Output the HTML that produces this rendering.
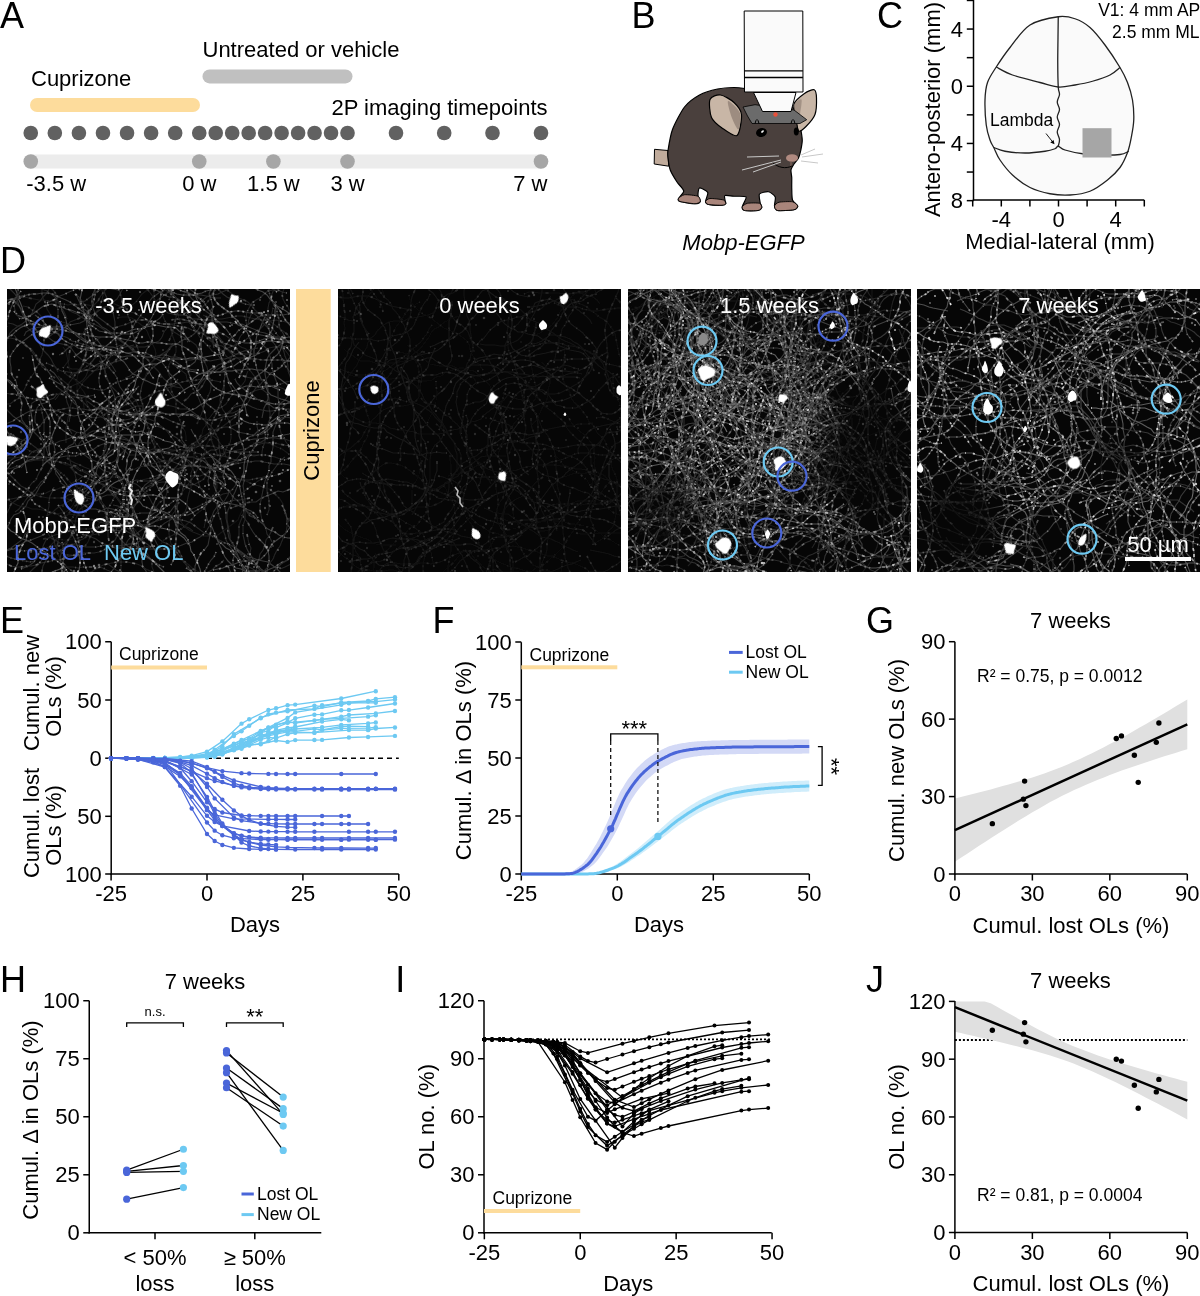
<!DOCTYPE html>
<html><head><meta charset="utf-8"><style>
html,body{margin:0;padding:0;background:#fff;width:1200px;height:1296px;overflow:hidden}
svg{display:block;font-family:"Liberation Sans", sans-serif;will-change:transform}
</style></head><body>
<svg width="1200" height="1296" viewBox="0 0 1200 1296">
<text x="0.00" y="27.90" font-size="36" text-anchor="start" fill="#000" >A</text>
<rect x="202.5" y="69.4" width="150" height="14" rx="7" fill="#c0c0c0"/>
<text x="202.50" y="57.30" font-size="22" text-anchor="start" fill="#000" >Untreated or vehicle</text>
<text x="31.00" y="86.30" font-size="22" text-anchor="start" fill="#000" >Cuprizone</text>
<rect x="30" y="98" width="170" height="14" rx="7" fill="#fddc9c"/>
<text x="547.50" y="115.00" font-size="22" text-anchor="end" fill="#000" >2P imaging timepoints</text>
<circle cx="30.76" cy="133.00" r="7.3" fill="#616161" />
<circle cx="54.83" cy="133.00" r="7.3" fill="#616161" />
<circle cx="78.90" cy="133.00" r="7.3" fill="#616161" />
<circle cx="102.97" cy="133.00" r="7.3" fill="#616161" />
<circle cx="127.04" cy="133.00" r="7.3" fill="#616161" />
<circle cx="151.11" cy="133.00" r="7.3" fill="#616161" />
<circle cx="175.18" cy="133.00" r="7.3" fill="#616161" />
<circle cx="199.25" cy="133.00" r="7.3" fill="#616161" />
<circle cx="215.72" cy="133.00" r="7.3" fill="#616161" />
<circle cx="232.20" cy="133.00" r="7.3" fill="#616161" />
<circle cx="248.67" cy="133.00" r="7.3" fill="#616161" />
<circle cx="265.14" cy="133.00" r="7.3" fill="#616161" />
<circle cx="281.62" cy="133.00" r="7.3" fill="#616161" />
<circle cx="298.09" cy="133.00" r="7.3" fill="#616161" />
<circle cx="314.56" cy="133.00" r="7.3" fill="#616161" />
<circle cx="331.04" cy="133.00" r="7.3" fill="#616161" />
<circle cx="347.51" cy="133.00" r="7.3" fill="#616161" />
<circle cx="396.00" cy="133.00" r="7.3" fill="#616161" />
<circle cx="444.20" cy="133.00" r="7.3" fill="#616161" />
<circle cx="492.50" cy="133.00" r="7.3" fill="#616161" />
<circle cx="541.00" cy="133.00" r="7.3" fill="#616161" />
<rect x="30.76" y="154.5" width="510.24" height="14" fill="#ececec"/>
<circle cx="30.76" cy="161.50" r="7.3" fill="#a6a6a6" />
<circle cx="199.25" cy="161.50" r="7.3" fill="#a6a6a6" />
<circle cx="273.38" cy="161.50" r="7.3" fill="#a6a6a6" />
<circle cx="347.51" cy="161.50" r="7.3" fill="#a6a6a6" />
<circle cx="541.00" cy="161.50" r="7.3" fill="#a6a6a6" />
<text x="26.30" y="191.30" font-size="22" text-anchor="start" fill="#000" >-3.5 w</text>
<text x="199.25" y="191.30" font-size="22" text-anchor="middle" fill="#000" >0 w</text>
<text x="273.38" y="191.30" font-size="22" text-anchor="middle" fill="#000" >1.5 w</text>
<text x="347.51" y="191.30" font-size="22" text-anchor="middle" fill="#000" >3 w</text>
<text x="547.50" y="191.30" font-size="22" text-anchor="end" fill="#000" >7 w</text>
<text x="631.50" y="27.50" font-size="36" text-anchor="start" fill="#000" >B</text>
<text x="743.5" y="249.5" font-size="22" font-style="italic" text-anchor="middle">Mobp-EGFP</text>
<path d="M668.0,150.5 L654.5,149.3 L654.2,164.0 L668.7,166.2Z" fill="#c0ab9b" stroke="#000" stroke-width="1"/>
<path d="M668.00,150.50 C668.54,147.08 670.52,134.72 672.50,129.50 C674.48,124.28 681.26,111.14 684.50,107.00 C687.74,102.86 695.54,97.16 699.50,95.00 C703.46,92.84 713.36,89.90 717.50,89.00 C721.64,88.10 730.40,87.50 734.00,87.50 C737.60,87.50 743.90,88.46 747.50,89.00 C751.09,89.54 759.49,90.74 763.99,92.00 C768.49,93.26 781.03,96.98 784.99,99.50 C788.95,102.02 795.19,109.94 796.99,113.00 C798.79,116.06 799.36,121.76 799.99,125.00 C800.62,128.24 802.15,136.94 802.24,140.00 C802.33,143.06 801.19,148.34 800.74,150.50 C800.29,152.66 799.30,156.38 798.49,158.00 C797.68,159.62 794.89,162.56 793.99,164.00 C793.09,165.44 791.26,168.38 790.99,170.00 C790.72,171.62 791.65,175.34 791.74,177.50 C791.83,179.66 791.65,185.29 791.74,187.99 C791.83,190.69 791.77,197.83 792.49,199.99 C793.21,202.15 797.56,204.82 797.74,205.99 C797.92,207.16 796.42,209.20 793.99,209.74 C791.56,210.28 779.83,210.94 777.49,210.49 C775.15,210.04 774.76,207.61 774.49,205.99 C774.22,204.37 775.96,198.70 775.24,196.99 C774.52,195.28 770.38,192.10 768.49,191.74 C766.60,191.38 760.48,192.64 759.49,193.99 C758.50,195.34 759.97,201.37 760.24,202.99 C760.51,204.61 762.01,206.59 761.74,207.49 C761.47,208.39 760.06,210.13 757.99,210.49 C755.92,210.85 746.39,210.94 744.50,210.49 C742.61,210.04 742.07,208.36 742.25,206.74 C742.43,205.12 746.99,198.25 746.00,196.99 C745.01,195.73 736.52,196.42 734.00,196.24 C731.48,196.06 726.08,195.04 725.00,195.49 C723.92,195.94 724.91,199.00 725.00,199.99 C725.09,200.98 726.11,203.11 725.75,203.74 C725.39,204.37 724.07,205.15 722.00,205.24 C719.93,205.33 710.48,204.94 708.50,204.49 C706.52,204.04 705.59,202.93 705.50,201.49 C705.41,200.05 708.47,194.11 707.75,192.49 C707.03,190.87 700.67,187.63 699.50,187.99 C698.33,188.35 697.91,193.87 698.00,195.49 C698.09,197.11 700.61,200.50 700.25,201.49 C699.89,202.48 697.43,203.74 695.00,203.74 C692.57,203.74 681.98,202.12 680.00,201.49 C678.02,200.86 678.05,199.75 678.50,198.49 C678.95,197.23 683.93,192.97 683.75,190.99 C683.57,189.01 678.62,184.51 677.00,181.99 C675.38,179.48 671.33,172.88 670.25,170.00 C669.17,167.12 668.27,160.34 668.00,158.00 C667.73,155.66 667.46,153.92 668.00,150.50Z" fill="#4a403d" stroke="#000" stroke-width="1.2"/>
<path d="M797.74,205.99 C797.92,206.95 796.42,209.20 793.99,209.74 C791.56,210.28 779.83,210.94 777.49,210.49 C775.15,210.04 774.31,206.98 774.49,205.99 C774.67,205.00 776.83,202.75 778.99,202.24 C781.15,201.74 790.24,201.34 792.49,201.79 C794.74,202.24 797.56,205.04 797.74,205.99Z" fill="#a9857b" stroke="#000" stroke-width="0.9"/>
<path d="M761.74,207.49 C761.56,208.36 760.06,210.13 757.99,210.49 C755.92,210.85 746.39,210.94 744.50,210.49 C742.61,210.04 741.89,207.61 742.25,206.74 C742.61,205.88 745.43,203.71 747.50,203.29 C749.57,202.88 757.78,202.79 759.49,203.29 C761.20,203.80 761.92,206.63 761.74,207.49Z" fill="#a9857b" stroke="#000" stroke-width="0.9"/>
<path d="M725.75,203.74 C725.57,204.37 724.07,205.15 722.00,205.24 C719.93,205.33 710.48,204.94 708.50,204.49 C706.52,204.04 705.32,202.21 705.50,201.49 C705.68,200.77 707.84,198.67 710.00,198.49 C712.16,198.31 721.61,199.36 723.50,199.99 C725.39,200.62 725.93,203.11 725.75,203.74Z" fill="#a9857b" stroke="#000" stroke-width="0.9"/>
<path d="M700.25,201.49 C699.89,202.39 697.43,203.74 695.00,203.74 C692.57,203.74 681.98,202.12 680.00,201.49 C678.02,200.86 677.96,199.30 678.50,198.49 C679.04,197.68 682.16,195.01 684.50,194.74 C686.84,194.47 696.11,195.43 698.00,196.24 C699.89,197.05 700.61,200.59 700.25,201.49Z" fill="#a9857b" stroke="#000" stroke-width="0.9"/>
<path d="M710.00,99.50 C711.26,96.35 717.14,94.58 720.50,95.00 C723.86,95.42 731.06,99.77 734.00,102.50 C736.94,105.23 741.08,109.88 741.50,114.50 C741.92,119.12 739.73,133.61 737.00,135.50 C734.27,137.39 725.57,130.52 722.00,128.00 C718.43,125.48 713.18,121.49 711.50,117.50 C709.82,113.51 708.74,102.65 710.00,99.50Z" fill="#c8b6a6" stroke="#000" stroke-width="1.2"/>
<path d="M728.00,101.00 C729.15,100.37 738.53,109.01 740.00,113.00 C741.47,116.99 739.65,128.87 738.50,129.50 C737.34,130.13 733.22,121.49 731.75,117.50 C730.28,113.51 726.84,101.63 728.00,101.00Z" fill="#8a7a70" opacity="0.7"/>
<path d="M793.99,104.00 C795.15,100.64 801.66,95.49 804.49,93.50 C807.33,91.50 812.56,89.12 814.24,89.75 C815.92,90.38 816.39,94.53 816.49,98.00 C816.60,101.46 816.46,110.51 814.99,114.50 C813.52,118.49 808.30,124.19 805.99,126.50 C803.68,128.81 799.86,132.26 798.49,131.00 C797.13,129.74 796.87,121.28 796.24,117.50 C795.61,113.72 792.84,107.36 793.99,104.00Z" fill="#c8b6a6" stroke="#000" stroke-width="1.2"/>
<path d="M793.99,105.50 C794.52,101.93 800.65,98.24 801.49,99.50 C802.33,100.76 800.52,110.93 799.99,114.50 C799.47,118.07 798.58,126.26 797.74,125.00 C796.90,123.74 793.47,109.07 793.99,105.50Z" fill="#8a7a70" opacity="0.6"/>
<path d="M743.0,107.0 L755.0,104.7 L794.0,110.0 L806.7,119.7 L800.0,123.5 L752.0,123.5 L747.5,116.0Z" fill="#6b6b6b" stroke="#000" stroke-width="0.8"/>
<circle cx="775.50" cy="114.50" r="2.2" fill="#e8503a" />
<path d="M755.0,123.5 q2,-8 4,0 M791.0,123.5 q2,-8 4,0" stroke="#000" stroke-width="1" fill="none"/>
<ellipse cx="761.5" cy="132.5" rx="5.5" ry="4.5" fill="#000" transform="rotate(-15 761.5 132.5)"/>
<ellipse cx="762.5" cy="131.5" rx="1.6" ry="0.9" fill="#fff" transform="rotate(-40 762.5 131.5)"/>
<ellipse cx="796.3" cy="131.5" rx="2.5" ry="4" fill="#000"/>
<ellipse cx="792" cy="158" rx="6" ry="3.8" fill="#b08a80"/>
<line x1="791.00" y1="161.00" x2="791.00" y2="167.00" stroke="#8a6a60" stroke-width="1" />
<path d="M772,162 C778,168 786,169 792,166" stroke="#000" stroke-width="1" fill="none"/>
<line x1="747.00" y1="157.00" x2="779.00" y2="156.00" stroke="#c8c8c8" stroke-width="1" />
<line x1="742.00" y1="170.00" x2="781.00" y2="160.00" stroke="#c8c8c8" stroke-width="1" />
<line x1="753.00" y1="172.00" x2="781.00" y2="162.00" stroke="#c8c8c8" stroke-width="1" />
<line x1="801.00" y1="155.00" x2="815.00" y2="149.00" stroke="#c8c8c8" stroke-width="1" />
<line x1="802.00" y1="157.00" x2="823.00" y2="154.00" stroke="#c8c8c8" stroke-width="1" />
<line x1="801.00" y1="161.00" x2="818.00" y2="163.00" stroke="#c8c8c8" stroke-width="1" />
<path d="M753.5,92.5 L796,92.5 L791,111.5 L762.5,111.5 Z" fill="#fafafa" stroke="#000" stroke-width="1"/>
<path d="M744.2,11 L802.8,11 L803,92 L744.5,92 Z" fill="#fafafa" stroke="#000" stroke-width="1"/>
<line x1="744.30" y1="70.80" x2="802.90" y2="70.80" stroke="#000" stroke-width="1.3" />
<line x1="744.30" y1="77.50" x2="802.90" y2="77.50" stroke="#000" stroke-width="1.3" />
<text x="877.00" y="27.90" font-size="36" text-anchor="start" fill="#000" >C</text>
<path d="M1058.25,16.75 C1050.75,17.79 1038.04,19.88 1030.00,25.00 C1021.96,30.12 1015.62,40.50 1010.00,47.50 C1004.38,54.50 1000.00,61.17 996.25,67.00 C992.50,72.83 989.38,77.00 987.50,82.50 C985.62,88.00 985.21,92.92 985.00,100.00 C984.79,107.08 985.42,118.33 986.25,125.00 C987.08,131.67 988.75,136.25 990.00,140.00 C991.25,143.75 992.08,144.17 993.75,147.50 C995.42,150.83 996.88,155.42 1000.00,160.00 C1003.12,164.58 1007.50,170.42 1012.50,175.00 C1017.50,179.58 1023.75,184.38 1030.00,187.50 C1036.25,190.62 1043.33,192.50 1050.00,193.75 C1056.67,195.00 1063.33,195.42 1070.00,195.00 C1076.67,194.58 1083.75,193.75 1090.00,191.25 C1096.25,188.75 1102.50,183.96 1107.50,180.00 C1112.50,176.04 1116.67,172.08 1120.00,167.50 C1123.33,162.92 1125.62,157.50 1127.50,152.50 C1129.38,147.50 1130.21,142.92 1131.25,137.50 C1132.29,132.08 1133.54,126.25 1133.75,120.00 C1133.96,113.75 1133.54,106.25 1132.50,100.00 C1131.46,93.75 1129.58,87.92 1127.50,82.50 C1125.42,77.08 1123.75,73.75 1120.00,67.50 C1116.25,61.25 1110.00,51.67 1105.00,45.00 C1100.00,38.33 1095.00,31.88 1090.00,27.50 C1085.00,23.12 1080.29,20.54 1075.00,18.75 C1069.71,16.96 1065.75,15.71 1058.25,16.75Z" fill="#fafafa" stroke="#222" stroke-width="1.3"/>
<path d="M996.25,67.00 C998.96,68.33 1005.21,72.42 1012.50,75.00 C1019.79,77.58 1032.38,80.50 1040.00,82.50 C1047.62,84.50 1052.42,86.58 1058.25,87.00 C1064.08,87.42 1069.29,85.96 1075.00,85.00 C1080.71,84.04 1086.67,82.92 1092.50,81.25 C1098.33,79.58 1105.42,77.29 1110.00,75.00 C1114.58,72.71 1118.33,68.75 1120.00,67.50" fill="none" stroke="#222" stroke-width="1.3"/>
<path d="M993.75,147.50 C995.62,148.12 999.79,150.33 1005.00,151.25 C1010.21,152.17 1018.33,153.00 1025.00,153.00 C1031.67,153.00 1040.00,151.96 1045.00,151.25 C1050.00,150.54 1052.79,149.58 1055.00,148.75 C1057.21,147.92 1056.58,146.04 1058.25,146.25 C1059.92,146.46 1060.96,148.75 1065.00,150.00 C1069.04,151.25 1076.67,152.92 1082.50,153.75 C1088.33,154.58 1093.75,154.88 1100.00,155.00 C1106.25,155.12 1115.21,155.12 1120.00,154.50 C1124.79,153.88 1127.29,151.79 1128.75,151.25" fill="none" stroke="#222" stroke-width="1.3"/>
<path d="M1058.25,16.75 C1058.21,20.21 1058.08,29.88 1058.00,37.50 C1057.92,45.12 1057.71,54.25 1057.75,62.50 C1057.79,70.75 1057.96,81.67 1058.25,87.00 C1058.54,92.33 1059.67,92.00 1059.50,94.50 C1059.33,97.00 1057.25,99.50 1057.25,102.00 C1057.25,104.50 1059.50,107.00 1059.50,109.50 C1059.50,112.00 1057.25,114.50 1057.25,117.00 C1057.25,119.50 1059.50,122.00 1059.50,124.50 C1059.50,127.00 1057.25,129.50 1057.25,132.00 C1057.25,134.50 1059.33,137.12 1059.50,139.50 C1059.67,141.88 1058.46,145.12 1058.25,146.25" fill="none" stroke="#222" stroke-width="1.3"/>
<rect x="1082.5" y="128.2" width="29" height="29.3" fill="#a6a6a6"/>
<text x="990.00" y="126.00" font-size="17.5" text-anchor="start" fill="#000" >Lambda</text>
<line x1="1046.00" y1="133.50" x2="1053.50" y2="143.00" stroke="#000" stroke-width="0.9" />
<path d="M1054.5,144.2 L1050.3,142.6 L1053.6,140 Z" fill="#000"/>
<line x1="973.50" y1="0.00" x2="973.50" y2="200.60" stroke="#000" stroke-width="1.5" />
<line x1="972.75" y1="200.00" x2="1144.30" y2="200.00" stroke="#000" stroke-width="1.5" />
<line x1="966.80" y1="0.45" x2="973.50" y2="0.45" stroke="#000" stroke-width="1.5" />
<line x1="966.80" y1="29.05" x2="973.50" y2="29.05" stroke="#000" stroke-width="1.5" />
<line x1="966.80" y1="57.65" x2="973.50" y2="57.65" stroke="#000" stroke-width="1.5" />
<line x1="966.80" y1="86.25" x2="973.50" y2="86.25" stroke="#000" stroke-width="1.5" />
<line x1="966.80" y1="114.85" x2="973.50" y2="114.85" stroke="#000" stroke-width="1.5" />
<line x1="966.80" y1="143.45" x2="973.50" y2="143.45" stroke="#000" stroke-width="1.5" />
<line x1="966.80" y1="172.05" x2="973.50" y2="172.05" stroke="#000" stroke-width="1.5" />
<line x1="966.80" y1="200.65" x2="973.50" y2="200.65" stroke="#000" stroke-width="1.5" />
<line x1="972.70" y1="200.00" x2="972.70" y2="206.50" stroke="#000" stroke-width="1.5" />
<line x1="1001.30" y1="200.00" x2="1001.30" y2="206.50" stroke="#000" stroke-width="1.5" />
<line x1="1029.90" y1="200.00" x2="1029.90" y2="206.50" stroke="#000" stroke-width="1.5" />
<line x1="1058.50" y1="200.00" x2="1058.50" y2="206.50" stroke="#000" stroke-width="1.5" />
<line x1="1087.10" y1="200.00" x2="1087.10" y2="206.50" stroke="#000" stroke-width="1.5" />
<line x1="1115.70" y1="200.00" x2="1115.70" y2="206.50" stroke="#000" stroke-width="1.5" />
<line x1="1144.30" y1="200.00" x2="1144.30" y2="206.50" stroke="#000" stroke-width="1.5" />
<text x="963.00" y="36.85" font-size="22" text-anchor="end" fill="#000" >4</text>
<text x="963.00" y="94.05" font-size="22" text-anchor="end" fill="#000" >0</text>
<text x="963.00" y="151.25" font-size="22" text-anchor="end" fill="#000" >4</text>
<text x="963.00" y="208.45" font-size="22" text-anchor="end" fill="#000" >8</text>
<text x="1001.30" y="226.80" font-size="22" text-anchor="middle" fill="#000" >-4</text>
<text x="1058.50" y="226.80" font-size="22" text-anchor="middle" fill="#000" >0</text>
<text x="1115.70" y="226.80" font-size="22" text-anchor="middle" fill="#000" >4</text>
<text x="1060.00" y="248.50" font-size="22" text-anchor="middle" fill="#000" >Medial-lateral (mm)</text>
<text transform="translate(940.20,109.50) rotate(-90)" x="0" y="0" font-size="22" text-anchor="middle" fill="#000">Antero-posterior (mm)</text>
<text x="1200.30" y="16.30" font-size="17.5" text-anchor="end" fill="#000" >V1: 4 mm AP</text>
<text x="1199.60" y="37.50" font-size="17.5" text-anchor="end" fill="#000" >2.5 mm ML</text>
<text x="0.00" y="273.00" font-size="36" text-anchor="start" fill="#000" >D</text>
<rect x="296" y="289" width="34.7" height="283" fill="#fddc9c"/>
<text transform="translate(318.80,430.50) rotate(-90)" x="0" y="0" font-size="22" text-anchor="middle" fill="#000">Cuprizone</text>
<defs><path id="A0" d="M86 32l-3 -4l-5 -2l-4 -2l-5 -1l-5 -2l-5 -1l-4 -2l-5 -1l-5 -2l-5 1l-5 2l-4 3l-4 3l-4 3l-5 1l-4 2"/><path id="A1" d="M42 167l-2 -5l-1 -4l-3 -5l-3 -4l-3 -3l-4 -4l-4 -3l-4 -3l-4 -3l-4 -3l-4 -3l-3 -3l-4 -4l-3 -3l-4 -3l-4 -4l-3 -4l-3 -4l-3 -4l-4 -3l-3 -4l-4 -3l-5 -2l-3 -4l-4 -2l-4 -3l-3 -4l-3 -4l-2 -5l-4 -3l-4 -3l-3 -4l-5 -2l-4 -3l-4 -2"/><path id="A2" d="M209 263l-2 5l-3 3l-3 5l-2 4l-3 5l-3 3l-2 5l-3 3l-3 5l-3 4l-2 4l-3 4l-3 4l-4 4l-3 4l-2 4l-3 4l-4 3l-3 4l-3 4l-4 3l-4 3l-4 3l-4 4l-4 2l-4 4l-3 3l-4 3l-3 4l-3 4l-3 4l-3 4l-4 3l-3 4l-2 5l-1 4l1 5l1 5l-1 5l-1 5l1 5"/><path id="A3" d="M91 1l4 -2l5 -3l4 -3l3 -3l4 -4l5 -2l3 -4l2 -4l1 -5l0 -5l1 -5l1 -5l3 -4l3 -4l2 -5l3 -4l2 -4l1 -5l0 -5l0 -5l-1 -5"/><path id="A4" d="M250 147l4 -3l4 -3l3 -4l3 -4l4 -3l4 -3l5 -1l5 0l5 -1l4 -1l5 -2l4 -3l4 -3l4 -4l4 -3l3 -3l4 -4l4 -2l4 -4l2 -4l-1 -5l0 -5l3 -5l2 -4l2 -5l3 -4l2 -4l4 -4l3 -4l4 -2l5 -2l4 -2l4 -3l4 -4"/><path id="A5" d="M232 89l2 -5l2 -4l2 -5l3 -4l2 -5l1 -4l0 -5l0 -5l-2 -5l-2 -4l-4 -4l-3 -4l-3 -4l-4 -3l-3 -4l-4 -3l-4 -3l-4 -3l-3 -4l-2 -5l1 -4l1 -5l2 -5l3 -4l3 -4l2 -4l1 -5l0 -5l2 -5l1 -5l1 -5l1 -5l-1 -4l-3 -5l-3 -3l-5 -2l-5 -1"/><path id="A6" d="M228 32l3 4l5 2l4 3l4 2l5 2l5 1l5 1l5 1l4 2l5 0l5 1l5 1l5 -2l4 -3l5 -2l3 -4l4 -3l3 -4l2 -4"/><path id="A7" d="M115 108l-2 4l-2 5l-3 4l-2 5l-1 5l0 5l1 4l1 5l1 5l2 5l2 4l0 5l-1 5l-1 5l-3 4l-2 5l-4 3l-5 2l-4 3l-4 3l-4 3l-5 2l-4 2l-5 2l-4 2l-5 1l-4 3"/><path id="A8" d="M-3 229l1 5l2 4l4 4l4 2l4 4l4 2l5 2l4 2l4 3l4 3l5 3l4 3l4 2l4 4l4 3l3 3l3 4l3 5l1 4l2 5"/><path id="A9" d="M288 67l3 4l3 4l4 3l2 5l3 4l3 4l2 4l5 2l4 3l5 2l5 0l5 0l5 -1l4 -1l5 -3l4 -1l5 -3l3 -4l2 -4l1 -5l2 -5l2 -4l2 -5l3 -4l3 -4l5 -2l4 -2l4 -3l5 0l5 -1l5 0"/><path id="A10" d="M120 2l-2 -5l-2 -4l-3 -4l-2 -5l-3 -4l-1 -5l-1 -5l0 -5l0 -5l2 -4l4 -4l3 -4l3 -4l4 -2l5 -2l5 -1l5 -1l5 0l5 -1l4 -2l5 -1l5 0l5 1l5 1l5 2l4 2l5 2l4 2l5 2l4 3l5 2l4 1l5 1l5 0l5 -1l4 -3"/><path id="A11" d="M243 209l-5 1l-5 1l-5 0l-4 1l-5 2l-5 1l-4 3l-3 4l-2 5l-2 4l1 5l0 5l-1 5l-1 5l-1 5l-3 4l-4 4l-2 4l-2 4l-2 5l0 5l0 5l0 5l0 5l1 5l2 4l2 5l3 4l3 4l2 5l4 3l3 4l2 4l3 5l3 3l4 4l5 1l5 1l5 0"/><path id="A12" d="M89 189l-2 -5l-2 -4l0 -5l-1 -5l-2 -5l-2 -4l-2 -5l-2 -4l-2 -5l0 -5l0 -5l2 -5l4 -3l4 -3l4 -3l3 -4l3 -4l4 -3l4 -3l4 -3"/><path id="A13" d="M174 183l-1 5l0 5l-1 5l-1 5l0 5l-1 5l0 5l1 5l0 5l0 5l0 5l-1 5l-1 5l0 5l-1 4l1 5l-1 5l-2 5l-2 4"/><path id="A14" d="M73 1l-3 -4l-2 -5l-3 -4l-3 -4l-5 -2l-3 -4l-2 -4l-4 -3l-5 -2l-5 -1l-4 -1l-5 -1l-5 0l-5 0l-5 0l-5 2l-5 1l-4 4l-3 3l-4 3l-4 3"/><path id="A15" d="M194 22l-3 -4l0 -5l-2 -5l-1 -5l1 -5l-1 -5l-1 -4l-1 -5l0 -5l-1 -5l-1 -5l0 -5l0 -5l0 -5l-1 -5l-3 -4"/><path id="A16" d="M141 165l-3 4l-3 4l-2 5l-3 4l-2 4l-2 5l-1 5l0 5l-1 5l-1 4l-2 5l0 5l0 5l-1 5l1 5l2 4l3 5l0 5l1 5l3 4l3 4l4 3l4 3l4 3l3 3l4 4l3 3l4 4l4 3l4 3l4 2l4 3l4 4l3 4l3 4l4 3l3 3l5 3l5 0l5 -1l4 -1l4 -4l4 -3l4 -2"/><path id="A17" d="M72 84l2 -5l2 -4l3 -4l4 -3l4 -3l3 -4l5 -2l4 -2l4 -3l4 -4l4 -3l4 -2l5 -2l5 -2l4 -1l5 0l5 -2l5 -1l5 -1l5 1l5 1l5 0l5 1l3 3l5 3l3 4l3 4"/><path id="A18" d="M270 3l-4 -3l-4 -3l-4 -3l-5 -2l-4 -2l-5 -1l-5 0l-5 0l-5 -1l-5 -1l-5 -1l-5 -2l-4 -2l-3 -4l-5 -3l-4 -2l-5 -2l-3 -4l-3 -4l-4 -3l-4 -2l-4 -3l-4 -3l-4 -3l-5 -2l-4 -2l-5 -2l-5 0l-5 0l-5 -1l-5 0l-5 -2l-4 -3l-3 -3l-3 -4l-2 -5l-2 -4"/><path id="A19" d="M130 236l5 2l5 0l5 -1l5 0l4 2l5 1l5 1l4 2l5 3l4 3l3 4l3 4l1 5l3 4l2 5l2 4l2 5l1 5l-2 4l-1 5l0 5l-1 5l0 5l0 5"/><path id="A20" d="M255 129l1 -5l1 -5l2 -4l2 -5l0 -5l0 -5l-1 -5l-1 -5l-1 -5l0 -5l1 -5l1 -5l2 -4l4 -4l3 -3l4 -3l4 -3"/><path id="A21" d="M59 154l0 -5l0 -5l0 -5l1 -5l1 -5l1 -5l1 -5l1 -4l2 -5l3 -4l2 -5l3 -4l2 -4l4 -4l3 -3l4 -4l4 -3l3 -4l3 -4"/><path id="A22" d="M57 125l-4 3l-2 5l-2 4l-2 5l-2 5l-1 4l-2 5l0 5l1 5l1 5l1 5l3 4l3 4l3 4l3 4l3 4l3 4l3 4l2 4l3 5l5 2l4 3l4 2l5 0l5 2l5 1l5 0l5 2l4 2l5 1"/><path id="A23" d="M294 194l-4 3l-5 2l-4 2l-5 2l-5 -1l-4 2l-5 2l-5 2l-4 2l-4 3l-5 0l-5 1l-5 2l-5 1l-4 2"/><path id="A24" d="M275 216l2 4l2 5l1 5l0 5l3 4l2 5l2 5l2 4l-1 5l-1 5l-3 4l-3 4l-5 2l-4 2l-4 3l-5 2l-4 2l-4 4l-4 3l-5 1l-4 2l-5 0l-5 -1l-5 0l-5 0l-5 -1l-5 0l-5 0l-5 -1l-5 -1l-5 -1l-4 -2l-4 -3l-5 -3"/><path id="A25" d="M251 229l-3 -4l-4 -3l-5 -2l-4 -2l-5 -2l-5 -1l-5 -1l-5 0l-4 -2l-5 -2l-5 -1l-5 -1l-4 -3l-4 -2l-5 -3l-4 -2l-4 -3l-5 -1l-5 -1l-4 -3l-4 -3l-3 -4l-3 -5l-2 -4l-3 -4l-3 -4l-2 -4l-4 -4l-2 -4l-2 -5l0 -5"/><path id="A26" d="M232 276l5 1l5 1l4 2l4 3l5 2l5 2l3 4l4 3l3 3l5 3l4 2l5 2l5 2l4 1l5 1l5 2l4 2l5 1l5 2l5 2l3 3l3 5l2 4l0 5l2 5l2 4l3 4l2 5l3 4l4 3l5 2l4 2l5 2l5 0"/><path id="A27" d="M242 64l-3 -4l-5 -2l-4 -3l-3 -3l-5 -3l-4 -3l-4 -2l-5 -2l-5 -2l-4 -1l-5 -2l-5 -2l-5 -1l-5 -1l-5 1l-5 0l-4 1l-5 0l-5 0l-5 -1l-5 -1l-5 -1l-4 -3l-5 -2l-4 -3l-5 -1l-4 -3l-4 -2l-5 -2l-5 -2l-4 -2l-5 -1"/><path id="A28" d="M215 63l4 -3l4 -2l5 -2l5 -2l4 -2l4 -3l4 -3l4 -4l4 -2l4 -4l3 -3l3 -4l2 -5l1 -5"/><path id="A29" d="M218 131l1 -5l4 -3l3 -4l5 -2l5 -1l5 0l4 2l5 2l5 1l5 1l5 0l5 -1l4 -1l4 -4l4 -3l4 -3l4 -2l5 -2l4 -2l5 -1l5 0l5 2l5 2l4 1l5 3l3 3l3 4l2 5l3 4l4 3l2 5l4 3l3 4l3 4l3 4l4 3l4 3l4 3l3 4l2 5"/><path id="A30" d="M232 108l-4 -3l-3 -4l-2 -4l-2 -5l-1 -5l-2 -5l-1 -5l-1 -4l-3 -4l-3 -4l-5 -3l-3 -4l-3 -3l-4 -4l-3 -4l-2 -4l-3 -4l-3 -4l-1 -5l1 -5l-1 -5l0 -5"/><path id="A31" d="M16 222l2 5l1 5l2 4l1 5l-2 5l-1 5l-3 4l-2 4l-2 5l-1 5l0 5l-2 4l-2 5l-2 5l-2 4l-1 5l-1 5l-2 5l0 5l1 5l0 5l1 5l1 4l1 5l1 5l1 5l1 5l1 5l2 5l1 4l1 5l4 4"/><path id="A32" d="M279 57l3 4l3 4l3 4l4 3l4 3l2 4l4 4l4 3l4 3l5 1l5 1l5 0l5 0l5 0l5 -1l5 1l5 0"/><path id="A33" d="M148 257l-5 1l-5 0l-5 1l-5 1l-5 0l-5 -1l-5 0l-5 0l-4 -2l-5 -1l-5 1l-5 1l-5 0l-5 0l-5 -1l-5 -1l-5 0l-5 -1l-5 0l-4 -3l-5 -2l-3 -4l-2 -4l-1 -5l-1 -5l2 -5l1 -5l1 -5l0 -5l1 -5l2 -4l2 -5"/><path id="A34" d="M-8 66l0 -5l-3 -4l-3 -4l-3 -4l-3 -4l-4 -3l-3 -4l-3 -5l0 -4l-3 -5l-2 -4l-4 -3"/><path id="A35" d="M208 182l0 5l-1 5l0 5l2 5l3 4l2 4l3 4l1 5l1 5l0 5l1 5l1 5l0 5l1 5l3 4l2 4l2 5l2 5l2 4l2 5l1 5l-1 5l-1 5l0 5l-1 4l-1 5l0 5l0 5l0 5l1 5l3 4l2 5l3 3l4 4l4 3l5 2l4 3l3 4l2 5"/><path id="A36" d="M289 296l5 -1l5 0l4 -2l5 -3l3 -3l3 -4l3 -4l4 -4l4 -3l2 -4l2 -5l1 -5l1 -5l1 -5l1 -5l3 -4l4 -3l3 -4l4 -3l4 -3l4 -2l5 -2l5 -1l5 -1l5 -1l4 -2l5 -2l5 -1l5 -1l4 -3l5 -1l4 -3l3 -4l3 -4l3 -4l4 -3l4 -3l4 -3l3 -4l3 -4l3 -4"/><path id="A37" d="M175 166l2 -4l4 -4l4 -3l5 -2l4 -2l4 -2l5 -3l4 -2l4 -3l4 -3l4 -3l4 -3l4 -3l4 -3l2 -5l3 -4l1 -5l3 -4l1 -5l2 -5l2 -4l3 -4l4 -4"/><path id="A38" d="M255 -13l2 -5l1 -5l2 -4l-1 -5l0 -5l0 -5l-1 -5l-1 -4l0 -5l-1 -5l0 -5l0 -5l-4 -4l-4 -3l-4 -3l-5 -2l-4 -1l-5 -2l-4 -3l-5 -2l-4 -2l-4 -3l-3 -4l-4 -3l-3 -4l-5 -3l-4 -1l-5 -2l-4 -2l-5 -3l-4 -2l-4 -3l-4 -3l-5 -2l-4 -2l-3 -4l-4 -4l-3 -3l-4 -4l-3 -4l-4 -3"/><path id="A39" d="M156 1l-2 4l-1 5l-1 5l-2 5l-3 4l-2 4l-3 5l-3 4l-4 3l-3 3l-2 5l-3 4"/><path id="A40" d="M258 28l-2 4l-2 5l-2 5l-2 4l-1 5l0 5l-2 5l0 5l1 5l1 5l1 5l2 4l2 5l4 3l1 5l2 5l3 3l5 2l5 2l4 1l5 2l5 0l5 1l5 2l4 3l4 2l5 2l5 2"/><path id="A41" d="M254 53l3 4l4 4l1 4l2 5l1 5l0 5l2 4l1 5l2 5l1 5l0 5l0 5l1 5l0 5l0 5l-1 5l-1 4l-2 5l-2 5l0 5l0 5l0 5l-1 5l-1 5l0 5l-2 4l0 5l-2 5l-2 5l-1 4l-1 5l-1 5l-1 5l-1 5l0 5l1 5l1 5l2 4l2 5l1 5l3 4l2 4"/><path id="A42" d="M173 82l-4 3l-4 3l-4 3l-2 5l-2 4l-1 5l-2 5l-2 4l-1 5l-1 5l-2 5l0 5l-2 4l-2 5l-2 4l-1 5l0 5l1 5l-1 5l2 5l2 5l4 3l4 3l3 3l5 2l5 0l5 2"/><path id="A43" d="M233 129l4 3l5 2l5 1l5 0l4 1l5 0l5 -1l5 -1l5 0l5 0l5 2l4 2l5 2l4 4l4 2l4 3l4 3l3 4l3 4l3 4l1 5l0 5l0 5l1 5l1 5l2 5l1 5l2 4l-2 5l-2 4l-4 4l-2 5l-2 4l-2 5"/><path id="A44" d="M48 42l4 3l4 2l5 2l4 3l5 1l5 2l5 1l4 3l4 2l4 3l4 3l4 3l3 4l3 4l3 5"/><path id="A45" d="M280 4l-5 -1l-4 -2l-5 0l-5 1l-4 3l-4 4l-4 2l-4 3l-3 5l-2 4l-1 5l0 5l1 5"/><path id="A46" d="M60 30l-2 -5l-2 -4l-3 -4l-2 -5l-3 -4l-4 -3l-4 -3l-5 -2l-5 -1l-4 -2l-5 -2l-4 -1"/><path id="A47" d="M86 58l3 4l3 4l2 4l1 5l2 5l2 5l1 4l2 5l2 5l2 4l2 5l0 5l1 5l0 5l1 5l1 5l0 4l1 5l1 5l0 5l-1 5l0 5l0 5l-1 5l-1 5l-2 5l-2 4l-3 4l-5 2l-5 1l-5 1l-4 1l-5 2l-5 -1l-5 -2"/><path id="A48" d="M-10 238l-1 5l-2 4l-3 5l-2 4l-2 5l-3 4l-2 4l-2 5l-3 4l-5 2l-4 3l-4 4l-4 2l-5 2l-5 0l-4 2l-5 2l-3 4l-4 3l-4 3"/><path id="A49" d="M248 272l-5 -2l-4 -3l-4 -2l-4 -3l-3 -4l-5 -2l-5 -2l-4 -2l-4 -2l-5 -3l-4 -2l-5 -2l-4 -3l-4 -3l-4 -3l-5 -2l-4 -1l-5 -1l-5 -1l-5 0l-5 1l-5 2l-4 1l-5 3l-4 3l-4 3l-4 3l-4 2l-4 4l-2 4l-3 4l-1 5l-1 5l-3 4"/><path id="A50" d="M216 67l1 -5l1 -5l3 -4l3 -4l4 -3l3 -4l4 -3l4 -2l4 -3l4 -3l5 -3l4 -2l5 0l5 0l5 0l5 0l5 -1l5 -2l5 -1l5 1l4 1l5 2l5 -1l5 1l5 -1l5 0l5 1l5 0l5 1l5 0l5 1l5 1l4 3l4 3l3 3l4 4l4 3l3 3l5 1l5 1l5 2"/><path id="A51" d="M143 -8l3 4l4 2l5 2l5 -1l5 2l5 -1l5 2l5 1l4 2l5 2l4 3l4 3l2 4l3 4l4 4l2 5l4 3l3 3l4 4l3 4l3 4l3 4l5 1l5 1l5 0l5 -1l4 -1l5 -2l5 -1l5 -1l5 0l5 1l5 -1l5 0l5 1l5 0l5 -1"/><path id="A52" d="M177 132l-2 5l-1 4l0 5l1 5l3 4l2 5l1 5l-2 5l-1 4l-1 5l-2 5l-3 4l-3 4l-3 3l-4 3l-5 3l-3 3l-4 4l-2 4l-2 5l-2 4l-2 5l-1 5l-1 5l-1 5l-2 4l-2 5"/><path id="A53" d="M231 207l4 -3l4 -3l4 -3l4 -3l4 -3l4 -2l5 -1l5 -2l5 -1l5 -2l4 -2l4 -2l5 -2l4 -3l4 -3l5 -2l4 -3l4 -2l4 -3l3 -4"/><path id="A54" d="M236 121l-4 2l-4 3l-5 2l-5 -1l-5 2l-5 2l-5 0l-5 -1l-5 0l-4 -1l-5 -3l-5 0l-5 0l-5 -1l-5 1l-5 -1l-5 -2l-5 1l-5 0l-5 0l-5 0l-5 1l-4 1l-5 -1l-5 0l-5 -1"/><path id="A55" d="M123 181l5 -1l4 -2l5 -1l5 -1l5 -2l5 -1l5 -1l5 0l5 -1l4 -2l4 -3l5 -1l4 -4l3 -3l3 -4l2 -5l3 -4l1 -5l3 -4l2 -5l3 -4l3 -4l4 -3l4 -2l4 -3l3 -5l3 -4l3 -4l4 -3l3 -3l3 -4l1 -5l2 -5"/><path id="A56" d="M297 165l-5 2l-4 1l-5 1l-5 2l-5 -1l-5 -2l-5 -1l-4 -1l-5 0l-5 0l-5 0l-5 2l-5 2l-4 3l-4 2l-5 2l-5 0l-5 0l-5 -2"/><path id="A57" d="M123 179l-1 5l-1 5l-1 5l-2 4l-1 5l-1 5l0 5l-1 5l-2 5l0 5l-1 4l-2 5l-1 5l0 5"/><path id="A58" d="M104 -13l4 -4l2 -4l3 -4l2 -4l2 -5l4 -3l4 -3l4 -3l4 -3l5 -2l5 -2l4 -2l5 -1l5 -2l4 -3l4 -2l5 -1l5 0l5 0l5 1l5 0l5 -2l5 -1l5 -1l4 -2l5 -2l4 -2l4 -3l5 -1l5 -1l5 1l5 1l5 0l5 0l5 0l5 0l5 -1"/><path id="A59" d="M258 23l-5 1l-5 0l-5 0l-5 -1l-5 -1l-5 0l-5 1l-4 1l-5 2l-5 1l-5 -1l-4 -3l-4 -3l-3 -4l-4 -3l-4 -3l-3 -4l-2 -5l-2 -4l-1 -5l-3 -5l-3 -3l-2 -5l-4 -4l-3 -4l-4 -3l-4 -1l-5 -3l-4 -2"/><path id="A60" d="M269 16l-1 5l0 5l-1 5l-1 5l-1 5l-2 4l-3 4l-2 5l-3 4l-3 4l-3 4l-5 2l-4 1l-5 3l-4 2l-4 3l-5 1l-5 2l-4 3l-5 0l-5 1l-5 0l-5 1l-5 -2l-5 -1l-4 -2l-5 -2l-5 -2l-4 -2"/><path id="A61" d="M73 13l5 -1l4 -3l4 -3l4 -3l4 -3l2 -4l3 -5l2 -4l4 -4l4 -2l3 -4l3 -4l2 -5l4 -3l4 -3l3 -5l2 -4l4 -3l4 -3l4 -3l5 -2l5 -1l4 -2l5 -2l4 -2l5 -2l4 -3l4 -3l3 -4l2 -4l2 -5l3 -4l3 -4l4 -3l4 -3l4 -2l4 -4l4 -3l2 -5"/><path id="A62" d="M245 21l-1 5l-2 4l-1 5l-2 5l-3 4l-3 4l-2 5l-2 4l-2 5l-2 5l-2 4l-4 3l-4 4l-4 2l-4 3l-5 2l-3 3l-4 4l-3 4l-2 4l0 5l2 5l2 5l2 4l2 5l1 5l0 5l2 4l2 5l3 4l4 3l3 4l3 4l1 5l2 5"/><path id="A63" d="M178 104l-2 -4l-3 -4l-4 -4l-3 -4l-3 -3l-3 -5l-3 -4l-3 -4l-4 -2l-5 -2l-5 0l-5 -1l-5 0l-5 0l-5 0l-5 1l-5 -1l-4 -2l-5 -2l-4 -3l-3 -4l-3 -4l-4 -4l-2 -4l-2 -5l-2 -4l0 -5l1 -5l2 -5l2 -4l1 -5l1 -5l0 -5l1 -5"/><path id="A64" d="M124 161l-2 5l-2 4l0 5l-1 5l1 5l1 5l1 5l0 5l1 5l0 5l1 5l2 4l2 5l2 5l2 4l3 4l4 3l3 4l2 5l0 5l2 4l3 5l2 4l2 5"/><path id="A65" d="M151 162l-5 1l-5 0l-5 -2l-4 -2l-4 -3l-4 -3l-4 -3l-4 -2l-5 -1l-5 -1l-5 -2l-5 -1l-5 -1l-5 0l-4 2l-4 3l-3 4l-3 4l-1 5"/><path id="A66" d="M108 39l5 -2l4 -1l5 -2l5 -2l4 -1l5 0l5 1l5 0l5 2l5 1l5 0l5 1l5 1l5 1l5 1l4 2l5 1l5 2l4 3l4 2l3 4l4 3l5 1l5 3l4 2l4 3l5 0l5 0l5 0l5 0l5 -1l5 -2l4 -3l5 -1l5 0l5 0l5 -1l5 0l4 1l5 1l5 0l5 1"/><path id="A67" d="M154 201l3 -4l2 -4l4 -4l3 -3l5 -2l4 -3l4 -3l5 -3l4 -1l4 -3l4 -4l3 -3l5 -3l5 0l4 -3l5 -1l5 -1l5 -1l4 -2l5 -2l5 0l5 -1l5 0l5 -1l5 0l5 -1l5 -1l5 -1l5 -1l4 -2l5 -2l4 -2l5 -2l5 -1l5 -1l5 -1l5 0l5 1l4 1l5 2"/><path id="A68" d="M268 15l3 4l3 4l2 4l3 5l3 3l3 4l4 4l4 3l2 4l3 4l4 4l4 2l5 2l4 1l5 1l5 1l5 2l5 0l4 3l5 2l5 2l4 1l5 3l4 1l5 3l3 4l3 3l4 3l4 3l5 3l4 2l5 2l4 2l5 2l4 3l4 2l5 2l5 2l5 1"/><path id="A69" d="M289 201l-2 -5l0 -5l1 -5l0 -5l-1 -4l-1 -5l-1 -5l-2 -5l-1 -5l-3 -4l-2 -4l-3 -5l-1 -4l-1 -5l0 -5l0 -5"/><path id="A70" d="M153 259l-3 -4l-2 -4l-3 -5l-3 -4l-4 -2l-4 -4l-4 -3l-3 -3l-4 -4l-4 -3l-4 -3l-4 -3l-5 -1"/><path id="A71" d="M207 246l3 4l2 5l2 4l2 5l2 4l3 4l4 4l4 3l5 1l4 2l5 0l5 0l5 0"/><path id="A72" d="M72 149l5 -2l5 -1l5 1l4 2l5 2l4 2l5 1l5 0l5 3l4 2l5 2l4 1l5 1l5 1l5 0l5 0l5 -2l4 -2l5 -1l5 -3"/><path id="A73" d="M184 93l3 -4l4 -3l4 -2l5 -1l5 -1l5 1l5 0l5 -1l5 0l5 -1l5 0l5 -1l5 0l5 1l5 0l5 2l4 2l5 2l4 3l4 3l4 3l4 3l2 5l4 2l4 3l5 3l4 2l4 3l4 3l4 3l4 3l4 3l4 3l2 5l1 5l2 4l1 5l3 4l4 3l4 4l3 3"/><path id="A74" d="M215 -1l3 -4l3 -4l3 -4l4 -3l4 -3l4 -4l3 -3l5 -2l4 -3l4 -3l4 -3l4 -2l5 -1l5 0l5 0l5 2l5 1l4 3l5 1l4 2l5 2l4 3l5 2l4 2l4 3l4 3l3 4l3 4l3 4l2 5l2 4l2 5l1 5l3 4l2 5l3 4l2 4l2 5l3 4l3 4"/><path id="A75" d="M205 -10l-1 5l0 5l-2 5l2 5l1 4l1 5l-1 5l0 5l0 5l-1 5l1 5l1 5l0 5l1 5"/><path id="A76" d="M-13 175l4 -4l4 -2l5 -2l4 -2l4 -3l4 -3l4 -3l4 -3l3 -4l2 -5l1 -5l-1 -5l0 -5l-1 -5l-1 -5l-2 -4l-2 -5l-3 -4l-3 -4l-3 -3l-4 -4l-3 -3l-5 -3l-4 -3l-4 -2l-3 -5l-2 -4l-2 -5"/><path id="A77" d="M94 170l-4 -4l-3 -4l-3 -3l-2 -5l-3 -4l-1 -5l-1 -5l-2 -4l-2 -5l-2 -5l0 -5l-1 -4l-2 -5l-4 -4l-3 -3l-3 -4l-2 -5l-3 -4l-3 -4l-3 -4l-4 -3"/><path id="A78" d="M20 184l-1 -5l-1 -5l-1 -5l-2 -4l-3 -4l-2 -5l-4 -3l-2 -5l-3 -4l-2 -4l-2 -5l-1 -5l0 -5l0 -5l0 -5l-1 -5l-1 -5l0 -5l-1 -5l0 -5l-1 -4l-3 -4l-3 -5"/><path id="A79" d="M208 77l-4 3l-4 3l-3 3l-3 5l-3 4l-5 1l-4 2l-5 3l-4 3l-3 3l-5 2l-5 2l-4 2l-5 1l-4 3l-4 3l-4 3l-4 3l-3 4l-3 4l-2 5l-2 4l-1 5l-2 5l-2 4l-2 5l-1 4l-2 5"/><path id="A80" d="M88 106l-5 1l-5 1l-5 1l-5 -1l-5 -1l-5 -1l-4 -1l-5 0l-5 1l-5 2l-5 1l-4 2l-5 3l-1 5l-1 5l-1 5l1 5"/><path id="A81" d="M12 105l-3 -4l-3 -4l-4 -4l-3 -3l-3 -4l-2 -5l-3 -3l-4 -4l-3 -4l-3 -4l-2 -4l-2 -5l-3 -4l-3 -4l-4 -3l-4 -3l-3 -4l-3 -4l-2 -4l-1 -5l-2 -5l-2 -4l-2 -5l-2 -4l-2 -5l-2 -4l-2 -5l-2 -5l-2 -4l-3 -4l-4 -3"/><path id="A82" d="M254 24l4 3l3 4l2 4l3 5l3 4l3 4l1 5l2 4l3 4l3 4l3 4l3 4l5 2l4 2l5 2l5 2"/><path id="A83" d="M27 35l-5 0l-5 2l-4 2l-4 3l-4 4l-4 2l-4 4l-3 3l-5 2l-4 3l-4 2l-5 0l-5 0l-5 0l-5 -1l-5 -1l-5 -2l-5 -1l-5 -1l-4 -2l-5 -1l-5 -3l-3 -3l-4 -3l-4 -3l-5 -2"/><path id="A84" d="M137 255l-3 -4l-4 -4l-4 -2l-3 -4l-4 -3l-5 -2l-3 -4l-4 -3l-3 -4l-3 -4l-3 -4l-3 -4l-2 -5l-3 -4l-2 -4l-2 -5l-2 -5"/><path id="A85" d="M232 171l-5 1l-5 2l-4 1l-5 2l-5 2l-5 0l-4 -1l-5 -1l-5 0l-5 0l-5 0l-5 -1l-5 -2l-5 -2"/><path id="A86" d="M86 62l-5 -1l-5 -1l-5 -1l-4 -3l-5 -2l-4 -2l-4 -3l-3 -4l-4 -2l-5 -3l-3 -4l-3 -4l-4 -3l-4 -3"/><path id="A87" d="M180 19l-4 -3l-4 -3l-3 -4l-3 -4l-4 -3l-3 -4l-3 -4l-4 -3l-5 -1l-4 -2l-4 -3l-5 -2l-5 -1l-5 0l-4 -1l-5 0l-5 0l-5 -2l-4 -3"/><path id="A88" d="M235 226l3 4l3 4l2 4l3 5l3 4l3 3l4 4l3 4l2 4l1 5l0 5l-1 5l-1 5l0 5l0 5l-2 5l-1 4l-2 5l-1 5l-1 5l1 5l1 5l-1 5l-1 5l-1 5l1 5"/><path id="A89" d="M288 231l0 5l-2 5l1 5l1 5l3 4l3 3l4 4l3 3l4 3l5 3l4 1l5 0l5 0l5 0l5 2l5 1l5 0l5 -2l4 -2l4 -4l2 -4l4 -4l2 -4l4 -3l5 -2l4 -2"/><path id="A90" d="M108 131l5 1l5 2l5 0l5 -1l4 -2l5 -1l5 0l5 2l4 3l4 3l4 3l3 4l3 4l3 4l0 5l3 5l3 3l4 3l3 4l3 4l3 5l2 4l2 5l1 4l2 5l3 5l2 4l1 5l-2 5l1 5l0 5l-1 5l-1 5"/><path id="A91" d="M115 146l-2 4l-2 5l-1 5l1 5l-1 5l0 5l2 5l3 4l2 4l3 5l2 4l1 5l3 4l3 4l4 3l3 4l5 2l4 2l5 0l5 1l5 2l4 3l3 4l2 5l2 4l3 4l4 3l3 4l2 5"/><path id="A92" d="M291 188l2 -5l0 -5l1 -5l0 -5l2 -4l1 -5l1 -5l-1 -5l-2 -4l-2 -5l0 -5l0 -5l1 -5l-2 -5l-2 -5l0 -5l-2 -4l-1 -5l-1 -5l-2 -5l-1 -4l-2 -5l0 -5l-1 -5l-2 -5l-1 -4l-2 -5l-2 -5l-3 -4l-4 -3l-3 -4l-3 -4l-3 -3l-3 -4l-4 -4l-4 -3"/><path id="A93" d="M-1 72l-5 -1l-5 0l-5 1l-5 -1l-5 0l-5 1l-5 1l-4 1l-5 2l-5 1l-5 1l-4 3l-4 3l-5 2l-4 2l-5 1l-5 0l-5 -1l-5 0l-5 1l-4 2l-5 2l-5 1l-5 0l-5 2l-3 4l-3 4l-1 5l-2 4l-1 5l-2 5l-2 4l-1 5l-2 5l-2 4l-2 5l-2 4l-4 4"/><path id="A94" d="M6 -14l-5 -2l-5 -1l-5 0l-4 -2l-5 0l-5 0l-5 1l-5 1l-4 3l-3 4l-3 4l-3 4l-3 4l-3 4l-2 5l-2 4l-2 5l-1 5l0 5l1 5l1 4l1 5l0 5l-1 5l1 5l0 5l0 5"/><path id="A95" d="M23 284l1 5l2 5l1 4l2 5l2 4l2 5l3 5l2 4l2 4l2 5l1 5l2 5l1 5l1 4l2 5l1 5l3 4l1 5l3 4l3 4l3 4l3 4l3 4l4 3l4 3l4 4l2 4l3 4l4 3l5 2l4 3l4 2l5 2l3 3l5 2l5 2l5 0l4 -1l5 1l5 2l4 3"/><path id="A96" d="M20 37l-1 -5l-1 -5l-2 -5l-1 -4l-2 -5l-2 -4l-1 -5l-2 -5l-4 -3l-4 -3l-5 -1l-4 -2l-5 -2l-5 -2l-5 -1l-5 -1"/><path id="A97" d="M183 295l-2 5l0 5l0 5l0 5l1 5l1 4l3 4l2 5l2 5l1 4l2 5l1 5l2 5l1 4"/><path id="A98" d="M251 150l-1 5l-3 4l-3 4l-2 4l-1 5l-1 5l-1 5l-2 5l0 5l-1 5l1 5l0 5l1 5l0 5l-1 4l-1 5l-2 5l-2 5l0 5l0 5l-1 5l-1 4l-1 5l-1 5l-2 5l0 5l1 5l2 4l3 5l2 4l1 5l1 5l1 5l0 5l-1 5l-1 5"/><path id="A99" d="M38 189l3 -4l2 -4l3 -4l3 -5l3 -4l3 -3l3 -4l4 -4l4 -2l3 -5l4 -3l3 -3l4 -3l4 -4l3 -4l2 -4l2 -5l4 -3l4 -3l4 -3l4 -3l3 -4l5 -1l5 -3l4 -2l5 -2l3 -3"/><path id="A100" d="M36 145l4 3l4 3l3 4l5 2l3 4l5 2l5 1l5 0l5 1l5 0l5 1l4 1l5 1l5 2l4 4l3 3l2 5l2 4l2 5l3 4l1 5l1 5l0 5l0 5l-2 4l-4 4l-3 4l-3 4l-4 3l-4 3l-5 1l-4 3l-4 2l-5 2l-4 3l-5 1"/><path id="A101" d="M199 225l1 5l2 4l3 4l2 5l2 4l2 5l4 3l4 4l4 2l3 4l4 4l2 4l4 4l3 3l4 4l3 4l3 4l4 3l4 3l4 3l4 3l4 3l4 3l4 1l5 2l5 0l5 -2l5 -1l3 -4l5 -1l4 -3l5 -2l5 -2l4 -2l5 -1l5 -2"/><path id="A102" d="M-4 251l-4 3l-5 2l-5 1l-5 1l-4 2l-4 2l-4 4l-2 4l-2 5l-2 5l-2 4l0 5l0 5l-1 5l-1 5l-3 4l-3 4l-4 3l-3 4l-1 5l-2 4l-3 5l-2 4l-1 5l-1 5l0 5l0 5l-1 5l-3 4l-3 4l-3 4l-4 3l-4 2"/><path id="A103" d="M-10 98l3 4l5 2l5 1l5 0l4 2l5 1l5 1l5 1l5 0l5 1l4 2l3 4l2 4l3 4l4 4l3 3l4 4l2 4l3 5"/><path id="A104" d="M230 192l-2 5l-3 4l-4 3l-5 1l-4 2l-5 2l-4 2l-5 3l-4 2l-4 2l-5 2l-4 3l-5 2l-5 2l-4 2l-4 2l-5 3l-4 3l-3 4l-4 3l-4 2l-5 3l-4 2l-4 3l-3 3l-4 3l-5 3l-4 3"/><path id="A105" d="M103 101l-1 5l0 5l0 5l0 5l0 5l0 5l0 5l0 5l-1 5l-2 5l-1 4l-1 5l-1 5l-3 4l-2 5l-3 4l-2 4l-3 4l-2 5l-3 4l-1 5l-2 5l-1 5l-2 4l-2 5l-2 4l-2 5l-3 4l-2 4l-3 5l-3 3l-4 4l-3 4l-3 3l-3 4l-3 5l-2 4l-3 4l-3 4l-4 3l-4 4l-4 2"/><path id="A106" d="M188 227l-3 -4l-3 -4l-3 -4l-4 -3l-4 -3l-5 0l-5 0l-5 0l-5 -2l-4 -1l-5 0l-5 1l-5 0l-5 1l-5 -1l-5 -1l-5 -1l-5 -2l-4 -2l-5 -1"/><path id="A107" d="M102 252l-1 -5l0 -5l-1 -5l0 -5l0 -5l0 -5l2 -4l3 -5l2 -4l3 -4l3 -4l4 -3l3 -3l5 -3l5 -1l5 1l5 0l5 0l5 2l5 -1l4 0l5 -1l5 0l5 2l4 3"/><path id="A108" d="M37 168l-5 0l-5 0l-5 0l-5 -1l-4 3l-5 2l-4 3l-3 4l-4 3l-5 2l-4 2l-5 0l-5 0l-5 0l-5 -1l-5 -2l-4 -2l-5 -2l-4 -2l-4 -3l-5 -1l-5 -1l-5 -1l-5 1l-5 1l-5 2l-4 1l-5 2l-5 2l-4 3l-4 3l-2 5l-4 3l-5 2l-4 2l-3 4l-4 4l-4 3"/><path id="A109" d="M91 223l5 -2l4 -2l5 1l5 1l4 3l3 4l3 4l4 4l2 4l2 5l2 4l1 5l1 5l1 5l2 4l0 5l1 5l3 4l1 5l1 5l-1 5l0 5l0 5"/><path id="A110" d="M202 197l-1 -5l1 -5l1 -5l-1 -5l-2 -4l-3 -4l-3 -4l-5 -1l-4 -2l-4 -3l-4 -3l-4 -4l-3 -3l-5 -3l-3 -4l-5 -2l-4 -2l-5 -1l-5 -2l-4 -2l-4 -3l-5 -1l-5 -1l-5 -2l-5 -2l-4 -3l-3 -3l-4 -4l-3 -3l-3 -4l-3 -4l-2 -5l-1 -5l0 -5l1 -4l1 -5l0 -5"/><path id="A111" d="M68 5l4 3l3 4l3 4l3 4l1 5l1 5l-2 5l-1 4l-2 5l0 5l1 5l1 5l-1 5l-1 5l-1 5l-3 4l-3 4l-3 4l-3 4l-3 4l-1 5l-1 4l-1 5l1 5l2 5l1 5l0 5l-1 5"/><path id="A112" d="M212 -5l-1 -5l-1 -5l-2 -4l-2 -5l-2 -4l1 -5l2 -5l1 -5l1 -5l2 -4l3 -5l2 -4l2 -5l2 -4l1 -5l1 -5l0 -5l-1 -5l-1 -5l-1 -5l-2 -4l-2 -5l-2 -5l-1 -4l-1 -5l-1 -5"/><path id="A113" d="M18 7l-5 2l-4 1l-5 2l-4 3l-5 1l-4 3l-3 4l-4 3l-2 5l-2 5l-2 4l0 5l-3 5l-2 4l-4 3l-5 2l-5 0l-5 0l-5 -2l-4 -1l-5 -3l-4 -3l-3 -4l-2 -4l-2 -5l-4 -4l-3 -3l-3 -4l-2 -5l-1 -4l-2 -5l-3 -4l0 -5l-1 -5l-1 -5l-3 -5l-2 -4l-3 -4l-3 -4l-4 -3l-4 -3l-4 -3"/><path id="A114" d="M14 280l5 -2l4 -2l4 -3l3 -4l2 -5l3 -4l2 -5l2 -4l4 -3l5 -2l5 -1l5 -1l4 -2l5 -1l5 -1l5 0l5 0l5 -1l5 -1l5 0l5 0l5 0l5 1l5 -2l5 0l5 0l4 -2l5 1l5 0l5 -2l4 -3l4 -3l4 -3l5 -2l3 -4l3 -4"/><path id="A115" d="M226 162l5 -1l5 -1l5 -1l4 -3l4 -2l5 -1l5 -3l5 -1l5 0l4 1l5 0l5 2l5 1l5 2l3 3"/><path id="A116" d="M218 197l-3 -4l-4 -3l-2 -5l-3 -4l-3 -3l-4 -4l-4 -3l-5 -1l-4 -2l-5 0l-5 0l-5 -1l-5 -2l-5 0l-5 -1"/><path id="A117" d="M82 183l4 -3l4 -3l5 -2l3 -3l3 -4l5 -3l2 -4l0 -5l0 -5l1 -5l0 -5l0 -5l1 -5l1 -5l1 -5l2 -4l3 -4l3 -4l3 -4l3 -4l2 -5l1 -5l2 -4l1 -5l3 -4l5 -2l5 -1l5 0l4 -2l5 -2l5 -1l5 0l5 0l5 0l4 -1l5 0l5 0l5 -1l5 -1l5 -1l5 -1l5 -2"/><path id="A118" d="M284 298l-3 -4l-5 -2l-4 -2l-5 -3l-4 -2l-5 -2l-4 -3l-3 -3l-4 -4l-2 -5l-3 -4l-2 -4l-2 -5l-1 -5l-1 -4l0 -5l0 -5l2 -5l0 -5l0 -5l-1 -5l-1 -5"/><path id="A119" d="M65 147l2 5l2 4l3 4l3 4l4 3l4 3l5 2l4 2l4 2l5 2l4 3l3 4l4 3l3 4l2 5l1 5l1 4l1 5l3 4l2 5l2 5l1 5l1 4"/><path id="A120" d="M53 12l1 5l1 5l2 4l2 5l1 5l3 4l4 4l3 3l4 3l4 3l5 1l5 2l5 1l4 2l5 2l4 2l4 3l3 4l4 3l3 4l3 5l3 3l5 2l4 3l5 2l4 2l5 2l5 1l5 -1l4 0l5 -2l3 -4"/><path id="A121" d="M252 233l-3 -4l-4 -3l-4 -3l-4 -4l-3 -3l-3 -4l-4 -3l-3 -4l-3 -4l-4 -3l-4 -4l-4 -1l-4 -3l-5 -3l-4 -3l-3 -4l-3 -3l-5 -3l-4 -3l-4 -1l-5 -3l-4 -2l-5 -1l-5 -1l-5 -2l-5 0"/><path id="A122" d="M51 216l3 4l3 4l2 5l1 4l1 5l3 4l2 5l2 4l2 5l2 5l0 5l1 5l0 5l-1 5l-3 4l-1 5l-3 4l-5 2l-4 3l-3 4l-4 3l-4 3l-4 3l-4 2l-5 1l-5 1l-5 0l-5 1l-5 1l-5 -1l-5 1"/><path id="A123" d="M58 290l5 1l4 2l4 3l5 1l5 1l5 0l5 -2l4 -3l4 -3l3 -4l3 -4l3 -4l2 -5l3 -4l1 -5l1 -5l0 -5l0 -5l1 -4l2 -5l0 -5l1 -5l0 -5"/><path id="A124" d="M104 192l-4 3l-4 3l-3 4l-3 4l-2 5l-2 4l-4 4l-3 4l-3 4l-1 4l-3 5l-3 4l-2 4l-3 4l-4 4l-4 3l-4 2l-5 0l-5 1l-5 2l-5 0l-5 2l-5 -1l-5 1l-5 -1l-4 -1l-5 0l-5 1l-5 2l-4 3l-4 2l-5 3l-4 2l-4 3l-4 3l-4 3l-5 2l-4 3l-4 2l-4 4l-3 4l-2 4"/><path id="A125" d="M273 280l5 -2l4 -2l5 -2l4 -3l3 -4l3 -3l2 -5l2 -5l3 -4l3 -4l1 -5l1 -5l3 -4l3 -4l3 -4l3 -4l3 -4l3 -3l3 -5l2 -4l4 -4l3 -4l3 -3l5 -3l4 -1l5 -2l5 -1l4 -3l3 -4l4 -4l4 -3l4 -2l4 -3l4 -3l5 -2l4 -3l3 -3l4 -4l4 -3"/><path id="A126" d="M55 253l1 5l0 5l1 5l-1 5l-1 5l0 5l1 5l0 5l0 4l-1 5l-2 5l-2 4l-2 5l-1 5l-1 5l1 4l0 5l-2 5l-1 5l-2 4l-4 4l-2 4l-3 5l-2 4l-3 4l-2 5l-3 4l-2 5"/><path id="A127" d="M292 29l-5 -2l-4 -2l-4 -3l-5 -3l-4 -2l-3 -4l-4 -3l-3 -4l-4 -3l-5 -2l-4 -2l-5 -1l-5 -2l-4 -2l-5 0l-5 0l-5 1l-5 1l-5 2l-4 3l-5 1l-4 2l-5 1l-5 1l-5 0l-5 0l-5 -1l-5 -2l-4 -3l-2 -4l-4 -4l-4 -3l-2 -4"/><path id="A128" d="M202 146l-3 4l-4 3l-3 4l-5 2l-5 0l-5 -1l-5 -1l-4 -2l-5 -2l-5 -1l-4 -2l-5 -2l-5 -2l-5 -1l-4 -3l-5 1l-5 -1l-4 -2l-5 -2l-5 -2l-5 -1l-4 -2l-3 -4"/><path id="A129" d="M273 101l-5 -2l-4 -2l-5 0l-5 1l-5 0l-5 -1l-5 0l-5 2l-5 2l-4 1l-5 2l-5 1l-4 2l-5 2l-5 2l-4 3l-4 2l-4 3l-5 2l-4 2l-5 3l-4 2"/><path id="A130" d="M275 47l1 5l-1 5l-2 5l-3 4l-4 3l-2 4l-3 5l-3 3l-4 3l-4 3l-4 3l-3 4l-2 5l-1 5l-1 5l-2 4l-2 5l-2 4l-1 5l0 5l0 5l0 5l0 5l2 5l2 5l1 4l0 5l1 5l-1 5l0 5l-1 5l-2 5l-2 4"/><path id="A131" d="M90 68l-2 -5l-2 -4l-2 -5l-2 -4l-1 -5l-1 -5l0 -5l-1 -5l-2 -5l-1 -5l-2 -4l-1 -5l1 -5l1 -5l-1 -5l2 -5l1 -5l2 -4l2 -5l3 -4l4 -3l3 -4l3 -4l4 -3l5 0l5 -1"/><path id="A132" d="M38 245l-4 2l-5 2l-5 2l-5 1l-4 3l-4 2l-4 3l-5 1l-5 2l-4 2l-5 1l-5 0l-5 0l-5 -1l-5 -2l-4 -2l-4 -4l-3 -3l-5 -3l-5 -1l-5 0l-5 0l-5 0l-5 0l-4 -1l-5 0l-5 -1l-5 0l-5 0"/><path id="A133" d="M142 143l-5 2l-5 1l-5 0l-4 0l-5 0l-5 0l-5 1l-5 1l-5 0l-5 1l-5 1l-5 2l-4 2l-5 2l-5 1l-5 1l-4 2l-4 2l-5 2l-4 3l-4 3l-4 3l-4 4"/><path id="A134" d="M120 215l0 5l1 5l-1 5l0 5l-4 4l-3 3l-3 5l-2 4l-4 3l-4 4l-3 3l-5 2l-5 1l-5 0l-5 0l-5 1l-4 1l-5 1l-5 2l-5 2l-5 0l-4 1l-5 1l-5 1l-5 2l-5 1l-5 0l-5 1l-5 0l-5 -1l-4 -2l-5 -2l-5 -1l-4 -2l-4 -3"/><path id="A135" d="M297 294l5 -1l5 -1l5 0l5 1l5 0l5 -1l5 -1l4 -3l4 -2l5 -3l3 -3l4 -4l2 -4l4 -4l4 -2l3 -4l3 -4l4 -3l3 -4l3 -4l4 -4l4 -3l3 -4l2 -4l1 -5l2 -5l1 -5l2 -4l2 -5l2 -5l2 -4l2 -5l2 -4l3 -5l2 -4l3 -4l1 -5"/><path id="A136" d="M193 130l-4 -3l-5 -2l-5 0l-5 0l-5 0l-5 0l-5 0l-4 -1l-5 2l-5 0l-5 0l-5 -1l-5 0l-5 -1l-5 -1l-5 -1l-5 -1l-4 -1l-5 -1l-5 0l-5 0l-5 2l-5 0"/><path id="A137" d="M173 160l0 5l2 5l1 5l2 4l0 5l0 5l0 5l-2 5l-1 5l-3 4l-4 3l-4 3l-4 3l-4 3l-5 2l-4 2l-4 3"/><path id="A138" d="M263 85l-3 4l-4 3l-3 4l-4 3l-3 4l-2 5l-2 4l-3 4l-4 3l-5 3l-4 2l-5 0l-5 2l-5 0"/><path id="A139" d="M290 231l4 -3l4 -4l4 -3l4 -2l4 -3l3 -4l3 -4l4 -3l5 -1l5 -1l5 0l5 -1l4 -2l5 -3l4 -2l4 -3l4 -3l5 -1l4 -3l5 -1l5 -2l5 -1l4 -1l5 0l5 -2l5 -1"/><path id="A140" d="M180 23l3 4l3 4l4 3l4 4l3 3l1 5l3 4l4 3l4 4l4 3l3 3l3 4l4 3l2 5l2 5l3 3l4 3l5 2l5 1l5 1l5 1l4 2l4 3l5 1l5 1l5 2l4 3l4 3l3 3l4 4"/><path id="A141" d="M-7 221l0 -5l-2 -5l-2 -4l-1 -5l-2 -5l-2 -4l-3 -4l-2 -5l1 -5l1 -5l3 -4l3 -4l2 -4l0 -5l-1 -5l-1 -5l0 -5l1 -5l1 -5l0 -5l-2 -5l-2 -4l-1 -5l-1 -5l0 -5l-1 -5l-2 -5l-2 -4l-3 -4l-2 -5l-3 -4l-2 -5l-1 -5l1 -4"/><path id="A142" d="M144 32l1 5l1 5l0 5l-1 5l-2 4l-3 4l-2 5l-2 5l0 5l-1 5l-2 4l-3 4l-3 4l-4 3l-3 4l-3 4l-2 4l-3 5l-2 4l-2 5l-2 5l-1 4l-1 5l1 5l1 5l0 5l-2 5l-2 5l-2 4l-2 5l0 5l0 5l-1 5l-3 4l-3 4l-3 4l-3 4l-3 3l-4 4"/><path id="A143" d="M221 255l4 2l5 3l3 3l4 4l4 3l3 4l4 2l4 4l4 3l4 3l4 2l5 3l4 3l4 2l5 1l5 0l5 -1l5 -2"/><path id="A144" d="M283 267l5 0l5 -2l5 0l5 -1l5 0l5 -1l4 -2l5 -1l4 -2l5 -2l5 -1l5 -1l4 -3l4 -3l5 -1l5 -2l4 -2l5 -2l4 -2l5 -3l4 -1l5 -1l5 -1l5 -2l5 -2l4 -1l5 -3l3 -4l3 -4l3 -3l5 -2l5 -1l5 1l4 2l5 3l4 2l4 2l5 2l5 2l4 2l5 3l4 1l5 2l5 2"/><path id="A145" d="M72 19l5 1l4 3l3 4l3 4l4 3l4 4l4 2l4 3l4 2l4 4l4 3l4 3l3 3l4 4l4 2l5 2l5 2l5 0l5 -1l4 -1l5 0l5 2l5 0l5 1l5 2l5 0l5 -1l5 1l5 0l4 1l5 -1l5 -1l5 0l5 -2l5 -2l4 -2l5 -2l5 -1l4 -1l5 -1"/><path id="A146" d="M161 291l-5 -2l-4 -2l-4 -3l-5 -2l-4 -2l-4 -3l-5 -2l-5 -1l-5 -1l-5 0l-5 0l-5 1l-5 1l-4 1l-5 3l-4 2l-4 3l-4 3l-3 4l-3 4l-4 3l-4 3l-3 4l-3 4l-4 4l-4 2l-4 3l-3 4l-3 5l-2 4l-4 4l-1 4l-2 5l-3 4l-1 5l-2 4l-3 4l-4 3"/><path id="A147" d="M39 189l-2 4l-4 4l-2 4l-3 5l-4 3l-3 3l-2 5l-4 4l-3 3l-5 2l-3 4l-2 5l-2 4l-3 4l-3 4l-3 4l-3 4l-4 4"/><path id="A148" d="M160 39l-3 4l-2 5l-3 4l-5 2l-4 2l-5 2l-5 0l-5 0l-5 0l-5 -1l-4 -1l-5 2l-5 1l-5 1l-5 2l-3 3l-3 4l-4 4l-1 5l-2 4l-2 5l-3 4l-4 3l-5 2l-4 2l-4 3l-5 2l-3 4l-3 4"/><path id="A149" d="M111 60l-5 -2l-5 0l-5 -1l-5 0l-4 -3l-5 -1l-4 -2l-4 -3l-4 -3l-5 -2l-4 -3l-5 -2l-5 0l-5 0l-4 1l-5 1l-5 2l-4 2l-5 3l-4 3l-4 3l-4 3l-3 4l-3 4l-2 4l0 5l1 5l0 5l2 5l3 4l1 5l1 4l1 5l2 5l1 5l-1 5l0 5l1 5l3 4l2 4l4 3"/><path id="A150" d="M218 197l0 -5l-2 -5l1 -5l1 -4l2 -5l2 -5l1 -5l2 -4l4 -3l5 -3l4 -2l4 -3l5 -2l3 -3l4 -3l5 -2l4 -3l5 -1l5 -2l4 -3l3 -4l4 -3l4 -3l4 -3l4 -3"/><path id="A151" d="M14 2l-3 4l-3 4l-2 4l-2 5l-2 5l-1 5l-2 4l-1 5l-1 5l0 5l0 5l1 5l2 5l0 5l-1 4l-1 5l0 5l0 5l-2 5l-3 4l-1 5l-1 5l-1 5l-2 4l0 5l-1 5l-2 5l-3 4l-1 5l-1 4l-3 5l-1 5l-3 4l-2 5l-1 4l0 5l-1 5l-2 5l-2 5l-2 4l-2 4l-2 5l-2 5"/><path id="A152" d="M206 281l5 -1l5 -1l4 -2l5 -1l5 -2l5 -2l5 0l5 0l4 -1l5 -1l4 -4l3 -4l2 -4l3 -4l4 -3l4 -3l4 -3l3 -4l3 -4l3 -4l4 -3l1 -5l2 -5l3 -4l3 -4l2 -5l2 -4l3 -4l3 -4l3 -4l4 -3l5 -1"/><path id="A153" d="M204 167l4 3l4 3l3 4l5 2l4 3l3 4l2 4l3 4l1 5l1 5l1 5l1 5l1 5l3 4l3 4l5 2l4 3l4 3l3 4l4 2l5 2l4 3l4 2l5 1l5 0l5 -1l5 0l5 1l5 2l4 3l3 4l4 3l4 3l4 2l4 3l4 4l3 4l4 3l3 4l3 4l3 4"/><path id="A154" d="M277 -13l4 -2l5 -2l4 -3l3 -4l2 -5l2 -5l3 -4l3 -4l3 -4l4 -3l3 -3l3 -4l1 -5l0 -5l1 -5l2 -5l1 -4l2 -5l2 -5l1 -5l1 -5l1 -4l2 -5l1 -5l0 -5l0 -5l2 -4l0 -5l0 -5l-1 -5l0 -5l0 -5l-1 -5l0 -5l-3 -5l-2 -4l-2 -5"/><path id="A155" d="M192 81l-5 0l-5 -1l-5 -1l-4 -3l-4 -3l-4 -2l-5 -2l-5 0l-5 -1l-5 -1l-4 -2l-5 -1l-5 -1l-5 0l-5 1l-5 -1l-5 1l-5 2l-5 0l-5 1l-4 -2l-4 -3l-5 -3l-4 -1l-5 -1l-5 -1l-5 1l-4 3l-4 4l-4 2"/><path id="A156" d="M56 82l5 1l5 1l5 -1l5 -1l4 -1l5 -2l4 -3l4 -2l5 -3l2 -4l5 -2l4 -3l4 -3l4 -3l3 -4l3 -4l1 -5l2 -5l2 -4l3 -4l3 -4l3 -4l2 -5l3 -4l3 -4l4 -3l4 -3l4 -2l5 -2l5 -2l5 -1l4 -2l4 -3l4 -3l4 -3l4 -3l5 -2l4 -2l5 -2l4 -2"/><path id="A157" d="M240 127l-1 -5l-1 -5l-2 -5l-3 -4l-2 -4l-3 -4l-3 -4l-3 -4l-2 -5l-1 -5l-1 -5l-1 -4l-3 -5l-1 -4l-2 -5l-1 -5l-1 -5l-2 -4l-3 -5l-3 -4l-4 -3l-3 -3l-4 -4l-3 -4l-3 -3l-4 -3l-5 -3l-4 -3l-4 -2l-5 0l-5 -2l-4 -3l-4 -2l-5 -1"/><path id="A158" d="M222 138l4 2l5 3l5 1l5 1l4 1l5 0l5 -1l5 -3l3 -3l3 -4l4 -3l4 -3l5 -1l5 1l5 0l5 1l5 1l5 1l5 1l4 1l5 3l5 2l4 2l5 1l5 -1"/><path id="A159" d="M282 284l5 2l4 2l5 2l5 1l4 2l5 2l5 1l5 -2l4 -1l5 -1l5 0l5 -1l5 -1l4 -3l5 -2l5 -1l5 1l5 0l5 0l4 -2l5 -2l5 -2l5 -1l4 -1l5 -2l5 -1l5 -1l5 1l5 0l5 -1l5 2l4 1l5 2"/><path id="A160" d="M193 45l-4 -3l-3 -4l-3 -4l-2 -5l-2 -4l-3 -4l-3 -4l-2 -5l-3 -4l-4 -3l-4 -3l-4 -3l-4 -3l-4 -3l-3 -4l-3 -3l-4 -4l-4 -3l-4 -2l-5 -3l-3 -4l-2 -4l-2 -5l-3 -4l-3 -4l-4 -2l-5 -2l-5 -1l-5 -1l-5 -1l-4 0l-5 -1l-5 1l-5 0l-5 -1l-5 2l-5 1l-5 2l-4 2"/><path id="A161" d="M240 245l1 5l1 5l2 4l-1 5l0 5l-1 5l-1 5l-1 5l1 5l1 5l1 5l-1 5l0 5l1 5l2 4l2 5l2 5l1 5l1 5l0 5l0 5l-2 4l-2 5"/><path id="A162" d="M281 -14l-4 3l-3 4l-3 4l-4 3l-2 5l-1 5l-2 4l-1 5l0 5l0 5l1 5l0 5l1 5l2 5l1 5"/><path id="A163" d="M42 147l3 4l2 5l1 5l-1 5l-1 4l1 5l1 5l1 5l3 4l2 5l4 3l3 4l4 3l5 2l5 1l4 2l5 1"/><path id="A164" d="M212 218l-3 -4l-4 -4l-3 -3l-4 -3l-3 -4l-5 -3l-4 -2l-4 -3l-4 -3l-4 -3l-4 -3l-5 -2l-3 -4l-4 -3l-4 -3l-4 -3l-3 -3l-5 -3l-4 -3l-5 -2l-4 -2l-5 -2l-4 -2l-5 -1l-5 -2l-4 -2l-5 -1l-4 -3l-5 -3l-3 -3l-4 -3l-3 -4l-4 -3l-3 -4l-3 -4l-4 -3l-4 -4l-2 -4l-4 -3l-4 -3l-4 -3l-3 -4l-2 -5l-2 -4l-3 -4"/><path id="A165" d="M212 124l-4 -3l-4 -3l-4 -3l-3 -4l-3 -4l-3 -4l-2 -4l-3 -4l-2 -5l-2 -5l-1 -4l-1 -5l-1 -5l-2 -5l-2 -5l0 -5l0 -4l-1 -5l0 -5l1 -5"/><path id="A166" d="M39 81l-4 -3l-2 -5l-2 -4l-3 -4l-3 -4l-4 -3l-4 -4l-4 -2l-5 -2l-5 -1l-5 0l-5 0l-5 0l-5 1l-5 0l-5 1l-4 -1l-5 1l-5 1l-5 0l-5 -2l-4 -3l-5 -2l-4 -2l-5 -2l-4 -3l-4 -2l-2 -5l-2 -5l-2 -4l1 -5l0 -5l0 -5l-2 -5l-1 -5l-2 -5l-3 -3l-5 -2l-4 -3l-5 -1l-5 -1l-5 1l-5 -1l-4 -2"/><path id="A167" d="M231 197l-3 -4l-4 -3l-4 -3l-3 -4l-4 -3l-4 -4l-2 -4l-2 -4l-4 -4l-4 -4l-3 -3l-3 -4l-2 -5l-3 -4l-2 -4"/><path id="A168" d="M17 47l2 -4l5 -3l4 -1l5 -1l5 1l5 0l5 0l5 -2l5 -1l5 0l5 -1l5 -1l4 -2l4 -3l4 -3l5 -3l4 -3l4 -2l5 -2l3 -3l4 -3l3 -5l2 -4l3 -4l3 -4l4 -4l4 -3l4 -2l5 -2l5 -1l5 0l5 0"/><path id="A169" d="M201 19l-3 -4l-3 -4l-4 -3l-3 -4l-4 -3l-4 -3l-3 -4l-3 -4l-3 -4l-2 -5l-2 -4l-1 -5l-1 -5l-2 -5l-3 -4l-3 -3l-4 -4l-4 -3l-4 -3l-4 -2l-5 -1l-5 1l-5 2l-4 2l-4 2l-5 2l-5 1l-5 2l-5 1l-5 1l-5 0l-4 0l-5 0l-5 0l-5 -1l-5 -2l-4 -2l-5 -2"/><path id="A170" d="M207 17l-3 4l-1 5l-3 4l-2 5l-1 4l-1 5l-1 5l-2 5l-1 5l-1 5l-1 4l-2 5l-4 3l-4 2l-5 2"/><path id="A171" d="M17 28l-2 -4l-2 -5l-2 -5l-1 -5l-2 -4l-4 -4l-4 -3l-3 -4l-2 -5l-1 -4l-2 -5l-2 -4"/><path id="A172" d="M230 198l-2 5l-2 4l-1 5l-2 5l-2 4l-1 5l0 5l1 5l1 5l1 5l0 5l3 4l3 4l4 3l4 3l4 3l5 1l5 2l5 1l5 1l4 3l4 3l3 3l4 4l3 4l3 4l2 4l1 5l2 5l2 4l4 4l4 3l3 3l4 4l4 3l4 2l5 1l5 1l5 2l4 1l5 1l5 2l5 0"/><path id="A173" d="M194 50l0 5l0 5l1 5l-1 5l1 5l1 5l1 5l3 4l3 4l3 4l4 3l4 2l5 2l5 1l5 1l5 0l5 1l4 2l5 1l5 1l5 2l5 1l4 1l5 0l5 0l5 -1l5 0"/><path id="A174" d="M88 210l3 -4l5 -2l4 -3l3 -4l4 -3l4 -2l5 -2l2 -5l3 -4l3 -4l1 -5l3 -3l1 -5l1 -5l1 -5l2 -5l2 -4l2 -5l1 -5l1 -5l-1 -5"/><path id="A175" d="M65 242l5 1l5 2l4 1l5 2l5 2l4 3l4 2l5 1l5 1l5 0l5 -1l5 -1l5 0l4 3l5 2l5 0l5 0l5 0l5 0l5 0l5 0l4 -2l5 -2l5 -2l5 -1l4 -3l4 -2l4 -3l3 -4l3 -5l2 -4l2 -5l3 -4l3 -4l2 -4l3 -4l3 -5l1 -4"/><path id="A176" d="M156 25l-3 4l-4 3l-5 2l-4 3l-4 2l-5 3l-4 2l-5 1l-5 0l-5 -1l-5 0l-5 0l-5 -1l-5 -1l-4 -3l-4 -3l-3 -3l-2 -5l-2 -5l-1 -5l-3 -4l-2 -4l-2 -5"/><path id="A177" d="M219 195l-4 3l-2 4l-4 4l-3 4l-4 3l-4 3l-4 3l-4 2l-5 3l-4 2l-5 0l-5 1l-5 0l-5 1l-5 0l-5 0l-5 0l-5 2l-5 2l-5 0"/><path id="A178" d="M7 22l3 4l5 2l5 2l4 2l5 2l4 2l5 2l4 2l5 0l5 0l5 1l5 2l5 0l5 2l5 0l4 2l5 0l5 1l5 0l5 0l5 0l5 1l5 1l5 1l5 1l5 2l5 0l4 -1l5 0l5 1l5 0l5 1l5 0l5 0l5 2l4 2l4 3l4 3l5 2l5 2l4 3"/><path id="A179" d="M264 -9l2 -5l1 -4l2 -5l3 -4l3 -4l4 -3l4 -2l4 -4l3 -4l4 -4l3 -3l4 -4l4 -2l3 -4l3 -4l3 -4"/><path id="A180" d="M37 151l-3 -4l-2 -5l-1 -5l-3 -4l0 -5l1 -5l1 -4l3 -4l5 -1l4 -3l5 -2l3 -4"/><path id="A181" d="M57 277l-4 3l-5 2l-4 2l-5 2l-4 3l-4 3l-3 4l-2 4l-3 5l0 5l-1 5l1 5l1 4l2 5l2 5l1 5l0 5"/><path id="A182" d="M56 79l3 -4l3 -4l0 -5l1 -5l2 -4l4 -3l4 -4l2 -4l3 -5l2 -4l2 -5l4 -3l2 -5l3 -3l2 -5l2 -5l1 -5l-1 -5l-1 -5l0 -5l0 -5l0 -5l-1 -5l-2 -4l-2 -5l-3 -4l-3 -3l-4 -4l-4 -2l-5 -2l-4 -3l-5 -2l-4 -3l-3 -4l-4 -2"/><path id="A183" d="M7 -10l4 -3l4 -3l5 -2l5 -1l5 -1l4 2l5 2l5 1l5 -1l5 0l5 1l4 2l5 2l5 1l5 1l4 1l5 2l5 1l5 1l4 3l5 1l5 1l5 -2l5 -1l4 -2l5 -2l4 -2l5 -3l4 -2l5 -2l4 -1"/><path id="A184" d="M196 165l5 0l5 0l5 1l5 1l4 1l5 2l5 1l5 0l4 -2l4 -4l3 -4l2 -4l2 -5l1 -5l0 -5l-1 -5l0 -5"/><path id="A185" d="M231 114l-4 3l-3 4l-4 3l-4 4l-2 4l-2 4l-3 4l-3 5l-2 4l-3 4l-2 5l-1 5l-2 4l-2 5l-2 5l-2 4l-2 5l-3 4l-3 4l-3 4l-3 4l-2 4l-3 5l-2 4l-1 5l1 5l0 5l0 5l0 5l-1 5l1 4"/><path id="A186" d="M287 122l-5 -2l-5 0l-5 -1l-5 0l-4 -3l-4 -3l-5 -1l-4 -2l-4 -3l-4 -3l-4 -3l-4 -3l-4 -4l-2 -4"/><path id="A187" d="M292 21l1 5l2 5l2 4l0 5l-1 5l-1 5l-2 4l-3 5l-3 4l-3 4l-3 4l-4 3l-3 4l-4 3l-4 2l-5 2"/><path id="A188" d="M211 212l-1 5l1 5l1 5l2 4l1 5l1 5l2 5l1 5l2 4l3 4l3 4l4 4l2 4l2 5l2 4l2 5l2 4l3 4l1 5l3 4l1 5l2 5l2 4l2 5l2 5l3 3l4 4l2 4l1 5l1 5"/><path id="A189" d="M284 111l2 -5l0 -5l1 -5l1 -4l3 -4l4 -4l4 -3l4 -3l4 -3l3 -4l4 -2l4 -4l4 -2l5 -1l5 -1l5 -1l5 -1l5 -1l4 -3l4 -2l5 -1l5 -2l5 -1l5 -1l4 -1l5 -1l5 1l4 3l4 3l4 3l4 3l4 3l4 2l5 -1l5 0l5 0l5 -1l5 0l5 0l5 -1l5 -1l5 -2"/><path id="A190" d="M67 68l4 -3l4 -3l4 -3l5 0l5 1l5 0l5 0l5 1l5 1l5 0l5 2l5 1l4 3l3 3l4 4l3 4l4 3l2 4l3 4"/><path id="A191" d="M294 185l2 4l3 5l1 5l-1 5l0 5l-2 5l1 4l0 5l0 5l0 5l0 5l0 5l-3 5l-3 4l-1 5l-3 4l-2 4l-4 4l-3 3l-5 3l-3 3l-4 4l-3 4l-3 3l-4 4l-4 3l-4 3l-4 3l-3 4l-3 4l-2 5l-4 3"/><path id="A192" d="M80 187l-5 1l-4 3l-4 2l-5 3l-4 2l-5 1l-5 2l-5 1l-4 2l-5 1l-5 0l-5 1l-5 1l-5 1l-5 1l-5 1l-4 1l-5 2l-4 3l-4 3l-2 5l-3 3l-4 4l-3 4l-3 4l-3 4l-2 4l-4 4l-3 4l-3 4l-4 3l-5 1l-4 3l-3 3l-3 5l-2 4l-4 4l-3 4l-2 4l-3 4l-5 3l-4 3l-4 3"/><path id="A193" d="M42 89l4 2l5 3l4 2l4 3l5 3l4 3l4 1l5 1l5 2l4 3l5 2l3 3l4 3l4 3l5 2l4 3l4 4l3 3l3 4l3 4l2 4l1 5l2 5l2 4l3 5l3 4l1 5l3 4l3 4l2 5l2 4l2 5l2 4l3 5l2 4l0 5l-3 4l-1 5l-4 3l-4 3l-4 2"/><path id="A194" d="M252 163l-5 0l-5 0l-5 0l-5 0l-5 0l-5 -1l-4 -2l-5 -1l-5 -1l-5 -1l-5 0l-5 -1l-5 0l-4 2l-5 3l-3 4l-5 1l-4 3l-4 4l-3 3l-4 4l-2 4l-3 4l-4 3l-5 2l-4 3l-3 4l-2 4l-1 5l-2 5l-3 4l-1 5l-1 5l1 5l0 5l0 5l-1 5l1 5l-2 4l-3 4l-2 5"/><path id="A195" d="M285 224l-2 5l-2 4l-1 5l-1 5l-2 4l-2 5l-2 5l-3 4l-2 4l-2 5l-3 4l-2 4l-4 4l-3 3l-5 2l-4 4l-3 3l-3 4l-3 4l-3 4l-4 3l-2 5l-1 5l-3 4l-3 4l-4 3l-4 3l-3 4l-3 4"/><path id="A196" d="M101 275l4 3l4 3l4 2l5 1l5 0l5 1l5 1l5 0l5 2l4 2l5 1l5 2l5 2l4 2l4 2l3 4l2 5l2 4l2 5l1 5l2 5l3 4l3 3l5 2l5 2l4 3l4 3l4 2l5 3l3 3l4 4l3 4l3 3l2 5"/><path id="A197" d="M-1 188l3 4l4 3l4 3l4 3l4 3l4 3l3 4l3 4l4 2l5 3l4 3l5 1l4 1l5 3l5 1l4 3l3 4l2 4l1 5l1 5l1 5l2 5l0 5l2 5l1 4l2 5l2 4l1 5"/><path id="A198" d="M94 177l5 -2l5 -1l4 -2l3 -4l4 -4l3 -3l2 -5l3 -4l2 -4l1 -5l1 -5l1 -5l0 -5l0 -5l-3 -5l-3 -3l-4 -3l-4 -4l-3 -4l-3 -3l-4 -4l-2 -4l-3 -4l-1 -5l0 -5l2 -5l1 -4l4 -4l4 -3l4 -3l5 -2l5 -1l4 -1"/><path id="A199" d="M83 28l-4 -3l-4 -3l-4 -3l-4 -3l-4 -3l-4 -2l-5 -2l-4 -2l-5 -2l-5 -1l-5 0l-5 1l-5 0l-5 1l-5 1l-5 1l-4 2l-5 1l-5 0l-5 0l-5 1l-5 1l-5 2l-5 -1l-5 0l-5 -1l-5 0l-4 2l-5 1l-5 3l-4 2l-4 2l-5 2l-5 1l-5 -1l-5 1l-5 1l-5 1l-5 0l-5 -1l-5 0l-4 0l-5 0"/><path id="A200" d="M246 55l5 -1l5 -1l5 -1l5 0l5 1l5 0l5 0l5 2l5 0l5 0l4 2l4 3l4 3l3 4l2 5l1 4l0 5l1 5l1 5"/><path id="A201" d="M60 139l5 2l4 2l5 1l4 2l5 1l5 0l5 1l5 0l5 0l5 -3l4 -2l4 -3l5 -2l4 -3l4 -3l5 -2l4 -2l4 -2l5 -3"/><path id="A202" d="M144 154l-5 0l-5 -1l-5 1l-5 0l-5 1l-4 2l-5 2l-5 2l-3 3l-4 3l-3 4l-3 5l-2 4l-1 5l-2 5l-2 4l-3 4l-3 4l-4 3l-5 2l-4 2l-4 3l-5 3l-4 2l-4 3l-3 3l-5 3l-3 4l-4 3l-4 2l-4 3l-4 4l-4 3l-2 5l-4 3l-4 3l-4 3l-4 2"/><path id="A203" d="M13 30l-3 -4l-2 -5l-1 -4l3 -5l1 -5l0 -5l1 -5l2 -4l3 -4l4 -4l3 -3l3 -4l1 -5l0 -5l1 -5l2 -5l1 -5l2 -4l2 -5l3 -4l4 -3l4 -3l5 0l5 1l5 1l5 -1l5 0l5 -1l5 -1l5 -1l5 0l5 -2l5 0l5 1l5 1l4 2l5 2l4 2l5 2l5 0l5 -1l4 -3l3 -4l2 -4"/><path id="A204" d="M24 97l4 3l3 4l1 5l2 5l2 4l3 5l2 4l2 5l0 5l0 5l0 5l-2 4l-3 5l-3 4l-3 4l-3 3l-4 3l-5 2l-4 3l-4 3l-5 2l-3 4l-5 1l-5 0l-5 0l-4 3l-4 3l-3 4l-4 2l-5 3l-3 3l-5 3l-5 1l-4 1l-5 1l-5 -1l-5 -1l-5 1l-5 2l-5 0l-5 1l-5 -1"/><path id="A205" d="M158 -12l4 -3l2 -4l1 -5l1 -5l0 -5l-1 -5l-1 -5l-1 -5l-2 -4l-2 -5l-1 -5l-2 -5l-1 -4l-2 -5l-2 -5l-2 -4l-1 -5l-1 -5l0 -5"/><path id="A206" d="M286 86l3 4l3 4l4 3l5 2l3 3l4 4l2 5l4 3l4 3l4 2l5 1l5 1l5 0l5 1l5 -1l5 -1l5 0l5 1l4 2l5 2l4 2l5 2l4 3l5 1l5 2l4 1l5 3l5 1l5 0l5 1l4 -1l5 -1l5 -1l5 -1l5 -1l5 0l5 0l5 0l5 1l5 1l5 2l4 2l4 3l4 3l2 5"/><path id="A207" d="M40 14l4 -2l5 -2l4 -3l5 -2l4 -2l5 -2l5 -2l3 -3l4 -4l4 -3l5 -1l4 -2l4 -3l5 -2l5 -1l5 1l5 0"/><path id="A208" d="M172 231l2 -4l4 -4l2 -5l0 -5l1 -5l1 -4l2 -5l0 -5l0 -5l0 -5l2 -5l0 -5l1 -5l0 -5l1 -5l2 -4"/><path id="A209" d="M153 85l-2 5l-1 5l-1 4l-2 5l-3 4l-2 5l-2 4l-3 5l-3 3l-3 4l-4 3l-5 2l-5 1l-5 1l-5 0l-5 0l-4 2l-5 2l-4 3l-4 3l-5 2l-5 1l-5 0l-4 -1l-5 -3l-4 -3l-4 -3l-3 -3l-3 -4l-2 -5l-1 -5l-1 -5l-1 -5l-2 -4l-2 -5l-1 -5l-2 -4l-2 -5l-4 -3l-1 -5l-1 -5l-1 -5l-1 -5"/><path id="B0" d="M128 108l-2 -5l-2 -4l-3 -4l-4 -3l-4 -4l-4 -3l-5 -1l-5 1l-4 1l-5 1l-5 1l-5 1l-5 1l-5 1l-5 0l-5 1l-4 -2l-5 -2l-5 -1l-5 -1l-4 1"/><path id="B1" d="M237 115l-2 5l-1 4l-2 5l-1 5l-2 4l-2 5l-3 4l-2 5l-3 3l-3 4l-3 5l-2 4l0 5l-1 5l-1 5l-3 4l-2 5l-3 4l-2 5l-2 4l0 5l-1 5l0 5l0 5l-1 5l0 5l-1 5l0 5l-1 5l-2 5l-1 5l0 5l1 5l1 4l3 4l3 5l1 4l0 5l1 5l1 5l0 5"/><path id="B2" d="M35 29l-4 2l-4 4l-3 4l-3 4l-3 4l-4 2l-5 2l-4 3l-4 3l-4 3l-5 2l-5 1l-5 -1l-5 -1l-5 0l-5 0l-5 0l-5 0l-5 0l-5 0l-5 1l-4 2l-5 2l-5 0l-5 0l-5 0l-5 0l-5 -2l-5 1l-5 1l-5 0"/><path id="B3" d="M188 146l1 -5l-1 -5l0 -5l0 -5l0 -5l1 -5l0 -5l0 -5l2 -5l2 -4l3 -4l3 -4l4 -3l5 -2l5 0l4 -3l5 -2l4 -2l4 -3l5 -1l5 -1l5 0l5 1l5 1l5 0l5 1l4 2l5 2l5 0l5 1l5 0l5 0l5 0l5 0l5 0l5 1l5 -1l4 -3l3 -4l4 -3l4 -3l3 -4l3 -4"/><path id="B4" d="M194 256l5 1l5 0l5 -2l4 -3l4 -3l3 -3l4 -4l3 -3l3 -4l2 -5l3 -4l4 -3l4 -3l3 -4l3 -4l2 -4l3 -5l3 -3l5 -3l4 -1l5 1l5 1l5 0l5 -1l5 1l5 1l5 1l4 3l5 2l4 2l5 0l5 0l5 -1l5 0l5 0l5 0l5 0l5 -1l5 -1l4 -3l4 -3l3 -4l4 -3l2 -5"/><path id="B5" d="M241 165l-1 5l0 5l0 5l1 5l1 5l1 5l1 5l0 5l1 4l0 5l-2 5l-3 4l-4 3l-4 2l-5 1l-5 0l-5 0l-5 2l-4 3l-4 2l-5 1l-5 1l-5 2l-4 2l-4 3l-5 2l-3 4l-4 3l-3 4l-4 4l0 4l0 5l0 5l-2 5l-3 4l-2 4l-2 5"/><path id="B6" d="M161 266l4 -3l4 -3l4 -3l4 -3l5 -2l4 -3l4 -2l4 -3l5 -2l4 -3l4 -2l4 -3l4 -4l4 -3l4 -2l5 -1l4 -2l5 -1l5 0l5 -1l5 -1l5 -2l4 -2l5 -1l5 -2l5 0l5 0l5 -1l5 2l5 0l5 0l4 -2l5 -2l4 -2l5 -1l5 0l5 0l5 0l5 2l5 0"/><path id="B7" d="M90 296l-1 5l0 5l-1 5l0 5l0 5l-1 5l0 5l0 5l1 5l-2 4l-1 5l-1 5l-1 5l-2 4l-4 4l-3 4l-2 4l-3 4l-3 4l-4 4l-4 3l-4 3l-5 2"/><path id="B8" d="M250 17l-3 -4l-3 -4l-3 -4l-2 -4l-2 -5l-3 -4l-3 -4l-3 -4l-2 -5l-1 -5l1 -5l1 -5l-1 -5l2 -4l2 -5l2 -5l2 -4l3 -4l4 -3l3 -4l2 -4l3 -5l2 -4l1 -5l2 -5l3 -4l2 -4"/><path id="B9" d="M166 171l5 0l5 -1l5 0l5 0l5 0l5 -1l4 -2l5 -2l5 -2l4 -2l5 -1l5 -3l4 -2l4 -3l4 -3l4 -2l5 -2l5 -2l5 -1l4 -2l4 -4l3 -3l3 -4l3 -5l2 -4l2 -5l2 -4l1 -5l1 -5l2 -5l1 -5l1 -4l2 -5"/><path id="B10" d="M291 189l-3 -4l-2 -5l-1 -4l-2 -5l-3 -4l-4 -3l-4 -3l-3 -4l-3 -4l-3 -4l-2 -5l-3 -4l-3 -4l-3 -4l-3 -4l-1 -5l0 -5l-1 -5l0 -5l-2 -4l-2 -5"/><path id="B11" d="M85 273l2 -5l1 -5l0 -5l1 -5l0 -5l1 -4l0 -5l0 -5l0 -5l-1 -5l0 -5l1 -5l1 -5l1 -5l0 -5l0 -5l-1 -5l-3 -4l-1 -5l-3 -4l-2 -5l-2 -5l-1 -4l0 -5l2 -5l1 -5l3 -4l4 -3l3 -4l3 -4l4 -2l5 -3l4 -1l5 -3l3 -4l3 -4l3 -3"/><path id="B12" d="M86 85l3 4l4 3l5 2l4 3l5 0l5 -1l5 0l5 1l4 2l4 4l3 3l5 3l4 3l4 2l5 2l4 3l4 3l3 4l4 3l4 3l3 4l2 4l2 5l3 4l3 4l0 5l2 5l1 5l1 5"/><path id="B13" d="M82 27l-5 2l-4 2l-4 3l-4 3l-2 4l-1 5l-1 5l-2 5l-2 5l-2 4l-2 5l-2 4l-1 5l-3 4l-1 5l-1 5l-2 5l0 5l-3 4l-2 5l-3 4l-3 3l-5 3l-3 3l-5 2l-4 3l-5 0l-5 2l-5 1l-5 1l-5 -1l-5 1l-5 1l-4 1l-5 2"/><path id="B14" d="M151 106l5 2l4 2l5 2l5 1l5 1l5 1l4 -1l5 1l5 0l5 0l5 2l5 1l4 3l4 2l5 1l5 1l5 2l5 1l4 3l5 1l5 0l4 -2l5 -1l5 -2l5 1l5 0l5 0l5 -1l4 -2l5 -1l5 1l5 2l5 1l5 -1l4 -2l5 -2l5 0l5 0l5 0l5 0l5 1l5 0l5 1l5 -1l5 0"/><path id="B15" d="M232 237l-3 4l-4 3l-3 4l-3 4l-2 5l-1 5l0 5l0 5l2 5l1 4l3 4l3 5l3 3l5 2l5 -2l5 -1l5 -2l4 -1l5 -1l4 -3l3 -4l4 -4l2 -4l4 -4l3 -3l3 -5l1 -4l0 -5l1 -5l0 -5l0 -5l-1 -5l0 -5l2 -5l3 -4l3 -4l2 -4l1 -5l0 -5l0 -5l-1 -5l-3 -4l-2 -5"/><path id="B16" d="M165 43l-5 0l-4 -2l-5 -2l-4 -3l-4 -3l-3 -4l-2 -5l-1 -4l-1 -5l-1 -5l-1 -5l-2 -5l-2 -4l-3 -4l-3 -4l-4 -3l-4 -3l-4 -3l-4 -3l-3 -4l-1 -5l0 -5l3 -4l4 -4l1 -5l1 -5l1 -5l1 -5l2 -4l1 -5l1 -5l1 -5"/><path id="B17" d="M76 118l-5 0l-5 -1l-5 -1l-5 0l-4 -2l-5 -2l-5 -2l-4 -3l-3 -4l-4 -3l-4 -3l-2 -4l-2 -5l-2 -5l-2 -4l-4 -4l-4 -2l-4 -3"/><path id="B18" d="M93 121l-5 2l-4 2l-4 2l-5 3l-4 2l-4 3l-5 3l-3 3l-3 4l-4 4l-4 2l-5 2l-4 3l-3 4l-2 4l-4 3l-4 3l-4 3l-4 3l-5 1l-5 2l-5 1l-4 3l-3 4l-3 4"/><path id="B19" d="M184 110l5 -1l5 -2l5 0l4 2l4 3l5 2l4 2l5 1l5 1l5 0l5 -1l5 0l5 0l5 -1l5 -1l5 -1l4 -3l5 0l5 0l5 -1l5 0l5 -1l5 -2l5 0l4 -2l5 -2l4 -3l4 -3l3 -4l4 -3l3 -4l4 -3l3 -5l3 -3l5 -2l4 -3l3 -4l3 -4l3 -4l2 -4l2 -5l2 -5l3 -4"/><path id="B20" d="M130 -11l-5 -2l-3 -4l-4 -3l0 -5l-2 -5l-1 -5l-3 -4l-4 -2l-5 -2l-5 -1l-4 2l-5 1l-5 1l-5 1l-5 2l-5 -1l-5 1l-4 1l-5 2l-5 2l-5 1l-4 1l-5 1l-5 2l-4 3l-5 1l-5 2l-4 2"/><path id="B21" d="M218 74l-2 -5l-1 -5l0 -5l0 -5l0 -5l0 -5l1 -4l-1 -5l-1 -5l1 -5l-1 -5l0 -5l-2 -5l-3 -4l-2 -4l-2 -5l-3 -4l-3 -4l-4 -3l-4 -3l-4 -3"/><path id="B22" d="M297 215l-5 0l-5 2l-4 3l-4 3l-4 3l-3 4l-4 3l-4 3l-4 2l-5 2l-5 2l-4 2l-5 1l-5 2l-4 3l-3 4l-4 3l-3 4l-2 4l-3 5l-3 3l-3 5l-1 4"/><path id="B23" d="M255 274l5 2l4 3l4 3l4 3l3 4l4 2l4 3l5 2l5 -1l5 -2l5 0l5 -1l4 2l5 2l4 2l4 3l5 3l4 2l4 2l5 1l5 2l3 4l3 4l2 5l0 5l1 5l2 4l2 5l0 5l1 5l0 5l0 5l0 5l0 5l0 5l-1 4l-2 5l-2 4l-4 4"/><path id="B24" d="M19 183l-3 -4l-4 -3l-4 -3l-4 -3l-4 -2l-5 -3l-4 -3l-4 -2l-4 -3l-5 -2l-4 -2l-5 -2l-5 0l-5 0l-4 -2l-5 -2l-5 0l-5 0l-5 1l-5 1l-4 2l-5 2l-5 2l-4 1"/><path id="B25" d="M46 86l-2 -5l-3 -4l-2 -4l-3 -4l-4 -3l-4 -3l-5 -2l-4 -3l-4 -3l-4 -3l-4 -3l-3 -4l-3 -4l-3 -4"/><path id="B26" d="M234 65l4 3l3 4l1 5l0 5l-3 5l-2 4l-1 5l-2 5l-1 5l0 5l-2 4l-1 5l-1 5"/><path id="B27" d="M289 262l1 -5l2 -5l1 -4l3 -4l4 -4l4 -3l2 -4l3 -4l4 -4l3 -3l5 -3l4 -2l5 -1l4 -3l4 -3l2 -5l2 -4l0 -5l-2 -5l-2 -4l-2 -5l-3 -4l-3 -4l-3 -4l-3 -4l-2 -4l-4 -4l-4 -3l-3 -4l-2 -4l-2 -5l-2 -4l-2 -5l-3 -4l-2 -5"/><path id="B28" d="M196 178l4 -3l5 -2l4 -3l4 -2l5 -1l5 -1l5 -1l5 2l5 0l5 0l5 1l4 1l5 1l5 0l5 1l5 1l5 1l5 0l5 0l5 1l5 -1l5 0l5 -1l5 0l5 -1l5 -2l4 -2l4 -3l4 -3l4 -3l3 -4l4 -3l4 -3l4 -3l4 -4l3 -4l3 -3l5 -2l4 -1l5 0"/><path id="B29" d="M84 8l5 0l5 0l5 -1l5 -1l4 -2l5 -2l5 -1l5 0l5 -1l5 -1l4 -1l5 -2l4 -3l4 -3l4 -4l4 -3l4 -3l4 -3l2 -4l4 -4l3 -4l4 -3l4 -2l4 -3l5 -1l5 -2l4 -2l5 -2l5 -1l4 -2l5 -2l4 -2l5 -2l2 -5"/><path id="B30" d="M263 147l-1 -5l-1 -5l0 -5l-2 -5l0 -5l-1 -4l0 -5l-1 -5l1 -5l1 -5l2 -5l1 -5l1 -5l2 -4l2 -5l0 -5l2 -5l2 -4l2 -5l1 -5l1 -5l2 -4l2 -5l3 -4l3 -4l1 -5l2 -5l3 -3l4 -3l5 -2"/><path id="B31" d="M107 93l5 -1l4 -3l5 -1l4 -3l5 -1l5 -1l5 0l5 0l5 2l5 0l4 2l5 1l5 1l5 -1l4 -2l4 -3l3 -4l2 -5l1 -5l2 -4l4 -4l2 -4l2 -5l1 -5l2 -4l2 -5l1 -5l3 -4l3 -4l2 -5l0 -4l0 -5l-1 -5l1 -5l1 -5l-1 -5l-1 -5l-2 -5l-1 -5l0 -5"/><path id="B32" d="M178 78l-3 -4l-2 -4l-1 -5l-1 -5l-2 -5l-2 -4l-2 -5l-1 -5l0 -5l0 -5l1 -5l1 -5l0 -5l0 -5l0 -5l1 -5l0 -4l-3 -5l-2 -4l-2 -5l-2 -4l-1 -5l-1 -5l-1 -5l-1 -5l-2 -5l-1 -4l-4 -4l-3 -4l-4 -3l-5 -2l-5 -1l-5 1l-4 1l-4 3l-5 2l-4 3"/><path id="B33" d="M114 130l2 -5l1 -4l1 -5l1 -5l1 -5l0 -5l0 -5l-2 -5l-1 -5l-2 -4l-1 -5l-1 -5l0 -5l-1 -5l-1 -5l-2 -5l-2 -4l-3 -4l-5 -1l-4 -3l-5 -2l-4 -3l-5 -2l-4 -2l-5 -2l-4 -2l-5 -2l-4 -2l-5 -3l-3 -3l-4 -4l-3 -4l-2 -4l-1 -5l-1 -5l-3 -4l-2 -5l-2 -4l-3 -5l-2 -4l-3 -4"/><path id="B34" d="M205 193l-3 -4l-2 -4l-3 -5l-2 -4l-2 -5l-4 -2l-5 -3l-4 -2l-5 0l-5 0l-5 0l-5 2l-5 0l-4 3l-4 3l-5 2l-4 2l-5 3l-3 3l-4 3l-4 4l-4 2l-4 3l-4 3l-5 2l-4 3l-4 3l-3 4l-3 4l-3 4l-4 4l-2 4l-3 4l-3 4l-2 4l-2 5l-2 4l-2 5l-2 5l-4 3l-3 4l-3 4l-5 1l-4 3"/><path id="B35" d="M294 174l0 5l3 4l1 5l2 5l1 5l0 5l-1 5l2 5l1 4l3 5l1 5l2 4l2 5l3 4l3 3l5 3l4 2l5 2l4 2l5 1l5 3"/><path id="B36" d="M162 152l-1 -5l0 -5l-2 -5l-2 -4l-2 -5l-2 -4l-3 -4l-3 -4l-5 -1l-5 0l-5 1l-5 1l-4 3l-4 4l-3 4l-4 2l-4 3l-3 4l-2 5l-3 4l-3 4l-3 3l-3 4l-3 4l-3 5l-1 4l-1 5l1 5l2 5l0 5l0 5l2 5l1 4l3 5l1 5l1 4l3 5l2 4l2 5l2 4"/><path id="B37" d="M188 59l-1 -5l-2 -5l-1 -5l1 -5l-1 -4l-1 -5l0 -5l2 -5l2 -4l4 -3l3 -5l2 -4l2 -5l0 -5l0 -5l0 -5l0 -5l1 -5l1 -5l0 -5"/><path id="B38" d="M113 207l0 5l-1 5l-2 5l-1 4l1 5l2 5l1 5l2 4l1 5l1 5l2 5l2 4l2 5l1 5l1 5l1 5l0 5l1 5l1 4l2 5l1 5l3 4l2 4l2 5l1 5l0 5l0 5l-2 5l-2 4l-3 5l-2 4l-2 5l-1 5l0 5l-1 4l-3 5l-3 4l-2 4l-3 4l-2 5l-2 5l-3 3"/><path id="B39" d="M117 122l4 2l5 2l5 2l4 3l5 1l5 0l5 1l5 0l5 1l5 0l4 -2l5 -1l5 -2l5 -2l4 -3l4 -2l4 -3l5 -2l4 -3l4 -2l5 -3l3 -3l4 -4l2 -4l4 -4l4 -3l3 -3l4 -4"/><path id="B40" d="M81 174l-5 -1l-4 -3l-5 -1l-5 1l-5 1l-5 1l-5 0l-5 0l-5 0l-5 0l-5 -2l-5 0l-5 -1l-5 0"/><path id="B41" d="M-9 118l-5 0l-5 -1l-5 1l-5 2l-5 1l-5 0l-4 1l-5 -1l-5 -2l-4 -3l-5 -1l-4 -3l-5 -2l-3 -4l-3 -4l-3 -3l-3 -5l-4 -3l-4 -2l-4 -4l-4 -3l-4 -2l-4 -3l-4 -3l-5 -2l-5 -1"/><path id="B42" d="M139 132l5 -1l5 0l5 -1l5 -1l4 -2l4 -3l4 -4l4 -3l3 -4l4 -2l3 -4l4 -4l3 -3l3 -5l3 -4l2 -4l4 -4l4 -1l5 -1l5 1l5 1l4 3l5 2l4 3l4 3l3 4l4 3l3 4l3 4l2 5l2 4l3 4l3 4l4 3l4 2l5 1l5 2l5 1l4 3l4 3"/><path id="B43" d="M244 285l4 -3l4 -3l2 -5l2 -5l1 -4l3 -4l2 -5l4 -3l3 -4l4 -3l3 -4l1 -5l-1 -5l0 -5l2 -5l1 -5l-1 -5l-2 -4l-3 -4l-4 -3l-3 -4l-3 -4l-3 -4l-2 -4l-2 -5l-1 -5l-2 -5l-2 -4l-2 -5"/><path id="B44" d="M126 155l5 -2l5 1l5 1l5 0l5 0l4 -1l5 0l5 0l5 -2l5 -1l5 0l5 2l5 0l4 1l5 1l5 2l5 1l5 2l4 2l4 3l5 3l4 2l4 4l3 3l4 3l4 3l3 5l2 4l2 5l3 4l2 4l2 5l0 5"/><path id="B45" d="M74 -2l-4 2l-5 2l-5 1l-5 1l-5 1l-5 1l-4 2l-4 3l-4 3l-3 4l-2 4l-4 4l-2 4l-4 4l-2 4l-2 5l-3 4l-1 5l-2 5"/><path id="B46" d="M-13 69l-3 -4l-3 -4l-2 -4l-3 -5l-3 -3l-3 -4l-3 -5l-2 -4l-3 -4l-3 -4l-4 -3l-4 -3l-4 -3l-4 -3l-4 -2l-5 -3l-4 -3l-5 -1l-5 0l-5 0l-5 0l-5 1"/><path id="B47" d="M298 81l-5 1l-5 0l-5 -1l-5 0l-5 0l-5 0l-5 -1l-5 0l-5 -1l-5 1l-4 2l-5 2l-5 1l-5 0l-5 0l-5 1l-5 1l-4 3l-4 3l-4 3l-3 3l-3 5l-2 4l-1 5l-1 5l0 5"/><path id="B48" d="M110 263l-4 2l-5 2l-4 3l-5 3l-3 3l-4 3l-4 3l-4 2l-5 3l-5 2l-4 2l-5 2l-4 1"/><path id="B49" d="M167 115l0 5l0 5l0 5l0 5l1 5l3 4l3 4l3 4l2 4l4 4l4 3l2 4l3 5l2 4l4 3l3 4"/><path id="B50" d="M145 160l-5 0l-5 -1l-5 -1l-5 0l-5 -1l-4 -2l-5 -1l-5 0l-5 -2l-4 -3l-3 -4l-1 -5l-1 -5l-2 -4l-3 -5l-3 -4l-3 -3l-4 -4l-3 -3l-4 -3l-3 -5l-4 -3l-2 -4l-3 -5l-1 -4l-1 -5l-2 -5l0 -5l0 -5l0 -5l1 -5l2 -4l0 -5l1 -5l2 -5l2 -5l2 -4l2 -5l3 -3l3 -4l3 -5l1 -5l1 -4l1 -5"/><path id="B51" d="M280 127l2 -4l1 -5l0 -5l0 -5l0 -5l1 -5l1 -5l-1 -5l-1 -5l0 -5l0 -5l-1 -5l-2 -5l-2 -4l-2 -5l-1 -5l-2 -4l-2 -5"/><path id="B52" d="M255 28l-2 -4l-3 -5l-3 -3l-5 -3l-3 -4l-4 -2l-5 -1l-5 -1l-5 0l-5 0l-5 -1l-5 0l-5 0l-5 0l-5 0l-5 2l-4 2l-5 2l-5 0l-5 1l-5 1l-4 2l-5 2l-4 3l-3 4l-4 2l-5 3l-3 4l-5 2l-4 3l-4 3l-3 3l-4 4l-4 3l-5 1l-4 2l-5 3l-4 2l-5 0l-5 1l-5 -2l-5 0l-5 -1l-5 1l-5 -1"/><path id="B53" d="M294 106l-3 4l-3 4l-4 4l-3 3l-4 3l-5 2l-3 4l-4 3l-3 4l-3 4l-2 4l-2 5l0 5l1 5l0 5l0 5l-1 5l1 5l1 5l1 5l-2 4l-3 5l-2 4l-1 5l0 5l0 5l0 5l-1 5l1 5l2 5l1 4l1 5l0 5l0 5l-1 5l1 5l1 5l3 4l2 5"/><path id="B54" d="M154 98l-5 -1l-5 -1l-5 -1l-5 1l-5 1l-5 -1l-4 -1l-5 1l-5 2l-5 1l-5 1l-4 2l-5 1l-5 0l-5 2l-5 1l-4 2l-5 2l-4 2l-5 1l-5 0l-5 0l-5 1l-5 -1l-5 0l-5 -1l-5 -3"/><path id="B55" d="M80 77l-4 -3l-4 -3l-1 -5l0 -5l0 -5l-1 -5l0 -5l0 -5l0 -5l-1 -5l1 -5l-2 -4l-3 -5l-2 -4"/><path id="B56" d="M193 295l-5 2l-4 1l-5 2l-4 2l-5 3l-4 2l-5 1l-5 2l-4 3l-5 1l-5 1l-5 1l-4 3l-4 2l-5 2l-4 2l-4 3l-5 3l-4 2l-5 2l-4 2l-5 3l-4 2l-4 3l-5 2l-5 1l-4 3l-3 4l-3 4l-4 3l-3 4l-4 3l-4 2l-5 2l-5 0l-5 0l-5 -1l-5 -1l-5 -2"/><path id="B57" d="M145 262l-4 3l-3 4l-5 2l-4 2l-5 2l-5 2l-4 1l-5 2l-5 2l-3 4l-4 3l-4 2l-5 1l-5 3l-5 1"/><path id="B58" d="M267 292l-2 4l-3 4l-3 4l-3 4l-4 3l-5 2l-5 1l-5 0l-5 1l-5 1l-5 0l-5 0l-5 1l-5 1l-3 4l-4 3l-5 2l-4 2l-4 3l-4 3"/><path id="B59" d="M210 132l1 5l-1 5l1 5l0 5l-1 5l-1 4l-1 5l-1 5l-2 5l-2 5l-1 4l-1 5l0 5l-1 5l-2 4l-3 5l-2 5l0 4l-1 5l-1 5l-1 5l1 5l1 5l1 5l1 5l3 4l3 4l3 4"/><path id="B60" d="M100 266l-1 -5l-2 -5l-1 -4l-3 -4l-1 -5l-1 -5l-3 -5l-4 -3l-4 -2l-3 -4l-2 -5l-2 -4l-2 -5l-3 -4l-3 -4l-3 -4"/><path id="B61" d="M59 186l5 2l4 2l5 2l5 1l4 3l3 4l3 4l3 4l4 3l4 3l5 0l5 -1l4 -2l4 -3l5 -2l3 -4l4 -3l4 -3l4 -3l3 -3l4 -4l3 -4l5 -2l4 -3l4 -3l4 -3l4 -3l4 -3l4 -3l4 -3l4 -3l3 -4l3 -4l4 -3l5 -2l4 -2l5 -2l4 -2"/><path id="B62" d="M18 94l0 -5l-1 -5l-1 -5l-1 -5l-2 -4l-2 -5l-2 -4l-3 -5l-1 -4l-1 -5l-1 -5l0 -5l-2 -5l-2 -4l-4 -3l-5 -2l-4 -3"/><path id="B63" d="M151 154l-5 0l-4 2l-5 2l-5 1l-4 2l-5 2l-5 1l-5 1l-5 -1l-5 0l-4 -2l-5 -2l-3 -4l-3 -4l-1 -5l-1 -5l-1 -5l-1 -5l0 -5l0 -5l-1 -5l0 -5l0 -4l2 -5l0 -5l1 -5l1 -5l1 -5l-1 -5l1 -5l0 -5l0 -5l-1 -5l-2 -5l-1 -5l0 -5l1 -4"/><path id="B64" d="M-11 261l-4 -3l-5 -2l-4 -2l-5 -2l-5 0l-5 -2l-4 -2l-5 -1l-4 -3l-5 -1l-5 -2l-5 -1l-5 0l-4 1l-5 1l-5 1l-5 1l-5 2l-4 3l-4 3l-2 5l-1 5l-2 4l-1 5l-1 5"/><path id="B65" d="M167 71l0 -5l3 -4l4 -3l4 -3l2 -5l2 -4l2 -5l4 -4l3 -4l4 -2l4 -3l3 -4l3 -4l2 -5l5 -2l4 -2"/><path id="B66" d="M27 160l1 5l1 5l3 4l2 4l4 4l2 5l4 3l4 2l4 3l4 3l4 3l3 4l3 4l4 4l2 4l1 5l1 5l0 5l2 5l-1 5l-1 4l-2 5l0 5l0 5l-3 4l-3 4l-3 5l-3 3"/><path id="B67" d="M172 184l5 0l5 0l5 2l5 1l4 2l4 4l4 2l5 2l3 3l2 5l3 4l3 4l2 5l2 4l1 5l0 5l-3 4l-2 5l-3 4l-3 4l-4 3l-4 2l-5 3l-4 3l-4 1"/><path id="B68" d="M-13 95l-4 -3l-5 -1l-5 -1l-5 -1l-4 -2l-5 -3l-5 0l-5 0l-5 1l-5 1l-5 0l-5 1l-4 0l-5 2l-5 0l-5 1l-5 2l-4 3l-4 3l-4 3l-3 3l-3 5l-1 4l-1 5l-1 5l-2 5l-1 5l-2 4"/><path id="B69" d="M240 189l-5 1l-5 2l-5 1l-5 0l-4 1l-5 1l-5 0l-5 1l-5 1l-5 1l-5 0l-5 1l-4 2l-5 2l-5 1l-4 2l-5 2l-4 3l-4 3l-5 2l-4 2l-4 4l-4 2l-5 2l-5 1l-5 0l-5 1l-4 2l-5 1l-5 -1l-4 3l-4 3l-5 1l-4 4"/><path id="B70" d="M279 210l-3 -4l-3 -4l-5 -2l-3 -4l-4 -3l-2 -5l-3 -4l-2 -4l-2 -5l-4 -3l-3 -4l-3 -4l-4 -3l-3 -4l-4 -3l-3 -4l-4 -3l-4 -3l-4 -3l-3 -4l-3 -4l-3 -4l-2 -5l-2 -4l-1 -5l-3 -4l-4 -4l-4 -3l-4 -3l-3 -4l-2 -4l-3 -4l-4 -3l-5 -2l-4 -3l-4 -3l-4 -2"/><path id="B71" d="M179 112l3 4l4 3l4 4l3 3l4 4l3 3l4 3l4 3l4 3l4 4l4 2l4 3"/><path id="B72" d="M261 156l4 -3l4 -3l3 -4l3 -4l5 -2l4 -3l3 -3l4 -4l4 -3l5 -2l4 -2l5 -2l4 -2"/><path id="B73" d="M14 262l5 -1l5 0l5 -1l5 -1l4 -2l5 -2l5 -2l4 -2l5 -2l4 -2l5 -2l5 -1l4 -2l4 -3l5 0l5 0l5 0l5 1l5 -1l5 0l5 0l5 1l5 1l5 0l5 0l5 1l5 0l5 1l5 1l4 0l5 0l5 -1l5 -1l5 1l5 0l5 -2l3 -4l3 -4l3 -4"/><path id="B74" d="M36 189l4 3l5 2l3 3l5 3l3 4l3 3l3 4l4 4l3 4l3 4l3 4l3 4l3 4l2 5l1 4l1 5l1 5l0 5l0 5l-2 5l-1 5l-2 4l-1 5l-3 4l-4 3l-4 4l-3 3l-4 3l-5 2l-5 1l-5 1l-5 0l-5 0l-5 -1l-4 -1l-5 -1l-5 1l-5 1l-5 0l-5 -1l-5 -1l-5 -2l-4 -3l-4 -2"/><path id="B75" d="M-13 196l5 2l3 4l4 3l4 2l5 2l5 1l5 0l5 0l5 1l4 2l5 1l5 2l4 2l4 3l4 4l3 4l3 4l4 3l4 2l4 3l5 2l4 3l3 4l3 4l3 4l3 4l3 4l2 4l2 5l0 5l0 5l-1 5l-1 5l-2 4l-2 5l-2 5l-3 4l0 5l-1 5l-1 5l0 5l0 5"/><path id="B76" d="M261 285l0 5l0 5l-3 4l-3 4l-3 4l-2 4l-2 5l-2 4l-1 5l0 5l-1 5l2 5l2 5l3 3l4 3l4 3l3 4l2 5l3 4l2 5l4 3l5 2l4 3l4 2l5 2l5 -1l5 0l5 1l5 0l4 -2l5 0l5 -3l4 -2l4 -3l5 -2l5 -1l5 0"/><path id="B77" d="M103 111l4 3l4 3l2 4l4 4l3 4l3 4l3 4l4 3l2 5l1 5l3 4l2 4l2 5l1 5l1 5l2 4l1 5l0 5l0 5l0 5l0 5l-2 5l-1 5l-1 4l0 5l-1 5l-1 5l-3 5l-1 4l-1 5l0 5l0 5l-2 5l-2 4l-3 5l-4 3l-3 3l-4 4l-4 3l-4 3"/><path id="B78" d="M109 200l4 -3l2 -5l1 -5l3 -4l3 -4l4 -3l2 -5l4 -3l3 -4l4 -3l5 0l5 -2l4 -2l5 -3l4 -2l4 -3l4 -3l4 -3l4 -3l4 -3l5 -2l4 -3l4 -2"/><path id="B79" d="M46 282l1 5l2 4l2 5l1 5l0 5l1 5l1 5l0 5l1 5l-2 5l-2 4l-3 4l-2 5l-1 5l1 5l0 5l2 5l1 4l1 5l1 5l0 5l0 5l0 5l-1 5l-1 5"/><path id="B80" d="M216 15l-2 -4l-4 -4l-3 -4l-3 -4l-4 -3l-3 -4l-5 -1l-5 -1l-5 -2l-4 -2l-5 -2l-4 -3l-5 -1l-5 1"/><path id="B81" d="M261 31l1 -5l1 -5l1 -5l1 -4l2 -5l1 -5l1 -5l1 -5l3 -4l3 -4l2 -4l1 -5l3 -5l2 -4l3 -4l3 -4l3 -4l4 -3l2 -5"/><path id="B82" d="M197 104l1 5l3 4l2 5l1 4l2 5l3 4l2 5l3 4l2 5l2 4l2 4l4 4l3 4l2 4l3 5l4 3l3 4l4 3l3 4l4 3l3 4l2 4l2 5l1 5l0 5l1 5l0 5l2 5l2 4l1 5l1 5l1 5l2 4l2 5l0 5l1 5l1 5l1 5"/><path id="B83" d="M-4 284l3 4l3 4l3 4l3 4l4 3l2 5l2 4l0 5l0 5l2 5l0 5l2 5l3 4l3 3l4 4l4 3l4 3l4 2l4 4l4 3l4 2l5 2l5 1l4 2l5 1l5 1l5 2l5 1l5 0l5 0l5 -1l4 -1l5 -3l3 -4l4 -3l1 -5l0 -5l-1 -5l0 -5"/><path id="B84" d="M256 225l0 5l0 5l0 5l-1 5l-2 4l-3 5l-1 4l-2 5l-2 5l-2 4l-3 5l-3 3l-3 4l-3 4l-4 4l-3 3l-4 4l-4 3l-4 2l-4 3l-4 4l-4 2l-5 2l-4 2l-5 -1l-5 -1l-5 -1l-5 -1l-5 -1l-5 -2l-4 -2l-5 0l-5 -1l-5 1l-5 -1l-5 1l-5 -1l-5 -1"/><path id="B85" d="M234 113l-1 -5l-1 -5l-1 -5l0 -5l-1 -5l0 -5l-1 -5l-2 -4l-2 -5l-2 -5l0 -5l0 -5l0 -5l0 -5l-1 -4l-1 -5l0 -5l-1 -5l0 -5l-1 -5l-1 -5l-1 -5l0 -5l3 -4l1 -5l1 -5l1 -5l1 -4l4 -4l4 -3"/><path id="B86" d="M57 93l-2 -5l-1 -4l-2 -5l-3 -4l-3 -4l0 -5l1 -5l1 -5l2 -5l3 -4l2 -4l4 -4l4 -3l4 -3l3 -4l3 -3l4 -4l3 -4l2 -5l3 -4l3 -3l5 -3l3 -3l5 -2l4 -3l5 -2l5 -1l4 -2l5 -2l5 -2l4 -2l4 -2l5 -2l5 -1l5 -1l4 -2l5 -2"/><path id="B87" d="M214 296l-3 4l-4 3l-3 4l-4 3l-4 3l-4 3l-3 4l-2 5l-1 4l-3 5l-1 5l-1 4l-2 5l-2 5l-1 4l-2 5l-3 4l-2 5l-2 4l-4 4l-3 3l-4 4l-3 4l-3 4l-3 4l-4 2"/><path id="B88" d="M141 73l2 5l1 4l1 5l1 5l-1 5l-1 5l-1 5l1 5l1 5l1 5l2 4l-1 5l-3 4l-3 4l-3 4l-3 4"/><path id="B89" d="M232 87l1 -5l-1 -5l-1 -5l-1 -5l0 -5l-2 -4l-4 -4l-5 -1l-5 0l-5 -1l-4 -1l-5 0"/><path id="B90" d="M14 2l-2 -5l-1 -5l1 -5l-1 -4l0 -5l1 -5l1 -5l0 -5l1 -5l0 -5l1 -5l2 -4l0 -5l-1 -5l-2 -5l-3 -4"/><path id="B91" d="M162 286l-5 1l-5 1l-5 1l-5 0l-5 0l-5 0l-5 2l-5 0l-5 -1l-4 -1l-5 -2l-4 -3l-3 -4l-4 -2l-5 -3l-4 -2l-4 -3l-4 -3l-4 -3l-5 -2l-4 -3l-4 -2l-5 -3l-5 -1l-4 -3l-3 -4l-4 -2l-4 -4l-3 -4l-2 -4l-1 -5l0 -5l0 -5l-3 -5l0 -4l-1 -5l-1 -5l-1 -5l-2 -5l-3 -3"/><path id="B92" d="M53 262l4 3l4 3l5 2l4 2l4 3l5 1l5 0l5 2l5 1l5 1l5 -1l5 0l5 -1l5 0l5 -2l4 -2l4 -3l2 -4l1 -5l2 -5l1 -5l1 -5l0 -5l0 -5l4 -3l2 -4l3 -5l2 -4l2 -5l3 -4l2 -4l4 -4l3 -3l4 -4l3 -4"/><path id="B93" d="M15 257l-5 -2l-4 -3l-4 -3l-4 -3l-2 -4l-3 -4l0 -5l-2 -5l0 -5l0 -5l-3 -4l-4 -4l-4 -3l-4 -3l-3 -3l-3 -4l-3 -4l-4 -4l-2 -5l-1 -5l-1 -4l-2 -5l-2 -5l-2 -4l-3 -4l-3 -4l-3 -4l-3 -4l-4 -3"/><path id="B94" d="M108 221l4 3l4 3l4 2l4 4l4 3l5 2l4 2l5 0l5 1l5 1l5 0l5 2l5 0l5 1l4 2l5 1l5 2"/><path id="B95" d="M128 1l5 -1l5 1l5 -1l5 -2l5 -1l4 -2l4 -3l5 -1l5 -1l5 0l5 0l5 1l5 1l5 0l5 -1l4 2l5 0l5 1l5 -1l5 -2l5 -2"/><path id="B96" d="M55 141l1 -5l0 -5l0 -5l1 -5l0 -5l-2 -4l-2 -5l-2 -4l-4 -4l-4 -2l-5 -3l-4 -2l-4 -2l-5 -3l-4 -2l-5 -2l-4 -2l-5 -1l-5 -1l-5 0l-5 2l-5 0l-5 -2l-4 -2l-5 -2l-5 -1l-5 -1l-5 0l-5 -1l-4 0l-5 -3l-3 -4l-5 -2l-4 -1l-5 -1l-5 -2"/><path id="B97" d="M5 191l5 2l3 3l5 3l4 2l5 2l4 2l5 2l4 3l3 4l2 5l1 5l1 4l3 5l1 5l1 5l-1 5l-1 4l0 5l0 5l0 5l-1 5l0 5l0 5l-1 5l0 5l0 5l1 5l2 5l-1 5l1 5l-1 5l-2 5l-1 4l-1 5l0 5l0 5l-1 5l-2 5l0 5l1 4l1 5l2 5l1 5l1 5"/><path id="B98" d="M-11 140l-3 4l-3 4l-4 3l-4 3l-5 2l-4 3l-2 4l-3 5l-3 4l-2 4l-3 4l-3 5l-3 3l-3 4l-3 4l-3 4l-4 3l-4 3l-4 3l-4 3l-4 4l-3 3l-3 4l-2 5l-2 4l-3 4"/><path id="B99" d="M84 157l-5 -2l-4 -1l-5 -3l-5 -1l-4 -2l-5 0l-5 2l-5 0l-5 1l-5 0l-5 1l-4 2l-5 1l-5 1l-5 0l-5 1l-5 0l-5 -1l-5 1l-5 0l-5 0"/><path id="B100" d="M222 77l-1 -5l-1 -5l-1 -5l-1 -5l-1 -4l-3 -5l-2 -4l0 -5l0 -5l0 -5l3 -5l0 -5l4 -4l2 -4l3 -4l2 -5l0 -5l0 -5l3 -4l2 -5l2 -4l1 -5l1 -5l1 -5l1 -5l0 -5l-1 -5l0 -4l-2 -5l-1 -5l-3 -4l-3 -4l-4 -4l-4 -3l-3 -3l-1 -5l-1 -5"/><path id="B101" d="M29 189l-5 -2l-4 -2l-5 -1l-4 -3l-3 -4l-3 -4l-1 -5l-3 -4l-2 -5l-2 -4l-3 -4l-2 -5l-3 -4l-4 -3l-3 -4l-3 -4l-2 -5l-3 -4l-3 -4l-2 -4l1 -5l2 -5l2 -5l1 -4l1 -5l0 -5l1 -5l0 -5l0 -5l1 -5l2 -5l0 -5l-1 -5l-1 -5l-1 -5l1 -5l0 -5l0 -5l0 -5"/><path id="B102" d="M85 3l2 4l3 5l4 3l3 3l4 4l4 3l4 3l3 4l2 4l3 5l2 4l0 5l0 5l-2 5l-1 5l-4 3l-4 3l-4 3l-3 4l-1 5l0 5l0 5l1 5l2 4l4 4l4 3l4 3l4 2l5 3l4 2l5 2l4 2l5 2l5 1l4 2l5 1l5 0l5 1l5 2l4 3l4 2l5 1l5 2l5 1l4 2"/><path id="B103" d="M156 155l5 -1l5 -1l4 -2l5 -1l5 -2l4 -3l2 -5l2 -4l3 -5l0 -5l2 -4l1 -5l2 -5l3 -4l3 -4l3 -4l2 -4l3 -5l3 -4l1 -4l3 -5l3 -4l3 -3l5 -3l5 -1l4 -2l5 -1"/><path id="B104" d="M205 258l-5 -1l-5 -1l-4 -2l-4 -3l-4 -4l-3 -3l-3 -4l-3 -5l0 -5l1 -5l1 -4l2 -5l3 -4l3 -4l3 -4l3 -4l4 -3l3 -4l2 -4l2 -5l3 -4l2 -5l2 -4l3 -4l3 -4l3 -4l4 -4l4 -3l4 -2l4 -4l3 -4l2 -4l3 -4l3 -5l0 -4l2 -5l1 -5l1 -5l-1 -5l-2 -4l-3 -4l-3 -4l-3 -4l-3 -4"/><path id="B105" d="M256 25l-4 3l-4 3l-4 3l-3 4l-1 5l0 5l-1 5l-2 5l0 5l1 5l0 5l1 5l0 5l1 5"/><path id="B106" d="M293 146l-4 2l-5 3l-4 2l-5 2l-4 2l-5 2l-4 3l-4 3l-4 2l-2 5l-2 5l-2 4l0 5l1 5l2 5l2 5l3 4l2 4l3 4l5 2l5 2l4 0l5 1l5 1l5 -1l5 -2l4 -2"/><path id="B107" d="M247 288l5 1l5 1l5 -1l5 1l5 0l5 0l5 0l5 1l5 -1l4 1l5 2l5 2l4 3l4 3l4 2l5 3l4 3l4 2l5 2l5 1l5 1l5 1l4 -1l5 -1l5 -1l5 0l5 1l5 3l4 1l5 1l5 2l5 1l5 0l5 0l5 -1"/><path id="B108" d="M273 230l1 -5l1 -5l0 -5l0 -5l0 -5l-1 -5l0 -5l1 -5l-1 -4l-1 -5l-2 -5l-3 -4l-2 -5l-2 -5l-2 -4l0 -5l0 -5l0 -5l0 -5l-1 -5l-1 -5l-1 -5l-1 -4l-3 -5l-4 -3l-3 -4l-3 -3l-3 -5l-3 -4l-1 -5l-3 -4l-2 -5l-2 -4l-2 -4l-3 -5l-3 -4l-3 -4l-3 -4l-1 -5"/><path id="B109" d="M262 152l4 -3l4 -3l3 -4l4 -3l3 -4l3 -4l3 -4l4 -3l4 -3l3 -4l2 -5l0 -5l-3 -4l-3 -3l-4 -4l-3 -3l-4 -4l-3 -4l-2 -4l-2 -5l-4 -4l-3 -3l-3 -4l-4 -4l-3 -3l-5 -3l-4 -2l-4 -3l-4 -3l-5 -2l-4 -3l-4 -3l-3 -4l-4 -2l-4 -4l-4 -2l-4 -3l-4 -3l-4 -3l-4 -3l-4 -4"/><path id="B110" d="M251 -10l1 -5l2 -4l2 -5l2 -5l2 -4l3 -4l2 -5l2 -5l3 -4l3 -3l3 -4l3 -4l4 -4l4 -3l3 -3l5 -3l4 -2l4 -2l5 -2l5 0l5 -1l5 -2l5 0l5 -2l4 -1l5 -1l5 -2l5 -1l4 -2l5 -1l5 0l5 0l5 2l5 2l4 2"/><path id="B111" d="M116 156l-1 -5l-2 -5l0 -5l-2 -4l-4 -4l-3 -4l-3 -4l-2 -4l-3 -4l-1 -5l-1 -5l1 -5l1 -5l1 -5l1 -5l-2 -4l-3 -5l-3 -3l-3 -4l-3 -4l-3 -4l-4 -4l-4 -3l-4 -1"/><path id="B112" d="M261 -9l-5 1l-5 1l-5 1l-5 0l-5 1l-5 0l-5 0l-5 1l-5 -1l-5 0l-4 2l-5 1l-5 2l-5 -1l-5 -1l-5 0l-5 0l-5 -1l-4 -2l-5 -2l-4 -3l-4 -3l-4 -3l-4 -3l-4 -3l-4 -3l-2 -5l-2 -4l-1 -5l-2 -5l-1 -5l-1 -4"/><path id="B113" d="M97 254l-4 -3l-4 -3l-4 -3l-4 -3l-4 -3l-3 -4l-3 -4l-1 -5l-1 -5l0 -5l0 -5l-1 -5l-2 -4l-1 -5l-1 -5l-1 -5l-2 -4l-3 -4l-4 -4l-4 -3l-4 -3l-4 -2l-5 -2l-5 -1l-4 -2l-5 -2l-3 -4l-4 -3l-3 -4l-3 -4l-4 -3l-4 -3l-2 -5l-3 -4l0 -5l0 -5l2 -5l1 -4l3 -4l3 -5l1 -5l1 -4"/><path id="B114" d="M124 122l4 -3l4 -3l5 -1l5 -2l4 -2l5 -1l5 -2l4 -2l4 -3l5 -2l5 0l5 -2l4 -3l3 -4"/><path id="B115" d="M106 259l4 -2l5 -1l5 -1l5 -1l5 -2l5 -1l5 0l4 2l5 1l4 3l5 2l4 2l4 3l4 4l4 3l4 3l3 3l3 4l4 3l4 4l4 3l4 2l5 2l5 2l4 3l3 3l5 3l4 1l5 1l5 0l5 3"/><path id="B116" d="M61 -4l-4 -3l-4 -3l-5 -2l-5 -1l-5 1l-4 1l-5 1l-5 2l-4 3l-4 3l-3 3l-4 4"/><path id="B117" d="M189 -9l5 0l5 -1l4 -2l5 -2l4 -2l5 -3l4 -3l3 -4l3 -4l4 -3l3 -4l3 -4l4 -3l4 -3l5 -2l4 -1l5 -2l5 -1l4 -3l5 -2l4 -2l5 -1l5 -1l5 0l5 0l5 0l5 2l4 2l5 2l5 1"/><path id="B118" d="M199 29l-5 0l-5 -2l-5 -1l-5 0l-5 1l-5 -1l-5 1l-5 0l-4 2l-4 3l-4 3l-3 4l-3 4l-4 4l-4 3l-4 2l-4 3"/><path id="B119" d="M6 25l-5 1l-5 1l-5 0l-5 2l-5 -1l-4 3l-4 2l-5 1l-5 0l-5 0l-5 1l-5 0l-5 1l-4 3l-4 3l-3 3l-2 5l-3 4l-3 4l-4 3l-5 1l-4 3l-5 2l-5 0l-5 3l-4 1l-5 2l-4 2l-5 2l-4 3l-5 2l-3 4l-4 2l-5 3l-3 4"/><path id="B120" d="M185 281l-5 -1l-4 -2l-5 -1l-5 -1l-5 -1l-5 -1l-5 -2l-5 -1l-5 0l-4 -2l-5 -1l-5 -1l-5 -1l-5 0l-5 0"/><path id="B121" d="M67 210l3 -4l4 -4l4 -2l5 -1l5 0l5 1l5 1l5 0l5 1l4 3l3 4l1 4l1 5l0 5l0 5l2 5l2 5l3 4l4 3l3 4l4 2l4 3l5 3l4 2l4 3l3 4l4 4l2 4l3 4l3 4l1 5l1 5l1 5l0 5l2 5"/><path id="B122" d="M292 131l2 -4l2 -5l2 -5l3 -4l4 -3l4 -2l5 -2l4 -3l5 0l5 -1l5 -2l5 0l4 -2l4 -3l5 -2l5 -1"/><path id="B123" d="M273 59l5 0l5 1l5 0l4 3l5 1l5 0l5 -1l5 1l5 1l5 1l4 2l5 1l5 2l4 2l5 1l5 2l4 2l4 3l4 3l3 5l1 4l2 5l0 5l1 5l-2 5l-2 4l-3 5l-2 4l-4 3l-3 5l-3 3l-4 3l-4 3l-4 4l-3 3"/><path id="B124" d="M241 114l-1 -5l-1 -5l-2 -4l-2 -5l-1 -5l-2 -5l1 -4l-1 -5l-1 -5l1 -5l0 -5l1 -5l2 -5l0 -5l1 -5l1 -5l1 -5l2 -4l3 -4l3 -4l3 -4l2 -5l3 -4l2 -4l1 -5l2 -5l2 -5l0 -5l1 -4l0 -5l1 -5l-1 -5l-1 -5l-2 -5l-2 -4l-2 -5l0 -5"/><path id="B125" d="M263 43l-2 5l-2 4l-2 5l-3 4l-2 5l-2 4l-1 5l-1 5l-3 4l-3 4l-2 4l-3 4l-3 5l-3 4l-3 4l-3 4l0 5l-1 5l-1 5l-2 4l-2 5"/><path id="B126" d="M273 106l-2 -4l-3 -5l-1 -4l-4 -4l-3 -4l-3 -4l-4 -3l-4 -4l-3 -3l-4 -3l-4 -3l-4 -3l-4 -3l-4 -3l-3 -4l-3 -4l-3 -4l-3 -4l-3 -4l-3 -4l-4 -3l-4 -2l-5 -2l-4 -2l-5 -2l-5 -2l-4 -1l-5 -2l-5 -2l-4 -2l-5 -3l-3 -3l-2 -5l-4 -3"/><path id="B127" d="M185 296l1 5l1 5l2 5l2 4l2 5l2 4l2 5l1 5l1 4l1 5l0 5l1 5l2 5l0 5l1 5l2 5l0 5l2 4l2 5l2 5"/><path id="B128" d="M80 42l-1 5l-2 5l-1 5l2 4l1 5l2 5l1 4l2 5l2 5l1 5l1 5l1 4l-1 5l0 5l1 5l2 5l3 4l3 4l4 3l4 2l5 1l5 2l3 4l3 4l4 3l4 3l5 2l4 3"/><path id="B129" d="M56 214l3 -4l3 -4l3 -4l3 -4l4 -3l3 -4l1 -5l1 -5l0 -5l-1 -5l2 -5l3 -4l2 -4l0 -5l4 -4l4 -3l5 -2"/><path id="B130" d="M129 131l2 -4l2 -5l1 -5l2 -5l3 -3l4 -3l4 -3l4 -4l3 -3l4 -4l3 -3l4 -3l3 -4l4 -4l4 -2l5 -2l5 -1l5 -1l4 -3l5 -2l4 -2l5 -2l4 -2l5 -1l5 -2l5 -1l5 0"/><path id="B131" d="M213 82l-4 -3l-4 -3l-4 -3l-4 -3l-3 -4l-4 -3l-2 -5l-4 -3l-3 -4l-3 -4l-3 -4l-3 -4l-4 -3l-3 -4l-5 -2l-3 -4l-3 -4l-4 -3l-4 -3l-5 -2l-4 -3l-3 -4l-3 -4l-3 -4l-2 -4l-1 -5l-1 -5l2 -5l1 -5l0 -5l0 -5l2 -4l2 -5l3 -4l4 -3l4 -3l5 -2l4 -2l4 -3l4 -3l3 -4l2 -5l3 -4"/><path id="B132" d="M258 138l-2 4l-3 4l-4 4l-1 5l-1 5l-2 4l-1 5l-1 5l-2 5l-2 5l-2 4l-3 4l-3 4l-3 4l-2 4l-3 4l-3 5l-3 4l-4 2l-5 3l-3 3l-4 3l-4 4l-2 4l-1 5l-2 5l-3 4l-2 4l-3 5"/><path id="B133" d="M264 245l5 1l5 1l5 0l5 1l4 2l5 2l5 -1l4 -3l3 -3l5 -3l4 -3l3 -4l2 -4l2 -5l2 -4l0 -5l-1 -5l-2 -5l-2 -4l-3 -4l-3 -4"/><path id="B134" d="M113 -13l0 5l-1 5l-2 4l-3 5l-3 3l-4 3l-5 1l-5 1l-5 2l-5 -1l-5 0l-5 -1l-5 -1l-5 1l-5 0l-5 1l-5 1l-5 0l-5 -1l-5 -1l-4 -1l-5 -2l-5 -2l-4 -2l-5 -2l-4 -2l-5 -1"/><path id="B135" d="M270 260l-3 4l-1 5l-3 4l-2 5l-1 5l-3 4l-3 4l-3 4l-3 4l-3 4l-1 5l-3 4l-1 5l-2 4l-3 4l-3 5l-2 4l-1 5l0 5l-2 4l-3 5l-1 5l-2 4l-3 4l-3 4l-2 5l-1 5l-2 4l-3 5l-2 4l-3 4l-4 3l-5 2l-4 2l-5 2"/><path id="B136" d="M105 297l-4 3l-5 2l-5 1l-5 0l-4 -2l-4 -3l-4 -3l-4 -3l-4 -4l-4 -2l-4 -3l-4 -3l-5 -2l-5 -1l-5 -1l-5 1l-5 -1l-5 0l-4 1l-5 0l-5 1l-5 0l-5 1l-5 1l-5 1l-4 2l-5 1l-5 2l-4 3l-3 4l-2 4l-1 5l-2 5l-2 4l-3 5l-2 4l-3 4"/><path id="B137" d="M256 28l-5 0l-5 -1l-5 -1l-5 2l-4 2l-5 1l-5 -1l-5 -2l-4 -2l-5 -1l-5 0l-5 0l-5 1l-4 3l-4 2l-5 3l-4 3l-3 3l-3 4l-2 5l-2 5l-2 4l-2 4l-2 5l0 5l0 5l1 5l-1 5l1 5l1 5l-1 5l0 5"/><path id="B138" d="M172 221l-5 -1l-5 1l-5 -1l-5 -2l-4 -2l-5 -2l-4 -3l-4 -3l-4 -3l-4 -2l-4 -3l-4 -4l-3 -4l-4 -3l-4 -3l-3 -3l-3 -4l-4 -4l-4 -3l-4 -3l-3 -4l-3 -3l-3 -5l-3 -4l-3 -4l-2 -4l-2 -5l-1 -5l0 -5l-1 -5l0 -5l2 -4l1 -5l2 -5l3 -3l4 -4l4 -3"/><path id="B139" d="M21 210l-1 5l-1 5l-1 5l-1 5l-2 4l-2 5l-2 4l-2 5l-2 4l0 5l0 5l1 5l1 5l0 5l-1 5l-1 5l-1 5"/><path id="B140" d="M15 106l-1 5l1 5l0 5l1 5l2 4l1 5l3 4l2 5l4 3l3 4l5 2l4 3l3 3l3 5l3 4l2 4l1 5l2 5l2 4l2 5"/><path id="B141" d="M91 96l4 -2l5 -3l4 -3l3 -3l4 -4l4 -3l3 -3l3 -4l3 -4l4 -4l3 -4l3 -3l5 -2l4 -3l4 -4l3 -3l3 -4l3 -4l4 -3l5 -2l5 -1l5 0l5 -2l4 -1l5 -1l5 -2l5 -1l5 0l5 -1"/><path id="B142" d="M278 187l-5 1l-5 1l-5 1l-4 3l-4 2l-5 1l-5 2l-3 4l-3 4l-3 4l-2 5l-3 4l-2 4l-2 5l-3 4l-2 4l-2 5l-1 5l-1 5l-1 5l0 5l0 5l1 5l0 5l1 5l1 4l1 5l0 5l0 5l-1 5l-2 5l0 5l-1 5"/><path id="B143" d="M185 126l5 0l5 -1l5 0l5 -1l5 -1l5 0l5 1l5 1l4 -1l5 -1l5 -3l4 -3l3 -3l3 -4l3 -4l4 -3l4 -3l5 -3l4 -2l3 -4l4 -3l2 -5l3 -4l0 -5l2 -5l1 -5"/><path id="B144" d="M74 289l0 5l-1 5l1 5l0 5l-1 5l-2 5l0 5l-1 4l-2 5l-2 5l-2 4l-1 5l-3 4l-3 4"/><path id="B145" d="M12 182l-4 3l-4 3l-3 4l-4 3l-3 4l-3 4l-3 4l-2 4l-3 5l-2 4l0 5l-2 5l0 5l-2 5l-2 4l-3 4l-3 4l-3 4l-4 3l-3 4l-3 4l-4 3l-4 3l-4 3"/><path id="B146" d="M231 42l-3 -4l-4 -3l-4 -2l-5 -2l-4 -3l-5 -1l-5 -2l-4 -2l-5 -1l-5 -1l-5 -2l-4 -3l-4 -3l-3 -3l-2 -5l0 -5l-1 -5l-1 -5l1 -5l-1 -5l0 -5l1 -5l-1 -5l-1 -5l-1 -4l-1 -5l-1 -5l-2 -5l-1 -5l-1 -5l1 -5l2 -4l3 -4l3 -4l4 -3l4 -4l4 -2l4 -4l3 -3l3 -4"/><path id="B147" d="M164 174l0 5l-1 5l1 5l0 5l2 5l0 5l-1 5l0 4l-1 5l0 5l0 5l-2 5l-2 5l-1 5l-2 4l-3 4"/><path id="B148" d="M56 144l-4 -3l-3 -4l-4 -3l-4 -3l-3 -4l-4 -4l-2 -4l-1 -5l-1 -5l-2 -5l0 -4l-3 -5l-2 -4l-1 -5"/><path id="B149" d="M5 97l-2 -5l0 -5l1 -5l0 -5l0 -5l0 -5l0 -5l1 -5l0 -5l-1 -5l0 -5l1 -4l2 -5l1 -5l3 -4l4 -3"/><path id="B150" d="M61 27l5 0l5 1l5 1l5 1l4 3l3 3l4 4l3 4l2 4l3 4l2 5l2 4l1 5l0 5l0 5l-3 4l-1 5l-2 5l-3 4l-4 3l-4 3l-1 5l-2 5l-2 4l-1 5l-3 4l-2 5l-1 5l0 5l0 5l0 5l1 5"/><path id="B151" d="M14 67l2 -5l2 -4l0 -5l0 -5l0 -5l2 -5l1 -5l1 -4l0 -5l-1 -5l-1 -5l0 -5l-1 -5l0 -5l-2 -5l-1 -5l-2 -5l0 -5l0 -5l-1 -5l-1 -4l0 -5l0 -5l0 -5l-2 -5l-2 -5l-1 -5l-3 -4l-2 -4l-3 -4l-3 -4l-2 -4l-3 -5l-3 -3l-5 -3l-4 -1l-5 -3l-5 -1"/><path id="B152" d="M209 174l-5 -1l-5 -1l-5 0l-4 -2l-5 -2l-3 -4l-4 -2l-4 -4l-2 -4l-3 -4l-2 -5l-3 -4l-4 -3l-3 -4l0 -5l-1 -5l0 -5l-2 -5l-1 -5l0 -5l-2 -5l-1 -4l-2 -5l-1 -5l-3 -4l-3 -4l-1 -5l-1 -5l-1 -5l-1 -5l0 -4l0 -5l-2 -5l0 -5l0 -5l-1 -5"/><path id="B153" d="M32 263l0 5l-1 5l-2 4l-2 5l-2 5l-1 4l-1 5l-1 5l0 5l-1 5l0 5l-2 5l0 5l0 5l0 5l1 5l1 5l3 4l3 3l4 3l5 2l4 2l4 4l4 2l5 3l3 4l3 4l3 3l3 4l3 4l3 4l3 4l5 2"/><path id="B154" d="M81 109l-1 -5l-2 -5l-1 -5l-1 -4l1 -5l2 -5l0 -5l1 -5l1 -5l1 -5l0 -5l1 -5l0 -5l-2 -4l-2 -5l-3 -4l-3 -4l-4 -3l-5 -1l-5 1l-4 3l-4 3l-3 4l-4 3l-3 4l-3 4l-3 4l-4 3l-4 2l-5 2l-5 1l-3 4l-2 5l-2 4l1 5l1 5l2 5l5 2l3 4l5 2l5 0l5 0l5 1"/><path id="B155" d="M8 237l-5 1l-5 1l-4 2l-5 2l-4 3l-3 4l-3 4l-3 4l-1 5l-4 4l-4 2l-4 3l-5 1l-5 2l-5 1l-5 0l-4 2l-5 3l-4 2l-5 2l-3 4l-5 1l-4 3l-5 2l-4 2l-5 1l-5 2l-4 2l-5 1l-5 3l-4 2l-5 1l-5 0l-5 -1"/><path id="B156" d="M141 182l-4 -2l-5 -1l-5 -1l-5 -2l-5 -1l-4 -2l-5 -3l-4 -2l-5 -1l-5 -2l-3 -3l-3 -4l-4 -3l-5 -2l-4 -4l-4 -3l-2 -4l-1 -5l-1 -5l-2 -5l1 -5l0 -5l-1 -5l-2 -4l-2 -5l-2 -4l-3 -5l-3 -4l-4 -2l-5 -1l-5 -2l-5 0"/><path id="B157" d="M201 24l3 -4l3 -4l2 -4l4 -4l3 -4l4 -2l4 -4l2 -5l1 -5l3 -4l2 -4l2 -5l1 -5"/><path id="B158" d="M108 8l-5 -1l-5 2l-5 1l-4 2l-5 2l-4 2l-5 2l-4 3l-3 4l-3 4l-3 4l-2 5l-1 5l-3 4l-2 4l-2 5l-2 4l-3 4l-3 4l-3 5l-3 4l-3 3l-2 5l-2 5l-3 4l-4 3l-3 3l-3 5l-2 4l-2 4l-4 4l-3 4"/><path id="B159" d="M110 252l4 3l3 4l2 4l1 5l2 5l2 4l2 5l4 3l4 3l4 3l4 4l1 4"/><path id="B160" d="M67 93l-3 -4l-3 -4l-2 -4l-4 -4l-5 -2l-4 -3l-4 -2l-4 -3l-4 -3l-4 -3l-5 -2l-4 -3l-4 -3l-3 -4l-1 -5l-1 -5l-3 -4l-2 -4l-2 -5l-3 -4l-2 -4l-1 -5l0 -5l0 -5l1 -5l1 -5l0 -5l0 -5l1 -5l0 -5l2 -5l1 -4"/><path id="B161" d="M190 189l5 1l5 1l5 0l5 0l5 1l4 2l5 1l4 3l4 3l4 3l2 5l3 4l4 3l3 4l3 4l4 4l3 3l4 3l3 5l2 4l3 4l4 3l4 4l3 4l3 3l3 4l4 4l3 3l3 5l1 4l1 5l1 5l2 5l3 4l2 4l4 4l3 4l3 3l3 5"/><path id="B162" d="M157 22l-4 -2l-5 -3l-4 -3l-1 -5l0 -5l-2 -4l0 -5l1 -5l2 -5l2 -4l2 -5l2 -5l2 -4l2 -5l2 -4l4 -3l3 -4l3 -5l2 -4l3 -4l1 -5l1 -5l3 -4l2 -5l2 -4l2 -5"/><path id="B163" d="M104 118l2 -5l2 -4l2 -5l1 -5l4 -3l3 -4l3 -4l4 -3l5 -2l4 -2l5 -2l4 -3l4 -3l4 -2l5 -2l4 -2l5 -1l5 -1l5 0l5 0l5 -1l5 -1l5 1l5 -1l5 -2l5 1l5 0l5 -1l5 -1l5 -1l5 0l5 -1l4 0l5 -1l5 0l5 0l5 -1l5 0l5 -2l5 -1l4 -2l5 -2"/><path id="B164" d="M148 -7l-5 -2l-4 -1l-5 -3l-4 -3l-3 -3l-4 -4l-4 -3l-4 -3l-4 -2l-5 -2l-4 -3l-4 -2l-5 -1l-5 -1l-5 -1l-5 -1l-5 -1l-4 -2l-5 -2l-5 -2l-4 -2l-5 -1l-5 -1l-5 0l-5 0l-5 1l-5 -1"/><path id="B165" d="M129 25l-1 -5l1 -5l2 -4l2 -5l2 -5l2 -4l2 -5l1 -5l0 -5l0 -5l-1 -5l0 -5l-1 -5l0 -4l3 -5l2 -4l2 -5l2 -4l2 -5l-1 -5l1 -5l1 -5"/><path id="B166" d="M5 268l-4 2l-5 3l-4 2l-5 2l-5 1l-5 0l-4 2l-5 0l-5 1l-5 2l-5 2l-3 3l-3 5l-1 4l0 5l-1 5l-1 5l-1 5l1 5l0 5l0 5l0 5l0 5l1 5l0 5l2 4l-1 5l-1 5l-1 5l0 5l0 5l-2 5l-1 5l-1 5l-1 4l-1 5l0 5l1 5l0 5l-2 5l-3 4l-3 3l-3 5"/><path id="B167" d="M230 276l4 -3l4 -3l5 -1l5 -1l5 -1l5 0l5 -2l4 -3l5 -1l4 -1l5 -3l5 -1l4 -1l5 0l5 0l5 -1l5 0l5 -2l5 -2l4 -1l5 -2l5 1"/><path id="B168" d="M211 287l-5 2l-4 1l-5 2l-5 0l-5 0l-5 -1l-5 0l-5 1l-5 1l-4 2l-5 2l-5 1l-4 2l-5 2l-4 3l-3 3l-5 3l-2 4l-3 5l-2 4l-4 4l-4 3l-3 3"/><path id="B169" d="M285 284l3 4l4 3l5 2l5 1l4 1l5 1l5 0l5 1l5 0l5 0l5 0l5 -1l5 -1l5 -2l4 -3l4 -3l2 -4l3 -4l3 -5l3 -4l3 -3l4 -3l4 -3l4 -3l5 -2l4 -2l5 -3l4 -1l5 -3l4 -3l4 -2"/><path id="B170" d="M69 114l3 4l3 4l3 4l4 3l3 4l1 5l1 5l-1 5l-1 5l-1 5l-2 4l-2 5l-2 5l-1 4l-3 5l-2 4l-3 4l0 5l2 5l1 5"/><path id="B171" d="M105 246l-2 -5l-2 -4l-3 -4l-4 -4l-3 -3l-4 -3l-4 -3l-5 -2l-4 -2l-5 -3l-4 -1l-5 -1l-5 0l-5 0l-5 2l-4 2l-5 2l-4 3l-5 2l-4 3l-3 3l-5 2l-4 3l-3 4l-4 3l-4 3l-4 3l-4 3l-3 5l-2 4l-3 4l-3 4l-3 4l-3 4l-2 5l-3 4l-3 4l-3 4l-2 4"/><path id="B172" d="M151 114l1 -5l0 -5l2 -5l0 -5l0 -5l1 -4l0 -5l1 -5l2 -5l1 -5l0 -5l-1 -5l-1 -5l-1 -5l0 -5l0 -5l0 -5l0 -5l1 -5l2 -4l3 -4l3 -4l4 -3l3 -4l5 -3l4 -2l5 -1l5 0l5 -2l4 -2l5 -1"/><path id="B173" d="M23 238l-5 1l-4 2l-5 3l-4 3l-4 3l-4 3l-4 2l-5 3l-2 4l-3 4l-4 3l-4 3l-4 3l-4 3l-4 3l-4 3l-4 3l-3 4l-3 4l-1 5l0 5l1 5l1 5l1 5l0 5l0 5l1 5l-1 5l1 4l1 5l0 5l0 5l1 5l1 5l2 5l1 5l2 4l0 5l2 5l3 3l5 2l4 3l5 2"/><path id="B174" d="M-8 289l-4 -3l-3 -4l-3 -4l-4 -3l-4 -3l-4 -4l-3 -3l-3 -4l-3 -4l-3 -4l-2 -5l-1 -5l0 -5l-1 -5l1 -5l0 -5l2 -4l1 -5l0 -5l-1 -5l-1 -5l1 -5l0 -5l1 -5l1 -5l2 -4l2 -5l3 -4l3 -4l3 -4l3 -4l3 -4l4 -3l4 -3l4 -2l4 -3l4 -3l4 -3l3 -4l3 -4l2 -5l2 -4"/><path id="B175" d="M183 145l4 3l5 2l3 4l3 4l5 2l4 2l5 2l4 3l4 2l4 3l4 3l5 2l2 4l3 5l3 4l2 4l1 5l3 4l2 5l2 4l3 4l3 4l3 4l3 4l4 3l3 4l2 5l1 5l1 5l3 4l2 5l3 3l4 4l2 4l3 4l4 4l3 4l3 3l3 4l2 5l2 4l3 4l2 5"/><path id="B176" d="M190 239l5 2l5 0l5 1l4 2l5 2l5 1l4 3l5 2l3 3l4 4l3 3l5 3l4 1l5 2l5 0l5 0l5 0l5 1l5 0l5 1l5 -1l5 -1l5 -1l5 0l5 -1l5 -1l4 2l5 2l4 2l5 1l5 1l5 1l5 0l5 2l5 1l5 0l5 1"/><path id="B177" d="M187 183l1 -5l2 -5l1 -4l3 -5l3 -3l5 -2l4 -2l5 1l5 0l5 0l5 2l4 2l4 3l4 3l4 3l4 4l3 3l4 4l3 4l3 4l2 4l3 4l4 4l4 2l5 3l3 4l4 2"/><path id="B178" d="M140 11l4 -2l5 -2l5 -1l5 0l5 2l4 2l5 2l5 0l5 0l5 0l5 -2l5 -1l4 -2l5 -2l5 -1l4 -2l5 -1l5 -1l5 -1"/><path id="B179" d="M92 185l5 0l5 -1l5 0l5 1l5 1l4 2l5 2l4 2l5 2l3 4l5 2l5 0l5 0l5 0l5 0l5 1l5 -1l5 0l5 1l5 2l4 2l4 3l5 1l5 0l5 0l5 0"/><path id="B180" d="M78 221l5 -1l5 -1l5 -2l4 -1l5 -2l5 -1l4 -3l3 -4l2 -5l2 -4l3 -4l3 -4l4 -3l4 -4l3 -3l4 -2l5 0l5 2l4 3l3 4l5 3l4 1l5 1l5 0l5 0l5 0l5 0l5 1l5 2l4 2l4 3l5 2l4 3l4 2l5 3"/><path id="B181" d="M74 67l-5 -1l-5 -1l-5 -2l-4 -1l-5 0l-5 -2l-5 -1l-4 -3l-4 -2l-5 -2l-4 -3l-5 -2l-4 -3l-4 -3l-3 -3l-4 -4l-4 -3l-3 -4l-4 -3l-4 -3l-3 -4l-2 -4l-4 -3l-5 -3l-4 -3l-4 -2l-5 -2l-3 -4l-3 -4l-3 -4l-4 -3l-3 -4l-4 -2"/><path id="B182" d="M251 -11l-5 0l-5 -1l-5 0l-5 -1l-5 -2l-4 -1l-5 0l-5 0l-5 -1l-5 -2l-5 -1l-5 -2l-4 -3l-4 -2l-4 -3l-4 -3l-4 -3l-4 -3l-4 -3l-3 -4l-4 -3l-4 -2l-5 -3l-3 -3l-4 -3l-5 -2l-5 -2l-5 -1l-4 -2l-5 1l-5 -1l-5 1l-5 -2l-4 -2l-5 -1l-5 -2l-5 -2l-4 -1l-4 -4l-3 -4"/><path id="B183" d="M250 127l5 2l4 3l4 1l5 -1l5 -1l5 0l5 1l5 1l5 2l5 1l5 -1l5 -1l4 -1l5 -1l5 -2l4 -3l4 -3l3 -4l5 -2l4 -2l5 -1l4 -3l4 -3l4 -3l4 -4l2 -4l4 -3l4 -3l2 -5l2 -4l4 -4l4 -3l3 -4l2 -5l3 -3l4 -3l4 -3l4 -3l4 -3l3 -4l3 -4l3 -4l3 -4"/><path id="B184" d="M94 115l5 0l5 2l5 1l4 1l5 1l5 1l5 -2l5 0l5 0l5 -1l5 -1l4 1l5 1l5 3l5 1l5 -1l4 -1l5 -2l5 -1l5 -1l5 -1l5 0l5 -1l4 -2l5 -2l4 -3l5 0l5 -1l4 -3l5 -2l4 -2l5 -1"/><path id="B185" d="M140 4l2 -5l2 -4l4 -4l4 -3l4 -2l3 -4l4 -3l4 -4l2 -4l2 -5l-1 -5l0 -5l-2 -4l-2 -5l-2 -5l-2 -4l-1 -5l-2 -5l-2 -4l-2 -5l-3 -4l-2 -5l-1 -4l-1 -5l-1 -5l-1 -5l-2 -5l-1 -5l0 -5l-2 -5l-2 -4l-3 -4l-5 -2l-4 -3l-4 -2l-5 0l-5 2l-4 2l-5 2l-5 2l-4 2l-4 3l-3 4l-4 3"/><path id="B186" d="M244 45l1 -5l0 -5l-1 -5l1 -5l-1 -5l0 -5l0 -5l0 -5l0 -5l0 -5l0 -5l-1 -5l-3 -4l-2 -5l-2 -4l-3 -4"/><path id="B187" d="M283 33l0 -5l0 -5l0 -5l-2 -5l-3 -4l-2 -4l-3 -4l-3 -4l-2 -5l-3 -4l1 -5l1 -5l4 -3l2 -5l2 -4l4 -3l5 -2l5 -2l4 -3l5 -1l5 1l4 2l4 3l5 3l4 3l3 3l4 4l3 3l3 4l2 5l2 4l3 5l3 3l2 5l3 4l1 5l1 5"/><path id="B188" d="M167 201l-5 1l-5 2l-4 1l-5 1l-5 0l-5 1l-5 1l-5 -1l-5 0l-5 1l-5 1l-5 2l-4 1l-5 2l-4 3l-5 1l-5 2l-4 3l-5 1l-5 1l-5 1l-4 2l-5 2l-4 1l-5 0l-5 0l-5 0l-5 1"/><path id="B189" d="M61 237l0 -5l1 -5l1 -5l1 -5l3 -4l2 -4l4 -4l4 -2l5 -1l5 1l5 -1l5 1l5 -1l5 0"/><path id="B190" d="M81 138l-4 3l-4 3l-4 3l-4 2l-5 2l-5 1l-4 3l-3 4l-3 4l-2 5l-2 4l-2 5l-3 4l-3 4l-3 4l-3 4l-2 5l-3 4l-3 3l-4 4l-4 2l-5 1"/><path id="B191" d="M129 90l5 0l5 -1l5 -2l4 -2l5 -1l5 -2l5 1l5 1l5 -1l5 1l5 0l5 -1l5 0l4 -1l5 0l5 1l5 -1"/><path id="B192" d="M156 157l3 -4l4 -3l5 -2l4 -3l2 -4l4 -4l2 -4l2 -5l1 -4l1 -5l-1 -5l-1 -5l-1 -5l-2 -5l-1 -5l-1 -5l-1 -4l0 -5l0 -5l0 -5l0 -5l1 -5l0 -5l2 -5l1 -5l0 -5l1 -5l3 -4l2 -5l2 -4l2 -5l1 -5l2 -5l2 -4l2 -4l3 -4l3 -5l4 -2"/><path id="B193" d="M190 273l-2 4l-4 4l-3 4l-2 4l-2 5l0 5l0 5l1 5l1 5l1 4l2 5l3 4l2 5l3 3l4 4l4 3l4 3l3 4l2 5l1 5l0 5l0 5l2 4l1 5l2 5l2 5l1 4l2 5l0 5l0 5l0 5l-2 5l0 5l1 5l2 4l2 5l3 4l3 4l3 3l5 2l4 3l4 3"/><path id="B194" d="M261 157l4 3l4 4l4 3l3 3l3 4l4 4l4 1l5 2l5 2l4 2l5 2l4 3l4 3l3 4l4 3l5 2l4 1l4 3l5 2l4 3l4 4l2 4l2 4l4 4l4 3"/><path id="B195" d="M207 85l3 -4l4 -3l1 -5l2 -5l2 -4l3 -4l2 -5l2 -4l1 -5l1 -5l0 -5l0 -5l2 -5l0 -5l1 -5l2 -4l2 -5l3 -4l2 -5l2 -4l3 -4l3 -4l2 -5l2 -4l1 -5l-1 -5"/><path id="B196" d="M59 51l1 5l2 5l0 5l1 5l1 4l1 5l1 5l2 5l-1 5l-1 5l-3 4l-3 4l-4 2l-5 1l-5 0l-5 -1l-5 -1l-5 0l-5 1l-4 3l-4 2l-4 3l-5 2l-5 1l-4 3l-4 2"/><path id="B197" d="M78 220l4 -3l4 -3l5 -2l5 0l5 0l5 -1l4 -1l5 -2l5 -1l5 -2l4 -3l5 -1l5 -1l5 0l5 -1l4 -3l5 -1l5 -1l5 1l5 1l5 0l5 1l4 -1l5 -2l5 1l5 1l4 2l4 3l4 4l3 4l4 3l1 5l2 4l1 5l1 5l2 5l1 5l1 4l1 5l3 5l0 5"/><path id="B198" d="M45 252l-4 3l-4 3l-5 2l-5 1l-4 1l-5 3l-4 2l-5 2l-4 2l-5 2l-5 0l-5 -1l-5 0l-5 0l-5 1l-4 2l-5 0l-5 2l-4 3l-5 2l-4 2l-5 2l-4 3l-4 2l-5 3l-5 1l-4 2l-5 2l-4 3l-5 2l-3 3l-5 3l-4 1l-5 2l-5 0l-5 0l-5 -2l-5 -1l-5 0l-5 -1"/><path id="B199" d="M150 297l-5 -1l-5 0l-5 -1l-5 -1l-5 -1l-5 1l-5 1l-4 1l-5 0l-5 -2l-4 -2l-5 -1l-5 -2l-5 -2l-3 -3l-4 -4l-4 -3l-4 -3l-5 -1l-4 -3l-5 -1l-5 0l-5 -2l-5 0l-5 0l-5 1l-5 -2l-4 -1l-4 -3l-5 -3l-4 -1"/><path id="B200" d="M201 279l4 -3l3 -4l3 -4l3 -4l2 -5l2 -4l3 -4l2 -5l1 -5l1 -5l1 -4l1 -5l0 -5l-2 -5l-3 -4l-2 -4l-2 -5l0 -5l0 -5l-1 -5l-2 -5l-2 -4l-3 -4l-4 -3l-3 -4l-3 -4l-5 -2l-4 -3l-5 -1l-5 1l-5 0l-5 0l-5 0l-5 2l-4 3l-4 2l-4 3l-4 3l-3 4l-4 4l-3 4"/><path id="B201" d="M81 298l2 5l1 4l1 5l-1 5l-2 5l-3 4l-2 5l0 5l-1 5l-1 4l-1 5l1 5l-1 5l2 5l1 5l0 5l0 5l-2 5l-2 4l-2 5l-2 4l-1 5l-2 5l-2 5"/><path id="B202" d="M13 201l2 4l3 4l3 4l4 3l5 3l4 3l4 3l4 2l5 2l4 3l5 1l5 1l5 0l5 0l4 1l5 3l4 2l5 2l5 0l5 1l5 -1l5 1l5 -1l5 0l5 -1l5 -1l5 1l5 0l5 1"/><path id="B203" d="M267 34l4 -2l5 -3l4 -2l4 -3l3 -4l3 -4l3 -4l3 -4l3 -4l3 -4l3 -4l4 -4l4 -3l3 -3l4 -4l3 -3"/><path id="B204" d="M273 230l2 5l3 4l4 3l3 3l3 4l2 5l4 3l2 5l3 4l3 4l2 5l3 4l3 4l3 4l3 4l3 4l3 3l3 4l4 4"/><path id="B205" d="M78 237l-5 -1l-5 -1l-5 -1l-5 0l-5 -1l-5 0l-4 2l-5 1l-4 3l-5 2l-3 4l-3 4l-3 4l-4 3l-4 2l-5 1l-5 -1l-5 0l-5 -1l-5 -1l-5 0l-5 1l-5 0l-5 -1l-5 -1l-5 -1l-5 0l-5 -1l-4 -2l-5 -2"/><path id="B206" d="M188 78l3 4l3 4l4 3l4 3l3 4l3 4l2 5l3 4l3 4l4 3l4 2l5 2l5 0l5 -1l4 -2l5 -2l5 0l5 -1l4 -2l5 -2l5 -2l5 0l5 0l5 0l4 1l5 1"/><path id="B207" d="M136 89l-4 -4l-4 -2l-4 -2l-5 -2l-4 -3l-5 -2l-5 -1l-5 0l-5 -2l-5 0l-4 2l-5 2l-5 1l-3 4"/><path id="B208" d="M74 121l-1 -5l0 -5l-1 -5l-1 -5l0 -5l1 -5l1 -4l3 -4l2 -5l4 -3l3 -4l3 -4l3 -4l3 -4l3 -4l2 -5l3 -4l2 -4l4 -4l3 -4l3 -4l4 -3l3 -4l3 -4l1 -5l0 -5l-2 -4l-3 -4l-4 -3l-3 -4l-4 -3l-4 -3l-4 -3"/><path id="B209" d="M225 84l-4 3l-4 3l-4 3l-4 2l-4 4l-4 3l-4 3l-4 2l-5 2l-5 1l-5 1l-5 1l-5 1l-5 1l-5 0l-4 -1l-5 -2l-5 -1l-4 -3l-4 -3l-4 -3l-4 -3l-5 -1l-5 -1l-5 -2l-4 -1l-4 -3l-3 -4l-3 -4l-4 -3l-3 -4l-3 -4l-1 -5l0 -5l0 -5l0 -5l0 -5l1 -5"/><path id="C0" d="M206 160l0 5l1 5l2 5l3 3l1 5l0 5l0 5l-1 5l-2 5l-2 4l-1 5l-2 5l-2 4l-3 5l-3 3l-4 3l-4 3"/><path id="C1" d="M31 117l5 -1l5 1l5 0l5 2l4 2l5 -1l5 -1l5 -1l5 -2l4 -1l5 -1l5 -1l5 -1"/><path id="C2" d="M106 171l-4 3l-3 4l-5 2l-4 3l-3 4l-2 4l-3 4l-3 4l-3 4l-4 4l-5 2l-4 0l-5 3l-4 2l-5 0l-5 0l-5 1"/><path id="C3" d="M-13 201l3 4l3 4l5 2l5 0l5 1l5 0l5 0l5 0l5 0l5 1l5 0l5 1l4 3l4 3l3 4l4 2l5 2l5 1l3 4l4 3l3 4l3 4l4 3l5 1l5 1l5 2l5 1l4 1l5 0l5 -1"/><path id="C4" d="M153 90l-5 2l-4 1l-5 1l-5 2l-5 2l-5 0l-4 -1l-5 2l-4 4l-4 2l-5 2l-5 0l-4 3"/><path id="C5" d="M188 73l5 0l5 2l4 1l4 3l4 4l4 3l4 2l4 4l3 4l4 3l3 3l4 3l4 3l3 4l4 4l3 4l5 0l5 1l5 3l3 3l3 4l4 3l4 3l5 2l5 1l5 1l5 1l5 1l4 2l5 2l3 3l3 4l3 5l1 4"/><path id="C6" d="M176 243l4 3l4 3l4 3l4 3l3 4l2 5l1 4l0 5l-1 5l-2 5l-2 5l-2 4l-3 4l-3 4l-4 3l-3 4l-4 3l-4 4l-3 3l-4 3l-5 2l-5 -1l-5 -1l-5 0l-5 0l-5 -1l-4 -1l-5 -1l-5 -2"/><path id="C7" d="M247 33l-5 1l-5 0l-5 0l-5 -2l-5 0l-5 1l-5 1l-4 1l-4 3l-5 3l-4 2l-3 4l-3 4l-4 4l-4 2l-4 3l-4 3l-4 3l-5 2l-4 3l-4 3l-3 4l-4 3l-4 3l-4 3l-4 3l-4 3l-4 3l-4 3l-3 4"/><path id="C8" d="M180 -14l-5 1l-5 1l-5 1l-5 1l-5 0l-5 0l-5 1l-5 0l-5 0l-5 0l-5 0l-5 0l-5 -1l-4 2l-5 0l-5 1l-5 2l-5 1l-4 2l-5 2l-4 2l-4 4l-4 2l-4 4"/><path id="C9" d="M271 276l-5 -1l-5 -1l-5 -1l-5 -1l-5 0l-4 -1l-5 0l-5 -2l-5 -1l-5 -1l-5 1l-5 -1l-5 1l-5 -1l-5 -1l-5 -1l-5 0l-5 0l-4 -2l-5 0l-5 2l-5 1l-5 1l-4 3l-3 4l-3 4l-4 3l-4 3l-4 2"/><path id="C10" d="M17 45l2 -5l2 -4l3 -4l1 -5l2 -5l3 -4l1 -5l2 -4l0 -5l2 -5l3 -4l2 -4l2 -5l1 -5l-1 -5l2 -5l3 -4"/><path id="C11" d="M238 107l4 3l3 4l3 4l3 4l4 3l4 3l4 3l5 1l5 2l4 3l4 2l5 2l5 1l5 0l5 1l4 2l5 2l4 2l5 1l5 2l5 1"/><path id="C12" d="M291 12l0 5l0 5l2 5l0 5l0 5l0 5l-2 5l-2 4l-3 4l-3 4l-2 4l-2 5l-4 3l-4 3l-4 3l-4 4l-2 4l-3 4l-4 3l-2 5l-2 4l-3 5l0 5l-1 5l0 5l0 5l-1 5l0 4l1 5l0 5l0 5l1 5l1 5l1 5"/><path id="C13" d="M286 110l2 -5l1 -4l1 -5l3 -5l0 -5l0 -5l-2 -5l0 -5l2 -4l1 -5l2 -5l1 -5"/><path id="C14" d="M205 26l-3 4l-2 5l-3 4l-4 3l-3 4l-4 2l-4 3l-5 2l-4 3l-4 2l-5 3l-4 3l-4 3l-4 3l-3 4l-3 4l-3 3l-4 4l-4 3l-2 5l-4 3l-3 4l-3 4l-1 5l-2 4l-3 4"/><path id="C15" d="M95 296l5 0l5 1l5 -1l5 -1l4 -3l5 -1l5 -1l5 -1l5 1l4 -1l5 -1l5 0l5 1l5 2l4 2l4 3l2 5l4 3l4 3l2 5l2 5l3 3l5 3l4 3l4 2l4 3l5 2l4 2l5 2l4 2l4 3l2 5l1 5l1 5"/><path id="C16" d="M139 136l-3 -4l-3 -4l-3 -4l-1 -5l-2 -4l-3 -5l-1 -4l-1 -5l0 -5l-1 -5l2 -5l0 -5l1 -5l3 -4l4 -3l3 -4l4 -4l1 -4l2 -5l1 -5"/><path id="C17" d="M139 25l4 3l4 3l4 3l4 2l5 3l4 2l5 0l5 1l5 0l5 0l4 -3l5 -1l5 -1l5 -1l4 -3l5 -2l4 -3l5 -1l4 -2l4 -3l5 -2l4 -3l4 -2l3 -5l2 -4l1 -5l2 -5l0 -5l0 -5l-2 -4l-2 -5l-2 -4l-2 -5l-2 -5"/><path id="C18" d="M165 194l-5 2l-4 3l-4 3l-4 3l-4 2l-5 2l-3 3l-5 3l-3 3l-5 3l-3 4l-3 4"/><path id="C19" d="M57 296l5 0l5 0l5 0l5 0l5 -1l5 -1l5 0l5 -1l4 -1l5 -3l4 -3l4 -2l5 -2l4 -3l4 -3l4 -3l4 -3l3 -4l2 -4"/><path id="C20" d="M104 131l0 5l1 5l3 4l1 4l2 5l3 4l0 5l0 5l0 5l3 5l2 4l0 5l0 5l2 5l1 5l-1 5l-2 4l-3 4l-2 5l0 5l1 5l2 5l1 4l1 5l2 5"/><path id="C21" d="M176 76l3 4l3 4l2 5l0 5l1 5l0 5l1 5l0 5l0 5l-2 4l0 5l0 5l1 5l0 5l-2 5l-3 4l-3 4l-2 4l-4 4l-3 4l-4 3l-4 3l-2 4l-4 4"/><path id="C22" d="M142 107l-1 5l2 5l2 4l3 4l5 2l5 1l5 0l4 2l5 0l5 0l5 -1l5 -1l5 -2l4 -3l4 -2l5 -2l5 -1l4 -2l5 0l5 0l5 -1l5 -1l5 0l5 1l5 -1l5 -1l5 -1"/><path id="C23" d="M219 247l5 2l4 1l5 2l5 2l2 4l3 5l1 5l2 4l2 5l0 5l0 5l0 5l-1 5l0 5l0 5l0 5l-2 4"/><path id="C24" d="M223 205l-5 -2l-5 0l-5 -1l-5 0l-5 -1l-5 1l-4 1l-5 1l-4 3l-4 3l-4 4l-1 4l-2 5"/><path id="C25" d="M100 96l-5 0l-5 0l-5 2l-4 3l-5 1l-4 1l-5 1l-5 2l-4 3l-4 3l-3 4l-3 4l-4 3l-4 3l-5 0l-5 2l-5 1l-5 0l-5 0l-4 -1l-5 -1l-5 -1l-5 -1l-5 0l-5 0l-4 3l-4 3l-4 3l-4 3l-3 4"/><path id="C26" d="M260 149l0 -5l0 -5l2 -5l2 -4l3 -4l3 -4l3 -4l3 -4l4 -3l3 -4l4 -3l4 -4l4 -2l4 -3l4 -3l4 -3l5 -2l4 -2l5 -2l4 -3"/><path id="C27" d="M86 -9l-1 -5l-3 -4l-2 -5l-3 -3l-3 -4l-3 -5l-4 -3l-4 -2l-5 -2l-4 -3l-4 -2l-4 -3l-5 -3l-4 -1l-5 -1l-5 -1l-5 0l-5 2l-5 1l-4 3l-4 3l-4 4"/><path id="C28" d="M66 191l0 -5l2 -5l1 -4l1 -5l-1 -5l-2 -5l-3 -4l-2 -5l-2 -4l-1 -5l0 -5l0 -5l1 -5l3 -4l2 -5l3 -4l3 -4l3 -3l3 -4l4 -4l3 -4l2 -4l5 -3l4 -2l5 -1l5 0l5 0"/><path id="C29" d="M95 246l-2 5l-2 4l-1 5l-2 5l-4 3l-3 4l-2 5l-3 4l-4 3l-4 3l-4 1l-5 1l-5 0l-5 -1l-5 -1l-5 0l-5 1l-5 1l-4 2l-4 3l-4 4l-3 4l-3 4l-1 5l-1 4l0 5l-2 5l-3 4l-4 4"/><path id="C30" d="M245 234l-5 2l-4 3l-2 4l-1 5l-1 5l0 5l0 5l2 5l0 5l0 5l3 4l4 3l2 5l2 4l2 5l2 4l3 4l2 5l3 4l4 4l3 3l4 3l4 3l3 4l4 3l2 5l3 4l3 4l2 5l3 4l3 3l4 3l5 3l4 1"/><path id="C31" d="M-14 86l1 5l0 5l2 5l3 4l2 4l3 4l3 4l4 3l4 3l5 2l4 2l5 2l5 1l5 -1l5 0"/><path id="C32" d="M206 89l3 -4l2 -5l2 -4l2 -5l2 -4l3 -4l4 -3l5 -1l5 -1l5 2l5 1l4 1l5 1l5 0l5 2l5 0l5 2l4 2l5 3l4 1"/><path id="C33" d="M102 230l2 4l2 5l1 5l2 5l2 4l1 5l3 4l1 5l1 5l0 5l0 5l0 5l0 5l-1 5l0 5l0 5l1 5l0 5l0 5l-1 5l0 5l2 4l2 5l0 5l0 5l-3 4l-2 4"/><path id="C34" d="M90 246l2 -4l4 -4l4 -3l5 -2l4 -2l4 -3l5 -2l3 -4l3 -4l3 -4l3 -4l4 -3l4 -3l3 -4l3 -4l2 -4l2 -5l1 -5l1 -5l-1 -5l-2 -5l0 -5l-1 -5l-1 -4l-2 -5l-2 -5l0 -5l-2 -4l-2 -5l-2 -4"/><path id="C35" d="M151 82l5 -1l5 -1l5 1l4 1l5 2l5 2l5 1l4 1l5 2l5 2l4 2l5 2l4 2l4 3l4 4"/><path id="C36" d="M-10 223l3 4l4 3l3 4l3 4l4 3l4 3l4 3l4 3l4 3l4 3l4 2l4 4l3 4l4 4l4 2l5 2l4 2l4 3l4 3l5 2l4 3l4 3l2 4l3 4l3 4l3 4l3 4l3 4l4 3"/><path id="C37" d="M106 258l-4 3l-4 3l-4 3l-4 3l-4 3l-4 3l-5 1l-5 1l-4 2l-5 2l-4 3l-5 1l-5 0l-5 -1l-5 -1l-5 0"/><path id="C38" d="M126 262l-4 -3l-5 -1l-5 -1l-5 0l-5 -1l-4 -3l-5 0l-5 -1l-5 0l-5 0l-5 -2l-5 0l-5 0l-5 -1l-5 -1l-5 0l-4 -2l-5 -2l-5 -2l-4 -2l-5 -1l-5 -2l-4 -3l-5 -1l-4 -2"/><path id="C39" d="M237 106l2 -5l3 -4l3 -4l4 -3l3 -4l3 -4l3 -3l4 -4l3 -4l3 -4l3 -4l4 -3"/><path id="C40" d="M173 254l-5 1l-5 0l-5 -1l-4 -3l-4 -3l-4 -3l-3 -4l-2 -5l-2 -4l-2 -5l-2 -4l-1 -5l2 -5l3 -4l2 -5l2 -4l2 -5l-1 -5"/><path id="C41" d="M286 225l-2 4l-2 5l-2 5l-3 3l-4 3l-5 3l-4 3l-3 4l-3 4l-2 4l-2 5l-4 3l-3 4l-4 4l-2 4l-3 4l-2 5l-3 4l-3 4l-4 2l-4 3l-3 4l-3 4l-4 3l-4 4l-4 2l-5 1l-4 3l-3 4l-3 4l-2 5l-3 4"/><path id="C42" d="M62 6l-2 -5l-2 -4l-2 -5l-1 -5l-3 -4l-3 -4l-3 -4l-3 -4l-3 -3l-3 -5l-3 -4l-3 -3l-5 -3l-4 -3l-4 -3l-3 -3l-4 -3l-4 -3l-4 -3"/><path id="C43" d="M201 158l5 0l5 -1l5 -1l5 1l5 2l4 1l5 2l5 0l5 1l5 -1l5 0l5 -1l4 -2l5 -3l4 -2l4 -3l5 -2l5 -1l5 0l5 0l5 0l5 0l5 0l5 -1l4 -2l5 -2l4 -3l4 -2l5 -3l4 -3"/><path id="C44" d="M21 286l0 -5l-1 -5l-2 -5l-2 -4l-3 -4l0 -5l-2 -5l0 -5l-1 -5l-3 -4l-2 -5l-3 -4l-4 -3l-3 -4l-4 -3"/><path id="C45" d="M85 169l3 4l3 4l4 3l3 5l2 4l3 4l1 5l4 3l4 3l4 3l4 4l3 3l2 5"/><path id="C46" d="M114 14l-5 -2l-4 -2l-4 -3l-4 -4l-4 -2l-5 -2l-4 -1l-5 0l-5 -3l-4 -2l-5 -3l-3 -3l-4 -3l-4 -4"/><path id="C47" d="M202 260l0 -5l-1 -5l-2 -4l0 -5l-1 -5l-1 -5l-1 -5l-1 -5l0 -5l2 -5l3 -3l4 -3l4 -3l5 -3l4 -1l5 -2"/><path id="C48" d="M169 81l5 -1l4 -3l5 0l5 -2l4 -3l5 -2l4 -2l5 -2l4 -3l2 -5l2 -4l1 -5l0 -5l3 -4l2 -5l2 -4l3 -5l3 -4l1 -4l1 -5l-1 -5l-3 -5l-1 -4l-3 -5l1 -5l1 -5l2 -4"/><path id="C49" d="M35 267l5 0l5 1l5 2l5 1l4 2l4 2l4 3l4 4l3 4l4 3l3 4l2 4l2 5l-1 5l0 5l0 5l0 5l-1 5l0 5l0 5l0 5"/><path id="C50" d="M282 249l-5 -1l-4 -2l-5 0l-5 -1l-4 -4l-4 -3l-1 -5l-3 -4l-2 -4l-3 -4l-4 -4l-3 -4l-2 -4l-3 -5l-2 -4"/><path id="C51" d="M184 165l-1 -5l-1 -5l-1 -5l0 -5l-1 -4l-2 -5l-3 -4l-3 -4l-4 -4l-3 -3l-4 -4l-5 0l-5 0l-4 3l-5 1l-5 2l-5 0l-5 0l-5 0l-5 -1l-5 0"/><path id="C52" d="M269 104l-3 4l-3 4l-2 5l-3 3l-5 2l-5 2l-4 1l-5 3l-5 1l-4 2l-5 1l-5 2l-4 2l-3 4"/><path id="C53" d="M162 159l-5 -2l-5 0l-5 0l-5 0l-5 0l-5 -1l-5 -1l-4 -2l-4 -2l-5 -2l-5 -2l-5 -1"/><path id="C54" d="M204 18l5 -1l5 -1l5 1l5 0l4 2l4 3l3 5l1 5l2 4l1 5l0 5l-1 5"/><path id="C55" d="M-3 256l3 4l2 5l3 4l2 4l1 5l-2 5l-2 5l-2 4l0 5l-3 4l-3 5l-4 3l-4 2l-5 2"/><path id="C56" d="M93 148l-2 5l-2 4l-2 5l-1 5l-2 4l-2 5l-2 4l-1 5l0 5l2 5l1 5l1 5l2 4l2 5l2 4l3 5l2 4l4 3l4 3l5 2l4 2l5 3l3 3l3 4l3 4l2 5l2 4l2 5l2 4l3 5l3 4l3 4l4 3l4 3"/><path id="C57" d="M169 68l3 4l3 4l4 3l3 4l4 3l4 3l4 3l4 3l4 3l4 2l5 2l4 3l5 2l4 2l5 1l5 1l5 1l5 0l5 0l5 0l5 -1l5 -1l4 -3l5 -1l5 -2l4 -1l5 -1"/><path id="C58" d="M270 120l3 4l4 4l3 3l4 3l3 4l3 4l3 4l2 5l3 4l3 3l4 3l5 2l3 4l4 4l3 3l4 4l4 2l5 2l4 2l4 3l3 4l3 4l3 4l2 5l3 4l4 3l4 3"/><path id="C59" d="M3 160l-4 2l-5 2l-5 0l-5 0l-5 -1l-5 1l-5 0l-5 0l-5 1l-5 2l-4 2l-4 3l-4 3l-5 2"/><path id="C60" d="M207 59l1 5l1 5l1 5l1 5l2 4l0 5l1 5l1 5l2 5l2 4l1 5l2 5l0 5"/><path id="C61" d="M74 81l0 5l1 5l1 5l-1 5l-2 4l-2 5l-1 4l0 5l1 5l0 5l1 5l3 5l2 4l3 4l4 3l4 4l4 2l4 3l4 3l4 3l4 3l4 3l4 3l3 4l3 4l3 4"/><path id="C62" d="M97 41l4 3l5 2l4 2l4 3l4 3l5 2l4 3l4 3l4 3l3 4l2 4l3 5l4 3l3 4l4 3l5 1l4 3l5 2l4 2l5 2l4 2l5 1l4 3l3 4"/><path id="C63" d="M52 176l-5 0l-5 1l-4 3l-5 2l-5 1l-4 2l-5 1l-5 1l-5 1l-5 2l-5 1l-5 0l-4 -1l-4 -3l-5 -3l-4 -2l-5 0l-5 0l-5 1l-5 0l-5 0l-5 -1l-5 -1l-5 2l-4 2l-5 2l-4 2l-5 1l-5 0l-5 -2l-5 0l-5 -2"/><path id="C64" d="M127 261l4 3l4 4l1 4l0 5l0 5l0 5l1 5l1 5l1 5l0 5l0 5l2 5l0 4l2 5l-1 5l-1 5l1 5l0 5l1 5l2 5l2 4l3 4l4 3l4 3l5 3"/><path id="C65" d="M162 93l5 0l5 2l5 0l5 0l5 0l5 0l4 1l5 3l4 2l5 2l4 3l5 1l5 0l4 2l5 2l5 1l5 0l5 0"/><path id="C66" d="M169 211l1 5l2 4l1 5l1 5l1 5l1 5l-1 5l0 5l1 5l1 5l2 4l2 5l2 5l2 4l1 5l0 5l-2 5l-1 5l-1 4l-2 5l-3 4l-3 4l-4 3l-4 3l-4 3l-5 2"/><path id="C67" d="M162 214l5 -2l5 -1l4 -1l5 -2l5 -1l5 -1l5 0l5 2l4 2l4 3l4 3l3 4l3 4l4 3l5 1l5 1l4 2l4 3l4 3l5 2l4 3l3 4l4 4l2 4l3 4l2 4l3 4l4 4l3 4"/><path id="C68" d="M235 194l4 3l3 4l3 4l4 4l3 3l3 4l3 4l3 4l4 3l4 3l4 3l3 4"/><path id="C69" d="M68 -5l5 0l5 0l5 -1l5 -1l5 0l5 0l4 -2l5 -1l5 -1l5 -1l5 0l5 2l4 2l5 1l5 1l5 1l5 0l5 0l5 1"/><path id="C70" d="M122 79l1 5l0 5l2 5l1 5l3 4l1 5l2 4l3 4l1 5l-1 5l1 5l1 5l3 4l2 4l2 5l2 4l2 5l2 5l2 4l2 5l4 3l2 5"/><path id="C71" d="M178 0l5 2l4 2l5 1l5 0l5 0l5 0l5 -1l5 1l5 0l5 -1l5 -2l4 -1l5 -2l5 -1l5 -2l5 0l4 1l5 0l5 0l5 -1l5 -1l5 -2l4 -3l4 -2l4 -3l3 -4l3 -4l2 -5l2 -4l0 -5"/><path id="C72" d="M200 155l-5 -1l-5 1l-4 2l-4 3l-5 1l-5 3l-4 1l-5 3l-5 1l-4 3l-5 0l-4 2l-5 3l-4 2l-5 2l-5 1l-4 2l-5 2l-4 2l-5 2l-5 1l-5 0l-5 1l-5 1l-5 0l-4 -1l-5 -1l-5 -1"/><path id="C73" d="M23 57l-2 5l0 5l0 5l1 5l1 4l0 5l0 5l-3 5l-2 4l-3 4l-3 4l-3 4l-4 3"/><path id="C74" d="M260 115l5 1l5 -1l5 -1l5 0l5 0l5 0l5 -1l5 0l5 0l5 0l4 -1l5 -3l4 -2l4 -3l5 -1l4 -4l4 -3l4 -3l4 -2"/><path id="C75" d="M241 47l-4 3l-5 1l-5 1l-5 0l-5 -1l-5 0l-4 1l-5 1l-5 -1l-5 0l-5 0l-5 1l-5 1l-5 1l-5 0l-5 0l-5 1l-4 2l-5 1l-5 0l-5 0"/><path id="C76" d="M244 209l-5 -2l-4 -2l-4 -3l-5 -2l-3 -3l-5 -3l-4 -2l-4 -3l-4 -3l-5 -2l-5 -1l-5 -1l-5 0l-4 2l-4 3l-4 3l-5 1l-5 2l-5 1l-4 2"/><path id="C77" d="M121 231l-2 5l-2 4l-1 5l-1 5l-1 5l-2 4l-2 5l0 5l-2 5l-2 4l-1 5l-1 5l-2 5l-2 4l-2 5"/><path id="C78" d="M145 148l4 3l2 5l2 5l2 4l3 4l3 4l3 4l3 4l3 4l2 5l1 4l3 5l3 3l3 4l5 3l4 2"/><path id="C79" d="M269 130l-4 3l-4 4l-3 3l-4 3l-4 3l-3 4l-3 4l-4 4l-4 2l-4 2l-5 1l-5 1l-5 0l-5 -1l-5 0l-5 -1l-5 0l-5 1l-5 0l-5 -1l-5 -1l-5 0l-5 0l-5 1l-4 2l-5 2l-5 0"/><path id="C80" d="M147 108l-5 -1l-5 -2l-5 1l-5 0l-5 -1l-4 -2l-5 0l-5 2l-5 1l-5 0l-5 0l-5 -1l-5 -1l-5 -1l-4 -1l-5 -2l-5 -2l-4 -1l-5 -3l-4 -1l-5 -1l-5 0l-5 1l-5 1l-5 1l-5 1"/><path id="C81" d="M151 218l1 5l2 5l1 4l2 5l1 5l0 5l2 5l2 4l1 5l2 5l3 4l1 5l1 5l2 4l2 5l2 4l2 5l0 5"/><path id="C82" d="M70 106l-5 1l-5 0l-5 1l-5 1l-5 1l-5 0l-5 1l-5 0l-4 -1l-5 -1l-5 -1l-5 0l-5 0l-5 -1l-5 -2l-4 -3l-4 -3l-5 1l-5 0"/><path id="C83" d="M229 54l-4 2l-5 2l-5 -1l-5 0l-5 -2l-4 -2l-5 -1l-5 -2l-5 -1l-5 -1l-5 -1l-5 1l-5 -1l-5 0l-5 -1l-5 0l-4 -1l-5 -2l-3 -4l-5 -2l-3 -4l-4 -3l-5 -2l-4 -3l-3 -3l-3 -4l-3 -4l-3 -4l-3 -4l-4 -4l-2 -4l-2 -5l0 -5l0 -5l1 -5"/><path id="C84" d="M223 114l-4 -3l-4 -2l-5 -2l-4 -2l-5 -2l-5 -2l-3 -4l-4 -3l-4 -3l-4 -3l-3 -4l-2 -5l-3 -4l-3 -4l-3 -3l-3 -5l-2 -4l-2 -5l-1 -5l-2 -4l-3 -4l-3 -4l-3 -4l-2 -5l-1 -5l-2 -4l-3 -5l-2 -4l0 -5l-2 -5l-2 -5l-2 -4l-2 -4"/><path id="C85" d="M222 263l-4 -3l-5 -2l-4 -3l-4 -2l-4 -3l-5 -2l-4 -2l-5 -3l-4 -3l-4 -2l-4 -3l-4 -3l-4 -3l-4 -2l-5 -3l-3 -3l-5 -3l-4 -3l-4 -3l-3 -4l-3 -3l-4 -4l-3 -4l-3 -4l-4 -3l-3 -4l-5 -1l-5 -1"/><path id="C86" d="M283 246l4 -4l2 -4l4 -4l3 -3l2 -5l2 -4l2 -5l2 -4l2 -5l1 -5l2 -5l0 -5l1 -5l0 -5l1 -4l-1 -5l1 -5l1 -5l1 -5l-1 -5l1 -5l-1 -5l1 -5l2 -5l1 -4l2 -5l3 -4"/><path id="C87" d="M202 166l2 5l0 5l2 4l3 4l3 4l3 4l3 5l2 4l1 5l1 5l1 5l1 5l3 4"/><path id="C88" d="M96 119l-3 -4l-4 -3l-5 -2l-4 -3l-3 -4l-2 -4l-1 -5l-1 -5l0 -5l2 -5l3 -4l3 -4l3 -4l3 -4l4 -3l4 -3l3 -4l3 -3l4 -4l4 -3l4 -3l4 -3l5 -2l4 -3l3 -4"/><path id="C89" d="M211 -9l-3 -4l-1 -5l-1 -5l-2 -4l-3 -4l-3 -4l-2 -5l-2 -5l-1 -5l-1 -4l-1 -5l0 -5l0 -5l-1 -5l-1 -5"/><path id="C90" d="M-8 27l2 4l0 5l1 5l2 5l2 4l4 4l2 4l1 5l1 5l3 5l3 3l4 4l4 3l4 1l5 2l5 1l5 2l4 2l5 1l5 2l4 1l5 0l5 0l5 0l5 -1"/><path id="C91" d="M169 17l0 -5l0 -5l0 -5l-1 -5l0 -5l1 -5l2 -5l1 -4l3 -4l3 -4l4 -4l4 -3l4 -3l3 -3l4 -3l3 -4l4 -3l4 -3l4 -3l5 -3l4 -2l5 0l5 -1l5 0"/><path id="C92" d="M218 71l4 2l5 1l5 0l5 0l5 0l5 1l5 1l5 2l4 3l4 3l4 2l4 4l3 3l4 4l3 3l4 3l4 3l4 3l5 2"/><path id="C93" d="M53 22l-3 -4l-3 -4l-3 -4l-2 -5l-1 -5l-1 -4l-2 -5l0 -5l0 -5l1 -5l2 -5l3 -4l3 -3l4 -3l5 -3l4 -2"/><path id="C94" d="M202 72l4 -2l5 -1l4 -3l3 -4l4 -4l3 -4l2 -4l2 -5l1 -5l1 -5l1 -5l1 -5l0 -5l-2 -4l-2 -5l-4 -4l-3 -3l-4 -3l-4 -3l-5 -2l-4 -2l-4 -3"/><path id="C95" d="M151 80l-5 2l-3 3l-5 2l-4 3l-5 2l-4 3l-4 3l-3 4l-4 3l-3 4l-3 4l-3 4l-3 4l-3 4l-3 4l-4 3l-4 3l-4 2l-4 3l-5 2l-5 2l-5 1l-5 0l-4 2l-5 1"/><path id="C96" d="M76 258l1 -5l0 -5l0 -5l-2 -4l-4 -4l-3 -4l-2 -4l-3 -4l-4 -4l-3 -3l-5 -3l-3 -3l-4 -4l-3 -3l-3 -4l-3 -4l-3 -5l-2 -4l-3 -4l-4 -3l-2 -5l0 -5l0 -5l-1 -5l0 -5l1 -5l1 -4l2 -5l1 -5l0 -5l2 -5l1 -5l0 -5"/><path id="C97" d="M121 272l-2 5l-1 5l0 5l0 5l1 4l2 5l1 5l2 4l1 5l1 5l0 5l2 5l3 4l3 4l3 3l4 3l5 2l5 1"/><path id="C98" d="M255 11l5 -1l5 1l5 1l5 1l4 1l5 2l5 1l5 2l4 1l5 1l5 0l5 0l5 -1l5 0l5 0l5 -1l5 0l5 -1l5 1l5 0l5 0l5 -1l5 -1l5 1l5 1l4 3l4 3l3 3l4 3l4 4l2 4l2 5"/><path id="C99" d="M290 168l-5 0l-5 0l-4 3l-5 3l-2 4l-3 4l-2 4l-2 5l-3 4l-3 4l-2 5l-3 4l-1 5l-2 4l-1 5l-1 5l0 5l0 5l-1 5l1 5l1 5l2 4l4 4l5 2l4 3l5 1"/><path id="C100" d="M111 70l2 -5l2 -4l3 -4l2 -4l1 -5l0 -5l0 -5l-1 -5l-1 -5l-4 -3l-4 -4l-2 -4l-2 -5l-3 -4l-2 -4l-3 -4l-4 -4l-3 -4l-3 -4l-3 -4l-3 -4l-3 -4l-4 -3l-3 -4l-4 -3l-5 -2l-5 -1l-4 2"/><path id="C101" d="M100 163l5 0l5 0l5 2l4 1l5 1l5 1l5 -1l5 -1l5 -2l4 -2l5 -2l3 -4l4 -3l5 -1l5 0l5 -1l5 0l4 2l5 2l4 3l5 2l3 4l3 3l4 4l4 3l3 4l3 4l3 4l3 3l4 3l4 4"/><path id="C102" d="M114 57l-3 -4l-3 -4l-3 -4l-4 -3l-4 -2l-5 -2l-5 -2l-5 0l-5 0l-5 1l-4 3l-4 3l-4 3l-4 3l-4 3l-2 5l-2 4l-3 4"/><path id="C103" d="M251 236l-5 1l-5 1l-5 1l-4 2l-5 2l-4 3l-3 4l-5 2l-5 2l-4 3l-3 3l-4 3l-3 4l-4 4l-2 4l-3 4l-3 4l-3 4l-1 5l-2 5l-1 5l-4 3l-2 4l-4 4l-3 4l-3 3l-4 4l-1 5l-2 5l-3 4"/><path id="C104" d="M69 274l5 0l5 1l5 1l5 1l5 0l5 0l4 2l5 2l4 2l5 3l4 2l4 3l4 3l5 2l4 3l3 3l5 2l5 2l5 1l5 0l5 0l4 2l5 1l5 1l4 3l5 2l4 1l5 1l5 2"/><path id="C105" d="M23 133l-1 5l1 5l-1 5l-2 5l-2 4l-3 4l-3 4l-3 4l-4 3l-3 4l-2 5l-1 5l-1 5l0 5l2 4l3 4l3 4l2 5l2 4l2 5l2 4l3 4l3 5l0 5l2 5l2 4"/><path id="C106" d="M191 80l0 -5l-1 -5l-3 -4l-2 -5l-1 -5l-2 -4l-2 -5l-3 -4l-2 -4l-4 -4l-3 -4l-3 -3l-4 -3l-4 -3l-5 -2l-4 -2l-4 -3l-5 -3l-4 -2l-4 -3l-5 -2"/><path id="C107" d="M-1 249l5 1l5 1l5 1l5 -1l5 1l5 0l5 1l5 1l4 1l5 1l5 0l5 -1l5 -1l5 -1l5 0l5 1l5 1l4 2"/><path id="C108" d="M72 116l2 5l2 4l2 5l1 5l1 4l-1 5l-1 5l-2 5l-2 4l-2 5l-2 5l-2 4l-2 5l0 5l0 5l0 4l-1 5l1 5l1 5l1 5l1 5l2 4l0 5l2 5l3 5l2 4l2 4l4 4l1 4"/><path id="C109" d="M102 121l5 1l5 0l5 -1l5 0l5 -1l5 0l5 -1l5 1l5 1l5 1l4 1l5 0l5 3l4 3l3 4l2 4l3 5l3 4l2 4l3 4l2 5l3 4l4 2l4 3l4 3"/><filter id="blurc" x="-50%" y="-50%" width="200%" height="200%"><feGaussianBlur stdDeviation="0.6"/></filter><filter id="blurf" x="0" y="0" width="100%" height="100%"><feGaussianBlur stdDeviation="0.6"/></filter><clipPath id="clip0"><rect x="7" y="289" width="283" height="283"/></clipPath><clipPath id="clip1"><rect x="338" y="289" width="283" height="283"/></clipPath><clipPath id="clip2"><rect x="628" y="289" width="283" height="283"/></clipPath><clipPath id="clip3"><rect x="917" y="289" width="283" height="283"/></clipPath><g id="A" fill="none" stroke-width="1.15"><use href="#A0" stroke="#4e4e4e"/><use href="#A0" stroke="#aaaaaa" stroke-width="1.7" stroke-dasharray="3,3,3,7,3,16"/><use href="#A1" stroke="#3a3a3a"/><use href="#A1" stroke="#737373" stroke-width="1.7" stroke-dasharray="2,16,3,16,2,7"/><use href="#A2" stroke="#434343"/><use href="#A2" stroke="#9d9d9d" stroke-width="1.7" stroke-dasharray="1,3,1,9,1,3"/><use href="#A3" stroke="#6a6a6a"/><use href="#A3" stroke="#e1e1e1" stroke-width="1.7" stroke-dasharray="1,12,2,16,1,16"/><use href="#A4" stroke="#5f5f5f"/><use href="#A4" stroke="#d4d4d4" stroke-width="1.7" stroke-dasharray="2,16,1,9,1,9"/><use href="#A5" stroke="#656565"/><use href="#A5" stroke="#a6a6a6" stroke-width="1.7" stroke-dasharray="3,3,2,5,3,3"/><use href="#A6" stroke="#4d4d4d"/><use href="#A6" stroke="#dddddd" stroke-width="1.7" stroke-dasharray="3,7,3,5,2,5"/><use href="#A7" stroke="#4c4c4c"/><use href="#A7" stroke="#dedede" stroke-width="1.7" stroke-dasharray="1,5,1,3,2,7"/><use href="#A8" stroke="#6d6d6d"/><use href="#A8" stroke="#fbfbfb" stroke-width="1.7" stroke-dasharray="3,5,1,12,1,3"/><use href="#A9" stroke="#535353"/><use href="#A10" stroke="#434343"/><use href="#A10" stroke="#d7d7d7" stroke-width="1.7" stroke-dasharray="1,7,3,16,1,3"/><use href="#A11" stroke="#494949"/><use href="#A11" stroke="#c8c8c8" stroke-width="1.7" stroke-dasharray="3,16,1,3,3,5"/><use href="#A12" stroke="#6a6a6a"/><use href="#A12" stroke="#d6d6d6" stroke-width="1.7" stroke-dasharray="1,16,3,7,2,5"/><use href="#A13" stroke="#3c3c3c"/><use href="#A13" stroke="#959595" stroke-width="1.7" stroke-dasharray="3,3,2,9,2,3"/><use href="#A14" stroke="#494949"/><use href="#A14" stroke="#989898" stroke-width="1.7" stroke-dasharray="2,9,1,7,2,12"/><use href="#A15" stroke="#5c5c5c"/><use href="#A15" stroke="#b7b7b7" stroke-width="1.7" stroke-dasharray="3,5,2,7,2,3"/><use href="#A16" stroke="#6a6a6a"/><use href="#A16" stroke="#b6b6b6" stroke-width="1.7" stroke-dasharray="3,3,1,12,2,9"/><use href="#A17" stroke="#5d5d5d"/><use href="#A17" stroke="#eeeeee" stroke-width="1.7" stroke-dasharray="2,12,1,5,2,9"/><use href="#A18" stroke="#5b5b5b"/><use href="#A18" stroke="#cccccc" stroke-width="1.7" stroke-dasharray="1,16,2,3,2,3"/><use href="#A19" stroke="#686868"/><use href="#A19" stroke="#ebebeb" stroke-width="1.7" stroke-dasharray="2,16,1,12,1,7"/><use href="#A20" stroke="#484848"/><use href="#A21" stroke="#282828"/><use href="#A22" stroke="#5f5f5f"/><use href="#A22" stroke="#a1a1a1" stroke-width="1.7" stroke-dasharray="3,3,1,9,2,9"/><use href="#A23" stroke="#484848"/><use href="#A23" stroke="#7b7b7b" stroke-width="1.7" stroke-dasharray="3,5,2,3,3,12"/><use href="#A24" stroke="#4f4f4f"/><use href="#A24" stroke="#858585" stroke-width="1.7" stroke-dasharray="2,3,2,12,2,12"/><use href="#A25" stroke="#6d6d6d"/><use href="#A25" stroke="#f1f1f1" stroke-width="1.7" stroke-dasharray="1,5,2,7,1,16"/><use href="#A26" stroke="#323232"/><use href="#A26" stroke="#6c6c6c" stroke-width="1.7" stroke-dasharray="1,5,3,16,1,7"/><use href="#A27" stroke="#2b2b2b"/><use href="#A27" stroke="#b7b7b7" stroke-width="1.7" stroke-dasharray="3,16,3,9,3,12"/><use href="#A28" stroke="#2c2c2c"/><use href="#A28" stroke="#c1c1c1" stroke-width="1.7" stroke-dasharray="2,16,3,3,2,9"/><use href="#A29" stroke="#383838"/><use href="#A30" stroke="#2f2f2f"/><use href="#A30" stroke="#b6b6b6" stroke-width="1.7" stroke-dasharray="1,16,2,9,1,5"/><use href="#A31" stroke="#6b6b6b"/><use href="#A31" stroke="#fdfdfd" stroke-width="1.7" stroke-dasharray="3,7,3,5,2,5"/><use href="#A32" stroke="#6a6a6a"/><use href="#A32" stroke="#d7d7d7" stroke-width="1.7" stroke-dasharray="3,16,1,7,3,7"/><use href="#A33" stroke="#434343"/><use href="#A33" stroke="#9d9d9d" stroke-width="1.7" stroke-dasharray="2,16,1,12,2,9"/><use href="#A34" stroke="#575757"/><use href="#A34" stroke="#b6b6b6" stroke-width="1.7" stroke-dasharray="2,7,1,9,1,9"/><use href="#A35" stroke="#535353"/><use href="#A35" stroke="#c0c0c0" stroke-width="1.7" stroke-dasharray="1,5,2,16,2,12"/><use href="#A36" stroke="#626262"/><use href="#A36" stroke="#959595" stroke-width="1.7" stroke-dasharray="1,5,1,16,2,7"/><use href="#A37" stroke="#2c2c2c"/><use href="#A37" stroke="#6c6c6c" stroke-width="1.7" stroke-dasharray="2,5,2,5,3,12"/><use href="#A38" stroke="#353535"/><use href="#A38" stroke="#747474" stroke-width="1.7" stroke-dasharray="1,3,2,16,3,9"/><use href="#A39" stroke="#545454"/><use href="#A39" stroke="#979797" stroke-width="1.7" stroke-dasharray="1,3,2,3,1,7"/><use href="#A40" stroke="#565656"/><use href="#A41" stroke="#3c3c3c"/><use href="#A41" stroke="#cfcfcf" stroke-width="1.7" stroke-dasharray="3,7,3,16,1,5"/><use href="#A42" stroke="#696969"/><use href="#A42" stroke="#d7d7d7" stroke-width="1.7" stroke-dasharray="2,9,1,7,3,3"/><use href="#A43" stroke="#5e5e5e"/><use href="#A43" stroke="#efefef" stroke-width="1.7" stroke-dasharray="3,12,1,7,1,7"/><use href="#A44" stroke="#343434"/><use href="#A44" stroke="#8b8b8b" stroke-width="1.7" stroke-dasharray="1,16,1,5,1,7"/><use href="#A45" stroke="#2f2f2f"/><use href="#A45" stroke="#7b7b7b" stroke-width="1.7" stroke-dasharray="1,7,2,9,1,9"/><use href="#A46" stroke="#2d2d2d"/><use href="#A47" stroke="#3c3c3c"/><use href="#A48" stroke="#565656"/><use href="#A48" stroke="#9c9c9c" stroke-width="1.7" stroke-dasharray="2,5,1,3,3,9"/><use href="#A49" stroke="#373737"/><use href="#A49" stroke="#737373" stroke-width="1.7" stroke-dasharray="2,12,1,3,1,16"/><use href="#A50" stroke="#454545"/><use href="#A50" stroke="#9b9b9b" stroke-width="1.7" stroke-dasharray="3,5,1,7,2,5"/><use href="#A51" stroke="#525252"/><use href="#A51" stroke="#c5c5c5" stroke-width="1.7" stroke-dasharray="1,12,2,9,3,7"/><use href="#A52" stroke="#565656"/><use href="#A52" stroke="#9d9d9d" stroke-width="1.7" stroke-dasharray="3,7,3,3,2,7"/><use href="#A53" stroke="#282828"/><use href="#A53" stroke="#bdbdbd" stroke-width="1.7" stroke-dasharray="2,9,2,5,3,7"/><use href="#A54" stroke="#424242"/><use href="#A54" stroke="#acacac" stroke-width="1.7" stroke-dasharray="3,5,1,9,2,9"/><use href="#A55" stroke="#292929"/><use href="#A55" stroke="#6c6c6c" stroke-width="1.7" stroke-dasharray="3,12,2,16,3,12"/><use href="#A56" stroke="#2c2c2c"/><use href="#A56" stroke="#9c9c9c" stroke-width="1.7" stroke-dasharray="1,3,1,9,3,3"/><use href="#A57" stroke="#444444"/><use href="#A57" stroke="#bebebe" stroke-width="1.7" stroke-dasharray="1,5,1,5,1,7"/><use href="#A58" stroke="#666666"/><use href="#A58" stroke="#bdbdbd" stroke-width="1.7" stroke-dasharray="1,9,3,12,1,5"/><use href="#A59" stroke="#414141"/><use href="#A59" stroke="#b8b8b8" stroke-width="1.7" stroke-dasharray="2,3,2,5,2,7"/><use href="#A60" stroke="#5f5f5f"/><use href="#A60" stroke="#ececec" stroke-width="1.7" stroke-dasharray="1,9,2,16,3,5"/><use href="#A61" stroke="#383838"/><use href="#A61" stroke="#767676" stroke-width="1.7" stroke-dasharray="2,5,1,12,2,9"/><use href="#A62" stroke="#323232"/><use href="#A62" stroke="#c4c4c4" stroke-width="1.7" stroke-dasharray="3,16,1,3,2,16"/><use href="#A63" stroke="#454545"/><use href="#A63" stroke="#a3a3a3" stroke-width="1.7" stroke-dasharray="1,16,1,9,2,3"/><use href="#A64" stroke="#5b5b5b"/><use href="#A64" stroke="#9c9c9c" stroke-width="1.7" stroke-dasharray="3,7,3,12,2,7"/><use href="#A65" stroke="#313131"/><use href="#A65" stroke="#969696" stroke-width="1.7" stroke-dasharray="1,16,3,3,2,16"/><use href="#A66" stroke="#2f2f2f"/><use href="#A66" stroke="#747474" stroke-width="1.7" stroke-dasharray="3,7,2,5,3,7"/><use href="#A67" stroke="#4b4b4b"/><use href="#A67" stroke="#b5b5b5" stroke-width="1.7" stroke-dasharray="3,12,1,16,1,12"/><use href="#A68" stroke="#686868"/><use href="#A68" stroke="#a2a2a2" stroke-width="1.7" stroke-dasharray="1,7,3,7,2,7"/><use href="#A69" stroke="#2b2b2b"/><use href="#A69" stroke="#afafaf" stroke-width="1.7" stroke-dasharray="3,7,1,3,1,7"/><use href="#A70" stroke="#393939"/><use href="#A70" stroke="#6d6d6d" stroke-width="1.7" stroke-dasharray="2,12,2,3,2,12"/><use href="#A71" stroke="#595959"/><use href="#A71" stroke="#d9d9d9" stroke-width="1.7" stroke-dasharray="2,16,3,16,2,12"/><use href="#A72" stroke="#636363"/><use href="#A72" stroke="#cacaca" stroke-width="1.7" stroke-dasharray="2,16,1,9,2,5"/><use href="#A73" stroke="#5e5e5e"/><use href="#A74" stroke="#2f2f2f"/><use href="#A74" stroke="#939393" stroke-width="1.7" stroke-dasharray="1,7,1,5,1,7"/><use href="#A75" stroke="#454545"/><use href="#A75" stroke="#9d9d9d" stroke-width="1.7" stroke-dasharray="1,9,2,9,1,16"/><use href="#A76" stroke="#616161"/><use href="#A76" stroke="#e3e3e3" stroke-width="1.7" stroke-dasharray="1,12,2,7,2,16"/><use href="#A77" stroke="#565656"/><use href="#A77" stroke="#a6a6a6" stroke-width="1.7" stroke-dasharray="1,7,2,7,2,16"/><use href="#A78" stroke="#5f5f5f"/><use href="#A78" stroke="#b6b6b6" stroke-width="1.7" stroke-dasharray="1,16,2,9,2,3"/><use href="#A79" stroke="#616161"/><use href="#A79" stroke="#dddddd" stroke-width="1.7" stroke-dasharray="2,12,1,16,2,12"/><use href="#A80" stroke="#323232"/><use href="#A80" stroke="#989898" stroke-width="1.7" stroke-dasharray="1,5,3,7,3,7"/><use href="#A81" stroke="#515151"/><use href="#A81" stroke="#e0e0e0" stroke-width="1.7" stroke-dasharray="2,5,1,3,1,9"/><use href="#A82" stroke="#2b2b2b"/><use href="#A82" stroke="#b0b0b0" stroke-width="1.7" stroke-dasharray="2,16,2,5,1,16"/><use href="#A83" stroke="#555555"/><use href="#A83" stroke="#8f8f8f" stroke-width="1.7" stroke-dasharray="2,7,1,9,1,5"/><use href="#A84" stroke="#2f2f2f"/><use href="#A84" stroke="#b2b2b2" stroke-width="1.7" stroke-dasharray="3,9,1,16,3,3"/><use href="#A85" stroke="#3a3a3a"/><use href="#A85" stroke="#848484" stroke-width="1.7" stroke-dasharray="1,9,2,12,3,3"/><use href="#A86" stroke="#4f4f4f"/><use href="#A86" stroke="#989898" stroke-width="1.7" stroke-dasharray="1,5,2,3,2,9"/><use href="#A87" stroke="#444444"/><use href="#A87" stroke="#7f7f7f" stroke-width="1.7" stroke-dasharray="1,5,3,16,1,5"/><use href="#A88" stroke="#575757"/><use href="#A88" stroke="#b0b0b0" stroke-width="1.7" stroke-dasharray="3,7,3,12,1,3"/><use href="#A89" stroke="#494949"/><use href="#A89" stroke="#999999" stroke-width="1.7" stroke-dasharray="1,7,3,5,1,7"/><use href="#A90" stroke="#2f2f2f"/><use href="#A90" stroke="#b7b7b7" stroke-width="1.7" stroke-dasharray="3,16,2,5,2,16"/><use href="#A91" stroke="#5c5c5c"/><use href="#A91" stroke="#aaaaaa" stroke-width="1.7" stroke-dasharray="1,7,3,3,2,12"/><use href="#A92" stroke="#333333"/><use href="#A93" stroke="#4d4d4d"/><use href="#A93" stroke="#c2c2c2" stroke-width="1.7" stroke-dasharray="2,5,1,7,1,9"/><use href="#A94" stroke="#2e2e2e"/><use href="#A94" stroke="#c2c2c2" stroke-width="1.7" stroke-dasharray="1,7,1,16,3,3"/><use href="#A95" stroke="#313131"/><use href="#A95" stroke="#a7a7a7" stroke-width="1.7" stroke-dasharray="3,9,1,7,3,5"/><use href="#A96" stroke="#646464"/><use href="#A96" stroke="#d5d5d5" stroke-width="1.7" stroke-dasharray="2,12,2,16,1,12"/><use href="#A97" stroke="#666666"/><use href="#A98" stroke="#474747"/><use href="#A98" stroke="#b9b9b9" stroke-width="1.7" stroke-dasharray="2,3,3,16,1,9"/><use href="#A99" stroke="#444444"/><use href="#A99" stroke="#a5a5a5" stroke-width="1.7" stroke-dasharray="2,3,1,5,1,12"/><use href="#A100" stroke="#323232"/><use href="#A100" stroke="#c6c6c6" stroke-width="1.7" stroke-dasharray="1,3,1,3,1,3"/><use href="#A101" stroke="#686868"/><use href="#A101" stroke="#e7e7e7" stroke-width="1.7" stroke-dasharray="1,7,1,12,1,3"/><use href="#A102" stroke="#515151"/><use href="#A102" stroke="#bfbfbf" stroke-width="1.7" stroke-dasharray="2,7,1,3,1,12"/><use href="#A103" stroke="#363636"/><use href="#A103" stroke="#8a8a8a" stroke-width="1.7" stroke-dasharray="3,3,1,3,1,5"/><use href="#A104" stroke="#373737"/><use href="#A104" stroke="#8d8d8d" stroke-width="1.7" stroke-dasharray="2,7,1,3,1,16"/><use href="#A105" stroke="#343434"/><use href="#A105" stroke="#a7a7a7" stroke-width="1.7" stroke-dasharray="3,3,2,16,1,12"/><use href="#A106" stroke="#696969"/><use href="#A106" stroke="#dfdfdf" stroke-width="1.7" stroke-dasharray="1,7,2,5,1,9"/><use href="#A107" stroke="#323232"/><use href="#A107" stroke="#989898" stroke-width="1.7" stroke-dasharray="3,7,1,5,1,9"/><use href="#A108" stroke="#595959"/><use href="#A108" stroke="#cfcfcf" stroke-width="1.7" stroke-dasharray="1,16,2,3,2,9"/><use href="#A109" stroke="#474747"/><use href="#A109" stroke="#b0b0b0" stroke-width="1.7" stroke-dasharray="2,16,2,7,1,9"/><use href="#A110" stroke="#3e3e3e"/><use href="#A110" stroke="#a0a0a0" stroke-width="1.7" stroke-dasharray="2,7,1,3,2,5"/><use href="#A111" stroke="#373737"/><use href="#A111" stroke="#969696" stroke-width="1.7" stroke-dasharray="2,12,2,12,3,7"/><use href="#A112" stroke="#2a2a2a"/><use href="#A112" stroke="#aaaaaa" stroke-width="1.7" stroke-dasharray="3,7,2,12,2,3"/><use href="#A113" stroke="#434343"/><use href="#A113" stroke="#bbbbbb" stroke-width="1.7" stroke-dasharray="2,3,1,9,3,3"/><use href="#A114" stroke="#424242"/><use href="#A114" stroke="#9a9a9a" stroke-width="1.7" stroke-dasharray="1,5,1,16,2,16"/><use href="#A115" stroke="#313131"/><use href="#A116" stroke="#535353"/><use href="#A116" stroke="#8a8a8a" stroke-width="1.7" stroke-dasharray="2,16,2,7,2,9"/><use href="#A117" stroke="#6d6d6d"/><use href="#A117" stroke="#ffffff" stroke-width="1.7" stroke-dasharray="2,12,3,3,1,12"/><use href="#A118" stroke="#4b4b4b"/><use href="#A118" stroke="#878787" stroke-width="1.7" stroke-dasharray="1,7,1,16,1,12"/><use href="#A119" stroke="#353535"/><use href="#A119" stroke="#909090" stroke-width="1.7" stroke-dasharray="3,9,2,7,1,16"/><use href="#A120" stroke="#535353"/><use href="#A120" stroke="#c6c6c6" stroke-width="1.7" stroke-dasharray="1,16,1,16,2,16"/><use href="#A121" stroke="#4d4d4d"/><use href="#A121" stroke="#a0a0a0" stroke-width="1.7" stroke-dasharray="2,5,2,3,1,5"/><use href="#A122" stroke="#6b6b6b"/><use href="#A122" stroke="#ffffff" stroke-width="1.7" stroke-dasharray="2,7,2,9,2,9"/><use href="#A123" stroke="#555555"/><use href="#A123" stroke="#e3e3e3" stroke-width="1.7" stroke-dasharray="3,3,2,9,1,12"/><use href="#A124" stroke="#2e2e2e"/><use href="#A124" stroke="#a9a9a9" stroke-width="1.7" stroke-dasharray="1,3,2,7,2,5"/><use href="#A125" stroke="#333333"/><use href="#A126" stroke="#4e4e4e"/><use href="#A126" stroke="#bbbbbb" stroke-width="1.7" stroke-dasharray="1,7,1,7,2,3"/><use href="#A127" stroke="#575757"/><use href="#A127" stroke="#898989" stroke-width="1.7" stroke-dasharray="1,9,1,7,2,12"/><use href="#A128" stroke="#6d6d6d"/><use href="#A128" stroke="#e0e0e0" stroke-width="1.7" stroke-dasharray="1,7,2,12,1,7"/><use href="#A129" stroke="#5d5d5d"/><use href="#A129" stroke="#d2d2d2" stroke-width="1.7" stroke-dasharray="1,9,3,5,1,12"/><use href="#A130" stroke="#595959"/><use href="#A130" stroke="#959595" stroke-width="1.7" stroke-dasharray="2,3,3,16,2,7"/><use href="#A131" stroke="#5f5f5f"/><use href="#A131" stroke="#e1e1e1" stroke-width="1.7" stroke-dasharray="1,3,1,12,2,7"/><use href="#A132" stroke="#5a5a5a"/><use href="#A132" stroke="#b0b0b0" stroke-width="1.7" stroke-dasharray="3,12,1,12,2,16"/><use href="#A133" stroke="#616161"/><use href="#A134" stroke="#353535"/><use href="#A134" stroke="#8c8c8c" stroke-width="1.7" stroke-dasharray="1,3,2,9,3,9"/><use href="#A135" stroke="#2a2a2a"/><use href="#A135" stroke="#adadad" stroke-width="1.7" stroke-dasharray="2,9,2,9,1,3"/><use href="#A136" stroke="#4b4b4b"/><use href="#A136" stroke="#a2a2a2" stroke-width="1.7" stroke-dasharray="3,5,1,9,2,7"/><use href="#A137" stroke="#3a3a3a"/><use href="#A137" stroke="#b2b2b2" stroke-width="1.7" stroke-dasharray="1,7,1,3,2,5"/><use href="#A138" stroke="#313131"/><use href="#A138" stroke="#a1a1a1" stroke-width="1.7" stroke-dasharray="1,7,2,7,1,12"/><use href="#A139" stroke="#3d3d3d"/><use href="#A139" stroke="#acacac" stroke-width="1.7" stroke-dasharray="1,7,2,3,1,3"/><use href="#A140" stroke="#2b2b2b"/><use href="#A140" stroke="#898989" stroke-width="1.7" stroke-dasharray="2,9,3,7,3,9"/><use href="#A141" stroke="#464646"/><use href="#A141" stroke="#cbcbcb" stroke-width="1.7" stroke-dasharray="2,5,1,5,2,5"/><use href="#A142" stroke="#4a4a4a"/><use href="#A142" stroke="#9a9a9a" stroke-width="1.7" stroke-dasharray="2,5,2,5,2,3"/><use href="#A143" stroke="#3b3b3b"/><use href="#A143" stroke="#c7c7c7" stroke-width="1.7" stroke-dasharray="2,5,1,12,1,9"/><use href="#A144" stroke="#464646"/><use href="#A144" stroke="#d9d9d9" stroke-width="1.7" stroke-dasharray="2,9,2,9,3,12"/><use href="#A145" stroke="#3d3d3d"/><use href="#A146" stroke="#292929"/><use href="#A146" stroke="#a1a1a1" stroke-width="1.7" stroke-dasharray="2,7,3,5,2,9"/><use href="#A147" stroke="#4b4b4b"/><use href="#A147" stroke="#b5b5b5" stroke-width="1.7" stroke-dasharray="1,3,1,16,1,16"/><use href="#A148" stroke="#2e2e2e"/><use href="#A149" stroke="#484848"/><use href="#A149" stroke="#9a9a9a" stroke-width="1.7" stroke-dasharray="1,16,3,5,1,5"/><use href="#A150" stroke="#4b4b4b"/><use href="#A150" stroke="#bababa" stroke-width="1.7" stroke-dasharray="2,5,1,7,1,3"/><use href="#A151" stroke="#484848"/><use href="#A151" stroke="#c2c2c2" stroke-width="1.7" stroke-dasharray="1,12,2,7,3,3"/><use href="#A152" stroke="#575757"/><use href="#A152" stroke="#aaaaaa" stroke-width="1.7" stroke-dasharray="1,5,2,5,2,12"/><use href="#A153" stroke="#616161"/><use href="#A153" stroke="#9d9d9d" stroke-width="1.7" stroke-dasharray="2,9,1,5,1,3"/><use href="#A154" stroke="#6d6d6d"/><use href="#A154" stroke="#c5c5c5" stroke-width="1.7" stroke-dasharray="2,9,1,12,1,9"/><use href="#A155" stroke="#424242"/><use href="#A155" stroke="#b8b8b8" stroke-width="1.7" stroke-dasharray="2,16,2,7,2,3"/><use href="#A156" stroke="#444444"/><use href="#A156" stroke="#9b9b9b" stroke-width="1.7" stroke-dasharray="1,7,1,9,1,5"/><use href="#A157" stroke="#515151"/><use href="#A157" stroke="#c2c2c2" stroke-width="1.7" stroke-dasharray="2,9,1,9,3,12"/><use href="#A158" stroke="#3d3d3d"/><use href="#A158" stroke="#989898" stroke-width="1.7" stroke-dasharray="2,7,3,7,2,16"/><use href="#A159" stroke="#393939"/><use href="#A159" stroke="#9f9f9f" stroke-width="1.7" stroke-dasharray="1,12,2,7,2,7"/><use href="#A160" stroke="#2f2f2f"/><use href="#A160" stroke="#7f7f7f" stroke-width="1.7" stroke-dasharray="2,9,2,7,2,7"/><use href="#A161" stroke="#363636"/><use href="#A161" stroke="#c2c2c2" stroke-width="1.7" stroke-dasharray="3,7,1,9,2,7"/><use href="#A162" stroke="#2d2d2d"/><use href="#A162" stroke="#bcbcbc" stroke-width="1.7" stroke-dasharray="2,12,1,12,3,12"/><use href="#A163" stroke="#404040"/><use href="#A163" stroke="#c2c2c2" stroke-width="1.7" stroke-dasharray="1,16,1,9,1,3"/><use href="#A164" stroke="#404040"/><use href="#A164" stroke="#b8b8b8" stroke-width="1.7" stroke-dasharray="2,5,1,9,1,3"/><use href="#A165" stroke="#535353"/><use href="#A165" stroke="#a7a7a7" stroke-width="1.7" stroke-dasharray="1,9,1,7,3,5"/><use href="#A166" stroke="#2e2e2e"/><use href="#A166" stroke="#7e7e7e" stroke-width="1.7" stroke-dasharray="2,7,3,5,2,7"/><use href="#A167" stroke="#6c6c6c"/><use href="#A167" stroke="#f3f3f3" stroke-width="1.7" stroke-dasharray="1,9,2,12,2,16"/><use href="#A168" stroke="#3c3c3c"/><use href="#A169" stroke="#404040"/><use href="#A169" stroke="#cecece" stroke-width="1.7" stroke-dasharray="2,9,1,7,2,7"/><use href="#A170" stroke="#4d4d4d"/><use href="#A170" stroke="#b4b4b4" stroke-width="1.7" stroke-dasharray="2,12,3,3,1,5"/><use href="#A171" stroke="#3b3b3b"/><use href="#A172" stroke="#4d4d4d"/><use href="#A173" stroke="#6c6c6c"/><use href="#A173" stroke="#9f9f9f" stroke-width="1.7" stroke-dasharray="2,7,2,12,1,7"/><use href="#A174" stroke="#6a6a6a"/><use href="#A175" stroke="#404040"/><use href="#A175" stroke="#c6c6c6" stroke-width="1.7" stroke-dasharray="2,9,1,3,1,16"/><use href="#A176" stroke="#474747"/><use href="#A176" stroke="#bdbdbd" stroke-width="1.7" stroke-dasharray="1,9,3,9,1,3"/><use href="#A177" stroke="#4a4a4a"/><use href="#A177" stroke="#cbcbcb" stroke-width="1.7" stroke-dasharray="1,5,1,7,2,3"/><use href="#A178" stroke="#575757"/><use href="#A178" stroke="#a8a8a8" stroke-width="1.7" stroke-dasharray="2,12,2,3,2,7"/><use href="#A179" stroke="#636363"/><use href="#A179" stroke="#b6b6b6" stroke-width="1.7" stroke-dasharray="1,16,3,9,3,12"/><use href="#A180" stroke="#3f3f3f"/><use href="#A180" stroke="#bcbcbc" stroke-width="1.7" stroke-dasharray="1,7,1,7,2,12"/><use href="#A181" stroke="#696969"/><use href="#A181" stroke="#b5b5b5" stroke-width="1.7" stroke-dasharray="3,9,1,7,1,12"/><use href="#A182" stroke="#282828"/><use href="#A182" stroke="#909090" stroke-width="1.7" stroke-dasharray="1,16,3,12,2,12"/><use href="#A183" stroke="#666666"/><use href="#A183" stroke="#a0a0a0" stroke-width="1.7" stroke-dasharray="1,3,3,12,1,3"/><use href="#A184" stroke="#363636"/><use href="#A184" stroke="#909090" stroke-width="1.7" stroke-dasharray="1,9,2,5,1,9"/><use href="#A185" stroke="#282828"/><use href="#A185" stroke="#6e6e6e" stroke-width="1.7" stroke-dasharray="2,5,2,7,2,5"/><use href="#A186" stroke="#414141"/><use href="#A186" stroke="#cdcdcd" stroke-width="1.7" stroke-dasharray="1,9,2,5,2,16"/><use href="#A187" stroke="#4a4a4a"/><use href="#A187" stroke="#939393" stroke-width="1.7" stroke-dasharray="2,9,1,3,2,7"/><use href="#A188" stroke="#474747"/><use href="#A188" stroke="#a7a7a7" stroke-width="1.7" stroke-dasharray="3,9,1,5,1,7"/><use href="#A189" stroke="#282828"/><use href="#A190" stroke="#676767"/><use href="#A190" stroke="#c6c6c6" stroke-width="1.7" stroke-dasharray="1,7,2,9,3,9"/><use href="#A191" stroke="#383838"/><use href="#A191" stroke="#989898" stroke-width="1.7" stroke-dasharray="1,3,1,12,2,3"/><use href="#A192" stroke="#2c2c2c"/><use href="#A192" stroke="#bdbdbd" stroke-width="1.7" stroke-dasharray="3,9,1,12,3,7"/><use href="#A193" stroke="#606060"/><use href="#A193" stroke="#cccccc" stroke-width="1.7" stroke-dasharray="1,16,2,5,2,7"/><use href="#A194" stroke="#3b3b3b"/><use href="#A194" stroke="#777777" stroke-width="1.7" stroke-dasharray="2,7,1,12,3,3"/><use href="#A195" stroke="#313131"/><use href="#A196" stroke="#313131"/><use href="#A197" stroke="#404040"/><use href="#A197" stroke="#d4d4d4" stroke-width="1.7" stroke-dasharray="2,3,2,3,2,5"/><use href="#A198" stroke="#333333"/><use href="#A198" stroke="#bbbbbb" stroke-width="1.7" stroke-dasharray="1,7,2,12,2,12"/><use href="#A199" stroke="#4e4e4e"/><use href="#A199" stroke="#838383" stroke-width="1.7" stroke-dasharray="1,12,3,3,2,3"/><use href="#A200" stroke="#6a6a6a"/><use href="#A200" stroke="#e0e0e0" stroke-width="1.7" stroke-dasharray="2,7,3,12,3,12"/><use href="#A201" stroke="#313131"/><use href="#A201" stroke="#a7a7a7" stroke-width="1.7" stroke-dasharray="2,12,1,12,2,16"/><use href="#A202" stroke="#404040"/><use href="#A203" stroke="#313131"/><use href="#A203" stroke="#a8a8a8" stroke-width="1.7" stroke-dasharray="1,5,1,7,1,16"/><use href="#A204" stroke="#4a4a4a"/><use href="#A204" stroke="#aaaaaa" stroke-width="1.7" stroke-dasharray="3,7,1,16,2,7"/><use href="#A205" stroke="#6a6a6a"/><use href="#A206" stroke="#5f5f5f"/><use href="#A206" stroke="#d6d6d6" stroke-width="1.7" stroke-dasharray="2,5,1,7,2,12"/><use href="#A207" stroke="#3e3e3e"/><use href="#A207" stroke="#c8c8c8" stroke-width="1.7" stroke-dasharray="1,5,3,12,1,7"/><use href="#A208" stroke="#292929"/><use href="#A209" stroke="#515151"/><use href="#A209" stroke="#cecece" stroke-width="1.7" stroke-dasharray="3,7,2,5,3,5"/></g><g id="B" fill="none" stroke-width="1.15"><use href="#B0" stroke="#333333"/><use href="#B0" stroke="#c5c5c5" stroke-width="1.7" stroke-dasharray="2,12,1,7,1,9"/><use href="#B1" stroke="#636363"/><use href="#B1" stroke="#aaaaaa" stroke-width="1.7" stroke-dasharray="1,3,1,7,1,3"/><use href="#B2" stroke="#555555"/><use href="#B3" stroke="#3c3c3c"/><use href="#B3" stroke="#cecece" stroke-width="1.7" stroke-dasharray="2,12,1,7,2,16"/><use href="#B4" stroke="#3c3c3c"/><use href="#B4" stroke="#747474" stroke-width="1.7" stroke-dasharray="2,3,2,5,1,9"/><use href="#B5" stroke="#484848"/><use href="#B5" stroke="#828282" stroke-width="1.7" stroke-dasharray="2,5,2,7,3,9"/><use href="#B6" stroke="#606060"/><use href="#B6" stroke="#dddddd" stroke-width="1.7" stroke-dasharray="2,3,2,9,3,9"/><use href="#B7" stroke="#3a3a3a"/><use href="#B7" stroke="#8e8e8e" stroke-width="1.7" stroke-dasharray="2,3,1,3,2,16"/><use href="#B8" stroke="#4a4a4a"/><use href="#B8" stroke="#c6c6c6" stroke-width="1.7" stroke-dasharray="2,3,1,16,2,5"/><use href="#B9" stroke="#323232"/><use href="#B9" stroke="#6b6b6b" stroke-width="1.7" stroke-dasharray="2,16,1,9,1,9"/><use href="#B10" stroke="#4d4d4d"/><use href="#B10" stroke="#bfbfbf" stroke-width="1.7" stroke-dasharray="1,16,2,3,1,3"/><use href="#B11" stroke="#313131"/><use href="#B12" stroke="#333333"/><use href="#B12" stroke="#828282" stroke-width="1.7" stroke-dasharray="3,3,1,3,1,9"/><use href="#B13" stroke="#626262"/><use href="#B13" stroke="#9e9e9e" stroke-width="1.7" stroke-dasharray="2,9,2,7,1,16"/><use href="#B14" stroke="#353535"/><use href="#B14" stroke="#777777" stroke-width="1.7" stroke-dasharray="1,12,2,9,3,7"/><use href="#B15" stroke="#373737"/><use href="#B15" stroke="#bebebe" stroke-width="1.7" stroke-dasharray="3,9,1,3,2,16"/><use href="#B16" stroke="#585858"/><use href="#B16" stroke="#909090" stroke-width="1.7" stroke-dasharray="1,16,2,7,3,5"/><use href="#B17" stroke="#4a4a4a"/><use href="#B17" stroke="#d0d0d0" stroke-width="1.7" stroke-dasharray="2,9,3,16,3,7"/><use href="#B18" stroke="#4c4c4c"/><use href="#B18" stroke="#c4c4c4" stroke-width="1.7" stroke-dasharray="3,9,3,3,1,16"/><use href="#B19" stroke="#545454"/><use href="#B19" stroke="#898989" stroke-width="1.7" stroke-dasharray="1,5,3,7,2,7"/><use href="#B20" stroke="#696969"/><use href="#B20" stroke="#b0b0b0" stroke-width="1.7" stroke-dasharray="1,16,1,9,3,3"/><use href="#B21" stroke="#353535"/><use href="#B21" stroke="#6e6e6e" stroke-width="1.7" stroke-dasharray="3,3,2,9,2,5"/><use href="#B22" stroke="#474747"/><use href="#B22" stroke="#c9c9c9" stroke-width="1.7" stroke-dasharray="2,12,2,5,3,12"/><use href="#B23" stroke="#363636"/><use href="#B24" stroke="#3e3e3e"/><use href="#B24" stroke="#7e7e7e" stroke-width="1.7" stroke-dasharray="2,7,2,12,3,12"/><use href="#B25" stroke="#2e2e2e"/><use href="#B26" stroke="#333333"/><use href="#B26" stroke="#6a6a6a" stroke-width="1.7" stroke-dasharray="1,7,2,16,3,3"/><use href="#B27" stroke="#4d4d4d"/><use href="#B27" stroke="#989898" stroke-width="1.7" stroke-dasharray="3,16,1,12,1,9"/><use href="#B28" stroke="#2e2e2e"/><use href="#B28" stroke="#979797" stroke-width="1.7" stroke-dasharray="2,16,1,16,2,3"/><use href="#B29" stroke="#282828"/><use href="#B29" stroke="#8f8f8f" stroke-width="1.7" stroke-dasharray="1,3,1,5,1,12"/><use href="#B30" stroke="#363636"/><use href="#B30" stroke="#898989" stroke-width="1.7" stroke-dasharray="1,12,2,7,3,9"/><use href="#B31" stroke="#515151"/><use href="#B31" stroke="#d3d3d3" stroke-width="1.7" stroke-dasharray="1,9,2,7,2,12"/><use href="#B32" stroke="#4a4a4a"/><use href="#B32" stroke="#8f8f8f" stroke-width="1.7" stroke-dasharray="1,9,1,3,1,9"/><use href="#B33" stroke="#696969"/><use href="#B33" stroke="#dcdcdc" stroke-width="1.7" stroke-dasharray="3,5,2,12,1,9"/><use href="#B34" stroke="#484848"/><use href="#B35" stroke="#292929"/><use href="#B35" stroke="#8f8f8f" stroke-width="1.7" stroke-dasharray="2,5,1,3,3,5"/><use href="#B36" stroke="#5d5d5d"/><use href="#B36" stroke="#b4b4b4" stroke-width="1.7" stroke-dasharray="3,5,1,9,3,5"/><use href="#B37" stroke="#343434"/><use href="#B37" stroke="#838383" stroke-width="1.7" stroke-dasharray="1,16,1,9,3,5"/><use href="#B38" stroke="#404040"/><use href="#B38" stroke="#c6c6c6" stroke-width="1.7" stroke-dasharray="2,5,1,5,3,9"/><use href="#B39" stroke="#555555"/><use href="#B39" stroke="#8f8f8f" stroke-width="1.7" stroke-dasharray="3,12,1,9,3,3"/><use href="#B40" stroke="#5e5e5e"/><use href="#B40" stroke="#9b9b9b" stroke-width="1.7" stroke-dasharray="2,12,3,7,2,16"/><use href="#B41" stroke="#414141"/><use href="#B42" stroke="#666666"/><use href="#B42" stroke="#d1d1d1" stroke-width="1.7" stroke-dasharray="2,7,1,12,1,12"/><use href="#B43" stroke="#6d6d6d"/><use href="#B43" stroke="#a7a7a7" stroke-width="1.7" stroke-dasharray="1,9,1,5,1,7"/><use href="#B44" stroke="#565656"/><use href="#B44" stroke="#c4c4c4" stroke-width="1.7" stroke-dasharray="1,5,1,5,1,3"/><use href="#B45" stroke="#3e3e3e"/><use href="#B45" stroke="#898989" stroke-width="1.7" stroke-dasharray="2,7,1,5,1,7"/><use href="#B46" stroke="#696969"/><use href="#B46" stroke="#d5d5d5" stroke-width="1.7" stroke-dasharray="2,9,2,16,3,5"/><use href="#B47" stroke="#555555"/><use href="#B47" stroke="#aeaeae" stroke-width="1.7" stroke-dasharray="1,7,2,5,2,3"/><use href="#B48" stroke="#636363"/><use href="#B48" stroke="#cacaca" stroke-width="1.7" stroke-dasharray="3,16,1,5,2,5"/><use href="#B49" stroke="#464646"/><use href="#B50" stroke="#5b5b5b"/><use href="#B50" stroke="#b9b9b9" stroke-width="1.7" stroke-dasharray="1,9,2,5,1,5"/><use href="#B51" stroke="#464646"/><use href="#B52" stroke="#363636"/><use href="#B52" stroke="#878787" stroke-width="1.7" stroke-dasharray="1,12,2,16,2,7"/><use href="#B53" stroke="#565656"/><use href="#B53" stroke="#ebebeb" stroke-width="1.7" stroke-dasharray="1,5,1,16,3,16"/><use href="#B54" stroke="#424242"/><use href="#B54" stroke="#949494" stroke-width="1.7" stroke-dasharray="1,7,2,7,2,5"/><use href="#B55" stroke="#6c6c6c"/><use href="#B55" stroke="#f9f9f9" stroke-width="1.7" stroke-dasharray="1,5,1,3,2,9"/><use href="#B56" stroke="#3a3a3a"/><use href="#B56" stroke="#bababa" stroke-width="1.7" stroke-dasharray="3,3,2,12,2,7"/><use href="#B57" stroke="#5a5a5a"/><use href="#B57" stroke="#dddddd" stroke-width="1.7" stroke-dasharray="3,12,2,12,1,3"/><use href="#B58" stroke="#545454"/><use href="#B58" stroke="#969696" stroke-width="1.7" stroke-dasharray="3,16,2,7,1,16"/><use href="#B59" stroke="#545454"/><use href="#B59" stroke="#9b9b9b" stroke-width="1.7" stroke-dasharray="1,12,2,12,1,3"/><use href="#B60" stroke="#484848"/><use href="#B60" stroke="#868686" stroke-width="1.7" stroke-dasharray="2,9,2,7,3,16"/><use href="#B61" stroke="#6a6a6a"/><use href="#B61" stroke="#b2b2b2" stroke-width="1.7" stroke-dasharray="1,9,1,12,1,7"/><use href="#B62" stroke="#606060"/><use href="#B62" stroke="#acacac" stroke-width="1.7" stroke-dasharray="3,12,2,5,1,16"/><use href="#B63" stroke="#5b5b5b"/><use href="#B63" stroke="#8e8e8e" stroke-width="1.7" stroke-dasharray="1,12,1,12,3,16"/><use href="#B64" stroke="#626262"/><use href="#B64" stroke="#e1e1e1" stroke-width="1.7" stroke-dasharray="1,16,2,7,1,16"/><use href="#B65" stroke="#282828"/><use href="#B65" stroke="#b3b3b3" stroke-width="1.7" stroke-dasharray="2,3,1,7,1,5"/><use href="#B66" stroke="#343434"/><use href="#B67" stroke="#676767"/><use href="#B67" stroke="#d5d5d5" stroke-width="1.7" stroke-dasharray="3,16,1,5,2,16"/><use href="#B68" stroke="#545454"/><use href="#B68" stroke="#e0e0e0" stroke-width="1.7" stroke-dasharray="1,5,2,3,2,5"/><use href="#B69" stroke="#535353"/><use href="#B69" stroke="#b8b8b8" stroke-width="1.7" stroke-dasharray="3,7,2,5,2,5"/><use href="#B70" stroke="#393939"/><use href="#B70" stroke="#b1b1b1" stroke-width="1.7" stroke-dasharray="2,5,1,7,2,5"/><use href="#B71" stroke="#505050"/><use href="#B71" stroke="#989898" stroke-width="1.7" stroke-dasharray="1,5,3,9,2,7"/><use href="#B72" stroke="#515151"/><use href="#B72" stroke="#9b9b9b" stroke-width="1.7" stroke-dasharray="2,3,2,16,2,9"/><use href="#B73" stroke="#5f5f5f"/><use href="#B73" stroke="#bebebe" stroke-width="1.7" stroke-dasharray="3,7,2,5,3,12"/><use href="#B74" stroke="#383838"/><use href="#B74" stroke="#949494" stroke-width="1.7" stroke-dasharray="1,7,1,7,1,9"/><use href="#B75" stroke="#555555"/><use href="#B75" stroke="#cccccc" stroke-width="1.7" stroke-dasharray="2,3,1,12,3,12"/><use href="#B76" stroke="#595959"/><use href="#B76" stroke="#969696" stroke-width="1.7" stroke-dasharray="1,12,2,7,1,3"/><use href="#B77" stroke="#454545"/><use href="#B77" stroke="#bbbbbb" stroke-width="1.7" stroke-dasharray="2,16,2,16,2,16"/><use href="#B78" stroke="#424242"/><use href="#B78" stroke="#787878" stroke-width="1.7" stroke-dasharray="2,3,3,12,1,9"/><use href="#B79" stroke="#575757"/><use href="#B79" stroke="#e7e7e7" stroke-width="1.7" stroke-dasharray="3,12,1,16,2,3"/><use href="#B80" stroke="#484848"/><use href="#B80" stroke="#c0c0c0" stroke-width="1.7" stroke-dasharray="2,5,1,12,3,16"/><use href="#B81" stroke="#4e4e4e"/><use href="#B82" stroke="#676767"/><use href="#B82" stroke="#cfcfcf" stroke-width="1.7" stroke-dasharray="3,5,2,3,1,16"/><use href="#B83" stroke="#5a5a5a"/><use href="#B83" stroke="#b0b0b0" stroke-width="1.7" stroke-dasharray="1,3,2,16,1,12"/><use href="#B84" stroke="#343434"/><use href="#B85" stroke="#515151"/><use href="#B85" stroke="#c4c4c4" stroke-width="1.7" stroke-dasharray="3,9,3,7,3,9"/><use href="#B86" stroke="#555555"/><use href="#B87" stroke="#525252"/><use href="#B87" stroke="#afafaf" stroke-width="1.7" stroke-dasharray="2,16,3,12,2,7"/><use href="#B88" stroke="#676767"/><use href="#B88" stroke="#9c9c9c" stroke-width="1.7" stroke-dasharray="1,5,2,3,2,9"/><use href="#B89" stroke="#5f5f5f"/><use href="#B89" stroke="#dcdcdc" stroke-width="1.7" stroke-dasharray="1,16,1,7,1,12"/><use href="#B90" stroke="#515151"/><use href="#B91" stroke="#3b3b3b"/><use href="#B92" stroke="#6c6c6c"/><use href="#B93" stroke="#2e2e2e"/><use href="#B93" stroke="#757575" stroke-width="1.7" stroke-dasharray="1,16,2,12,2,16"/><use href="#B94" stroke="#6c6c6c"/><use href="#B94" stroke="#fcfcfc" stroke-width="1.7" stroke-dasharray="1,5,2,5,1,3"/><use href="#B95" stroke="#484848"/><use href="#B95" stroke="#a4a4a4" stroke-width="1.7" stroke-dasharray="2,7,2,9,1,7"/><use href="#B96" stroke="#505050"/><use href="#B97" stroke="#585858"/><use href="#B97" stroke="#8f8f8f" stroke-width="1.7" stroke-dasharray="1,5,1,9,2,5"/><use href="#B98" stroke="#343434"/><use href="#B98" stroke="#a3a3a3" stroke-width="1.7" stroke-dasharray="1,12,3,7,3,7"/><use href="#B99" stroke="#4d4d4d"/><use href="#B99" stroke="#8b8b8b" stroke-width="1.7" stroke-dasharray="1,12,2,12,1,9"/><use href="#B100" stroke="#2b2b2b"/><use href="#B100" stroke="#858585" stroke-width="1.7" stroke-dasharray="2,12,2,12,2,16"/><use href="#B101" stroke="#4c4c4c"/><use href="#B101" stroke="#c5c5c5" stroke-width="1.7" stroke-dasharray="3,7,2,12,2,12"/><use href="#B102" stroke="#575757"/><use href="#B102" stroke="#d4d4d4" stroke-width="1.7" stroke-dasharray="2,12,2,9,1,7"/><use href="#B103" stroke="#454545"/><use href="#B103" stroke="#a0a0a0" stroke-width="1.7" stroke-dasharray="2,12,1,5,1,12"/><use href="#B104" stroke="#373737"/><use href="#B104" stroke="#878787" stroke-width="1.7" stroke-dasharray="2,7,3,9,2,7"/><use href="#B105" stroke="#696969"/><use href="#B105" stroke="#cacaca" stroke-width="1.7" stroke-dasharray="2,16,3,5,3,5"/><use href="#B106" stroke="#4b4b4b"/><use href="#B106" stroke="#929292" stroke-width="1.7" stroke-dasharray="2,3,2,9,3,12"/><use href="#B107" stroke="#2b2b2b"/><use href="#B107" stroke="#bbbbbb" stroke-width="1.7" stroke-dasharray="1,7,1,7,1,3"/><use href="#B108" stroke="#424242"/><use href="#B108" stroke="#b7b7b7" stroke-width="1.7" stroke-dasharray="2,16,2,16,2,7"/><use href="#B109" stroke="#313131"/><use href="#B109" stroke="#686868" stroke-width="1.7" stroke-dasharray="2,9,1,16,3,3"/><use href="#B110" stroke="#3f3f3f"/><use href="#B110" stroke="#bababa" stroke-width="1.7" stroke-dasharray="2,16,1,3,1,3"/><use href="#B111" stroke="#545454"/><use href="#B111" stroke="#bbbbbb" stroke-width="1.7" stroke-dasharray="3,5,1,16,2,3"/><use href="#B112" stroke="#585858"/><use href="#B112" stroke="#b0b0b0" stroke-width="1.7" stroke-dasharray="1,16,1,9,2,5"/><use href="#B113" stroke="#5f5f5f"/><use href="#B113" stroke="#e3e3e3" stroke-width="1.7" stroke-dasharray="2,12,2,12,2,16"/><use href="#B114" stroke="#646464"/><use href="#B114" stroke="#a5a5a5" stroke-width="1.7" stroke-dasharray="2,7,1,12,2,7"/><use href="#B115" stroke="#373737"/><use href="#B115" stroke="#6c6c6c" stroke-width="1.7" stroke-dasharray="1,5,2,7,3,3"/><use href="#B116" stroke="#5e5e5e"/><use href="#B116" stroke="#969696" stroke-width="1.7" stroke-dasharray="1,9,2,3,2,5"/><use href="#B117" stroke="#5f5f5f"/><use href="#B117" stroke="#959595" stroke-width="1.7" stroke-dasharray="1,9,3,5,2,7"/><use href="#B118" stroke="#323232"/><use href="#B118" stroke="#c1c1c1" stroke-width="1.7" stroke-dasharray="1,7,2,7,2,16"/><use href="#B119" stroke="#383838"/><use href="#B119" stroke="#bbbbbb" stroke-width="1.7" stroke-dasharray="2,16,2,5,1,7"/><use href="#B120" stroke="#4f4f4f"/><use href="#B120" stroke="#a3a3a3" stroke-width="1.7" stroke-dasharray="2,7,2,3,2,16"/><use href="#B121" stroke="#3a3a3a"/><use href="#B121" stroke="#6f6f6f" stroke-width="1.7" stroke-dasharray="2,9,2,16,2,7"/><use href="#B122" stroke="#282828"/><use href="#B122" stroke="#a2a2a2" stroke-width="1.7" stroke-dasharray="1,7,1,9,2,16"/><use href="#B123" stroke="#323232"/><use href="#B123" stroke="#9e9e9e" stroke-width="1.7" stroke-dasharray="1,3,1,7,3,9"/><use href="#B124" stroke="#2a2a2a"/><use href="#B124" stroke="#6f6f6f" stroke-width="1.7" stroke-dasharray="3,16,3,9,1,12"/><use href="#B125" stroke="#3d3d3d"/><use href="#B126" stroke="#515151"/><use href="#B126" stroke="#aaaaaa" stroke-width="1.7" stroke-dasharray="2,9,3,9,1,9"/><use href="#B127" stroke="#434343"/><use href="#B128" stroke="#5a5a5a"/><use href="#B128" stroke="#a4a4a4" stroke-width="1.7" stroke-dasharray="1,3,2,16,1,7"/><use href="#B129" stroke="#353535"/><use href="#B130" stroke="#4d4d4d"/><use href="#B130" stroke="#dadada" stroke-width="1.7" stroke-dasharray="2,3,1,7,1,16"/><use href="#B131" stroke="#525252"/><use href="#B132" stroke="#4d4d4d"/><use href="#B132" stroke="#dddddd" stroke-width="1.7" stroke-dasharray="2,5,2,5,1,16"/><use href="#B133" stroke="#2c2c2c"/><use href="#B134" stroke="#575757"/><use href="#B134" stroke="#b8b8b8" stroke-width="1.7" stroke-dasharray="2,5,3,7,1,9"/><use href="#B135" stroke="#393939"/><use href="#B135" stroke="#a7a7a7" stroke-width="1.7" stroke-dasharray="3,9,1,16,2,12"/><use href="#B136" stroke="#3a3a3a"/><use href="#B136" stroke="#c5c5c5" stroke-width="1.7" stroke-dasharray="2,5,3,3,3,12"/><use href="#B137" stroke="#404040"/><use href="#B137" stroke="#a3a3a3" stroke-width="1.7" stroke-dasharray="1,7,3,3,1,5"/><use href="#B138" stroke="#5e5e5e"/><use href="#B138" stroke="#b3b3b3" stroke-width="1.7" stroke-dasharray="3,9,1,12,2,16"/><use href="#B139" stroke="#585858"/><use href="#B139" stroke="#b2b2b2" stroke-width="1.7" stroke-dasharray="1,9,2,12,2,5"/><use href="#B140" stroke="#676767"/><use href="#B140" stroke="#d0d0d0" stroke-width="1.7" stroke-dasharray="2,3,2,12,3,5"/><use href="#B141" stroke="#3d3d3d"/><use href="#B141" stroke="#9b9b9b" stroke-width="1.7" stroke-dasharray="3,12,2,7,2,3"/><use href="#B142" stroke="#393939"/><use href="#B142" stroke="#cecece" stroke-width="1.7" stroke-dasharray="2,7,1,7,1,5"/><use href="#B143" stroke="#373737"/><use href="#B143" stroke="#7f7f7f" stroke-width="1.7" stroke-dasharray="1,9,3,12,2,3"/><use href="#B144" stroke="#686868"/><use href="#B144" stroke="#a6a6a6" stroke-width="1.7" stroke-dasharray="2,16,1,7,2,12"/><use href="#B145" stroke="#646464"/><use href="#B145" stroke="#9a9a9a" stroke-width="1.7" stroke-dasharray="2,12,1,5,3,3"/><use href="#B146" stroke="#444444"/><use href="#B146" stroke="#bababa" stroke-width="1.7" stroke-dasharray="1,9,1,3,2,16"/><use href="#B147" stroke="#6c6c6c"/><use href="#B147" stroke="#e1e1e1" stroke-width="1.7" stroke-dasharray="1,9,1,5,1,16"/><use href="#B148" stroke="#5d5d5d"/><use href="#B148" stroke="#e7e7e7" stroke-width="1.7" stroke-dasharray="2,5,1,12,1,9"/><use href="#B149" stroke="#434343"/><use href="#B149" stroke="#b2b2b2" stroke-width="1.7" stroke-dasharray="1,7,2,12,3,16"/><use href="#B150" stroke="#505050"/><use href="#B150" stroke="#898989" stroke-width="1.7" stroke-dasharray="2,12,2,7,2,12"/><use href="#B151" stroke="#4c4c4c"/><use href="#B151" stroke="#a4a4a4" stroke-width="1.7" stroke-dasharray="1,3,1,16,3,5"/><use href="#B152" stroke="#494949"/><use href="#B152" stroke="#9e9e9e" stroke-width="1.7" stroke-dasharray="1,16,3,16,1,7"/><use href="#B153" stroke="#494949"/><use href="#B153" stroke="#dedede" stroke-width="1.7" stroke-dasharray="2,16,1,5,2,7"/><use href="#B154" stroke="#606060"/><use href="#B154" stroke="#f3f3f3" stroke-width="1.7" stroke-dasharray="1,9,2,5,3,12"/><use href="#B155" stroke="#323232"/><use href="#B155" stroke="#a4a4a4" stroke-width="1.7" stroke-dasharray="2,7,2,7,2,12"/><use href="#B156" stroke="#686868"/><use href="#B156" stroke="#cbcbcb" stroke-width="1.7" stroke-dasharray="1,16,2,12,1,7"/><use href="#B157" stroke="#454545"/><use href="#B157" stroke="#bdbdbd" stroke-width="1.7" stroke-dasharray="1,9,1,12,2,9"/><use href="#B158" stroke="#4b4b4b"/><use href="#B159" stroke="#515151"/><use href="#B159" stroke="#cacaca" stroke-width="1.7" stroke-dasharray="3,12,1,12,2,3"/><use href="#B160" stroke="#606060"/><use href="#B160" stroke="#a0a0a0" stroke-width="1.7" stroke-dasharray="3,9,3,7,1,7"/><use href="#B161" stroke="#303030"/><use href="#B161" stroke="#818181" stroke-width="1.7" stroke-dasharray="2,5,2,5,2,3"/><use href="#B162" stroke="#565656"/><use href="#B162" stroke="#a9a9a9" stroke-width="1.7" stroke-dasharray="1,16,2,5,2,9"/><use href="#B163" stroke="#414141"/><use href="#B163" stroke="#b2b2b2" stroke-width="1.7" stroke-dasharray="3,5,3,12,2,9"/><use href="#B164" stroke="#3b3b3b"/><use href="#B165" stroke="#434343"/><use href="#B165" stroke="#a7a7a7" stroke-width="1.7" stroke-dasharray="1,5,3,3,1,9"/><use href="#B166" stroke="#525252"/><use href="#B166" stroke="#cecece" stroke-width="1.7" stroke-dasharray="1,12,1,5,1,12"/><use href="#B167" stroke="#414141"/><use href="#B167" stroke="#7c7c7c" stroke-width="1.7" stroke-dasharray="2,3,1,3,1,12"/><use href="#B168" stroke="#626262"/><use href="#B168" stroke="#a6a6a6" stroke-width="1.7" stroke-dasharray="1,5,2,9,2,5"/><use href="#B169" stroke="#3f3f3f"/><use href="#B169" stroke="#c6c6c6" stroke-width="1.7" stroke-dasharray="2,12,1,3,3,9"/><use href="#B170" stroke="#5d5d5d"/><use href="#B170" stroke="#e1e1e1" stroke-width="1.7" stroke-dasharray="2,9,1,16,3,16"/><use href="#B171" stroke="#4b4b4b"/><use href="#B171" stroke="#b0b0b0" stroke-width="1.7" stroke-dasharray="2,16,1,7,2,3"/><use href="#B172" stroke="#575757"/><use href="#B172" stroke="#e0e0e0" stroke-width="1.7" stroke-dasharray="1,9,1,9,1,5"/><use href="#B173" stroke="#353535"/><use href="#B173" stroke="#c7c7c7" stroke-width="1.7" stroke-dasharray="2,5,2,16,2,16"/><use href="#B174" stroke="#6c6c6c"/><use href="#B174" stroke="#a9a9a9" stroke-width="1.7" stroke-dasharray="1,9,2,9,1,5"/><use href="#B175" stroke="#474747"/><use href="#B175" stroke="#c6c6c6" stroke-width="1.7" stroke-dasharray="3,3,2,7,1,9"/><use href="#B176" stroke="#595959"/><use href="#B176" stroke="#a8a8a8" stroke-width="1.7" stroke-dasharray="1,16,2,5,3,9"/><use href="#B177" stroke="#4e4e4e"/><use href="#B177" stroke="#d6d6d6" stroke-width="1.7" stroke-dasharray="2,9,2,12,1,16"/><use href="#B178" stroke="#666666"/><use href="#B178" stroke="#d3d3d3" stroke-width="1.7" stroke-dasharray="1,5,1,16,1,7"/><use href="#B179" stroke="#282828"/><use href="#B179" stroke="#bababa" stroke-width="1.7" stroke-dasharray="1,5,2,16,3,16"/><use href="#B180" stroke="#484848"/><use href="#B181" stroke="#494949"/><use href="#B181" stroke="#dadada" stroke-width="1.7" stroke-dasharray="2,9,1,3,1,12"/><use href="#B182" stroke="#666666"/><use href="#B182" stroke="#c6c6c6" stroke-width="1.7" stroke-dasharray="3,12,3,16,3,3"/><use href="#B183" stroke="#313131"/><use href="#B183" stroke="#a3a3a3" stroke-width="1.7" stroke-dasharray="1,12,2,5,1,7"/><use href="#B184" stroke="#313131"/><use href="#B184" stroke="#bababa" stroke-width="1.7" stroke-dasharray="2,3,3,7,1,9"/><use href="#B185" stroke="#626262"/><use href="#B185" stroke="#c9c9c9" stroke-width="1.7" stroke-dasharray="1,12,2,7,3,5"/><use href="#B186" stroke="#333333"/><use href="#B186" stroke="#adadad" stroke-width="1.7" stroke-dasharray="2,12,2,16,2,16"/><use href="#B187" stroke="#515151"/><use href="#B187" stroke="#c4c4c4" stroke-width="1.7" stroke-dasharray="1,7,1,16,2,3"/><use href="#B188" stroke="#6a6a6a"/><use href="#B189" stroke="#303030"/><use href="#B189" stroke="#6a6a6a" stroke-width="1.7" stroke-dasharray="1,3,3,7,2,9"/><use href="#B190" stroke="#333333"/><use href="#B190" stroke="#989898" stroke-width="1.7" stroke-dasharray="1,12,2,7,1,9"/><use href="#B191" stroke="#474747"/><use href="#B191" stroke="#7e7e7e" stroke-width="1.7" stroke-dasharray="3,9,2,5,3,3"/><use href="#B192" stroke="#424242"/><use href="#B192" stroke="#878787" stroke-width="1.7" stroke-dasharray="2,9,1,16,2,16"/><use href="#B193" stroke="#292929"/><use href="#B193" stroke="#919191" stroke-width="1.7" stroke-dasharray="2,7,1,3,1,5"/><use href="#B194" stroke="#2e2e2e"/><use href="#B194" stroke="#696969" stroke-width="1.7" stroke-dasharray="1,16,3,12,2,12"/><use href="#B195" stroke="#6d6d6d"/><use href="#B195" stroke="#c2c2c2" stroke-width="1.7" stroke-dasharray="2,3,1,3,2,12"/><use href="#B196" stroke="#6b6b6b"/><use href="#B196" stroke="#afafaf" stroke-width="1.7" stroke-dasharray="2,7,1,7,3,16"/><use href="#B197" stroke="#6b6b6b"/><use href="#B197" stroke="#d0d0d0" stroke-width="1.7" stroke-dasharray="1,3,2,16,3,16"/><use href="#B198" stroke="#505050"/><use href="#B198" stroke="#d6d6d6" stroke-width="1.7" stroke-dasharray="1,16,1,5,2,9"/><use href="#B199" stroke="#525252"/><use href="#B199" stroke="#858585" stroke-width="1.7" stroke-dasharray="1,3,3,9,2,9"/><use href="#B200" stroke="#484848"/><use href="#B200" stroke="#8a8a8a" stroke-width="1.7" stroke-dasharray="3,5,1,16,2,7"/><use href="#B201" stroke="#414141"/><use href="#B201" stroke="#8c8c8c" stroke-width="1.7" stroke-dasharray="1,12,1,12,1,3"/><use href="#B202" stroke="#2b2b2b"/><use href="#B202" stroke="#7f7f7f" stroke-width="1.7" stroke-dasharray="1,12,3,3,1,5"/><use href="#B203" stroke="#535353"/><use href="#B203" stroke="#e6e6e6" stroke-width="1.7" stroke-dasharray="2,5,2,7,2,9"/><use href="#B204" stroke="#505050"/><use href="#B204" stroke="#e3e3e3" stroke-width="1.7" stroke-dasharray="1,7,1,9,2,7"/><use href="#B205" stroke="#6b6b6b"/><use href="#B205" stroke="#c0c0c0" stroke-width="1.7" stroke-dasharray="2,7,1,7,2,9"/><use href="#B206" stroke="#393939"/><use href="#B206" stroke="#959595" stroke-width="1.7" stroke-dasharray="3,16,2,3,1,16"/><use href="#B207" stroke="#353535"/><use href="#B208" stroke="#6c6c6c"/><use href="#B208" stroke="#c3c3c3" stroke-width="1.7" stroke-dasharray="1,7,2,3,3,9"/><use href="#B209" stroke="#6d6d6d"/><use href="#B209" stroke="#f3f3f3" stroke-width="1.7" stroke-dasharray="2,16,2,12,1,9"/></g><g id="C" fill="none" stroke-width="1.15"><use href="#C0" stroke="#3f3f3f"/><use href="#C0" stroke="#9a9a9a" stroke-width="1.7" stroke-dasharray="1,12,2,7,2,16"/><use href="#C1" stroke="#5b5b5b"/><use href="#C2" stroke="#6d6d6d"/><use href="#C2" stroke="#acacac" stroke-width="1.7" stroke-dasharray="3,9,2,3,2,3"/><use href="#C3" stroke="#7c7c7c"/><use href="#C3" stroke="#dddddd" stroke-width="1.7" stroke-dasharray="3,3,3,3,2,3"/><use href="#C4" stroke="#4c4c4c"/><use href="#C4" stroke="#d8d8d8" stroke-width="1.7" stroke-dasharray="1,12,2,16,1,3"/><use href="#C5" stroke="#3e3e3e"/><use href="#C5" stroke="#acacac" stroke-width="1.7" stroke-dasharray="3,3,1,3,1,9"/><use href="#C6" stroke="#7d7d7d"/><use href="#C6" stroke="#cbcbcb" stroke-width="1.7" stroke-dasharray="2,5,2,12,3,12"/><use href="#C7" stroke="#3f3f3f"/><use href="#C7" stroke="#a8a8a8" stroke-width="1.7" stroke-dasharray="3,16,1,16,1,9"/><use href="#C8" stroke="#6c6c6c"/><use href="#C8" stroke="#e3e3e3" stroke-width="1.7" stroke-dasharray="2,16,2,12,2,5"/><use href="#C9" stroke="#414141"/><use href="#C9" stroke="#a8a8a8" stroke-width="1.7" stroke-dasharray="1,9,3,16,1,16"/><use href="#C10" stroke="#6f6f6f"/><use href="#C10" stroke="#e9e9e9" stroke-width="1.7" stroke-dasharray="3,16,3,16,3,16"/><use href="#C11" stroke="#606060"/><use href="#C11" stroke="#bbbbbb" stroke-width="1.7" stroke-dasharray="1,12,3,3,2,9"/><use href="#C12" stroke="#626262"/><use href="#C12" stroke="#c8c8c8" stroke-width="1.7" stroke-dasharray="1,9,3,7,1,3"/><use href="#C13" stroke="#444444"/><use href="#C13" stroke="#b4b4b4" stroke-width="1.7" stroke-dasharray="1,7,3,12,2,7"/><use href="#C14" stroke="#555555"/><use href="#C14" stroke="#a5a5a5" stroke-width="1.7" stroke-dasharray="2,7,3,3,1,7"/><use href="#C15" stroke="#656565"/><use href="#C15" stroke="#cecece" stroke-width="1.7" stroke-dasharray="2,12,3,5,1,9"/><use href="#C16" stroke="#474747"/><use href="#C16" stroke="#aeaeae" stroke-width="1.7" stroke-dasharray="2,7,2,7,1,5"/><use href="#C17" stroke="#6b6b6b"/><use href="#C17" stroke="#aeaeae" stroke-width="1.7" stroke-dasharray="1,12,2,5,2,7"/><use href="#C18" stroke="#5b5b5b"/><use href="#C19" stroke="#5a5a5a"/><use href="#C20" stroke="#484848"/><use href="#C20" stroke="#9a9a9a" stroke-width="1.7" stroke-dasharray="1,12,2,7,1,16"/><use href="#C21" stroke="#7f7f7f"/><use href="#C21" stroke="#d6d6d6" stroke-width="1.7" stroke-dasharray="2,7,1,3,2,12"/><use href="#C22" stroke="#818181"/><use href="#C22" stroke="#c2c2c2" stroke-width="1.7" stroke-dasharray="2,16,1,7,1,5"/><use href="#C23" stroke="#4a4a4a"/><use href="#C23" stroke="#dadada" stroke-width="1.7" stroke-dasharray="1,9,1,3,2,7"/><use href="#C24" stroke="#585858"/><use href="#C24" stroke="#d4d4d4" stroke-width="1.7" stroke-dasharray="2,16,2,5,2,7"/><use href="#C25" stroke="#535353"/><use href="#C25" stroke="#e6e6e6" stroke-width="1.7" stroke-dasharray="1,5,3,16,2,5"/><use href="#C26" stroke="#808080"/><use href="#C26" stroke="#fdfdfd" stroke-width="1.7" stroke-dasharray="2,9,1,7,3,5"/><use href="#C27" stroke="#818181"/><use href="#C28" stroke="#5a5a5a"/><use href="#C28" stroke="#a1a1a1" stroke-width="1.7" stroke-dasharray="1,3,1,7,1,9"/><use href="#C29" stroke="#4e4e4e"/><use href="#C29" stroke="#949494" stroke-width="1.7" stroke-dasharray="2,12,1,9,1,3"/><use href="#C30" stroke="#686868"/><use href="#C30" stroke="#aeaeae" stroke-width="1.7" stroke-dasharray="1,16,2,7,3,5"/><use href="#C31" stroke="#3e3e3e"/><use href="#C31" stroke="#949494" stroke-width="1.7" stroke-dasharray="1,9,1,7,2,16"/><use href="#C32" stroke="#505050"/><use href="#C33" stroke="#414141"/><use href="#C33" stroke="#9a9a9a" stroke-width="1.7" stroke-dasharray="1,7,1,3,3,9"/><use href="#C34" stroke="#787878"/><use href="#C34" stroke="#b7b7b7" stroke-width="1.7" stroke-dasharray="1,12,1,5,2,5"/><use href="#C35" stroke="#6c6c6c"/><use href="#C35" stroke="#bbbbbb" stroke-width="1.7" stroke-dasharray="3,16,2,16,1,9"/><use href="#C36" stroke="#505050"/><use href="#C36" stroke="#adadad" stroke-width="1.7" stroke-dasharray="2,9,3,5,3,9"/><use href="#C37" stroke="#707070"/><use href="#C38" stroke="#818181"/><use href="#C38" stroke="#c2c2c2" stroke-width="1.7" stroke-dasharray="2,9,3,12,1,16"/><use href="#C39" stroke="#6f6f6f"/><use href="#C39" stroke="#c8c8c8" stroke-width="1.7" stroke-dasharray="1,12,2,12,1,7"/><use href="#C40" stroke="#3d3d3d"/><use href="#C40" stroke="#848484" stroke-width="1.7" stroke-dasharray="2,16,2,9,1,16"/><use href="#C41" stroke="#686868"/><use href="#C42" stroke="#7f7f7f"/><use href="#C42" stroke="#ffffff" stroke-width="1.7" stroke-dasharray="2,16,1,9,3,3"/><use href="#C43" stroke="#7f7f7f"/><use href="#C43" stroke="#ffffff" stroke-width="1.7" stroke-dasharray="2,16,2,9,1,9"/><use href="#C44" stroke="#767676"/><use href="#C44" stroke="#cccccc" stroke-width="1.7" stroke-dasharray="2,5,1,5,2,5"/><use href="#C45" stroke="#4b4b4b"/><use href="#C45" stroke="#d5d5d5" stroke-width="1.7" stroke-dasharray="2,16,1,9,1,16"/><use href="#C46" stroke="#424242"/><use href="#C46" stroke="#cccccc" stroke-width="1.7" stroke-dasharray="3,5,3,9,2,7"/><use href="#C47" stroke="#525252"/><use href="#C47" stroke="#cfcfcf" stroke-width="1.7" stroke-dasharray="2,7,2,3,1,7"/><use href="#C48" stroke="#7a7a7a"/><use href="#C49" stroke="#787878"/><use href="#C49" stroke="#f1f1f1" stroke-width="1.7" stroke-dasharray="2,7,1,12,2,16"/><use href="#C50" stroke="#676767"/><use href="#C51" stroke="#565656"/><use href="#C52" stroke="#6a6a6a"/><use href="#C53" stroke="#7c7c7c"/><use href="#C53" stroke="#f3f3f3" stroke-width="1.7" stroke-dasharray="1,12,2,3,3,12"/><use href="#C54" stroke="#777777"/><use href="#C54" stroke="#c0c0c0" stroke-width="1.7" stroke-dasharray="1,7,1,9,1,5"/><use href="#C55" stroke="#4f4f4f"/><use href="#C55" stroke="#e1e1e1" stroke-width="1.7" stroke-dasharray="2,9,2,9,2,9"/><use href="#C56" stroke="#565656"/><use href="#C56" stroke="#939393" stroke-width="1.7" stroke-dasharray="2,16,3,9,1,16"/><use href="#C57" stroke="#595959"/><use href="#C57" stroke="#d0d0d0" stroke-width="1.7" stroke-dasharray="1,12,1,16,1,9"/><use href="#C58" stroke="#656565"/><use href="#C58" stroke="#a7a7a7" stroke-width="1.7" stroke-dasharray="1,3,3,16,2,9"/><use href="#C59" stroke="#7b7b7b"/><use href="#C59" stroke="#fcfcfc" stroke-width="1.7" stroke-dasharray="1,7,3,9,1,3"/><use href="#C60" stroke="#505050"/><use href="#C60" stroke="#cacaca" stroke-width="1.7" stroke-dasharray="1,16,1,16,1,12"/><use href="#C61" stroke="#7b7b7b"/><use href="#C61" stroke="#bdbdbd" stroke-width="1.7" stroke-dasharray="1,5,2,12,1,5"/><use href="#C62" stroke="#606060"/><use href="#C63" stroke="#5c5c5c"/><use href="#C63" stroke="#ebebeb" stroke-width="1.7" stroke-dasharray="1,12,1,12,2,16"/><use href="#C64" stroke="#494949"/><use href="#C64" stroke="#acacac" stroke-width="1.7" stroke-dasharray="1,12,1,9,1,7"/><use href="#C65" stroke="#414141"/><use href="#C65" stroke="#c4c4c4" stroke-width="1.7" stroke-dasharray="3,9,1,7,3,12"/><use href="#C66" stroke="#7f7f7f"/><use href="#C66" stroke="#e8e8e8" stroke-width="1.7" stroke-dasharray="1,16,1,3,2,9"/><use href="#C67" stroke="#717171"/><use href="#C67" stroke="#d6d6d6" stroke-width="1.7" stroke-dasharray="3,9,1,9,1,12"/><use href="#C68" stroke="#5f5f5f"/><use href="#C68" stroke="#acacac" stroke-width="1.7" stroke-dasharray="2,9,1,5,3,5"/><use href="#C69" stroke="#575757"/><use href="#C69" stroke="#bdbdbd" stroke-width="1.7" stroke-dasharray="3,12,2,7,3,16"/><use href="#C70" stroke="#3c3c3c"/><use href="#C70" stroke="#929292" stroke-width="1.7" stroke-dasharray="3,3,2,7,1,5"/><use href="#C71" stroke="#5d5d5d"/><use href="#C71" stroke="#e1e1e1" stroke-width="1.7" stroke-dasharray="1,7,1,12,3,5"/><use href="#C72" stroke="#525252"/><use href="#C72" stroke="#a2a2a2" stroke-width="1.7" stroke-dasharray="2,3,2,7,2,9"/><use href="#C73" stroke="#6e6e6e"/><use href="#C73" stroke="#f9f9f9" stroke-width="1.7" stroke-dasharray="1,9,1,3,1,7"/><use href="#C74" stroke="#4d4d4d"/><use href="#C75" stroke="#808080"/><use href="#C75" stroke="#bfbfbf" stroke-width="1.7" stroke-dasharray="1,9,1,3,1,16"/><use href="#C76" stroke="#686868"/><use href="#C76" stroke="#fcfcfc" stroke-width="1.7" stroke-dasharray="1,5,2,5,1,7"/><use href="#C77" stroke="#505050"/><use href="#C77" stroke="#a4a4a4" stroke-width="1.7" stroke-dasharray="3,5,1,5,1,5"/><use href="#C78" stroke="#7a7a7a"/><use href="#C78" stroke="#ececec" stroke-width="1.7" stroke-dasharray="2,5,1,16,1,5"/><use href="#C79" stroke="#6e6e6e"/><use href="#C79" stroke="#b0b0b0" stroke-width="1.7" stroke-dasharray="1,16,2,3,3,7"/><use href="#C80" stroke="#5f5f5f"/><use href="#C80" stroke="#bdbdbd" stroke-width="1.7" stroke-dasharray="1,16,1,3,2,9"/><use href="#C81" stroke="#656565"/><use href="#C81" stroke="#e1e1e1" stroke-width="1.7" stroke-dasharray="3,5,1,5,1,12"/><use href="#C82" stroke="#707070"/><use href="#C82" stroke="#dcdcdc" stroke-width="1.7" stroke-dasharray="1,9,3,5,1,12"/><use href="#C83" stroke="#696969"/><use href="#C83" stroke="#a7a7a7" stroke-width="1.7" stroke-dasharray="2,16,2,3,2,7"/><use href="#C84" stroke="#4b4b4b"/><use href="#C84" stroke="#989898" stroke-width="1.7" stroke-dasharray="2,12,2,16,3,12"/><use href="#C85" stroke="#5d5d5d"/><use href="#C85" stroke="#a4a4a4" stroke-width="1.7" stroke-dasharray="3,16,1,9,2,16"/><use href="#C86" stroke="#444444"/><use href="#C86" stroke="#d8d8d8" stroke-width="1.7" stroke-dasharray="2,7,2,5,1,16"/><use href="#C87" stroke="#444444"/><use href="#C88" stroke="#414141"/><use href="#C88" stroke="#c5c5c5" stroke-width="1.7" stroke-dasharray="1,3,1,16,2,9"/><use href="#C89" stroke="#7e7e7e"/><use href="#C89" stroke="#e7e7e7" stroke-width="1.7" stroke-dasharray="1,5,3,16,3,7"/><use href="#C90" stroke="#474747"/><use href="#C90" stroke="#8a8a8a" stroke-width="1.7" stroke-dasharray="2,5,1,16,1,3"/><use href="#C91" stroke="#5e5e5e"/><use href="#C91" stroke="#9e9e9e" stroke-width="1.7" stroke-dasharray="1,9,1,5,1,16"/><use href="#C92" stroke="#606060"/><use href="#C92" stroke="#cbcbcb" stroke-width="1.7" stroke-dasharray="2,7,3,5,2,12"/><use href="#C93" stroke="#636363"/><use href="#C93" stroke="#b3b3b3" stroke-width="1.7" stroke-dasharray="2,9,1,7,3,3"/><use href="#C94" stroke="#555555"/><use href="#C94" stroke="#bfbfbf" stroke-width="1.7" stroke-dasharray="2,5,2,3,3,7"/><use href="#C95" stroke="#6e6e6e"/><use href="#C95" stroke="#fafafa" stroke-width="1.7" stroke-dasharray="1,7,1,7,1,16"/><use href="#C96" stroke="#5e5e5e"/><use href="#C96" stroke="#d5d5d5" stroke-width="1.7" stroke-dasharray="1,7,1,9,1,12"/><use href="#C97" stroke="#4b4b4b"/><use href="#C97" stroke="#b4b4b4" stroke-width="1.7" stroke-dasharray="1,7,1,7,1,3"/><use href="#C98" stroke="#757575"/><use href="#C98" stroke="#c0c0c0" stroke-width="1.7" stroke-dasharray="1,3,1,3,1,3"/><use href="#C99" stroke="#4f4f4f"/><use href="#C99" stroke="#c0c0c0" stroke-width="1.7" stroke-dasharray="1,3,2,9,2,3"/><use href="#C100" stroke="#4a4a4a"/><use href="#C100" stroke="#b5b5b5" stroke-width="1.7" stroke-dasharray="2,5,1,16,3,3"/><use href="#C101" stroke="#666666"/><use href="#C101" stroke="#d5d5d5" stroke-width="1.7" stroke-dasharray="2,9,2,9,1,7"/><use href="#C102" stroke="#494949"/><use href="#C103" stroke="#575757"/><use href="#C103" stroke="#a9a9a9" stroke-width="1.7" stroke-dasharray="3,12,3,5,2,3"/><use href="#C104" stroke="#7e7e7e"/><use href="#C105" stroke="#707070"/><use href="#C105" stroke="#ffffff" stroke-width="1.7" stroke-dasharray="1,3,1,16,2,7"/><use href="#C106" stroke="#747474"/><use href="#C106" stroke="#ffffff" stroke-width="1.7" stroke-dasharray="2,12,3,5,1,3"/><use href="#C107" stroke="#535353"/><use href="#C107" stroke="#b0b0b0" stroke-width="1.7" stroke-dasharray="1,16,1,7,2,3"/><use href="#C108" stroke="#717171"/><use href="#C108" stroke="#c6c6c6" stroke-width="1.7" stroke-dasharray="1,5,1,3,2,5"/><use href="#C109" stroke="#656565"/><use href="#C109" stroke="#a7a7a7" stroke-width="1.7" stroke-dasharray="2,9,1,16,2,5"/></g><radialGradient id="rg3" cx="0.3" cy="0.45" r="0.5"><stop offset="0" stop-color="#fff"/><stop offset="0.6" stop-color="#fff" stop-opacity="0.7"/><stop offset="1" stop-color="#fff" stop-opacity="0"/></radialGradient><mask id="m3" maskUnits="userSpaceOnUse" x="628" y="289" width="283" height="283"><rect x="628" y="289" width="283" height="283" fill="url(#rg3)"/></mask><g id="S"><circle cx="173" cy="77" r="0.9" fill="#676767"/><circle cx="191" cy="24" r="1.1" fill="#a0a0a0"/><circle cx="131" cy="111" r="0.9" fill="#b3b3b3"/><circle cx="132" cy="21" r="0.9" fill="#dadada"/><circle cx="74" cy="166" r="0.9" fill="#696969"/><circle cx="33" cy="269" r="0.9" fill="#a5a5a5"/><circle cx="269" cy="13" r="1.1" fill="#6c6c6c"/><circle cx="185" cy="161" r="0.8" fill="#c0c0c0"/><circle cx="241" cy="75" r="0.8" fill="#9e9e9e"/><circle cx="264" cy="201" r="1.2" fill="#8a8a8a"/><circle cx="151" cy="124" r="1.1" fill="#777777"/><circle cx="253" cy="11" r="1.1" fill="#686868"/><circle cx="207" cy="194" r="0.8" fill="#acacac"/><circle cx="249" cy="76" r="0.8" fill="#cccccc"/><circle cx="2" cy="15" r="0.9" fill="#919191"/><circle cx="176" cy="12" r="1.3" fill="#787878"/><circle cx="180" cy="185" r="0.9" fill="#b5b5b5"/><circle cx="225" cy="36" r="0.9" fill="#9a9a9a"/><circle cx="170" cy="145" r="1.3" fill="#949494"/><circle cx="233" cy="179" r="1.0" fill="#b8b8b8"/><circle cx="230" cy="134" r="1.0" fill="#979797"/><circle cx="263" cy="217" r="1.1" fill="#a0a0a0"/><circle cx="32" cy="228" r="1.1" fill="#dcdcdc"/><circle cx="23" cy="143" r="0.9" fill="#d4d4d4"/><circle cx="99" cy="150" r="1.0" fill="#dcdcdc"/><circle cx="271" cy="79" r="0.9" fill="#777777"/><circle cx="249" cy="275" r="1.2" fill="#6d6d6d"/><circle cx="199" cy="71" r="1.2" fill="#6b6b6b"/><circle cx="254" cy="24" r="1.2" fill="#808080"/><circle cx="146" cy="35" r="1.2" fill="#c0c0c0"/><circle cx="203" cy="57" r="0.8" fill="#676767"/><circle cx="115" cy="155" r="1.1" fill="#d9d9d9"/><circle cx="187" cy="176" r="0.8" fill="#bdbdbd"/><circle cx="271" cy="261" r="1.0" fill="#949494"/><circle cx="111" cy="156" r="1.0" fill="#c4c4c4"/><circle cx="131" cy="171" r="0.8" fill="#a6a6a6"/><circle cx="64" cy="98" r="0.8" fill="#d4d4d4"/><circle cx="235" cy="134" r="1.0" fill="#6d6d6d"/><circle cx="184" cy="126" r="1.2" fill="#8f8f8f"/><circle cx="245" cy="211" r="1.1" fill="#808080"/><circle cx="10" cy="88" r="1.3" fill="#737373"/><circle cx="153" cy="199" r="0.9" fill="#cdcdcd"/><circle cx="30" cy="181" r="0.9" fill="#d1d1d1"/><circle cx="137" cy="211" r="0.9" fill="#c1c1c1"/><circle cx="43" cy="144" r="0.8" fill="#a8a8a8"/><circle cx="110" cy="22" r="1.0" fill="#7a7a7a"/><circle cx="197" cy="220" r="0.8" fill="#c2c2c2"/><circle cx="198" cy="197" r="1.0" fill="#b7b7b7"/><circle cx="203" cy="212" r="1.3" fill="#a0a0a0"/><circle cx="133" cy="3" r="1.1" fill="#b1b1b1"/><circle cx="77" cy="71" r="1.2" fill="#a5a5a5"/><circle cx="135" cy="154" r="0.8" fill="#696969"/><circle cx="74" cy="192" r="1.1" fill="#c6c6c6"/><circle cx="114" cy="218" r="1.2" fill="#6c6c6c"/><circle cx="123" cy="247" r="0.9" fill="#a8a8a8"/><circle cx="3" cy="117" r="0.8" fill="#dadada"/><circle cx="111" cy="270" r="0.9" fill="#808080"/><circle cx="205" cy="24" r="0.7" fill="#7f7f7f"/><circle cx="0" cy="85" r="0.8" fill="#8a8a8a"/><circle cx="203" cy="131" r="1.0" fill="#717171"/><circle cx="36" cy="228" r="1.0" fill="#8b8b8b"/><circle cx="117" cy="235" r="1.1" fill="#c0c0c0"/><circle cx="99" cy="186" r="1.1" fill="#787878"/><circle cx="63" cy="257" r="0.9" fill="#b2b2b2"/><circle cx="122" cy="214" r="1.2" fill="#bababa"/><circle cx="12" cy="81" r="1.0" fill="#8c8c8c"/><circle cx="2" cy="195" r="0.7" fill="#8c8c8c"/><circle cx="55" cy="132" r="0.8" fill="#cdcdcd"/><circle cx="30" cy="85" r="1.0" fill="#9b9b9b"/><circle cx="146" cy="138" r="1.2" fill="#989898"/><circle cx="210" cy="255" r="1.1" fill="#737373"/><circle cx="22" cy="199" r="0.9" fill="#b6b6b6"/><circle cx="206" cy="77" r="1.1" fill="#9d9d9d"/><circle cx="24" cy="263" r="0.9" fill="#878787"/><circle cx="82" cy="136" r="1.2" fill="#a2a2a2"/><circle cx="63" cy="220" r="1.2" fill="#cecece"/><circle cx="132" cy="137" r="1.0" fill="#b0b0b0"/><circle cx="120" cy="20" r="1.0" fill="#777777"/><circle cx="143" cy="16" r="0.8" fill="#777777"/><circle cx="56" cy="203" r="1.0" fill="#8b8b8b"/><circle cx="156" cy="61" r="0.8" fill="#8d8d8d"/><circle cx="34" cy="155" r="0.9" fill="#797979"/><circle cx="276" cy="18" r="0.9" fill="#cbcbcb"/><circle cx="241" cy="127" r="0.8" fill="#ababab"/><circle cx="267" cy="252" r="1.1" fill="#888888"/><circle cx="4" cy="138" r="0.9" fill="#d1d1d1"/><circle cx="260" cy="115" r="1.2" fill="#656565"/><circle cx="92" cy="276" r="1.3" fill="#9b9b9b"/><circle cx="159" cy="6" r="0.9" fill="#9e9e9e"/><circle cx="97" cy="61" r="1.2" fill="#838383"/><circle cx="113" cy="281" r="1.1" fill="#9d9d9d"/><circle cx="94" cy="257" r="0.9" fill="#bebebe"/><circle cx="113" cy="132" r="1.1" fill="#cfcfcf"/><circle cx="234" cy="12" r="1.2" fill="#d8d8d8"/><circle cx="213" cy="86" r="0.8" fill="#d9d9d9"/><circle cx="69" cy="72" r="1.0" fill="#cecece"/><circle cx="120" cy="90" r="0.8" fill="#c1c1c1"/><circle cx="95" cy="241" r="0.8" fill="#d7d7d7"/><circle cx="92" cy="246" r="0.8" fill="#696969"/><circle cx="91" cy="67" r="0.9" fill="#dcdcdc"/><circle cx="234" cy="135" r="0.9" fill="#a3a3a3"/><circle cx="135" cy="146" r="1.0" fill="#c6c6c6"/><circle cx="129" cy="170" r="1.2" fill="#b7b7b7"/><circle cx="276" cy="181" r="0.9" fill="#c9c9c9"/><circle cx="147" cy="221" r="0.8" fill="#757575"/><circle cx="88" cy="108" r="1.0" fill="#cccccc"/><circle cx="159" cy="216" r="1.3" fill="#8d8d8d"/><circle cx="67" cy="282" r="1.3" fill="#9b9b9b"/><circle cx="223" cy="37" r="0.9" fill="#d0d0d0"/><circle cx="14" cy="143" r="1.2" fill="#6f6f6f"/><circle cx="247" cy="72" r="1.2" fill="#a1a1a1"/><circle cx="264" cy="258" r="0.8" fill="#828282"/><circle cx="87" cy="277" r="1.2" fill="#d7d7d7"/><circle cx="177" cy="25" r="0.9" fill="#d3d3d3"/><circle cx="249" cy="203" r="1.3" fill="#a7a7a7"/><circle cx="41" cy="16" r="1.1" fill="#c2c2c2"/><circle cx="137" cy="254" r="1.3" fill="#c1c1c1"/><circle cx="79" cy="151" r="1.0" fill="#818181"/><circle cx="121" cy="103" r="1.2" fill="#dbdbdb"/><circle cx="226" cy="232" r="1.3" fill="#d3d3d3"/><circle cx="223" cy="169" r="1.3" fill="#bcbcbc"/><circle cx="215" cy="18" r="1.1" fill="#929292"/><circle cx="150" cy="195" r="0.7" fill="#a8a8a8"/><circle cx="88" cy="279" r="1.2" fill="#dadada"/><circle cx="170" cy="190" r="1.2" fill="#bdbdbd"/><circle cx="35" cy="205" r="0.9" fill="#848484"/><circle cx="166" cy="1" r="1.1" fill="#cccccc"/><circle cx="109" cy="94" r="0.8" fill="#b0b0b0"/><circle cx="273" cy="192" r="1.3" fill="#878787"/><circle cx="279" cy="121" r="0.9" fill="#9e9e9e"/><circle cx="241" cy="265" r="0.8" fill="#969696"/><circle cx="280" cy="11" r="1.0" fill="#a7a7a7"/><circle cx="109" cy="48" r="1.1" fill="#c3c3c3"/><circle cx="179" cy="181" r="0.9" fill="#808080"/><circle cx="265" cy="197" r="0.9" fill="#a1a1a1"/><circle cx="189" cy="34" r="1.0" fill="#a4a4a4"/><circle cx="100" cy="230" r="0.7" fill="#989898"/><circle cx="185" cy="161" r="1.0" fill="#b6b6b6"/><circle cx="164" cy="250" r="1.2" fill="#c6c6c6"/><circle cx="156" cy="129" r="1.1" fill="#828282"/><circle cx="22" cy="92" r="0.7" fill="#8d8d8d"/><circle cx="57" cy="283" r="1.0" fill="#656565"/><circle cx="138" cy="17" r="1.2" fill="#737373"/><circle cx="172" cy="158" r="1.3" fill="#666666"/><circle cx="274" cy="32" r="1.0" fill="#999999"/><circle cx="106" cy="117" r="1.2" fill="#cccccc"/><circle cx="260" cy="258" r="1.2" fill="#c5c5c5"/><circle cx="112" cy="26" r="1.0" fill="#656565"/><circle cx="34" cy="45" r="0.8" fill="#969696"/><circle cx="159" cy="106" r="1.1" fill="#d4d4d4"/><circle cx="7" cy="184" r="1.1" fill="#828282"/><circle cx="273" cy="279" r="0.9" fill="#868686"/><circle cx="274" cy="147" r="1.1" fill="#d8d8d8"/><circle cx="65" cy="246" r="1.2" fill="#888888"/><circle cx="57" cy="18" r="1.2" fill="#707070"/><circle cx="266" cy="257" r="0.9" fill="#696969"/><circle cx="87" cy="253" r="1.2" fill="#747474"/><circle cx="145" cy="247" r="0.9" fill="#a5a5a5"/><circle cx="108" cy="178" r="1.1" fill="#c3c3c3"/><circle cx="131" cy="105" r="1.3" fill="#9d9d9d"/><circle cx="121" cy="100" r="1.1" fill="#717171"/><circle cx="207" cy="101" r="1.1" fill="#737373"/><circle cx="46" cy="65" r="1.2" fill="#b9b9b9"/><circle cx="143" cy="201" r="1.1" fill="#9a9a9a"/><circle cx="170" cy="138" r="1.3" fill="#898989"/><circle cx="243" cy="140" r="0.7" fill="#bbbbbb"/><circle cx="193" cy="130" r="0.8" fill="#c1c1c1"/><circle cx="162" cy="216" r="1.1" fill="#8b8b8b"/><circle cx="99" cy="60" r="1.2" fill="#a7a7a7"/><circle cx="176" cy="43" r="1.0" fill="#818181"/><circle cx="222" cy="190" r="1.1" fill="#949494"/><circle cx="275" cy="184" r="1.1" fill="#7a7a7a"/><circle cx="115" cy="43" r="1.3" fill="#c6c6c6"/><circle cx="258" cy="219" r="1.2" fill="#8b8b8b"/><circle cx="8" cy="237" r="0.7" fill="#676767"/><circle cx="199" cy="111" r="0.8" fill="#898989"/><circle cx="202" cy="200" r="0.7" fill="#787878"/><circle cx="274" cy="149" r="1.3" fill="#c6c6c6"/><circle cx="136" cy="266" r="1.1" fill="#cbcbcb"/><circle cx="154" cy="88" r="0.7" fill="#949494"/><circle cx="177" cy="137" r="0.9" fill="#898989"/><circle cx="37" cy="259" r="1.0" fill="#8e8e8e"/><circle cx="16" cy="69" r="0.8" fill="#a8a8a8"/><circle cx="156" cy="42" r="0.8" fill="#777777"/><circle cx="20" cy="158" r="0.7" fill="#cfcfcf"/><circle cx="170" cy="162" r="1.0" fill="#8d8d8d"/><circle cx="89" cy="168" r="0.7" fill="#9c9c9c"/><circle cx="132" cy="64" r="1.2" fill="#d8d8d8"/><circle cx="250" cy="128" r="0.8" fill="#b9b9b9"/><circle cx="152" cy="94" r="0.7" fill="#b8b8b8"/><circle cx="247" cy="278" r="0.9" fill="#a7a7a7"/><circle cx="248" cy="195" r="1.1" fill="#b9b9b9"/><circle cx="113" cy="281" r="1.1" fill="#848484"/><circle cx="224" cy="219" r="1.2" fill="#d4d4d4"/><circle cx="135" cy="48" r="1.2" fill="#c2c2c2"/><circle cx="222" cy="181" r="1.0" fill="#727272"/><circle cx="155" cy="128" r="0.9" fill="#d8d8d8"/><circle cx="217" cy="145" r="1.0" fill="#909090"/><circle cx="56" cy="217" r="0.8" fill="#aeaeae"/><circle cx="4" cy="145" r="0.9" fill="#797979"/></g><filter id="bigblur" x="-50%" y="-50%" width="200%" height="200%"><feGaussianBlur stdDeviation="14"/></filter><mask id="mk0" maskUnits="userSpaceOnUse" x="7" y="289" width="283" height="283"><rect x="7" y="289" width="283" height="283" fill="#fff"/><g filter="url(#bigblur)"><ellipse cx="72" cy="380" rx="18" ry="14" fill="#000" opacity="0.8"/><ellipse cx="200" cy="440" rx="30" ry="18" fill="#000" opacity="0.6"/><ellipse cx="60" cy="520" rx="40" ry="30" fill="#000" opacity="0.5"/><ellipse cx="240" cy="520" rx="30" ry="25" fill="#000" opacity="0.5"/><ellipse cx="120" cy="300" rx="25" ry="12" fill="#000" opacity="0.4"/></g></mask><mask id="mk1" maskUnits="userSpaceOnUse" x="338" y="289" width="283" height="283"><rect x="338" y="289" width="283" height="283" fill="#fff"/><g filter="url(#bigblur)"></g></mask><mask id="mk2" maskUnits="userSpaceOnUse" x="628" y="289" width="283" height="283"><rect x="628" y="289" width="283" height="283" fill="#fff"/><g filter="url(#bigblur)"><ellipse cx="870" cy="450" rx="45" ry="70" fill="#000" opacity="0.75"/><ellipse cx="660" cy="510" rx="35" ry="35" fill="#000" opacity="0.6"/><ellipse cx="880" cy="310" rx="30" ry="20" fill="#000" opacity="0.5"/><ellipse cx="820" cy="560" rx="40" ry="15" fill="#000" opacity="0.5"/></g></mask><mask id="mk3" maskUnits="userSpaceOnUse" x="917" y="289" width="283" height="283"><rect x="917" y="289" width="283" height="283" fill="#fff"/><g filter="url(#bigblur)"><ellipse cx="960" cy="520" rx="45" ry="50" fill="#000" opacity="0.85"/><ellipse cx="1045" cy="545" rx="25" ry="25" fill="#000" opacity="0.7"/><ellipse cx="1120" cy="450" rx="35" ry="25" fill="#000" opacity="0.6"/><ellipse cx="1050" cy="300" rx="30" ry="20" fill="#000" opacity="0.3"/><ellipse cx="1150" cy="330" rx="25" ry="25" fill="#000" opacity="0.4"/></g></mask></defs>
<rect x="7" y="289" width="283" height="283" fill="#060606"/>
<g clip-path="url(#clip0)"><g filter="url(#blurf)" mask="url(#mk0)">
<use href="#A" transform="translate(7,289) rotate(0 141.5 141.5)" opacity="0.75"/>
<use href="#C" transform="translate(7,289) rotate(180 141.5 141.5)" opacity="0.35"/>
<use href="#S" transform="translate(7,289) rotate(0 141.5 141.5)" opacity="0.6"/>
</g>
<path d="M0.00,-8.70 C0.89,-8.76 2.35,-5.59 3.11,-4.45 C3.87,-3.30 4.77,-2.26 5.06,-1.07 C5.34,0.12 5.52,2.53 4.99,3.46 C4.47,4.39 2.60,4.65 1.55,5.11 C0.51,5.57 -1.06,6.81 -1.98,6.52 C-2.90,6.23 -4.16,4.30 -4.57,3.17 C-4.99,2.04 -5.02,0.07 -4.75,-1.01 C-4.49,-2.08 -3.53,-2.87 -2.81,-4.02 C-2.10,-5.18 -0.89,-8.64 0.00,-8.70Z" transform="translate(45.0,332.0) rotate(40)" fill="#fff" filter="url(#blurc)"/>
<path d="M0.00,-7.97 C1.03,-7.85 2.14,-4.38 3.05,-3.33 C3.95,-2.28 5.70,-1.89 6.03,-0.97 C6.36,-0.06 5.92,2.01 5.26,2.78 C4.60,3.56 2.69,3.98 1.65,4.17 C0.62,4.36 -0.49,4.23 -1.61,4.06 C-2.73,3.90 -5.10,3.83 -5.80,3.07 C-6.50,2.31 -6.59,0.06 -6.29,-1.02 C-5.99,-2.10 -4.73,-3.09 -3.79,-4.14 C-2.84,-5.18 -1.03,-8.10 0.00,-7.97Z" transform="translate(212.5,328.0) rotate(230)" fill="#fff" filter="url(#blurc)"/>
<path d="M0.00,-8.70 C0.87,-8.80 2.51,-5.62 3.11,-4.45 C3.71,-3.27 3.73,-2.03 4.00,-0.85 C4.28,0.34 5.37,2.64 4.97,3.44 C4.57,4.24 2.37,4.12 1.36,4.47 C0.35,4.83 -1.00,6.08 -1.76,5.80 C-2.52,5.52 -3.38,3.59 -3.73,2.59 C-4.08,1.59 -4.24,0.09 -4.08,-0.86 C-3.92,-1.82 -3.27,-2.63 -2.66,-3.81 C-2.05,-4.98 -0.87,-8.60 0.00,-8.70Z" transform="translate(234.0,300.0) rotate(210)" fill="#fff" filter="url(#blurc)"/>
<path d="M0.00,-7.25 C1.09,-7.29 2.72,-4.67 3.76,-3.74 C4.81,-2.80 6.64,-2.02 6.98,-1.03 C7.31,-0.03 6.81,2.16 6.01,2.89 C5.22,3.63 2.90,3.61 1.69,3.88 C0.48,4.15 -1.16,4.97 -2.05,4.70 C-2.95,4.43 -3.52,2.91 -4.27,2.05 C-5.01,1.19 -7.14,-0.21 -7.02,-1.03 C-6.90,-1.86 -4.53,-2.52 -3.48,-3.45 C-2.43,-4.39 -1.09,-7.21 0.00,-7.25Z" transform="translate(41.0,391.0) rotate(100)" fill="#fff" filter="url(#blurc)"/>
<path d="M0.00,-8.70 C0.97,-8.75 2.56,-5.16 3.35,-3.99 C4.14,-2.82 4.99,-1.97 5.26,-0.93 C5.54,0.12 5.63,1.96 5.15,2.98 C4.68,3.99 3.19,5.48 2.12,5.83 C1.06,6.19 -0.94,5.82 -1.94,5.34 C-2.95,4.87 -4.16,3.58 -4.59,2.65 C-5.02,1.72 -5.03,0.10 -4.81,-0.85 C-4.58,-1.80 -3.81,-2.50 -3.09,-3.68 C-2.37,-4.86 -0.97,-8.65 0.00,-8.70Z" transform="translate(160.0,401.5) rotate(5)" fill="#fff" filter="url(#blurc)"/>
<path d="M0.00,-7.25 C0.82,-7.40 2.50,-5.53 3.07,-4.57 C3.63,-3.61 3.73,-1.87 3.77,-0.83 C3.80,0.21 3.69,1.60 3.32,2.39 C2.95,3.19 2.00,4.11 1.30,4.46 C0.60,4.81 -0.57,4.95 -1.37,4.72 C-2.18,4.49 -3.76,3.77 -4.08,2.94 C-4.39,2.12 -3.72,0.21 -3.47,-0.76 C-3.22,-1.74 -2.91,-2.58 -2.39,-3.56 C-1.87,-4.53 -0.82,-7.10 0.00,-7.25Z" transform="translate(289.0,391.0) rotate(0)" fill="#fff" filter="url(#blurc)"/>
<path d="M0.00,-7.25 C1.05,-7.30 2.97,-4.63 3.67,-3.65 C4.38,-2.66 4.56,-1.57 4.71,-0.69 C4.85,0.19 5.05,1.41 4.65,2.24 C4.26,3.06 3.06,4.55 2.10,4.81 C1.14,5.07 -0.53,4.25 -1.72,3.95 C-2.91,3.65 -5.36,3.51 -5.83,2.81 C-6.30,2.11 -5.26,0.20 -4.88,-0.72 C-4.51,-1.64 -4.07,-2.33 -3.34,-3.31 C-2.60,-4.29 -1.05,-7.20 0.00,-7.25Z" transform="translate(11.0,441.0) rotate(70)" fill="#fff" filter="url(#blurc)"/>
<path d="M0.00,-9.42 C1.39,-9.35 3.36,-6.48 4.40,-5.25 C5.45,-4.02 6.64,-2.57 6.94,-1.22 C7.25,0.12 7.08,2.44 6.44,3.72 C5.80,5.00 3.92,7.06 2.66,7.31 C1.40,7.57 -0.72,6.03 -1.98,5.43 C-3.24,4.83 -5.15,4.28 -5.73,3.31 C-6.31,2.34 -5.98,0.33 -5.84,-1.03 C-5.71,-2.39 -5.71,-4.50 -4.83,-5.76 C-3.96,-7.02 -1.39,-9.50 0.00,-9.42Z" transform="translate(172.5,478.0) rotate(180)" fill="#fff" filter="url(#blurc)"/>
<path d="M0.00,-9.42 C0.81,-9.35 1.84,-5.20 2.55,-3.94 C3.25,-2.69 4.47,-2.14 4.71,-1.08 C4.96,-0.02 4.63,2.07 4.18,3.14 C3.73,4.20 2.62,5.39 1.68,6.01 C0.75,6.64 -1.13,7.72 -2.05,7.32 C-2.96,6.91 -4.14,4.55 -4.42,3.32 C-4.71,2.09 -4.19,0.26 -3.95,-0.91 C-3.72,-2.07 -3.45,-3.15 -2.86,-4.42 C-2.26,-5.70 -0.81,-9.50 0.00,-9.42Z" transform="translate(79.0,497.5) rotate(-30)" fill="#fff" filter="url(#blurc)"/>
<path d="M0.00,-8.70 C0.82,-8.91 2.43,-6.18 3.18,-5.05 C3.93,-3.92 4.84,-2.43 5.01,-1.18 C5.17,0.08 4.85,2.41 4.30,3.31 C3.75,4.21 2.23,4.32 1.32,4.82 C0.40,5.33 -1.04,6.95 -1.82,6.67 C-2.60,6.40 -3.47,4.15 -3.88,2.99 C-4.30,1.83 -4.84,-0.08 -4.60,-1.08 C-4.37,-2.08 -3.00,-2.53 -2.31,-3.68 C-1.62,-4.82 -0.82,-8.49 0.00,-8.70Z" transform="translate(150.0,535.0) rotate(-30)" fill="#fff" filter="url(#blurc)"/>
<path d="M131,484 l-2,4 l3,3 l-2,5 l2,4 l-1,5" stroke="#e8e8e8" stroke-width="2" fill="none" filter="url(#blurc)"/>
<circle cx="48.0" cy="331.0" r="14.5" fill="none" stroke="#4a66d9" stroke-width="2.2"/>
<circle cx="13.0" cy="440.0" r="14.5" fill="none" stroke="#4a66d9" stroke-width="2.2"/>
<circle cx="79.0" cy="498.0" r="14.5" fill="none" stroke="#4a66d9" stroke-width="2.2"/>
</g>
<text x="148.50" y="313.40" font-size="22" text-anchor="middle" fill="#fff" >-3.5 weeks</text>
<rect x="338" y="289" width="283" height="283" fill="#060606"/>
<g clip-path="url(#clip1)"><g filter="url(#blurf)" mask="url(#mk1)">
<use href="#B" transform="translate(338,289) rotate(90 141.5 141.5)" opacity="0.19"/>
<use href="#S" transform="translate(338,289) rotate(180 141.5 141.5)" opacity="0.25"/>
</g>
<path d="M0.00,-6.52 C0.85,-6.72 2.77,-4.89 3.37,-4.02 C3.98,-3.15 4.01,-1.63 4.05,-0.71 C4.09,0.20 3.96,1.24 3.63,2.09 C3.29,2.94 2.59,4.60 1.80,4.95 C1.02,5.31 -0.88,4.93 -1.62,4.46 C-2.37,3.99 -2.72,2.61 -3.15,1.82 C-3.59,1.03 -4.66,-0.12 -4.53,-0.80 C-4.40,-1.48 -2.97,-1.87 -2.29,-2.73 C-1.61,-3.59 -0.85,-6.33 0.00,-6.52Z" transform="translate(563.8,299.0) rotate(20)" fill="#fff" filter="url(#blurc)"/>
<path d="M0.00,-5.80 C0.76,-5.80 1.91,-4.19 2.53,-3.44 C3.14,-2.69 3.95,-1.67 4.07,-0.82 C4.20,0.03 3.81,1.59 3.36,2.22 C2.91,2.84 1.77,3.02 1.06,3.33 C0.35,3.64 -0.72,4.45 -1.36,4.27 C-2.00,4.08 -2.78,2.86 -3.18,2.10 C-3.59,1.34 -4.18,0.01 -4.08,-0.82 C-3.98,-1.65 -3.14,-2.70 -2.53,-3.45 C-1.92,-4.19 -0.76,-5.80 0.00,-5.80Z" transform="translate(543.0,326.0) rotate(0)" fill="#fff" filter="url(#blurc)"/>
<path d="M0.00,-5.08 C1.00,-5.10 2.83,-3.86 3.43,-3.18 C4.03,-2.50 3.97,-1.27 4.00,-0.55 C4.03,0.17 4.03,1.12 3.63,1.63 C3.23,2.14 2.09,2.70 1.35,2.88 C0.61,3.05 -0.51,2.95 -1.30,2.78 C-2.09,2.62 -3.44,2.26 -3.91,1.75 C-4.38,1.25 -4.55,0.10 -4.44,-0.61 C-4.34,-1.32 -3.89,-2.32 -3.23,-2.99 C-2.56,-3.66 -1.00,-5.05 0.00,-5.08Z" transform="translate(373.8,390.0) rotate(60)" fill="#fff" filter="url(#blurc)"/>
<path d="M0.00,-5.80 C0.83,-5.79 1.94,-3.37 2.74,-2.61 C3.54,-1.85 4.97,-1.50 5.34,-0.75 C5.71,-0.00 5.71,1.69 5.18,2.39 C4.65,3.10 2.80,3.83 1.80,3.95 C0.80,4.08 -0.61,3.53 -1.46,3.20 C-2.30,2.88 -3.21,2.38 -3.85,1.78 C-4.50,1.18 -5.93,-0.15 -5.77,-0.81 C-5.62,-1.48 -3.66,-1.92 -2.80,-2.67 C-1.93,-3.41 -0.83,-5.81 0.00,-5.80Z" transform="translate(492.5,398.0) rotate(80)" fill="#fff" filter="url(#blurc)"/>
<path d="M0.00,-5.80 C0.68,-5.83 1.96,-4.49 2.34,-3.71 C2.71,-2.93 2.36,-1.50 2.48,-0.58 C2.60,0.34 3.34,1.71 3.14,2.42 C2.94,3.13 1.73,4.04 1.13,4.15 C0.53,4.26 -0.35,3.51 -0.86,3.15 C-1.37,2.79 -2.05,2.32 -2.29,1.76 C-2.53,1.20 -2.46,0.22 -2.45,-0.58 C-2.44,-1.37 -2.60,-2.76 -2.23,-3.54 C-1.86,-4.33 -0.68,-5.77 0.00,-5.80Z" transform="translate(619.0,391.0) rotate(0)" fill="#fff" filter="url(#blurc)"/>
<path d="M0.00,-1.89 C0.27,-1.88 0.70,-1.32 0.90,-1.07 C1.10,-0.82 1.32,-0.48 1.33,-0.23 C1.34,0.01 1.08,0.30 0.96,0.55 C0.84,0.81 0.74,1.35 0.53,1.45 C0.32,1.56 -0.17,1.35 -0.45,1.25 C-0.74,1.15 -1.20,1.00 -1.34,0.78 C-1.48,0.55 -1.46,0.03 -1.39,-0.25 C-1.33,-0.52 -1.11,-0.83 -0.90,-1.07 C-0.69,-1.32 -0.27,-1.89 0.00,-1.89Z" transform="translate(565.0,414.5) rotate(0)" fill="#fff" filter="url(#blurc)"/>
<path d="M0.00,-5.80 C0.85,-5.88 2.39,-4.40 3.06,-3.65 C3.74,-2.90 4.48,-1.62 4.50,-0.79 C4.52,0.03 3.66,1.17 3.19,1.84 C2.72,2.51 2.00,3.45 1.34,3.68 C0.68,3.91 -0.39,3.56 -1.23,3.38 C-2.06,3.19 -3.75,3.06 -4.22,2.44 C-4.70,1.82 -4.62,0.06 -4.38,-0.77 C-4.13,-1.60 -3.27,-2.36 -2.61,-3.11 C-1.95,-3.87 -0.85,-5.72 0.00,-5.80Z" transform="translate(502.0,475.8) rotate(150)" fill="#fff" filter="url(#blurc)"/>
<path d="M0.00,-7.25 C0.72,-7.28 1.87,-5.13 2.46,-4.19 C3.06,-3.25 3.81,-2.07 3.97,-1.00 C4.13,0.07 3.94,2.01 3.53,2.91 C3.13,3.82 2.00,4.79 1.29,5.06 C0.58,5.33 -0.51,5.05 -1.20,4.69 C-1.88,4.34 -2.85,3.58 -3.29,2.72 C-3.74,1.86 -4.30,-0.04 -4.16,-1.05 C-4.01,-2.06 -2.98,-3.08 -2.35,-4.01 C-1.73,-4.94 -0.72,-7.22 0.00,-7.25Z" transform="translate(476.0,534.5) rotate(-30)" fill="#fff" filter="url(#blurc)"/>
<path d="M455,487 l3,4 l-1,4 l3,3 l0,5 l3,4" stroke="#bbbbbb" stroke-width="1.6" fill="none" filter="url(#blurc)"/>
<circle cx="373.8" cy="389.5" r="14.5" fill="none" stroke="#4a66d9" stroke-width="2.2"/>
</g>
<text x="479.50" y="313.40" font-size="22" text-anchor="middle" fill="#fff" >0 weeks</text>
<rect x="628" y="289" width="283" height="283" fill="#060606"/>
<g clip-path="url(#clip2)"><g filter="url(#blurf)" mask="url(#mk2)">
<use href="#A" transform="translate(628,289) rotate(180 141.5 141.5)" opacity="1.0"/>
<use href="#B" transform="translate(628,289) rotate(0 141.5 141.5)" opacity="0.55"/>
<use href="#S" transform="translate(628,289) rotate(90 141.5 141.5)" opacity="1.0"/>
<g mask="url(#m3)"><use href="#C" transform="translate(628,289) rotate(90 141.5 141.5)"/><use href="#A" transform="translate(628,289) rotate(270 141.5 141.5)"/></g>
</g>
<path d="M0.00,-7.25 C0.69,-7.27 1.72,-4.93 2.35,-4.00 C2.97,-3.07 3.99,-2.09 4.16,-1.05 C4.34,-0.01 4.00,2.12 3.54,2.92 C3.08,3.72 1.82,3.95 1.09,4.28 C0.36,4.61 -0.67,5.39 -1.31,5.14 C-1.95,4.89 -2.89,3.53 -3.19,2.63 C-3.49,1.73 -3.46,0.14 -3.32,-0.84 C-3.18,-1.81 -2.76,-2.90 -2.27,-3.86 C-1.77,-4.82 -0.69,-7.23 0.00,-7.25Z" transform="translate(853.8,300.0) rotate(0)" fill="#fff" filter="url(#blurc)"/>
<path d="M0.00,-10.15 C1.60,-10.11 4.01,-6.79 5.23,-5.45 C6.45,-4.12 8.08,-2.50 8.15,-1.26 C8.21,-0.01 6.56,1.88 5.67,2.86 C4.78,3.85 3.38,4.93 2.20,5.29 C1.02,5.65 -0.69,5.47 -2.19,5.27 C-3.69,5.07 -6.78,4.94 -7.81,3.94 C-8.83,2.94 -9.37,0.06 -9.02,-1.39 C-8.67,-2.84 -6.82,-4.39 -5.47,-5.70 C-4.12,-7.02 -1.60,-10.19 0.00,-10.15Z" transform="translate(706.0,371.0) rotate(200)" fill="#fff" filter="url(#blurc)"/>
<path d="M0.00,-5.80 C0.83,-5.65 1.71,-3.20 2.29,-2.42 C2.87,-1.65 3.77,-1.21 3.89,-0.61 C4.00,-0.01 3.40,0.85 3.08,1.58 C2.75,2.31 2.44,3.93 1.74,4.26 C1.05,4.59 -0.59,4.04 -1.54,3.75 C-2.48,3.47 -4.16,3.00 -4.56,2.34 C-4.96,1.68 -4.40,0.20 -4.20,-0.66 C-4.00,-1.52 -3.84,-2.63 -3.21,-3.40 C-2.58,-4.18 -0.83,-5.95 0.00,-5.80Z" transform="translate(782.5,398.8) rotate(80)" fill="#fff" filter="url(#blurc)"/>
<path d="M0.00,-7.25 C1.41,-7.45 4.38,-5.61 5.48,-4.67 C6.58,-3.72 7.24,-2.00 7.33,-0.92 C7.41,0.15 6.71,1.52 6.04,2.49 C5.36,3.46 4.10,5.23 2.83,5.56 C1.57,5.89 -1.07,5.17 -2.40,4.70 C-3.72,4.24 -5.16,3.33 -6.01,2.48 C-6.85,1.62 -8.33,-0.14 -8.02,-1.01 C-7.71,-1.88 -5.14,-2.41 -3.94,-3.35 C-2.73,-4.29 -1.41,-7.05 0.00,-7.25Z" transform="translate(780.0,463.8) rotate(-60)" fill="#fff" filter="url(#blurc)"/>
<path d="M0.00,-9.42 C1.55,-9.23 3.53,-5.62 4.48,-4.34 C5.43,-3.06 5.97,-2.03 6.31,-0.90 C6.65,0.22 7.34,2.25 6.74,3.16 C6.14,4.08 3.79,4.66 2.33,5.19 C0.87,5.73 -1.45,6.92 -3.00,6.71 C-4.56,6.49 -7.17,4.97 -8.05,3.78 C-8.92,2.58 -9.16,0.15 -8.83,-1.27 C-8.50,-2.68 -7.16,-4.43 -5.83,-5.65 C-4.51,-6.87 -1.55,-9.62 0.00,-9.42Z" transform="translate(722.5,545.0) rotate(160)" fill="#fff" filter="url(#blurc)"/>
<path d="M0.00,-5.08 C0.50,-5.14 1.36,-3.63 1.78,-2.97 C2.20,-2.31 2.77,-1.37 2.79,-0.69 C2.81,-0.01 2.19,0.86 1.92,1.55 C1.65,2.24 1.46,3.55 1.02,3.91 C0.57,4.28 -0.59,4.32 -1.03,3.97 C-1.47,3.61 -1.67,2.23 -1.91,1.54 C-2.14,0.85 -2.66,-0.03 -2.60,-0.64 C-2.55,-1.26 -1.92,-1.89 -1.53,-2.56 C-1.14,-3.22 -0.50,-5.01 0.00,-5.08Z" transform="translate(767.5,534.5) rotate(0)" fill="#fff" filter="url(#blurc)"/>
<path d="M0.00,-4.35 C0.47,-4.41 1.35,-3.02 1.71,-2.44 C2.06,-1.86 2.33,-1.05 2.35,-0.50 C2.37,0.06 2.08,0.83 1.84,1.28 C1.60,1.72 1.18,2.15 0.75,2.46 C0.32,2.78 -0.53,3.50 -1.03,3.40 C-1.53,3.30 -2.35,2.38 -2.58,1.79 C-2.80,1.20 -2.69,0.04 -2.52,-0.53 C-2.35,-1.11 -1.80,-1.46 -1.42,-2.03 C-1.04,-2.60 -0.47,-4.29 0.00,-4.35Z" transform="translate(832.5,325.8) rotate(0)" fill="#fff" filter="url(#blurc)"/>
<path d="M0.00,-7.25 C0.52,-7.25 1.33,-4.42 1.74,-3.46 C2.15,-2.49 2.62,-1.70 2.75,-0.81 C2.87,0.08 2.84,1.72 2.57,2.47 C2.29,3.22 1.44,3.92 0.91,4.18 C0.39,4.44 -0.41,4.50 -0.92,4.23 C-1.44,3.96 -2.28,3.14 -2.49,2.40 C-2.71,1.66 -2.49,0.18 -2.37,-0.70 C-2.26,-1.58 -2.10,-2.48 -1.74,-3.47 C-1.39,-4.45 -0.52,-7.25 0.00,-7.25Z" transform="translate(910.0,387.5) rotate(0)" fill="#fff" filter="url(#blurc)"/>
<path d="M0.00,-7.25 C1.12,-7.31 3.15,-5.58 3.88,-4.62 C4.61,-3.66 4.83,-1.92 4.88,-0.86 C4.93,0.20 4.70,1.62 4.22,2.43 C3.73,3.24 2.56,4.14 1.65,4.53 C0.74,4.93 -0.84,5.33 -1.85,5.09 C-2.87,4.85 -4.77,3.83 -5.12,2.96 C-5.47,2.08 -4.39,0.35 -4.16,-0.73 C-3.92,-1.81 -4.19,-3.27 -3.57,-4.25 C-2.94,-5.23 -1.12,-7.19 0.00,-7.25Z" transform="translate(703.0,340.0) rotate(0)" fill="#8a8a8a" filter="url(#blurc)"/>
<circle cx="702.0" cy="341.2" r="14.5" fill="none" stroke="#6dc9f2" stroke-width="2.2"/>
<circle cx="708.0" cy="370.5" r="14.5" fill="none" stroke="#6dc9f2" stroke-width="2.2"/>
<circle cx="778.2" cy="462.0" r="14.5" fill="none" stroke="#6dc9f2" stroke-width="2.2"/>
<circle cx="722.5" cy="545.0" r="14.5" fill="none" stroke="#6dc9f2" stroke-width="2.2"/>
<circle cx="833.0" cy="326.2" r="14.5" fill="none" stroke="#4a66d9" stroke-width="2.2"/>
<circle cx="792.0" cy="476.2" r="14.5" fill="none" stroke="#4a66d9" stroke-width="2.2"/>
<circle cx="766.8" cy="533.0" r="14.5" fill="none" stroke="#4a66d9" stroke-width="2.2"/>
</g>
<text x="769.50" y="313.40" font-size="22" text-anchor="middle" fill="#fff" >1.5 weeks</text>
<rect x="917" y="289" width="283" height="283" fill="#060606"/>
<g clip-path="url(#clip3)"><g filter="url(#blurf)" mask="url(#mk3)">
<use href="#B" transform="translate(917,289) rotate(270 141.5 141.5)" opacity="1.0"/>
<use href="#C" transform="translate(917,289) rotate(0 141.5 141.5)" opacity="0.7"/>
<use href="#S" transform="translate(917,289) rotate(270 141.5 141.5)" opacity="0.9"/>
</g>
<path d="M0.00,-7.25 C0.76,-7.23 2.02,-4.69 2.49,-3.71 C2.97,-2.73 2.95,-1.68 3.17,-0.70 C3.39,0.29 4.26,2.16 3.95,2.85 C3.65,3.54 1.91,3.70 1.14,3.90 C0.36,4.10 -0.57,4.42 -1.22,4.18 C-1.87,3.95 -2.73,3.09 -3.21,2.32 C-3.68,1.54 -4.48,-0.05 -4.39,-0.97 C-4.29,-1.89 -3.23,-2.88 -2.57,-3.83 C-1.91,-4.77 -0.76,-7.27 0.00,-7.25Z" transform="translate(1142.0,297.5) rotate(0)" fill="#fff" filter="url(#blurc)"/>
<path d="M0.00,-7.25 C1.09,-7.28 2.98,-4.68 3.72,-3.70 C4.47,-2.72 4.65,-1.69 4.95,-0.73 C5.24,0.24 6.07,1.80 5.69,2.74 C5.30,3.67 3.51,5.36 2.41,5.51 C1.31,5.67 -0.46,4.20 -1.64,3.77 C-2.83,3.34 -4.69,3.36 -5.49,2.64 C-6.30,1.92 -7.33,-0.11 -7.03,-1.03 C-6.74,-1.96 -4.60,-2.58 -3.54,-3.52 C-2.49,-4.45 -1.09,-7.22 0.00,-7.25Z" transform="translate(996.0,342.5) rotate(300)" fill="#fff" filter="url(#blurc)"/>
<path d="M0.00,-8.70 C0.89,-8.62 2.14,-5.14 2.78,-3.97 C3.41,-2.80 4.12,-1.87 4.25,-0.90 C4.37,0.07 3.96,1.47 3.60,2.49 C3.23,3.51 2.62,5.31 1.79,5.91 C0.96,6.50 -0.95,6.84 -1.96,6.47 C-2.98,6.10 -4.51,4.57 -4.96,3.44 C-5.42,2.31 -5.29,0.13 -5.01,-1.06 C-4.74,-2.25 -3.89,-3.35 -3.14,-4.49 C-2.39,-5.64 -0.89,-8.78 0.00,-8.70Z" transform="translate(999.5,370.0) rotate(0)" fill="#fff" filter="url(#blurc)"/>
<path d="M0.00,-7.25 C0.48,-7.31 1.34,-4.39 1.72,-3.41 C2.09,-2.43 2.32,-1.67 2.50,-0.73 C2.68,0.20 3.13,1.91 2.92,2.81 C2.72,3.71 1.74,5.00 1.15,5.27 C0.56,5.53 -0.43,4.99 -1.00,4.59 C-1.58,4.19 -2.41,3.41 -2.69,2.59 C-2.98,1.78 -3.09,-0.02 -2.91,-0.85 C-2.73,-1.69 -1.94,-2.03 -1.51,-2.99 C-1.07,-3.95 -0.48,-7.19 0.00,-7.25Z" transform="translate(985.0,368.0) rotate(0)" fill="#fff" filter="url(#blurc)"/>
<path d="M0.00,-6.52 C0.98,-6.51 2.59,-4.70 3.21,-3.83 C3.84,-2.96 4.07,-1.63 4.15,-0.73 C4.23,0.17 4.17,1.51 3.75,2.16 C3.32,2.81 2.15,3.16 1.31,3.60 C0.47,4.03 -0.97,5.22 -1.85,5.07 C-2.72,4.93 -4.14,3.50 -4.54,2.62 C-4.94,1.74 -4.70,0.19 -4.52,-0.80 C-4.33,-1.78 -3.97,-3.07 -3.30,-3.93 C-2.62,-4.79 -0.98,-6.54 0.00,-6.52Z" transform="translate(1072.5,397.0) rotate(0)" fill="#fff" filter="url(#blurc)"/>
<path d="M0.00,-9.42 C0.90,-9.33 2.02,-5.58 2.81,-4.35 C3.60,-3.12 4.95,-2.41 5.27,-1.21 C5.59,-0.00 5.45,2.58 4.92,3.70 C4.40,4.81 2.73,5.91 1.75,6.24 C0.76,6.58 -0.76,6.37 -1.65,5.91 C-2.55,5.45 -3.89,4.19 -4.22,3.17 C-4.56,2.15 -4.04,0.33 -3.89,-0.89 C-3.73,-2.11 -3.78,-3.67 -3.20,-4.95 C-2.61,-6.23 -0.90,-9.52 0.00,-9.42Z" transform="translate(987.5,408.0) rotate(0)" fill="#fff" filter="url(#blurc)"/>
<path d="M0.00,-6.52 C1.02,-6.58 2.97,-4.72 3.58,-3.84 C4.19,-2.96 3.90,-1.60 4.09,-0.65 C4.28,0.31 5.24,1.83 4.87,2.53 C4.50,3.24 2.57,3.92 1.64,4.05 C0.70,4.17 -0.58,3.69 -1.36,3.36 C-2.13,3.02 -3.03,2.45 -3.53,1.84 C-4.04,1.22 -4.74,0.05 -4.70,-0.75 C-4.66,-1.54 -3.94,-2.61 -3.24,-3.47 C-2.53,-4.34 -1.02,-6.47 0.00,-6.52Z" transform="translate(1167.5,399.0) rotate(0)" fill="#fff" filter="url(#blurc)"/>
<path d="M0.00,-7.25 C1.31,-7.18 3.30,-5.07 4.13,-4.10 C4.96,-3.13 5.31,-1.84 5.55,-0.81 C5.78,0.21 6.18,1.86 5.68,2.73 C5.17,3.60 3.40,4.56 2.18,5.00 C0.96,5.43 -1.29,5.98 -2.46,5.64 C-3.64,5.30 -5.08,3.71 -5.66,2.72 C-6.24,1.74 -6.50,0.17 -6.34,-0.93 C-6.18,-2.03 -5.57,-3.64 -4.62,-4.59 C-3.67,-5.54 -1.31,-7.32 0.00,-7.25Z" transform="translate(1074.5,462.5) rotate(270)" fill="#fff" filter="url(#blurc)"/>
<path d="M0.00,-7.25 C1.07,-7.25 2.60,-4.50 3.58,-3.56 C4.57,-2.62 6.44,-1.81 6.55,-0.96 C6.66,-0.12 4.98,1.21 4.31,2.07 C3.65,2.94 2.99,4.56 2.10,4.81 C1.21,5.06 -0.40,4.02 -1.63,3.74 C-2.87,3.46 -5.43,3.66 -6.15,2.96 C-6.86,2.26 -6.79,0.04 -6.40,-0.94 C-6.01,-1.92 -4.53,-2.60 -3.57,-3.55 C-2.61,-4.49 -1.07,-7.25 0.00,-7.25Z" transform="translate(1009.5,548.8) rotate(60)" fill="#fff" filter="url(#blurc)"/>
<path d="M0.00,-7.25 C0.66,-7.28 1.80,-4.81 2.25,-3.84 C2.71,-2.87 2.87,-1.76 3.04,-0.77 C3.21,0.23 3.61,1.81 3.37,2.78 C3.13,3.74 2.17,5.23 1.44,5.67 C0.72,6.11 -0.78,6.17 -1.45,5.69 C-2.11,5.21 -2.75,3.43 -2.99,2.46 C-3.23,1.50 -3.17,0.15 -3.05,-0.77 C-2.92,-1.68 -2.59,-2.65 -2.13,-3.63 C-1.67,-4.60 -0.66,-7.22 0.00,-7.25Z" transform="translate(1082.5,540.0) rotate(30)" fill="#fff" filter="url(#blurc)"/>
<path d="M0.00,-3.62 C0.38,-3.71 1.13,-2.64 1.45,-2.17 C1.78,-1.69 2.15,-0.95 2.15,-0.47 C2.15,0.01 1.65,0.61 1.43,1.03 C1.21,1.45 1.00,2.09 0.67,2.31 C0.35,2.53 -0.36,2.65 -0.73,2.49 C-1.09,2.34 -1.60,1.70 -1.76,1.27 C-1.92,0.84 -1.92,0.03 -1.82,-0.40 C-1.72,-0.84 -1.36,-1.14 -1.09,-1.62 C-0.82,-2.11 -0.38,-3.54 0.00,-3.62Z" transform="translate(1025.0,429.5) rotate(0)" fill="#fff" filter="url(#blurc)"/>
<path d="M0.00,-5.80 C0.54,-5.90 1.52,-3.93 1.99,-3.17 C2.47,-2.41 3.01,-1.55 3.15,-0.74 C3.29,0.07 3.23,1.55 2.91,2.24 C2.60,2.94 1.64,3.74 1.07,3.91 C0.49,4.08 -0.35,3.65 -0.92,3.38 C-1.49,3.11 -2.44,2.70 -2.72,2.09 C-3.00,1.49 -2.97,0.04 -2.80,-0.66 C-2.63,-1.35 -2.01,-1.76 -1.59,-2.53 C-1.17,-3.30 -0.54,-5.70 0.00,-5.80Z" transform="translate(920.0,468.8) rotate(0)" fill="#fff" filter="url(#blurc)"/>
<circle cx="987.0" cy="407.5" r="14.5" fill="none" stroke="#6dc9f2" stroke-width="2.2"/>
<circle cx="1166.2" cy="399.2" r="14.5" fill="none" stroke="#6dc9f2" stroke-width="2.2"/>
<circle cx="1082.0" cy="539.2" r="14.5" fill="none" stroke="#6dc9f2" stroke-width="2.2"/>
</g>
<text x="1058.50" y="313.40" font-size="22" text-anchor="middle" fill="#fff" >7 weeks</text>
<text x="14.00" y="532.60" font-size="22" text-anchor="start" fill="#fff" >Mobp-EGFP</text>
<text x="14.00" y="559.60" font-size="22" text-anchor="start" fill="#4a66d9" >Lost OL</text>
<text x="104.00" y="559.60" font-size="22" text-anchor="start" fill="#6dc9f2" >New OL</text>
<rect x="1125" y="557" width="66" height="4" fill="#fff"/>
<text x="1158.00" y="551.50" font-size="22" text-anchor="middle" fill="#fff" >50 µm</text>
<text x="0.00" y="633.00" font-size="36" text-anchor="start" fill="#000" >E</text>
<line x1="111.20" y1="641.75" x2="111.20" y2="874.75" stroke="#000" stroke-width="1.5" />
<line x1="110.45" y1="874.00" x2="398.80" y2="874.00" stroke="#000" stroke-width="1.5" />
<line x1="105.20" y1="641.75" x2="111.20" y2="641.75" stroke="#000" stroke-width="1.5" />
<text x="101.70" y="649.35" font-size="22" text-anchor="end" fill="#000" >100</text>
<line x1="105.20" y1="700.00" x2="111.20" y2="700.00" stroke="#000" stroke-width="1.5" />
<text x="101.70" y="707.60" font-size="22" text-anchor="end" fill="#000" >50</text>
<line x1="105.20" y1="758.20" x2="111.20" y2="758.20" stroke="#000" stroke-width="1.5" />
<text x="101.70" y="765.80" font-size="22" text-anchor="end" fill="#000" >0</text>
<line x1="105.20" y1="816.30" x2="111.20" y2="816.30" stroke="#000" stroke-width="1.5" />
<text x="101.70" y="823.90" font-size="22" text-anchor="end" fill="#000" >50</text>
<line x1="105.20" y1="874.00" x2="111.20" y2="874.00" stroke="#000" stroke-width="1.5" />
<text x="101.70" y="881.60" font-size="22" text-anchor="end" fill="#000" >100</text>
<line x1="111.10" y1="874.00" x2="111.10" y2="880.50" stroke="#000" stroke-width="1.5" />
<text x="111.10" y="901.00" font-size="22" text-anchor="middle" fill="#000" >-25</text>
<line x1="207.00" y1="874.00" x2="207.00" y2="880.50" stroke="#000" stroke-width="1.5" />
<text x="207.00" y="901.00" font-size="22" text-anchor="middle" fill="#000" >0</text>
<line x1="302.90" y1="874.00" x2="302.90" y2="880.50" stroke="#000" stroke-width="1.5" />
<text x="302.90" y="901.00" font-size="22" text-anchor="middle" fill="#000" >25</text>
<line x1="398.80" y1="874.00" x2="398.80" y2="880.50" stroke="#000" stroke-width="1.5" />
<text x="398.80" y="901.00" font-size="22" text-anchor="middle" fill="#000" >50</text>
<text x="255.00" y="932.00" font-size="22" text-anchor="middle" fill="#000" >Days</text>
<text x="119.00" y="659.80" font-size="17.5" text-anchor="start" fill="#000" >Cuprizone</text>
<rect x="111.2" y="665.5" width="95.8" height="4" fill="#fddc9c"/>
<line x1="207.00" y1="758.20" x2="398.80" y2="758.20" stroke="#000" stroke-width="1.6" stroke-dasharray="5,4"/>
<text transform="translate(38.80,693.00) rotate(-90)" x="0" y="0" font-size="22" text-anchor="middle" fill="#000">Cumul. new</text>
<text transform="translate(60.80,696.40) rotate(-90)" x="0" y="0" font-size="22" text-anchor="middle" fill="#000">OLs (%)</text>
<text transform="translate(38.80,823.00) rotate(-90)" x="0" y="0" font-size="22" text-anchor="middle" fill="#000">Cumul. lost</text>
<text transform="translate(60.80,825.50) rotate(-90)" x="0" y="0" font-size="22" text-anchor="middle" fill="#000">OLs (%)</text>
<polyline points="111.1,758.2 126.4,758.2 138.0,758.1 153.3,758.0 180.1,757.1 191.7,755.7 207.0,751.6 222.3,741.4 241.5,723.6 249.2,719.3 268.4,710.0 276.0,708.3 287.6,705.2 295.2,704.6 341.3,698.5 375.8,691.2" stroke="#6dc9f2" stroke-width="1.3" fill="none" />
<circle cx="111.10" cy="758.20" r="2.2" fill="#6dc9f2" />
<circle cx="126.44" cy="758.18" r="2.2" fill="#6dc9f2" />
<circle cx="137.95" cy="758.15" r="2.2" fill="#6dc9f2" />
<circle cx="153.30" cy="758.03" r="2.2" fill="#6dc9f2" />
<circle cx="180.15" cy="757.06" r="2.2" fill="#6dc9f2" />
<circle cx="191.66" cy="755.71" r="2.2" fill="#6dc9f2" />
<circle cx="207.00" cy="751.60" r="2.2" fill="#6dc9f2" />
<circle cx="222.34" cy="741.37" r="2.2" fill="#6dc9f2" />
<circle cx="241.52" cy="723.63" r="2.2" fill="#6dc9f2" />
<circle cx="249.20" cy="719.29" r="2.2" fill="#6dc9f2" />
<circle cx="268.38" cy="709.96" r="2.2" fill="#6dc9f2" />
<circle cx="276.05" cy="708.28" r="2.2" fill="#6dc9f2" />
<circle cx="287.56" cy="705.23" r="2.2" fill="#6dc9f2" />
<circle cx="295.23" cy="704.58" r="2.2" fill="#6dc9f2" />
<circle cx="341.26" cy="698.46" r="2.2" fill="#6dc9f2" />
<circle cx="375.78" cy="691.19" r="2.2" fill="#6dc9f2" />
<polyline points="111.1,758.2 126.4,758.2 153.3,758.1 180.1,757.6 191.7,756.7 207.0,753.7 214.7,751.2 222.3,746.2 233.9,734.1 260.7,718.3 268.4,714.2 276.0,712.7 287.6,711.3 314.4,705.6 322.1,706.7 341.3,702.5 368.1,700.9 375.8,698.9 395.0,697.2" stroke="#6dc9f2" stroke-width="1.3" fill="none" />
<circle cx="111.10" cy="758.20" r="2.2" fill="#6dc9f2" />
<circle cx="126.44" cy="758.19" r="2.2" fill="#6dc9f2" />
<circle cx="153.30" cy="758.12" r="2.2" fill="#6dc9f2" />
<circle cx="180.15" cy="757.58" r="2.2" fill="#6dc9f2" />
<circle cx="191.66" cy="756.72" r="2.2" fill="#6dc9f2" />
<circle cx="207.00" cy="753.73" r="2.2" fill="#6dc9f2" />
<circle cx="214.67" cy="751.23" r="2.2" fill="#6dc9f2" />
<circle cx="222.34" cy="746.22" r="2.2" fill="#6dc9f2" />
<circle cx="233.85" cy="734.09" r="2.2" fill="#6dc9f2" />
<circle cx="260.70" cy="718.26" r="2.2" fill="#6dc9f2" />
<circle cx="268.38" cy="714.25" r="2.2" fill="#6dc9f2" />
<circle cx="276.05" cy="712.65" r="2.2" fill="#6dc9f2" />
<circle cx="287.56" cy="711.33" r="2.2" fill="#6dc9f2" />
<circle cx="314.41" cy="705.58" r="2.2" fill="#6dc9f2" />
<circle cx="322.08" cy="706.69" r="2.2" fill="#6dc9f2" />
<circle cx="341.26" cy="702.46" r="2.2" fill="#6dc9f2" />
<circle cx="368.11" cy="700.93" r="2.2" fill="#6dc9f2" />
<circle cx="375.78" cy="698.91" r="2.2" fill="#6dc9f2" />
<circle cx="394.96" cy="697.23" r="2.2" fill="#6dc9f2" />
<polyline points="111.1,758.2 126.4,758.2 138.0,758.2 164.8,758.1 180.1,757.8 191.7,757.1 207.0,754.7 214.7,749.7 233.9,736.0 241.5,731.3 249.2,725.8 260.7,717.6 287.6,710.0 314.4,708.9 322.1,705.3 341.3,703.2 348.9,703.2 368.1,701.5 375.8,701.7 395.0,699.6" stroke="#6dc9f2" stroke-width="1.3" fill="none" />
<circle cx="111.10" cy="758.20" r="2.2" fill="#6dc9f2" />
<circle cx="126.44" cy="758.20" r="2.2" fill="#6dc9f2" />
<circle cx="137.95" cy="758.19" r="2.2" fill="#6dc9f2" />
<circle cx="164.80" cy="758.07" r="2.2" fill="#6dc9f2" />
<circle cx="180.15" cy="757.76" r="2.2" fill="#6dc9f2" />
<circle cx="191.66" cy="757.10" r="2.2" fill="#6dc9f2" />
<circle cx="207.00" cy="754.65" r="2.2" fill="#6dc9f2" />
<circle cx="214.67" cy="749.74" r="2.2" fill="#6dc9f2" />
<circle cx="233.85" cy="735.96" r="2.2" fill="#6dc9f2" />
<circle cx="241.52" cy="731.35" r="2.2" fill="#6dc9f2" />
<circle cx="249.20" cy="725.78" r="2.2" fill="#6dc9f2" />
<circle cx="260.70" cy="717.63" r="2.2" fill="#6dc9f2" />
<circle cx="287.56" cy="710.04" r="2.2" fill="#6dc9f2" />
<circle cx="314.41" cy="708.90" r="2.2" fill="#6dc9f2" />
<circle cx="322.08" cy="705.31" r="2.2" fill="#6dc9f2" />
<circle cx="341.26" cy="703.18" r="2.2" fill="#6dc9f2" />
<circle cx="348.93" cy="703.22" r="2.2" fill="#6dc9f2" />
<circle cx="368.11" cy="701.52" r="2.2" fill="#6dc9f2" />
<circle cx="375.78" cy="701.69" r="2.2" fill="#6dc9f2" />
<circle cx="394.96" cy="699.58" r="2.2" fill="#6dc9f2" />
<polyline points="111.1,758.2 126.4,758.2 138.0,758.2 153.3,758.1 164.8,758.0 191.7,757.3 207.0,756.0 222.3,750.8 233.9,745.6 241.5,741.7 249.2,738.5 260.7,731.4 287.6,717.9 295.2,712.4 341.3,704.8 348.9,702.8 375.8,702.8" stroke="#6dc9f2" stroke-width="1.3" fill="none" />
<circle cx="111.10" cy="758.20" r="2.2" fill="#6dc9f2" />
<circle cx="126.44" cy="758.19" r="2.2" fill="#6dc9f2" />
<circle cx="137.95" cy="758.17" r="2.2" fill="#6dc9f2" />
<circle cx="153.30" cy="758.11" r="2.2" fill="#6dc9f2" />
<circle cx="164.80" cy="758.01" r="2.2" fill="#6dc9f2" />
<circle cx="191.66" cy="757.26" r="2.2" fill="#6dc9f2" />
<circle cx="207.00" cy="755.97" r="2.2" fill="#6dc9f2" />
<circle cx="222.34" cy="750.78" r="2.2" fill="#6dc9f2" />
<circle cx="233.85" cy="745.60" r="2.2" fill="#6dc9f2" />
<circle cx="241.52" cy="741.74" r="2.2" fill="#6dc9f2" />
<circle cx="249.20" cy="738.51" r="2.2" fill="#6dc9f2" />
<circle cx="260.70" cy="731.38" r="2.2" fill="#6dc9f2" />
<circle cx="287.56" cy="717.93" r="2.2" fill="#6dc9f2" />
<circle cx="295.23" cy="712.38" r="2.2" fill="#6dc9f2" />
<circle cx="341.26" cy="704.77" r="2.2" fill="#6dc9f2" />
<circle cx="348.93" cy="702.85" r="2.2" fill="#6dc9f2" />
<circle cx="375.78" cy="702.80" r="2.2" fill="#6dc9f2" />
<polyline points="111.1,758.2 126.4,758.2 138.0,758.2 164.8,758.1 180.1,757.9 191.7,757.6 207.0,756.6 214.7,754.2 222.3,753.3 233.9,747.8 241.5,744.8 249.2,741.0 260.7,732.7 268.4,731.0 276.0,724.7 287.6,722.6 295.2,718.3 314.4,714.7 322.1,714.4 341.3,710.3 348.9,710.1 368.1,707.5 395.0,703.5" stroke="#6dc9f2" stroke-width="1.3" fill="none" />
<circle cx="111.10" cy="758.20" r="2.2" fill="#6dc9f2" />
<circle cx="126.44" cy="758.19" r="2.2" fill="#6dc9f2" />
<circle cx="137.95" cy="758.18" r="2.2" fill="#6dc9f2" />
<circle cx="164.80" cy="758.08" r="2.2" fill="#6dc9f2" />
<circle cx="180.15" cy="757.88" r="2.2" fill="#6dc9f2" />
<circle cx="191.66" cy="757.57" r="2.2" fill="#6dc9f2" />
<circle cx="207.00" cy="756.64" r="2.2" fill="#6dc9f2" />
<circle cx="214.67" cy="754.16" r="2.2" fill="#6dc9f2" />
<circle cx="222.34" cy="753.25" r="2.2" fill="#6dc9f2" />
<circle cx="233.85" cy="747.85" r="2.2" fill="#6dc9f2" />
<circle cx="241.52" cy="744.77" r="2.2" fill="#6dc9f2" />
<circle cx="249.20" cy="741.04" r="2.2" fill="#6dc9f2" />
<circle cx="260.70" cy="732.75" r="2.2" fill="#6dc9f2" />
<circle cx="268.38" cy="730.96" r="2.2" fill="#6dc9f2" />
<circle cx="276.05" cy="724.72" r="2.2" fill="#6dc9f2" />
<circle cx="287.56" cy="722.60" r="2.2" fill="#6dc9f2" />
<circle cx="295.23" cy="718.28" r="2.2" fill="#6dc9f2" />
<circle cx="314.41" cy="714.69" r="2.2" fill="#6dc9f2" />
<circle cx="322.08" cy="714.38" r="2.2" fill="#6dc9f2" />
<circle cx="341.26" cy="710.25" r="2.2" fill="#6dc9f2" />
<circle cx="348.93" cy="710.05" r="2.2" fill="#6dc9f2" />
<circle cx="368.11" cy="707.49" r="2.2" fill="#6dc9f2" />
<circle cx="394.96" cy="703.50" r="2.2" fill="#6dc9f2" />
<polyline points="111.1,758.2 126.4,758.2 164.8,758.0 180.1,757.8 191.7,757.4 207.0,756.2 214.7,755.3 222.3,753.6 241.5,745.3 249.2,742.4 260.7,737.4 268.4,733.6 276.0,730.3 287.6,727.8 295.2,727.0 322.1,721.6 341.3,719.3 348.9,720.4" stroke="#6dc9f2" stroke-width="1.3" fill="none" />
<circle cx="111.10" cy="758.20" r="2.2" fill="#6dc9f2" />
<circle cx="126.44" cy="758.19" r="2.2" fill="#6dc9f2" />
<circle cx="164.80" cy="758.03" r="2.2" fill="#6dc9f2" />
<circle cx="180.15" cy="757.77" r="2.2" fill="#6dc9f2" />
<circle cx="191.66" cy="757.36" r="2.2" fill="#6dc9f2" />
<circle cx="207.00" cy="756.20" r="2.2" fill="#6dc9f2" />
<circle cx="214.67" cy="755.32" r="2.2" fill="#6dc9f2" />
<circle cx="222.34" cy="753.61" r="2.2" fill="#6dc9f2" />
<circle cx="241.52" cy="745.31" r="2.2" fill="#6dc9f2" />
<circle cx="249.20" cy="742.38" r="2.2" fill="#6dc9f2" />
<circle cx="260.70" cy="737.38" r="2.2" fill="#6dc9f2" />
<circle cx="268.38" cy="733.63" r="2.2" fill="#6dc9f2" />
<circle cx="276.05" cy="730.33" r="2.2" fill="#6dc9f2" />
<circle cx="287.56" cy="727.84" r="2.2" fill="#6dc9f2" />
<circle cx="295.23" cy="726.98" r="2.2" fill="#6dc9f2" />
<circle cx="322.08" cy="721.61" r="2.2" fill="#6dc9f2" />
<circle cx="341.26" cy="719.25" r="2.2" fill="#6dc9f2" />
<circle cx="348.93" cy="720.41" r="2.2" fill="#6dc9f2" />
<polyline points="111.1,758.2 138.0,758.2 153.3,758.1 164.8,758.1 180.1,757.8 207.0,756.5 214.7,754.3 233.9,750.3 268.4,734.5 276.0,732.8 287.6,730.2 295.2,727.0" stroke="#6dc9f2" stroke-width="1.3" fill="none" />
<circle cx="111.10" cy="758.20" r="2.2" fill="#6dc9f2" />
<circle cx="137.95" cy="758.17" r="2.2" fill="#6dc9f2" />
<circle cx="153.30" cy="758.13" r="2.2" fill="#6dc9f2" />
<circle cx="164.80" cy="758.05" r="2.2" fill="#6dc9f2" />
<circle cx="180.15" cy="757.83" r="2.2" fill="#6dc9f2" />
<circle cx="207.00" cy="756.47" r="2.2" fill="#6dc9f2" />
<circle cx="214.67" cy="754.30" r="2.2" fill="#6dc9f2" />
<circle cx="233.85" cy="750.33" r="2.2" fill="#6dc9f2" />
<circle cx="268.38" cy="734.45" r="2.2" fill="#6dc9f2" />
<circle cx="276.05" cy="732.79" r="2.2" fill="#6dc9f2" />
<circle cx="287.56" cy="730.24" r="2.2" fill="#6dc9f2" />
<circle cx="295.23" cy="727.04" r="2.2" fill="#6dc9f2" />
<polyline points="111.1,758.2 126.4,758.2 138.0,758.2 153.3,758.1 164.8,758.0 180.1,757.6 191.7,757.0 207.0,755.3 214.7,752.2 233.9,745.9 241.5,742.5 260.7,737.9 268.4,733.8 276.0,732.2 287.6,730.6 295.2,731.4 314.4,728.8 322.1,729.9 341.3,726.5 348.9,726.1 368.1,726.6" stroke="#6dc9f2" stroke-width="1.3" fill="none" />
<circle cx="111.10" cy="758.20" r="2.2" fill="#6dc9f2" />
<circle cx="126.44" cy="758.19" r="2.2" fill="#6dc9f2" />
<circle cx="137.95" cy="758.17" r="2.2" fill="#6dc9f2" />
<circle cx="153.30" cy="758.10" r="2.2" fill="#6dc9f2" />
<circle cx="164.80" cy="757.98" r="2.2" fill="#6dc9f2" />
<circle cx="180.15" cy="757.61" r="2.2" fill="#6dc9f2" />
<circle cx="191.66" cy="757.00" r="2.2" fill="#6dc9f2" />
<circle cx="207.00" cy="755.27" r="2.2" fill="#6dc9f2" />
<circle cx="214.67" cy="752.16" r="2.2" fill="#6dc9f2" />
<circle cx="233.85" cy="745.88" r="2.2" fill="#6dc9f2" />
<circle cx="241.52" cy="742.53" r="2.2" fill="#6dc9f2" />
<circle cx="260.70" cy="737.94" r="2.2" fill="#6dc9f2" />
<circle cx="268.38" cy="733.80" r="2.2" fill="#6dc9f2" />
<circle cx="276.05" cy="732.16" r="2.2" fill="#6dc9f2" />
<circle cx="287.56" cy="730.64" r="2.2" fill="#6dc9f2" />
<circle cx="295.23" cy="731.38" r="2.2" fill="#6dc9f2" />
<circle cx="314.41" cy="728.85" r="2.2" fill="#6dc9f2" />
<circle cx="322.08" cy="729.91" r="2.2" fill="#6dc9f2" />
<circle cx="341.26" cy="726.47" r="2.2" fill="#6dc9f2" />
<circle cx="348.93" cy="726.13" r="2.2" fill="#6dc9f2" />
<circle cx="368.11" cy="726.57" r="2.2" fill="#6dc9f2" />
<polyline points="111.1,758.2 126.4,758.2 138.0,758.2 164.8,758.1 191.7,757.5 207.0,756.4 214.7,754.8 222.3,753.9 249.2,745.0 260.7,739.7 268.4,737.4 276.0,738.2 287.6,734.2 295.2,732.8 314.4,732.6 348.9,730.1 368.1,730.2 375.8,728.5 395.0,727.4" stroke="#6dc9f2" stroke-width="1.3" fill="none" />
<circle cx="111.10" cy="758.20" r="2.2" fill="#6dc9f2" />
<circle cx="126.44" cy="758.19" r="2.2" fill="#6dc9f2" />
<circle cx="137.95" cy="758.18" r="2.2" fill="#6dc9f2" />
<circle cx="164.80" cy="758.06" r="2.2" fill="#6dc9f2" />
<circle cx="191.66" cy="757.46" r="2.2" fill="#6dc9f2" />
<circle cx="207.00" cy="756.41" r="2.2" fill="#6dc9f2" />
<circle cx="214.67" cy="754.80" r="2.2" fill="#6dc9f2" />
<circle cx="222.34" cy="753.91" r="2.2" fill="#6dc9f2" />
<circle cx="249.20" cy="744.98" r="2.2" fill="#6dc9f2" />
<circle cx="260.70" cy="739.65" r="2.2" fill="#6dc9f2" />
<circle cx="268.38" cy="737.44" r="2.2" fill="#6dc9f2" />
<circle cx="276.05" cy="738.23" r="2.2" fill="#6dc9f2" />
<circle cx="287.56" cy="734.15" r="2.2" fill="#6dc9f2" />
<circle cx="295.23" cy="732.81" r="2.2" fill="#6dc9f2" />
<circle cx="314.41" cy="732.63" r="2.2" fill="#6dc9f2" />
<circle cx="348.93" cy="730.09" r="2.2" fill="#6dc9f2" />
<circle cx="368.11" cy="730.17" r="2.2" fill="#6dc9f2" />
<circle cx="375.78" cy="728.52" r="2.2" fill="#6dc9f2" />
<circle cx="394.96" cy="727.44" r="2.2" fill="#6dc9f2" />
<polyline points="111.1,758.2 126.4,758.2 138.0,758.2 153.3,758.2 164.8,758.1 180.1,757.9 191.7,757.6 207.0,756.3 214.7,755.7 222.3,752.0 233.9,749.7 241.5,747.2 249.2,744.4 260.7,744.2 276.0,740.5 287.6,741.9 295.2,740.1 314.4,740.1 322.1,739.9 348.9,737.5 368.1,736.9 395.0,735.9" stroke="#6dc9f2" stroke-width="1.3" fill="none" />
<circle cx="111.10" cy="758.20" r="2.2" fill="#6dc9f2" />
<circle cx="126.44" cy="758.20" r="2.2" fill="#6dc9f2" />
<circle cx="137.95" cy="758.19" r="2.2" fill="#6dc9f2" />
<circle cx="153.30" cy="758.17" r="2.2" fill="#6dc9f2" />
<circle cx="164.80" cy="758.12" r="2.2" fill="#6dc9f2" />
<circle cx="180.15" cy="757.95" r="2.2" fill="#6dc9f2" />
<circle cx="191.66" cy="757.59" r="2.2" fill="#6dc9f2" />
<circle cx="207.00" cy="756.32" r="2.2" fill="#6dc9f2" />
<circle cx="214.67" cy="755.70" r="2.2" fill="#6dc9f2" />
<circle cx="222.34" cy="752.03" r="2.2" fill="#6dc9f2" />
<circle cx="233.85" cy="749.65" r="2.2" fill="#6dc9f2" />
<circle cx="241.52" cy="747.22" r="2.2" fill="#6dc9f2" />
<circle cx="249.20" cy="744.39" r="2.2" fill="#6dc9f2" />
<circle cx="260.70" cy="744.22" r="2.2" fill="#6dc9f2" />
<circle cx="276.05" cy="740.51" r="2.2" fill="#6dc9f2" />
<circle cx="287.56" cy="741.89" r="2.2" fill="#6dc9f2" />
<circle cx="295.23" cy="740.11" r="2.2" fill="#6dc9f2" />
<circle cx="314.41" cy="740.07" r="2.2" fill="#6dc9f2" />
<circle cx="322.08" cy="739.90" r="2.2" fill="#6dc9f2" />
<circle cx="348.93" cy="737.49" r="2.2" fill="#6dc9f2" />
<circle cx="368.11" cy="736.94" r="2.2" fill="#6dc9f2" />
<circle cx="394.96" cy="735.92" r="2.2" fill="#6dc9f2" />
<polyline points="111.1,758.2 138.0,758.2 153.3,758.2 164.8,758.2 180.1,758.1 191.7,758.0 207.0,757.4 222.3,754.6 233.9,749.4 241.5,747.6 249.2,742.0 260.7,732.7 268.4,727.8 287.6,721.5 295.2,723.1 341.3,716.7 348.9,715.0 375.8,713.4 395.0,711.0" stroke="#6dc9f2" stroke-width="1.3" fill="none" />
<circle cx="111.10" cy="758.20" r="2.2" fill="#6dc9f2" />
<circle cx="137.95" cy="758.20" r="2.2" fill="#6dc9f2" />
<circle cx="153.30" cy="758.19" r="2.2" fill="#6dc9f2" />
<circle cx="164.80" cy="758.18" r="2.2" fill="#6dc9f2" />
<circle cx="180.15" cy="758.11" r="2.2" fill="#6dc9f2" />
<circle cx="191.66" cy="757.98" r="2.2" fill="#6dc9f2" />
<circle cx="207.00" cy="757.44" r="2.2" fill="#6dc9f2" />
<circle cx="222.34" cy="754.60" r="2.2" fill="#6dc9f2" />
<circle cx="233.85" cy="749.40" r="2.2" fill="#6dc9f2" />
<circle cx="241.52" cy="747.63" r="2.2" fill="#6dc9f2" />
<circle cx="249.20" cy="742.02" r="2.2" fill="#6dc9f2" />
<circle cx="260.70" cy="732.73" r="2.2" fill="#6dc9f2" />
<circle cx="268.38" cy="727.80" r="2.2" fill="#6dc9f2" />
<circle cx="287.56" cy="721.49" r="2.2" fill="#6dc9f2" />
<circle cx="295.23" cy="723.11" r="2.2" fill="#6dc9f2" />
<circle cx="341.26" cy="716.66" r="2.2" fill="#6dc9f2" />
<circle cx="348.93" cy="715.04" r="2.2" fill="#6dc9f2" />
<circle cx="375.78" cy="713.40" r="2.2" fill="#6dc9f2" />
<circle cx="394.96" cy="710.95" r="2.2" fill="#6dc9f2" />
<polyline points="111.1,758.2 138.0,758.2 153.3,758.1 164.8,758.0 207.0,754.9 214.7,751.4 222.3,749.2 233.9,743.6 260.7,730.9 268.4,727.6 276.0,727.7 287.6,722.8 295.2,722.2 314.4,720.5 322.1,719.3 341.3,718.3 368.1,716.7 375.8,715.3" stroke="#6dc9f2" stroke-width="1.3" fill="none" />
<circle cx="111.10" cy="758.20" r="2.2" fill="#6dc9f2" />
<circle cx="137.95" cy="758.18" r="2.2" fill="#6dc9f2" />
<circle cx="153.30" cy="758.12" r="2.2" fill="#6dc9f2" />
<circle cx="164.80" cy="758.01" r="2.2" fill="#6dc9f2" />
<circle cx="207.00" cy="754.86" r="2.2" fill="#6dc9f2" />
<circle cx="214.67" cy="751.39" r="2.2" fill="#6dc9f2" />
<circle cx="222.34" cy="749.16" r="2.2" fill="#6dc9f2" />
<circle cx="233.85" cy="743.64" r="2.2" fill="#6dc9f2" />
<circle cx="260.70" cy="730.92" r="2.2" fill="#6dc9f2" />
<circle cx="268.38" cy="727.56" r="2.2" fill="#6dc9f2" />
<circle cx="276.05" cy="727.68" r="2.2" fill="#6dc9f2" />
<circle cx="287.56" cy="722.82" r="2.2" fill="#6dc9f2" />
<circle cx="295.23" cy="722.18" r="2.2" fill="#6dc9f2" />
<circle cx="314.41" cy="720.53" r="2.2" fill="#6dc9f2" />
<circle cx="322.08" cy="719.25" r="2.2" fill="#6dc9f2" />
<circle cx="341.26" cy="718.30" r="2.2" fill="#6dc9f2" />
<circle cx="368.11" cy="716.67" r="2.2" fill="#6dc9f2" />
<circle cx="375.78" cy="715.30" r="2.2" fill="#6dc9f2" />
<polyline points="111.1,758.2 126.4,758.2 138.0,758.2 153.3,758.1 164.8,758.0 180.1,757.8 191.7,757.3 207.0,756.0 214.7,754.0 222.3,752.0 233.9,748.4 241.5,743.3 249.2,741.6 260.7,737.7 276.0,734.2 287.6,731.8 314.4,732.7 322.1,730.1 341.3,728.3 368.1,728.2 375.8,727.2" stroke="#6dc9f2" stroke-width="1.3" fill="none" />
<circle cx="111.10" cy="758.20" r="2.2" fill="#6dc9f2" />
<circle cx="126.44" cy="758.19" r="2.2" fill="#6dc9f2" />
<circle cx="137.95" cy="758.18" r="2.2" fill="#6dc9f2" />
<circle cx="153.30" cy="758.13" r="2.2" fill="#6dc9f2" />
<circle cx="164.80" cy="758.05" r="2.2" fill="#6dc9f2" />
<circle cx="180.15" cy="757.78" r="2.2" fill="#6dc9f2" />
<circle cx="191.66" cy="757.33" r="2.2" fill="#6dc9f2" />
<circle cx="207.00" cy="755.99" r="2.2" fill="#6dc9f2" />
<circle cx="214.67" cy="754.05" r="2.2" fill="#6dc9f2" />
<circle cx="222.34" cy="752.00" r="2.2" fill="#6dc9f2" />
<circle cx="233.85" cy="748.42" r="2.2" fill="#6dc9f2" />
<circle cx="241.52" cy="743.27" r="2.2" fill="#6dc9f2" />
<circle cx="249.20" cy="741.59" r="2.2" fill="#6dc9f2" />
<circle cx="260.70" cy="737.70" r="2.2" fill="#6dc9f2" />
<circle cx="276.05" cy="734.17" r="2.2" fill="#6dc9f2" />
<circle cx="287.56" cy="731.81" r="2.2" fill="#6dc9f2" />
<circle cx="314.41" cy="732.71" r="2.2" fill="#6dc9f2" />
<circle cx="322.08" cy="730.08" r="2.2" fill="#6dc9f2" />
<circle cx="341.26" cy="728.32" r="2.2" fill="#6dc9f2" />
<circle cx="368.11" cy="728.21" r="2.2" fill="#6dc9f2" />
<circle cx="375.78" cy="727.20" r="2.2" fill="#6dc9f2" />
<polyline points="111.1,758.2 138.0,758.2 153.3,758.1 164.8,758.1 180.1,757.9 191.7,757.5 207.0,756.4 214.7,755.2 222.3,753.3 233.9,747.6 249.2,740.8 260.7,736.9 276.0,730.8 295.2,729.0 322.1,727.3 341.3,724.9 368.1,723.4 375.8,722.5" stroke="#6dc9f2" stroke-width="1.3" fill="none" />
<circle cx="111.10" cy="758.20" r="2.2" fill="#6dc9f2" />
<circle cx="137.95" cy="758.18" r="2.2" fill="#6dc9f2" />
<circle cx="153.30" cy="758.15" r="2.2" fill="#6dc9f2" />
<circle cx="164.80" cy="758.09" r="2.2" fill="#6dc9f2" />
<circle cx="180.15" cy="757.88" r="2.2" fill="#6dc9f2" />
<circle cx="191.66" cy="757.51" r="2.2" fill="#6dc9f2" />
<circle cx="207.00" cy="756.37" r="2.2" fill="#6dc9f2" />
<circle cx="214.67" cy="755.17" r="2.2" fill="#6dc9f2" />
<circle cx="222.34" cy="753.27" r="2.2" fill="#6dc9f2" />
<circle cx="233.85" cy="747.61" r="2.2" fill="#6dc9f2" />
<circle cx="249.20" cy="740.81" r="2.2" fill="#6dc9f2" />
<circle cx="260.70" cy="736.87" r="2.2" fill="#6dc9f2" />
<circle cx="276.05" cy="730.77" r="2.2" fill="#6dc9f2" />
<circle cx="295.23" cy="728.98" r="2.2" fill="#6dc9f2" />
<circle cx="322.08" cy="727.25" r="2.2" fill="#6dc9f2" />
<circle cx="341.26" cy="724.86" r="2.2" fill="#6dc9f2" />
<circle cx="368.11" cy="723.45" r="2.2" fill="#6dc9f2" />
<circle cx="375.78" cy="722.45" r="2.2" fill="#6dc9f2" />
<polyline points="111.1,758.2 126.4,758.2 153.3,758.2 164.8,758.1 191.7,757.7 207.0,756.9 214.7,756.8 222.3,753.2 241.5,746.5 249.2,743.4 260.7,737.9 268.4,732.7 276.0,731.2" stroke="#6dc9f2" stroke-width="1.3" fill="none" />
<circle cx="111.10" cy="758.20" r="2.2" fill="#6dc9f2" />
<circle cx="126.44" cy="758.20" r="2.2" fill="#6dc9f2" />
<circle cx="153.30" cy="758.17" r="2.2" fill="#6dc9f2" />
<circle cx="164.80" cy="758.12" r="2.2" fill="#6dc9f2" />
<circle cx="191.66" cy="757.73" r="2.2" fill="#6dc9f2" />
<circle cx="207.00" cy="756.93" r="2.2" fill="#6dc9f2" />
<circle cx="214.67" cy="756.83" r="2.2" fill="#6dc9f2" />
<circle cx="222.34" cy="753.18" r="2.2" fill="#6dc9f2" />
<circle cx="241.52" cy="746.46" r="2.2" fill="#6dc9f2" />
<circle cx="249.20" cy="743.42" r="2.2" fill="#6dc9f2" />
<circle cx="260.70" cy="737.93" r="2.2" fill="#6dc9f2" />
<circle cx="268.38" cy="732.72" r="2.2" fill="#6dc9f2" />
<circle cx="276.05" cy="731.23" r="2.2" fill="#6dc9f2" />
<polyline points="111.1,758.2 126.4,758.2 138.0,758.2 153.3,758.2 164.8,758.1 180.1,758.0 191.7,757.8 207.0,757.2 214.7,755.8 241.5,748.7 249.2,745.6 260.7,743.5 268.4,741.1 276.0,736.8" stroke="#6dc9f2" stroke-width="1.3" fill="none" />
<circle cx="111.10" cy="758.20" r="2.2" fill="#6dc9f2" />
<circle cx="126.44" cy="758.20" r="2.2" fill="#6dc9f2" />
<circle cx="137.95" cy="758.19" r="2.2" fill="#6dc9f2" />
<circle cx="153.30" cy="758.17" r="2.2" fill="#6dc9f2" />
<circle cx="164.80" cy="758.14" r="2.2" fill="#6dc9f2" />
<circle cx="180.15" cy="758.03" r="2.2" fill="#6dc9f2" />
<circle cx="191.66" cy="757.82" r="2.2" fill="#6dc9f2" />
<circle cx="207.00" cy="757.17" r="2.2" fill="#6dc9f2" />
<circle cx="214.67" cy="755.76" r="2.2" fill="#6dc9f2" />
<circle cx="241.52" cy="748.74" r="2.2" fill="#6dc9f2" />
<circle cx="249.20" cy="745.56" r="2.2" fill="#6dc9f2" />
<circle cx="260.70" cy="743.54" r="2.2" fill="#6dc9f2" />
<circle cx="268.38" cy="741.12" r="2.2" fill="#6dc9f2" />
<circle cx="276.05" cy="736.81" r="2.2" fill="#6dc9f2" />
<polyline points="111.1,758.2 138.0,758.2 153.3,758.2 164.8,758.1 191.7,757.4 207.0,755.7 222.3,749.3 233.9,744.2 241.5,740.0 249.2,738.8 260.7,734.9 276.0,733.1 287.6,730.0 295.2,730.9" stroke="#6dc9f2" stroke-width="1.3" fill="none" />
<circle cx="111.10" cy="758.20" r="2.2" fill="#6dc9f2" />
<circle cx="137.95" cy="758.19" r="2.2" fill="#6dc9f2" />
<circle cx="153.30" cy="758.17" r="2.2" fill="#6dc9f2" />
<circle cx="164.80" cy="758.11" r="2.2" fill="#6dc9f2" />
<circle cx="191.66" cy="757.44" r="2.2" fill="#6dc9f2" />
<circle cx="207.00" cy="755.73" r="2.2" fill="#6dc9f2" />
<circle cx="222.34" cy="749.28" r="2.2" fill="#6dc9f2" />
<circle cx="233.85" cy="744.22" r="2.2" fill="#6dc9f2" />
<circle cx="241.52" cy="739.97" r="2.2" fill="#6dc9f2" />
<circle cx="249.20" cy="738.81" r="2.2" fill="#6dc9f2" />
<circle cx="260.70" cy="734.88" r="2.2" fill="#6dc9f2" />
<circle cx="276.05" cy="733.07" r="2.2" fill="#6dc9f2" />
<circle cx="287.56" cy="729.98" r="2.2" fill="#6dc9f2" />
<circle cx="295.23" cy="730.88" r="2.2" fill="#6dc9f2" />
<polyline points="111.1,758.2 126.4,758.2 138.0,758.3 153.3,758.6 180.1,760.9 191.7,763.4 207.0,767.6 222.3,771.1 241.5,773.2 249.2,773.5 268.4,773.9 276.0,773.9 287.6,774.0 295.2,774.0 341.3,774.0 375.8,774.0" stroke="#4a66d9" stroke-width="1.3" fill="none" />
<circle cx="111.10" cy="758.20" r="2.2" fill="#4a66d9" />
<circle cx="126.44" cy="758.25" r="2.2" fill="#4a66d9" />
<circle cx="137.95" cy="758.34" r="2.2" fill="#4a66d9" />
<circle cx="153.30" cy="758.65" r="2.2" fill="#4a66d9" />
<circle cx="180.15" cy="760.95" r="2.2" fill="#4a66d9" />
<circle cx="191.66" cy="763.35" r="2.2" fill="#4a66d9" />
<circle cx="207.00" cy="767.59" r="2.2" fill="#4a66d9" />
<circle cx="222.34" cy="771.10" r="2.2" fill="#4a66d9" />
<circle cx="241.52" cy="773.17" r="2.2" fill="#4a66d9" />
<circle cx="249.20" cy="773.52" r="2.2" fill="#4a66d9" />
<circle cx="268.38" cy="773.89" r="2.2" fill="#4a66d9" />
<circle cx="276.05" cy="773.95" r="2.2" fill="#4a66d9" />
<circle cx="287.56" cy="773.99" r="2.2" fill="#4a66d9" />
<circle cx="295.23" cy="774.00" r="2.2" fill="#4a66d9" />
<circle cx="341.26" cy="774.02" r="2.2" fill="#4a66d9" />
<circle cx="375.78" cy="774.02" r="2.2" fill="#4a66d9" />
<polyline points="111.1,758.2 126.4,758.3 153.3,758.7 180.1,760.8 191.7,763.0 207.0,768.3 214.7,771.8 222.3,775.4 233.9,780.4 260.7,786.9 268.4,787.6 276.0,788.1 287.6,788.5 314.4,788.8 322.1,788.9 341.3,788.9 368.1,788.9 375.8,788.9 395.0,788.9" stroke="#4a66d9" stroke-width="1.3" fill="none" />
<circle cx="111.10" cy="758.20" r="2.2" fill="#4a66d9" />
<circle cx="126.44" cy="758.26" r="2.2" fill="#4a66d9" />
<circle cx="153.30" cy="758.68" r="2.2" fill="#4a66d9" />
<circle cx="180.15" cy="760.76" r="2.2" fill="#4a66d9" />
<circle cx="191.66" cy="763.05" r="2.2" fill="#4a66d9" />
<circle cx="207.00" cy="768.30" r="2.2" fill="#4a66d9" />
<circle cx="214.67" cy="771.77" r="2.2" fill="#4a66d9" />
<circle cx="222.34" cy="775.43" r="2.2" fill="#4a66d9" />
<circle cx="233.85" cy="780.43" r="2.2" fill="#4a66d9" />
<circle cx="260.70" cy="786.87" r="2.2" fill="#4a66d9" />
<circle cx="268.38" cy="787.61" r="2.2" fill="#4a66d9" />
<circle cx="276.05" cy="788.10" r="2.2" fill="#4a66d9" />
<circle cx="287.56" cy="788.51" r="2.2" fill="#4a66d9" />
<circle cx="314.41" cy="788.84" r="2.2" fill="#4a66d9" />
<circle cx="322.08" cy="788.87" r="2.2" fill="#4a66d9" />
<circle cx="341.26" cy="788.90" r="2.2" fill="#4a66d9" />
<circle cx="368.11" cy="788.92" r="2.2" fill="#4a66d9" />
<circle cx="375.78" cy="788.92" r="2.2" fill="#4a66d9" />
<circle cx="394.96" cy="788.92" r="2.2" fill="#4a66d9" />
<polyline points="111.1,758.2 126.4,758.5 138.0,759.0 164.8,762.2 180.1,766.7 191.7,771.4 207.0,778.1 214.7,781.0 233.9,785.7 241.5,786.7 249.2,787.4 260.7,788.1 287.6,788.6 314.4,788.7 322.1,788.7 341.3,788.7 348.9,788.7 368.1,788.7 375.8,788.7 395.0,788.7" stroke="#4a66d9" stroke-width="1.3" fill="none" />
<circle cx="111.10" cy="758.20" r="2.2" fill="#4a66d9" />
<circle cx="126.44" cy="758.50" r="2.2" fill="#4a66d9" />
<circle cx="137.95" cy="758.97" r="2.2" fill="#4a66d9" />
<circle cx="164.80" cy="762.22" r="2.2" fill="#4a66d9" />
<circle cx="180.15" cy="766.65" r="2.2" fill="#4a66d9" />
<circle cx="191.66" cy="771.38" r="2.2" fill="#4a66d9" />
<circle cx="207.00" cy="778.13" r="2.2" fill="#4a66d9" />
<circle cx="214.67" cy="781.01" r="2.2" fill="#4a66d9" />
<circle cx="233.85" cy="785.72" r="2.2" fill="#4a66d9" />
<circle cx="241.52" cy="786.75" r="2.2" fill="#4a66d9" />
<circle cx="249.20" cy="787.44" r="2.2" fill="#4a66d9" />
<circle cx="260.70" cy="788.07" r="2.2" fill="#4a66d9" />
<circle cx="287.56" cy="788.60" r="2.2" fill="#4a66d9" />
<circle cx="314.41" cy="788.72" r="2.2" fill="#4a66d9" />
<circle cx="322.08" cy="788.73" r="2.2" fill="#4a66d9" />
<circle cx="341.26" cy="788.74" r="2.2" fill="#4a66d9" />
<circle cx="348.93" cy="788.74" r="2.2" fill="#4a66d9" />
<circle cx="368.11" cy="788.75" r="2.2" fill="#4a66d9" />
<circle cx="375.78" cy="788.75" r="2.2" fill="#4a66d9" />
<circle cx="394.96" cy="788.75" r="2.2" fill="#4a66d9" />
<polyline points="111.1,758.2 126.4,758.2 138.0,758.2 153.3,758.3 164.8,758.5 191.7,761.1 207.0,767.0 222.3,776.9 233.9,783.1 241.5,785.6 249.2,787.2 260.7,788.3 287.6,788.9 295.2,788.9 341.3,789.0 348.9,789.0 375.8,789.0" stroke="#4a66d9" stroke-width="1.3" fill="none" />
<circle cx="111.10" cy="758.20" r="2.2" fill="#4a66d9" />
<circle cx="126.44" cy="758.21" r="2.2" fill="#4a66d9" />
<circle cx="137.95" cy="758.23" r="2.2" fill="#4a66d9" />
<circle cx="153.30" cy="758.31" r="2.2" fill="#4a66d9" />
<circle cx="164.80" cy="758.50" r="2.2" fill="#4a66d9" />
<circle cx="191.66" cy="761.13" r="2.2" fill="#4a66d9" />
<circle cx="207.00" cy="767.04" r="2.2" fill="#4a66d9" />
<circle cx="222.34" cy="776.88" r="2.2" fill="#4a66d9" />
<circle cx="233.85" cy="783.08" r="2.2" fill="#4a66d9" />
<circle cx="241.52" cy="785.64" r="2.2" fill="#4a66d9" />
<circle cx="249.20" cy="787.17" r="2.2" fill="#4a66d9" />
<circle cx="260.70" cy="788.28" r="2.2" fill="#4a66d9" />
<circle cx="287.56" cy="788.89" r="2.2" fill="#4a66d9" />
<circle cx="295.23" cy="788.92" r="2.2" fill="#4a66d9" />
<circle cx="341.26" cy="788.95" r="2.2" fill="#4a66d9" />
<circle cx="348.93" cy="788.95" r="2.2" fill="#4a66d9" />
<circle cx="375.78" cy="788.95" r="2.2" fill="#4a66d9" />
<polyline points="111.1,758.2 126.4,758.2 138.0,758.3 164.8,759.4 180.1,761.8 191.7,765.6 207.0,773.7 214.7,778.1 222.3,781.9 233.9,785.9 241.5,787.4 249.2,788.3 260.7,789.1 268.4,789.3 276.0,789.5 287.6,789.6 295.2,789.6 314.4,789.6 322.1,789.6 341.3,789.6 348.9,789.6 368.1,789.6 395.0,789.6" stroke="#4a66d9" stroke-width="1.3" fill="none" />
<circle cx="111.10" cy="758.20" r="2.2" fill="#4a66d9" />
<circle cx="126.44" cy="758.25" r="2.2" fill="#4a66d9" />
<circle cx="137.95" cy="758.35" r="2.2" fill="#4a66d9" />
<circle cx="164.80" cy="759.41" r="2.2" fill="#4a66d9" />
<circle cx="180.15" cy="761.78" r="2.2" fill="#4a66d9" />
<circle cx="191.66" cy="765.57" r="2.2" fill="#4a66d9" />
<circle cx="207.00" cy="773.70" r="2.2" fill="#4a66d9" />
<circle cx="214.67" cy="778.13" r="2.2" fill="#4a66d9" />
<circle cx="222.34" cy="781.95" r="2.2" fill="#4a66d9" />
<circle cx="233.85" cy="785.87" r="2.2" fill="#4a66d9" />
<circle cx="241.52" cy="787.40" r="2.2" fill="#4a66d9" />
<circle cx="249.20" cy="788.34" r="2.2" fill="#4a66d9" />
<circle cx="260.70" cy="789.08" r="2.2" fill="#4a66d9" />
<circle cx="268.38" cy="789.32" r="2.2" fill="#4a66d9" />
<circle cx="276.05" cy="789.45" r="2.2" fill="#4a66d9" />
<circle cx="287.56" cy="789.56" r="2.2" fill="#4a66d9" />
<circle cx="295.23" cy="789.59" r="2.2" fill="#4a66d9" />
<circle cx="314.41" cy="789.62" r="2.2" fill="#4a66d9" />
<circle cx="322.08" cy="789.63" r="2.2" fill="#4a66d9" />
<circle cx="341.26" cy="789.63" r="2.2" fill="#4a66d9" />
<circle cx="348.93" cy="789.63" r="2.2" fill="#4a66d9" />
<circle cx="368.11" cy="789.63" r="2.2" fill="#4a66d9" />
<circle cx="394.96" cy="789.63" r="2.2" fill="#4a66d9" />
<polyline points="111.1,758.2 126.4,758.2 164.8,760.5 180.1,767.9 191.7,781.2 207.0,802.3 214.7,808.9 222.3,812.5 241.5,815.5 249.2,815.7 260.7,815.9 268.4,815.9 276.0,816.0 287.6,816.0 295.2,816.0 322.1,816.0 341.3,816.0 348.9,816.0" stroke="#4a66d9" stroke-width="1.3" fill="none" />
<circle cx="111.10" cy="758.20" r="2.2" fill="#4a66d9" />
<circle cx="126.44" cy="758.24" r="2.2" fill="#4a66d9" />
<circle cx="164.80" cy="760.48" r="2.2" fill="#4a66d9" />
<circle cx="180.15" cy="767.86" r="2.2" fill="#4a66d9" />
<circle cx="191.66" cy="781.17" r="2.2" fill="#4a66d9" />
<circle cx="207.00" cy="802.30" r="2.2" fill="#4a66d9" />
<circle cx="214.67" cy="808.86" r="2.2" fill="#4a66d9" />
<circle cx="222.34" cy="812.52" r="2.2" fill="#4a66d9" />
<circle cx="241.52" cy="815.47" r="2.2" fill="#4a66d9" />
<circle cx="249.20" cy="815.75" r="2.2" fill="#4a66d9" />
<circle cx="260.70" cy="815.91" r="2.2" fill="#4a66d9" />
<circle cx="268.38" cy="815.94" r="2.2" fill="#4a66d9" />
<circle cx="276.05" cy="815.96" r="2.2" fill="#4a66d9" />
<circle cx="287.56" cy="815.97" r="2.2" fill="#4a66d9" />
<circle cx="295.23" cy="815.97" r="2.2" fill="#4a66d9" />
<circle cx="322.08" cy="815.97" r="2.2" fill="#4a66d9" />
<circle cx="341.26" cy="815.97" r="2.2" fill="#4a66d9" />
<circle cx="348.93" cy="815.97" r="2.2" fill="#4a66d9" />
<polyline points="111.1,758.2 138.0,758.5 153.3,759.6 164.8,762.5 180.1,774.5 207.0,810.1 214.7,814.8 233.9,818.8 268.4,819.4 276.0,819.4 287.6,819.5 295.2,819.5" stroke="#4a66d9" stroke-width="1.3" fill="none" />
<circle cx="111.10" cy="758.20" r="2.2" fill="#4a66d9" />
<circle cx="137.95" cy="758.48" r="2.2" fill="#4a66d9" />
<circle cx="153.30" cy="759.60" r="2.2" fill="#4a66d9" />
<circle cx="164.80" cy="762.52" r="2.2" fill="#4a66d9" />
<circle cx="180.15" cy="774.50" r="2.2" fill="#4a66d9" />
<circle cx="207.00" cy="810.13" r="2.2" fill="#4a66d9" />
<circle cx="214.67" cy="814.80" r="2.2" fill="#4a66d9" />
<circle cx="233.85" cy="818.75" r="2.2" fill="#4a66d9" />
<circle cx="268.38" cy="819.44" r="2.2" fill="#4a66d9" />
<circle cx="276.05" cy="819.45" r="2.2" fill="#4a66d9" />
<circle cx="287.56" cy="819.46" r="2.2" fill="#4a66d9" />
<circle cx="295.23" cy="819.46" r="2.2" fill="#4a66d9" />
<polyline points="111.1,758.2 126.4,758.2 138.0,758.3 153.3,758.6 164.8,759.3 180.1,762.3 191.7,768.8 207.0,787.0 214.7,798.4 233.9,817.4 241.5,820.6 260.7,823.4 268.4,823.7 276.0,823.9 287.6,824.0 295.2,824.0 314.4,824.0 322.1,824.0 341.3,824.0 348.9,824.0 368.1,824.0" stroke="#4a66d9" stroke-width="1.3" fill="none" />
<circle cx="111.10" cy="758.20" r="2.2" fill="#4a66d9" />
<circle cx="126.44" cy="758.22" r="2.2" fill="#4a66d9" />
<circle cx="137.95" cy="758.29" r="2.2" fill="#4a66d9" />
<circle cx="153.30" cy="758.57" r="2.2" fill="#4a66d9" />
<circle cx="164.80" cy="759.27" r="2.2" fill="#4a66d9" />
<circle cx="180.15" cy="762.34" r="2.2" fill="#4a66d9" />
<circle cx="191.66" cy="768.80" r="2.2" fill="#4a66d9" />
<circle cx="207.00" cy="787.02" r="2.2" fill="#4a66d9" />
<circle cx="214.67" cy="798.39" r="2.2" fill="#4a66d9" />
<circle cx="233.85" cy="817.45" r="2.2" fill="#4a66d9" />
<circle cx="241.52" cy="820.58" r="2.2" fill="#4a66d9" />
<circle cx="260.70" cy="823.39" r="2.2" fill="#4a66d9" />
<circle cx="268.38" cy="823.70" r="2.2" fill="#4a66d9" />
<circle cx="276.05" cy="823.86" r="2.2" fill="#4a66d9" />
<circle cx="287.56" cy="823.96" r="2.2" fill="#4a66d9" />
<circle cx="295.23" cy="823.99" r="2.2" fill="#4a66d9" />
<circle cx="314.41" cy="824.01" r="2.2" fill="#4a66d9" />
<circle cx="322.08" cy="824.01" r="2.2" fill="#4a66d9" />
<circle cx="341.26" cy="824.01" r="2.2" fill="#4a66d9" />
<circle cx="348.93" cy="824.01" r="2.2" fill="#4a66d9" />
<circle cx="368.11" cy="824.01" r="2.2" fill="#4a66d9" />
<polyline points="111.1,758.2 126.4,758.6 138.0,759.3 164.8,767.1 191.7,796.7 207.0,815.8 214.7,822.0 222.3,826.0 249.2,831.0 260.7,831.5 268.4,831.6 276.0,831.7 287.6,831.7 295.2,831.8 314.4,831.8 348.9,831.8 368.1,831.8 375.8,831.8 395.0,831.8" stroke="#4a66d9" stroke-width="1.3" fill="none" />
<circle cx="111.10" cy="758.20" r="2.2" fill="#4a66d9" />
<circle cx="126.44" cy="758.57" r="2.2" fill="#4a66d9" />
<circle cx="137.95" cy="759.31" r="2.2" fill="#4a66d9" />
<circle cx="164.80" cy="767.06" r="2.2" fill="#4a66d9" />
<circle cx="191.66" cy="796.75" r="2.2" fill="#4a66d9" />
<circle cx="207.00" cy="815.77" r="2.2" fill="#4a66d9" />
<circle cx="214.67" cy="821.97" r="2.2" fill="#4a66d9" />
<circle cx="222.34" cy="826.01" r="2.2" fill="#4a66d9" />
<circle cx="249.20" cy="831.00" r="2.2" fill="#4a66d9" />
<circle cx="260.70" cy="831.46" r="2.2" fill="#4a66d9" />
<circle cx="268.38" cy="831.60" r="2.2" fill="#4a66d9" />
<circle cx="276.05" cy="831.68" r="2.2" fill="#4a66d9" />
<circle cx="287.56" cy="831.74" r="2.2" fill="#4a66d9" />
<circle cx="295.23" cy="831.76" r="2.2" fill="#4a66d9" />
<circle cx="314.41" cy="831.78" r="2.2" fill="#4a66d9" />
<circle cx="348.93" cy="831.78" r="2.2" fill="#4a66d9" />
<circle cx="368.11" cy="831.78" r="2.2" fill="#4a66d9" />
<circle cx="375.78" cy="831.78" r="2.2" fill="#4a66d9" />
<circle cx="394.96" cy="831.78" r="2.2" fill="#4a66d9" />
<polyline points="111.1,758.2 126.4,758.2 138.0,758.3 153.3,758.5 164.8,759.3 180.1,763.3 191.7,772.7 207.0,799.3 214.7,814.0 222.3,824.9 233.9,833.4 241.5,835.8 249.2,837.0 260.7,837.7 276.0,837.9 287.6,838.0 295.2,838.0 314.4,838.0 322.1,838.0 348.9,838.0 368.1,838.0 395.0,838.0" stroke="#4a66d9" stroke-width="1.3" fill="none" />
<circle cx="111.10" cy="758.20" r="2.2" fill="#4a66d9" />
<circle cx="126.44" cy="758.22" r="2.2" fill="#4a66d9" />
<circle cx="137.95" cy="758.27" r="2.2" fill="#4a66d9" />
<circle cx="153.30" cy="758.55" r="2.2" fill="#4a66d9" />
<circle cx="164.80" cy="759.33" r="2.2" fill="#4a66d9" />
<circle cx="180.15" cy="763.33" r="2.2" fill="#4a66d9" />
<circle cx="191.66" cy="772.71" r="2.2" fill="#4a66d9" />
<circle cx="207.00" cy="799.33" r="2.2" fill="#4a66d9" />
<circle cx="214.67" cy="814.01" r="2.2" fill="#4a66d9" />
<circle cx="222.34" cy="824.89" r="2.2" fill="#4a66d9" />
<circle cx="233.85" cy="833.43" r="2.2" fill="#4a66d9" />
<circle cx="241.52" cy="835.84" r="2.2" fill="#4a66d9" />
<circle cx="249.20" cy="837.00" r="2.2" fill="#4a66d9" />
<circle cx="260.70" cy="837.69" r="2.2" fill="#4a66d9" />
<circle cx="276.05" cy="837.93" r="2.2" fill="#4a66d9" />
<circle cx="287.56" cy="837.98" r="2.2" fill="#4a66d9" />
<circle cx="295.23" cy="837.99" r="2.2" fill="#4a66d9" />
<circle cx="314.41" cy="838.00" r="2.2" fill="#4a66d9" />
<circle cx="322.08" cy="838.00" r="2.2" fill="#4a66d9" />
<circle cx="348.93" cy="838.00" r="2.2" fill="#4a66d9" />
<circle cx="368.11" cy="838.00" r="2.2" fill="#4a66d9" />
<circle cx="394.96" cy="838.00" r="2.2" fill="#4a66d9" />
<polyline points="111.1,758.2 138.0,758.9 153.3,760.6 164.8,763.6 180.1,773.1 191.7,786.1 207.0,808.4 222.3,825.9 233.9,833.1 241.5,835.8 249.2,837.4 260.7,838.7 268.4,839.1 287.6,839.5 295.2,839.6 341.3,839.6 348.9,839.6 375.8,839.6 395.0,839.6" stroke="#4a66d9" stroke-width="1.3" fill="none" />
<circle cx="111.10" cy="758.20" r="2.2" fill="#4a66d9" />
<circle cx="137.95" cy="758.91" r="2.2" fill="#4a66d9" />
<circle cx="153.30" cy="760.57" r="2.2" fill="#4a66d9" />
<circle cx="164.80" cy="763.64" r="2.2" fill="#4a66d9" />
<circle cx="180.15" cy="773.07" r="2.2" fill="#4a66d9" />
<circle cx="191.66" cy="786.08" r="2.2" fill="#4a66d9" />
<circle cx="207.00" cy="808.38" r="2.2" fill="#4a66d9" />
<circle cx="222.34" cy="825.93" r="2.2" fill="#4a66d9" />
<circle cx="233.85" cy="833.11" r="2.2" fill="#4a66d9" />
<circle cx="241.52" cy="835.78" r="2.2" fill="#4a66d9" />
<circle cx="249.20" cy="837.39" r="2.2" fill="#4a66d9" />
<circle cx="260.70" cy="838.65" r="2.2" fill="#4a66d9" />
<circle cx="268.38" cy="839.07" r="2.2" fill="#4a66d9" />
<circle cx="287.56" cy="839.50" r="2.2" fill="#4a66d9" />
<circle cx="295.23" cy="839.55" r="2.2" fill="#4a66d9" />
<circle cx="341.26" cy="839.63" r="2.2" fill="#4a66d9" />
<circle cx="348.93" cy="839.63" r="2.2" fill="#4a66d9" />
<circle cx="375.78" cy="839.63" r="2.2" fill="#4a66d9" />
<circle cx="394.96" cy="839.63" r="2.2" fill="#4a66d9" />
<polyline points="111.1,758.2 138.0,758.5 153.3,759.7 164.8,762.7 207.0,822.5 214.7,830.7 222.3,835.2 233.9,838.2 260.7,839.6 268.4,839.7 276.0,839.7 287.6,839.7 295.2,839.7 314.4,839.7 322.1,839.7 341.3,839.7 368.1,839.7 375.8,839.7" stroke="#4a66d9" stroke-width="1.3" fill="none" />
<circle cx="111.10" cy="758.20" r="2.2" fill="#4a66d9" />
<circle cx="137.95" cy="758.51" r="2.2" fill="#4a66d9" />
<circle cx="153.30" cy="759.67" r="2.2" fill="#4a66d9" />
<circle cx="164.80" cy="762.66" r="2.2" fill="#4a66d9" />
<circle cx="207.00" cy="822.54" r="2.2" fill="#4a66d9" />
<circle cx="214.67" cy="830.65" r="2.2" fill="#4a66d9" />
<circle cx="222.34" cy="835.20" r="2.2" fill="#4a66d9" />
<circle cx="233.85" cy="838.22" r="2.2" fill="#4a66d9" />
<circle cx="260.70" cy="839.62" r="2.2" fill="#4a66d9" />
<circle cx="268.38" cy="839.68" r="2.2" fill="#4a66d9" />
<circle cx="276.05" cy="839.70" r="2.2" fill="#4a66d9" />
<circle cx="287.56" cy="839.72" r="2.2" fill="#4a66d9" />
<circle cx="295.23" cy="839.72" r="2.2" fill="#4a66d9" />
<circle cx="314.41" cy="839.73" r="2.2" fill="#4a66d9" />
<circle cx="322.08" cy="839.73" r="2.2" fill="#4a66d9" />
<circle cx="341.26" cy="839.73" r="2.2" fill="#4a66d9" />
<circle cx="368.11" cy="839.73" r="2.2" fill="#4a66d9" />
<circle cx="375.78" cy="839.73" r="2.2" fill="#4a66d9" />
<polyline points="111.1,758.2 126.4,758.8 138.0,759.7 153.3,762.4 164.8,766.4 180.1,776.4 191.7,788.2 207.0,807.8 214.7,817.4 222.3,825.7 233.9,835.1 241.5,839.3 249.2,842.3 260.7,845.0 276.0,846.8 287.6,847.4 314.4,847.9 322.1,848.0 341.3,848.0 368.1,848.1 375.8,848.1" stroke="#4a66d9" stroke-width="1.3" fill="none" />
<circle cx="111.10" cy="758.20" r="2.2" fill="#4a66d9" />
<circle cx="126.44" cy="758.79" r="2.2" fill="#4a66d9" />
<circle cx="137.95" cy="759.73" r="2.2" fill="#4a66d9" />
<circle cx="153.30" cy="762.41" r="2.2" fill="#4a66d9" />
<circle cx="164.80" cy="766.42" r="2.2" fill="#4a66d9" />
<circle cx="180.15" cy="776.35" r="2.2" fill="#4a66d9" />
<circle cx="191.66" cy="788.16" r="2.2" fill="#4a66d9" />
<circle cx="207.00" cy="807.79" r="2.2" fill="#4a66d9" />
<circle cx="214.67" cy="817.39" r="2.2" fill="#4a66d9" />
<circle cx="222.34" cy="825.73" r="2.2" fill="#4a66d9" />
<circle cx="233.85" cy="835.09" r="2.2" fill="#4a66d9" />
<circle cx="241.52" cy="839.32" r="2.2" fill="#4a66d9" />
<circle cx="249.20" cy="842.28" r="2.2" fill="#4a66d9" />
<circle cx="260.70" cy="845.02" r="2.2" fill="#4a66d9" />
<circle cx="276.05" cy="846.80" r="2.2" fill="#4a66d9" />
<circle cx="287.56" cy="847.42" r="2.2" fill="#4a66d9" />
<circle cx="314.41" cy="847.94" r="2.2" fill="#4a66d9" />
<circle cx="322.08" cy="847.99" r="2.2" fill="#4a66d9" />
<circle cx="341.26" cy="848.05" r="2.2" fill="#4a66d9" />
<circle cx="368.11" cy="848.07" r="2.2" fill="#4a66d9" />
<circle cx="375.78" cy="848.07" r="2.2" fill="#4a66d9" />
<polyline points="111.1,758.2 138.0,759.0 153.3,761.5 164.8,767.1 180.1,785.8 191.7,808.5 207.0,834.0 214.7,841.0 222.3,845.0 233.9,847.8 249.2,849.0 260.7,849.3 276.0,849.4 295.2,849.5 322.1,849.5 341.3,849.5 368.1,849.5 375.8,849.5" stroke="#4a66d9" stroke-width="1.3" fill="none" />
<circle cx="111.10" cy="758.20" r="2.2" fill="#4a66d9" />
<circle cx="137.95" cy="759.00" r="2.2" fill="#4a66d9" />
<circle cx="153.30" cy="761.52" r="2.2" fill="#4a66d9" />
<circle cx="164.80" cy="767.11" r="2.2" fill="#4a66d9" />
<circle cx="180.15" cy="785.83" r="2.2" fill="#4a66d9" />
<circle cx="191.66" cy="808.48" r="2.2" fill="#4a66d9" />
<circle cx="207.00" cy="833.99" r="2.2" fill="#4a66d9" />
<circle cx="214.67" cy="841.00" r="2.2" fill="#4a66d9" />
<circle cx="222.34" cy="845.02" r="2.2" fill="#4a66d9" />
<circle cx="233.85" cy="847.83" r="2.2" fill="#4a66d9" />
<circle cx="249.20" cy="849.04" r="2.2" fill="#4a66d9" />
<circle cx="260.70" cy="849.31" r="2.2" fill="#4a66d9" />
<circle cx="276.05" cy="849.42" r="2.2" fill="#4a66d9" />
<circle cx="295.23" cy="849.45" r="2.2" fill="#4a66d9" />
<circle cx="322.08" cy="849.46" r="2.2" fill="#4a66d9" />
<circle cx="341.26" cy="849.46" r="2.2" fill="#4a66d9" />
<circle cx="368.11" cy="849.46" r="2.2" fill="#4a66d9" />
<circle cx="375.78" cy="849.46" r="2.2" fill="#4a66d9" />
<polyline points="111.1,758.2 126.4,758.3 153.3,759.1 164.8,760.4 191.7,774.4 207.0,796.9 214.7,810.8 222.3,823.5 241.5,842.5 249.2,845.8 260.7,848.2 268.4,849.0 276.0,849.5" stroke="#4a66d9" stroke-width="1.3" fill="none" />
<circle cx="111.10" cy="758.20" r="2.2" fill="#4a66d9" />
<circle cx="126.44" cy="758.28" r="2.2" fill="#4a66d9" />
<circle cx="153.30" cy="759.09" r="2.2" fill="#4a66d9" />
<circle cx="164.80" cy="760.45" r="2.2" fill="#4a66d9" />
<circle cx="191.66" cy="774.43" r="2.2" fill="#4a66d9" />
<circle cx="207.00" cy="796.87" r="2.2" fill="#4a66d9" />
<circle cx="214.67" cy="810.76" r="2.2" fill="#4a66d9" />
<circle cx="222.34" cy="823.50" r="2.2" fill="#4a66d9" />
<circle cx="241.52" cy="842.53" r="2.2" fill="#4a66d9" />
<circle cx="249.20" cy="845.77" r="2.2" fill="#4a66d9" />
<circle cx="260.70" cy="848.24" r="2.2" fill="#4a66d9" />
<circle cx="268.38" cy="849.02" r="2.2" fill="#4a66d9" />
<circle cx="276.05" cy="849.45" r="2.2" fill="#4a66d9" />
<polyline points="111.1,758.2 126.4,758.5 138.0,759.2 153.3,761.2 164.8,764.7 180.1,774.7 191.7,787.7 207.0,809.9 214.7,820.2 241.5,840.0 249.2,842.1 260.7,843.9 268.4,844.5 276.0,844.8" stroke="#4a66d9" stroke-width="1.3" fill="none" />
<circle cx="111.10" cy="758.20" r="2.2" fill="#4a66d9" />
<circle cx="126.44" cy="758.54" r="2.2" fill="#4a66d9" />
<circle cx="137.95" cy="759.17" r="2.2" fill="#4a66d9" />
<circle cx="153.30" cy="761.21" r="2.2" fill="#4a66d9" />
<circle cx="164.80" cy="764.71" r="2.2" fill="#4a66d9" />
<circle cx="180.15" cy="774.68" r="2.2" fill="#4a66d9" />
<circle cx="191.66" cy="787.73" r="2.2" fill="#4a66d9" />
<circle cx="207.00" cy="809.90" r="2.2" fill="#4a66d9" />
<circle cx="214.67" cy="820.15" r="2.2" fill="#4a66d9" />
<circle cx="241.52" cy="840.02" r="2.2" fill="#4a66d9" />
<circle cx="249.20" cy="842.12" r="2.2" fill="#4a66d9" />
<circle cx="260.70" cy="843.86" r="2.2" fill="#4a66d9" />
<circle cx="268.38" cy="844.47" r="2.2" fill="#4a66d9" />
<circle cx="276.05" cy="844.84" r="2.2" fill="#4a66d9" />
<polyline points="111.1,758.2 138.0,758.7 153.3,759.6 164.8,761.0 191.7,771.0 207.0,783.7 222.3,799.8 233.9,810.5 241.5,815.9 249.2,819.9 260.7,823.8 276.0,826.3 287.6,827.1 295.2,827.4" stroke="#4a66d9" stroke-width="1.3" fill="none" />
<circle cx="111.10" cy="758.20" r="2.2" fill="#4a66d9" />
<circle cx="137.95" cy="758.67" r="2.2" fill="#4a66d9" />
<circle cx="153.30" cy="759.56" r="2.2" fill="#4a66d9" />
<circle cx="164.80" cy="761.01" r="2.2" fill="#4a66d9" />
<circle cx="191.66" cy="770.99" r="2.2" fill="#4a66d9" />
<circle cx="207.00" cy="783.72" r="2.2" fill="#4a66d9" />
<circle cx="222.34" cy="799.82" r="2.2" fill="#4a66d9" />
<circle cx="233.85" cy="810.50" r="2.2" fill="#4a66d9" />
<circle cx="241.52" cy="815.92" r="2.2" fill="#4a66d9" />
<circle cx="249.20" cy="819.92" r="2.2" fill="#4a66d9" />
<circle cx="260.70" cy="823.75" r="2.2" fill="#4a66d9" />
<circle cx="276.05" cy="826.27" r="2.2" fill="#4a66d9" />
<circle cx="287.56" cy="827.13" r="2.2" fill="#4a66d9" />
<circle cx="295.23" cy="827.45" r="2.2" fill="#4a66d9" />
<text x="432.50" y="633.00" font-size="36" text-anchor="start" fill="#000" >F</text>
<line x1="521.30" y1="642.20" x2="521.30" y2="874.75" stroke="#000" stroke-width="1.5" />
<line x1="520.55" y1="874.00" x2="809.30" y2="874.00" stroke="#000" stroke-width="1.5" />
<line x1="515.30" y1="642.00" x2="521.30" y2="642.00" stroke="#000" stroke-width="1.5" />
<text x="511.80" y="649.60" font-size="22" text-anchor="end" fill="#000" >100</text>
<line x1="515.30" y1="700.00" x2="521.30" y2="700.00" stroke="#000" stroke-width="1.5" />
<text x="511.80" y="707.60" font-size="22" text-anchor="end" fill="#000" >75</text>
<line x1="515.30" y1="758.00" x2="521.30" y2="758.00" stroke="#000" stroke-width="1.5" />
<text x="511.80" y="765.60" font-size="22" text-anchor="end" fill="#000" >50</text>
<line x1="515.30" y1="816.00" x2="521.30" y2="816.00" stroke="#000" stroke-width="1.5" />
<text x="511.80" y="823.60" font-size="22" text-anchor="end" fill="#000" >25</text>
<line x1="515.30" y1="874.00" x2="521.30" y2="874.00" stroke="#000" stroke-width="1.5" />
<text x="511.80" y="881.60" font-size="22" text-anchor="end" fill="#000" >0</text>
<line x1="521.30" y1="874.00" x2="521.30" y2="880.50" stroke="#000" stroke-width="1.5" />
<text x="521.30" y="901.00" font-size="22" text-anchor="middle" fill="#000" >-25</text>
<line x1="617.30" y1="874.00" x2="617.30" y2="880.50" stroke="#000" stroke-width="1.5" />
<text x="617.30" y="901.00" font-size="22" text-anchor="middle" fill="#000" >0</text>
<line x1="713.30" y1="874.00" x2="713.30" y2="880.50" stroke="#000" stroke-width="1.5" />
<text x="713.30" y="901.00" font-size="22" text-anchor="middle" fill="#000" >25</text>
<line x1="809.30" y1="874.00" x2="809.30" y2="880.50" stroke="#000" stroke-width="1.5" />
<text x="809.30" y="901.00" font-size="22" text-anchor="middle" fill="#000" >50</text>
<text x="659.00" y="932.00" font-size="22" text-anchor="middle" fill="#000" >Days</text>
<text x="529.50" y="660.50" font-size="17.5" text-anchor="start" fill="#000" >Cuprizone</text>
<rect x="521.3" y="665.3" width="96.0" height="4" fill="#fddc9c"/>
<text transform="translate(471.00,760.50) rotate(-90)" x="0" y="0" font-size="22" text-anchor="middle" fill="#000">Cumul. Δ in OLs (%)</text>
<path d="M521.3,874.0 522.6,874.0 523.9,874.0 525.2,874.0 526.6,874.0 527.9,874.0 529.2,874.0 530.5,874.0 531.8,874.0 533.1,874.0 534.5,874.0 535.8,874.0 537.1,874.0 538.4,874.0 539.7,874.0 541.0,874.0 542.3,874.0 543.7,874.0 545.0,874.0 546.3,874.0 547.6,874.0 548.9,874.0 550.2,874.0 551.5,874.0 552.9,874.0 554.2,874.0 555.5,874.0 556.8,874.0 558.1,873.9 559.4,873.9 560.8,873.8 562.1,873.7 563.4,873.7 564.7,873.6 566.0,873.5 567.3,873.2 568.6,872.8 570.0,872.4 571.3,871.8 572.6,871.1 573.9,870.3 575.2,869.4 576.5,868.5 577.8,867.5 579.2,866.5 580.5,865.5 581.8,864.5 583.1,863.2 584.4,861.8 585.7,860.1 587.1,858.4 588.4,856.5 589.7,854.5 591.0,852.4 592.3,850.3 593.6,848.2 594.9,846.1 596.3,843.9 597.6,841.6 598.9,839.2 600.2,836.7 601.5,834.1 602.8,831.5 604.1,828.8 605.5,826.1 606.8,823.3 608.1,820.3 609.4,817.2 610.7,814.0 612.0,810.7 613.4,807.4 614.7,804.2 616.0,801.0 617.3,798.0 618.6,795.2 619.9,792.5 621.2,790.1 622.6,787.9 623.9,785.7 625.2,783.6 626.5,781.6 627.8,779.6 629.1,777.7 630.5,775.9 631.8,774.2 633.1,772.5 634.4,770.9 635.7,769.4 637.0,768.0 638.3,766.7 639.7,765.4 641.0,764.1 642.3,762.9 643.6,761.7 644.9,760.6 646.2,759.5 647.5,758.5 648.9,757.6 650.2,756.6 651.5,755.8 652.8,754.9 654.1,754.1 655.4,753.3 656.8,752.6 658.1,751.8 659.4,751.1 660.7,750.3 662.0,749.6 663.3,749.0 664.6,748.3 666.0,747.7 667.3,747.1 668.6,746.6 669.9,746.1 671.2,745.7 672.5,745.3 673.8,744.9 675.2,744.6 676.5,744.4 677.8,744.1 679.1,743.8 680.4,743.6 681.7,743.3 683.1,743.1 684.4,742.9 685.7,742.7 687.0,742.5 688.3,742.3 689.6,742.1 690.9,742.0 692.3,741.8 693.6,741.7 694.9,741.6 696.2,741.4 697.5,741.3 698.8,741.2 700.1,741.2 701.5,741.1 702.8,741.0 704.1,741.0 705.4,740.9 706.7,740.9 708.0,740.8 709.4,740.7 710.7,740.7 712.0,740.6 713.3,740.6 714.6,740.5 715.9,740.5 717.2,740.5 718.6,740.4 719.9,740.4 721.2,740.3 722.5,740.3 723.8,740.3 725.1,740.2 726.5,740.2 727.8,740.2 729.1,740.1 730.4,740.1 731.7,740.1 733.0,740.0 734.3,740.0 735.7,740.0 737.0,740.0 738.3,740.0 739.6,739.9 740.9,739.9 742.2,739.9 743.5,739.9 744.9,739.9 746.2,739.9 747.5,739.9 748.8,739.9 750.1,739.8 751.4,739.8 752.8,739.8 754.1,739.8 755.4,739.8 756.7,739.8 758.0,739.8 759.3,739.8 760.6,739.8 762.0,739.8 763.3,739.8 764.6,739.7 765.9,739.7 767.2,739.7 768.5,739.7 769.8,739.7 771.2,739.7 772.5,739.7 773.8,739.7 775.1,739.7 776.4,739.7 777.7,739.7 779.1,739.7 780.4,739.7 781.7,739.7 783.0,739.7 784.3,739.7 785.6,739.7 786.9,739.7 788.3,739.6 789.6,739.6 790.9,739.6 792.2,739.6 793.5,739.6 794.8,739.6 796.1,739.6 797.5,739.6 798.8,739.6 800.1,739.6 801.4,739.6 802.7,739.6 804.0,739.6 805.4,739.6 806.7,739.6 808.0,739.6 809.3,739.6 809.3,753.6 808.0,753.6 806.7,753.6 805.4,753.6 804.0,753.6 802.7,753.6 801.4,753.7 800.1,753.7 798.8,753.7 797.5,753.7 796.1,753.7 794.8,753.7 793.5,753.7 792.2,753.7 790.9,753.7 789.6,753.7 788.3,753.7 786.9,753.7 785.6,753.7 784.3,753.7 783.0,753.7 781.7,753.7 780.4,753.7 779.1,753.7 777.7,753.7 776.4,753.7 775.1,753.7 773.8,753.8 772.5,753.8 771.2,753.8 769.8,753.8 768.5,753.8 767.2,753.8 765.9,753.8 764.6,753.8 763.3,753.8 762.0,753.8 760.6,753.8 759.3,753.8 758.0,753.9 756.7,753.9 755.4,753.9 754.1,753.9 752.8,753.9 751.4,753.9 750.1,753.9 748.8,753.9 747.5,754.0 746.2,754.0 744.9,754.0 743.5,754.0 742.2,754.0 740.9,754.1 739.6,754.1 738.3,754.1 737.0,754.1 735.7,754.2 734.3,754.2 733.0,754.2 731.7,754.3 730.4,754.3 729.1,754.3 727.8,754.4 726.5,754.4 725.1,754.5 723.8,754.5 722.5,754.6 721.2,754.6 719.9,754.6 718.6,754.7 717.2,754.7 715.9,754.8 714.6,754.8 713.3,754.9 712.0,755.0 710.7,755.0 709.4,755.1 708.0,755.2 706.7,755.3 705.4,755.4 704.1,755.5 702.8,755.6 701.5,755.8 700.1,755.9 698.8,756.1 697.5,756.2 696.2,756.4 694.9,756.6 693.6,756.8 692.3,757.0 690.9,757.2 689.6,757.4 688.3,757.7 687.0,757.9 685.7,758.2 684.4,758.4 683.1,758.7 681.7,759.1 680.4,759.5 679.1,760.0 677.8,760.4 676.5,761.0 675.2,761.5 673.8,762.1 672.5,762.7 671.2,763.3 669.9,764.0 668.6,764.7 667.3,765.4 666.0,766.1 664.6,766.8 663.3,767.5 662.0,768.2 660.7,769.0 659.4,769.8 658.1,770.7 656.8,771.6 655.4,772.6 654.1,773.6 652.8,774.7 651.5,775.8 650.2,776.9 648.9,778.1 647.5,779.3 646.2,780.6 644.9,781.9 643.6,783.4 642.3,784.9 641.0,786.4 639.7,788.1 638.3,789.8 637.0,791.5 635.7,793.3 634.4,795.2 633.1,797.2 631.8,799.2 630.5,801.4 629.1,803.8 627.8,806.4 626.5,809.1 625.2,812.0 623.9,814.9 622.6,817.8 621.2,820.7 619.9,823.6 618.6,826.4 617.3,829.1 616.0,831.5 614.7,834.0 613.4,836.3 612.0,838.7 610.7,841.0 609.4,843.2 608.1,845.4 606.8,847.4 605.5,849.3 604.1,851.2 602.8,853.1 601.5,855.0 600.2,856.8 598.9,858.6 597.6,860.3 596.3,861.8 594.9,863.3 593.6,864.5 592.3,865.6 591.0,866.6 589.7,867.5 588.4,868.4 587.1,869.2 585.7,870.0 584.4,870.8 583.1,871.5 581.8,872.1 580.5,872.6 579.2,873.0 577.8,873.3 576.5,873.5 575.2,873.6 573.9,873.7 572.6,873.8 571.3,873.9 570.0,873.9 568.6,873.9 567.3,874.0 566.0,874.0 564.7,874.0 563.4,874.0 562.1,874.0 560.8,874.0 559.4,874.0 558.1,874.0 556.8,874.0 555.5,874.0 554.2,874.0 552.9,874.0 551.5,874.0 550.2,874.0 548.9,874.0 547.6,874.0 546.3,874.0 545.0,874.0 543.7,874.0 542.3,874.0 541.0,874.0 539.7,874.0 538.4,874.0 537.1,874.0 535.8,874.0 534.5,874.0 533.1,874.0 531.8,874.0 530.5,874.0 529.2,874.0 527.9,874.0 526.6,874.0 525.2,874.0 523.9,874.0 522.6,874.0 521.3,874.0Z" fill="#d3d9f6"/>
<path d="M521.3,874.0 522.6,874.0 523.9,874.0 525.2,874.0 526.6,874.0 527.9,874.0 529.2,874.0 530.5,874.0 531.8,874.0 533.1,874.0 534.5,874.0 535.8,874.0 537.1,874.0 538.4,874.0 539.7,874.0 541.0,874.0 542.3,874.0 543.7,874.0 545.0,874.0 546.3,874.0 547.6,874.0 548.9,874.0 550.2,874.0 551.5,874.0 552.9,874.0 554.2,874.0 555.5,874.0 556.8,874.0 558.1,874.0 559.4,874.0 560.8,874.0 562.1,874.0 563.4,874.0 564.7,874.0 566.0,874.0 567.3,874.0 568.6,874.0 570.0,874.0 571.3,874.0 572.6,874.0 573.9,874.0 575.2,874.0 576.5,874.0 577.8,874.0 579.2,874.0 580.5,874.0 581.8,873.9 583.1,873.9 584.4,873.9 585.7,873.8 587.1,873.8 588.4,873.8 589.7,873.7 591.0,873.6 592.3,873.4 593.6,873.1 594.9,872.9 596.3,872.5 597.6,872.2 598.9,871.8 600.2,871.3 601.5,870.9 602.8,870.4 604.1,869.9 605.5,869.4 606.8,868.9 608.1,868.4 609.4,867.8 610.7,867.3 612.0,866.7 613.4,866.0 614.7,865.3 616.0,864.5 617.3,863.7 618.6,862.8 619.9,861.9 621.2,861.0 622.6,860.0 623.9,859.0 625.2,858.0 626.5,857.0 627.8,856.0 629.1,855.0 630.5,854.0 631.8,853.1 633.1,852.1 634.4,851.1 635.7,850.0 637.0,849.0 638.3,847.9 639.7,846.8 641.0,845.7 642.3,844.6 643.6,843.5 644.9,842.3 646.2,841.2 647.5,840.1 648.9,838.9 650.2,837.8 651.5,836.7 652.8,835.6 654.1,834.4 655.4,833.3 656.8,832.2 658.1,831.0 659.4,829.9 660.7,828.7 662.0,827.5 663.3,826.4 664.6,825.2 666.0,824.0 667.3,822.8 668.6,821.7 669.9,820.6 671.2,819.5 672.5,818.4 673.8,817.3 675.2,816.3 676.5,815.3 677.8,814.4 679.1,813.4 680.4,812.5 681.7,811.5 683.1,810.6 684.4,809.7 685.7,808.8 687.0,807.9 688.3,807.0 689.6,806.2 690.9,805.3 692.3,804.5 693.6,803.7 694.9,802.9 696.2,802.1 697.5,801.4 698.8,800.6 700.1,799.9 701.5,799.3 702.8,798.6 704.1,798.0 705.4,797.4 706.7,796.8 708.0,796.1 709.4,795.5 710.7,794.9 712.0,794.4 713.3,793.8 714.6,793.2 715.9,792.7 717.2,792.2 718.6,791.7 719.9,791.2 721.2,790.7 722.5,790.3 723.8,789.8 725.1,789.4 726.5,789.1 727.8,788.7 729.1,788.4 730.4,788.1 731.7,787.9 733.0,787.6 734.3,787.3 735.7,787.1 737.0,786.8 738.3,786.6 739.6,786.4 740.9,786.1 742.2,785.9 743.5,785.7 744.9,785.5 746.2,785.3 747.5,785.1 748.8,784.9 750.1,784.7 751.4,784.5 752.8,784.4 754.1,784.2 755.4,784.0 756.7,783.9 758.0,783.7 759.3,783.6 760.6,783.5 762.0,783.3 763.3,783.2 764.6,783.1 765.9,783.0 767.2,782.9 768.5,782.7 769.8,782.6 771.2,782.5 772.5,782.4 773.8,782.3 775.1,782.2 776.4,782.1 777.7,782.0 779.1,781.9 780.4,781.8 781.7,781.7 783.0,781.6 784.3,781.6 785.6,781.5 786.9,781.4 788.3,781.3 789.6,781.2 790.9,781.2 792.2,781.1 793.5,781.0 794.8,781.0 796.1,780.9 797.5,780.8 798.8,780.8 800.1,780.8 801.4,780.7 802.7,780.7 804.0,780.7 805.4,780.6 806.7,780.6 808.0,780.6 809.3,780.6 809.3,791.6 808.0,791.6 806.7,791.7 805.4,791.7 804.0,791.7 802.7,791.8 801.4,791.8 800.1,791.9 798.8,791.9 797.5,792.0 796.1,792.1 794.8,792.1 793.5,792.2 792.2,792.3 790.9,792.4 789.6,792.4 788.3,792.5 786.9,792.6 785.6,792.7 784.3,792.8 783.0,792.9 781.7,793.0 780.4,793.1 779.1,793.1 777.7,793.2 776.4,793.3 775.1,793.4 773.8,793.5 772.5,793.6 771.2,793.7 769.8,793.8 768.5,793.9 767.2,794.1 765.9,794.2 764.6,794.3 763.3,794.4 762.0,794.6 760.6,794.7 759.3,794.9 758.0,795.0 756.7,795.2 755.4,795.3 754.1,795.5 752.8,795.7 751.4,795.9 750.1,796.1 748.8,796.2 747.5,796.4 746.2,796.6 744.9,796.8 743.5,797.1 742.2,797.3 740.9,797.5 739.6,797.7 738.3,798.0 737.0,798.2 735.7,798.5 734.3,798.8 733.0,799.1 731.7,799.4 730.4,799.8 729.1,800.1 727.8,800.5 726.5,801.0 725.1,801.4 723.8,801.8 722.5,802.3 721.2,802.8 719.9,803.3 718.6,803.8 717.2,804.3 715.9,804.8 714.6,805.4 713.3,805.9 712.0,806.5 710.7,807.0 709.4,807.6 708.0,808.1 706.7,808.7 705.4,809.4 704.1,810.0 702.8,810.7 701.5,811.4 700.1,812.1 698.8,812.8 697.5,813.5 696.2,814.3 694.9,815.0 693.6,815.8 692.3,816.6 690.9,817.4 689.6,818.2 688.3,819.0 687.0,819.9 685.7,820.7 684.4,821.5 683.1,822.4 681.7,823.3 680.4,824.2 679.1,825.1 677.8,826.1 676.5,827.1 675.2,828.1 673.8,829.1 672.5,830.1 671.2,831.1 669.9,832.2 668.6,833.2 667.3,834.3 666.0,835.3 664.6,836.3 663.3,837.3 662.0,838.3 660.7,839.3 659.4,840.3 658.1,841.3 656.8,842.3 655.4,843.3 654.1,844.3 652.8,845.3 651.5,846.3 650.2,847.3 648.9,848.3 647.5,849.3 646.2,850.2 644.9,851.2 643.6,852.1 642.3,853.1 641.0,854.0 639.7,854.9 638.3,855.7 637.0,856.6 635.7,857.5 634.4,858.4 633.1,859.2 631.8,860.1 630.5,861.0 629.1,861.9 627.8,862.7 626.5,863.5 625.2,864.3 623.9,865.1 622.6,865.8 621.2,866.5 619.9,867.1 618.6,867.7 617.3,868.2 616.0,868.7 614.7,869.1 613.4,869.6 612.0,870.1 610.7,870.5 609.4,870.9 608.1,871.4 606.8,871.8 605.5,872.1 604.1,872.5 602.8,872.8 601.5,873.1 600.2,873.3 598.9,873.5 597.6,873.6 596.3,873.7 594.9,873.8 593.6,873.8 592.3,873.9 591.0,873.9 589.7,873.9 588.4,873.9 587.1,874.0 585.7,874.0 584.4,874.0 583.1,874.0 581.8,874.0 580.5,874.0 579.2,874.0 577.8,874.0 576.5,874.0 575.2,874.0 573.9,874.0 572.6,874.0 571.3,874.0 570.0,874.0 568.6,874.0 567.3,874.0 566.0,874.0 564.7,874.0 563.4,874.0 562.1,874.0 560.8,874.0 559.4,874.0 558.1,874.0 556.8,874.0 555.5,874.0 554.2,874.0 552.9,874.0 551.5,874.0 550.2,874.0 548.9,874.0 547.6,874.0 546.3,874.0 545.0,874.0 543.7,874.0 542.3,874.0 541.0,874.0 539.7,874.0 538.4,874.0 537.1,874.0 535.8,874.0 534.5,874.0 533.1,874.0 531.8,874.0 530.5,874.0 529.2,874.0 527.9,874.0 526.6,874.0 525.2,874.0 523.9,874.0 522.6,874.0 521.3,874.0Z" fill="#d0edfb"/>
<polyline points="521.3,874.0 522.7,874.0 524.2,874.0 525.6,874.0 527.1,874.0 528.5,874.0 530.0,874.0 531.4,874.0 532.9,874.0 534.3,874.0 535.8,874.0 537.2,874.0 538.7,874.0 540.1,874.0 541.6,874.0 543.0,874.0 544.5,874.0 545.9,874.0 547.4,874.0 548.8,874.0 550.2,874.0 551.7,874.0 553.1,874.0 554.6,874.0 556.0,874.0 557.5,874.0 558.9,874.0 560.4,874.0 561.8,874.0 563.3,874.0 564.7,874.0 566.2,874.0 567.6,874.0 569.1,874.0 570.5,874.0 572.0,874.0 573.4,874.0 574.8,874.0 576.3,874.0 577.7,874.0 579.2,874.0 580.6,874.0 582.1,874.0 583.5,874.0 585.0,873.9 586.4,873.9 587.9,873.9 589.3,873.8 590.8,873.8 592.2,873.8 593.7,873.7 595.1,873.5 596.6,873.3 598.0,873.0 599.5,872.7 600.9,872.3 602.3,871.9 603.8,871.5 605.2,871.0 606.7,870.5 608.1,870.0 609.6,869.4 611.0,868.9 612.5,868.3 613.9,867.8 615.4,867.2 616.8,866.5 618.3,865.7 619.7,864.9 621.2,864.0 622.6,863.1 624.1,862.2 625.5,861.2 626.9,860.2 628.4,859.1 629.8,858.1 631.3,857.1 632.7,856.0 634.2,855.0 635.6,854.0 637.1,853.0 638.5,851.9 640.0,850.8 641.4,849.7 642.9,848.6 644.3,847.4 645.8,846.3 647.2,845.1 648.7,844.0 650.1,842.8 651.6,841.6 653.0,840.4 654.4,839.3 655.9,838.1 657.3,836.9 658.8,835.8 660.2,834.6 661.7,833.4 663.1,832.2 664.6,831.0 666.0,829.8 667.5,828.6 668.9,827.3 670.4,826.1 671.8,824.9 673.3,823.8 674.7,822.6 676.2,821.5 677.6,820.4 679.0,819.4 680.5,818.4 681.9,817.4 683.4,816.4 684.8,815.4 686.3,814.5 687.7,813.5 689.2,812.6 690.6,811.7 692.1,810.7 693.5,809.9 695.0,809.0 696.4,808.1 697.9,807.3 699.3,806.5 700.8,805.7 702.2,805.0 703.7,804.2 705.1,803.5 706.5,802.9 708.0,802.2 709.4,801.6 710.9,801.0 712.3,800.3 713.8,799.7 715.2,799.1 716.7,798.5 718.1,797.9 719.6,797.4 721.0,796.8 722.5,796.3 723.9,795.8 725.4,795.3 726.8,794.9 728.3,794.5 729.7,794.1 731.1,793.7 732.6,793.4 734.0,793.1 735.5,792.8 736.9,792.5 738.4,792.3 739.8,792.0 741.3,791.8 742.7,791.5 744.2,791.3 745.6,791.1 747.1,790.8 748.5,790.6 750.0,790.4 751.4,790.2 752.9,790.0 754.3,789.8 755.8,789.7 757.2,789.5 758.6,789.3 760.1,789.2 761.5,789.0 763.0,788.9 764.4,788.7 765.9,788.6 767.3,788.5 768.8,788.3 770.2,788.2 771.7,788.1 773.1,788.0 774.6,787.9 776.0,787.8 777.5,787.7 778.9,787.6 780.4,787.4 781.8,787.3 783.2,787.2 784.7,787.1 786.1,787.1 787.6,787.0 789.0,786.9 790.5,786.8 791.9,786.7 793.4,786.6 794.8,786.5 796.3,786.5 797.7,786.4 799.2,786.4 800.6,786.3 802.1,786.2 803.5,786.2 805.0,786.2 806.4,786.1 807.9,786.1 809.3,786.1" stroke="#6dc9f2" stroke-width="3" fill="none" />
<polyline points="521.3,874.0 522.7,874.0 524.2,874.0 525.6,874.0 527.1,874.0 528.5,874.0 530.0,874.0 531.4,874.0 532.9,874.0 534.3,874.0 535.8,874.0 537.2,874.0 538.7,874.0 540.1,874.0 541.6,874.0 543.0,874.0 544.5,874.0 545.9,874.0 547.4,874.0 548.8,874.0 550.2,874.0 551.7,874.0 553.1,874.0 554.6,874.0 556.0,874.0 557.5,874.0 558.9,874.0 560.4,874.0 561.8,874.0 563.3,873.9 564.7,873.9 566.2,873.8 567.6,873.7 569.1,873.7 570.5,873.6 572.0,873.4 573.4,873.1 574.8,872.6 576.3,872.0 577.7,871.3 579.2,870.5 580.6,869.6 582.1,868.7 583.5,867.7 585.0,866.6 586.4,865.5 587.9,864.3 589.3,862.9 590.8,861.3 592.2,859.5 593.7,857.5 595.1,855.4 596.6,853.3 598.0,851.1 599.5,848.9 600.9,846.7 602.3,844.3 603.8,841.8 605.2,839.3 606.7,836.6 608.1,833.9 609.6,831.1 611.0,828.3 612.5,825.3 613.9,822.1 615.4,818.8 616.8,815.4 618.3,812.0 619.7,808.6 621.2,805.3 622.6,802.1 624.1,799.1 625.5,796.4 626.9,793.9 628.4,791.6 629.8,789.4 631.3,787.2 632.7,785.2 634.2,783.2 635.6,781.3 637.1,779.5 638.5,777.7 640.0,776.1 641.4,774.5 642.9,773.1 644.3,771.7 645.8,770.4 647.2,769.1 648.7,767.9 650.1,766.7 651.6,765.6 653.0,764.5 654.4,763.5 655.9,762.5 657.3,761.6 658.8,760.8 660.2,760.0 661.7,759.1 663.1,758.3 664.6,757.6 666.0,756.8 667.5,756.1 668.9,755.4 670.4,754.7 671.8,754.1 673.3,753.5 674.7,753.0 676.2,752.5 677.6,752.1 679.0,751.7 680.5,751.4 681.9,751.1 683.4,750.8 684.8,750.6 686.3,750.3 687.7,750.1 689.2,749.8 690.6,749.6 692.1,749.4 693.5,749.2 695.0,749.0 696.4,748.9 697.9,748.7 699.3,748.6 700.8,748.4 702.2,748.3 703.7,748.2 705.1,748.1 706.5,748.0 708.0,748.0 709.4,747.9 710.9,747.8 712.3,747.8 713.8,747.7 715.2,747.7 716.7,747.6 718.1,747.6 719.6,747.5 721.0,747.5 722.5,747.4 723.9,747.4 725.4,747.3 726.8,747.3 728.3,747.3 729.7,747.2 731.1,747.2 732.6,747.1 734.0,747.1 735.5,747.1 736.9,747.1 738.4,747.0 739.8,747.0 741.3,747.0 742.7,747.0 744.2,746.9 745.6,746.9 747.1,746.9 748.5,746.9 750.0,746.9 751.4,746.9 752.9,746.9 754.3,746.8 755.8,746.8 757.2,746.8 758.6,746.8 760.1,746.8 761.5,746.8 763.0,746.8 764.4,746.8 765.9,746.8 767.3,746.8 768.8,746.8 770.2,746.7 771.7,746.7 773.1,746.7 774.6,746.7 776.0,746.7 777.5,746.7 778.9,746.7 780.4,746.7 781.8,746.7 783.2,746.7 784.7,746.7 786.1,746.7 787.6,746.7 789.0,746.7 790.5,746.7 791.9,746.7 793.4,746.7 794.8,746.6 796.3,746.6 797.7,746.6 799.2,746.6 800.6,746.6 802.1,746.6 803.5,746.6 805.0,746.6 806.4,746.6 807.9,746.6 809.3,746.6" stroke="#4a66d9" stroke-width="3" fill="none" />
<circle cx="610.70" cy="828.76" r="3.6" fill="#4a66d9" />
<circle cx="657.90" cy="836.42" r="3.6" fill="#6dc9f2" />
<path d="M610.7,741 L610.7,733.9 L657.9,733.9 L657.9,741" fill="none" stroke="#000" stroke-width="1.3"/>
<line x1="610.70" y1="741.00" x2="610.70" y2="817.00" stroke="#000" stroke-width="1.2" stroke-dasharray="4,3"/>
<line x1="657.90" y1="741.00" x2="657.90" y2="824.00" stroke="#000" stroke-width="1.2" stroke-dasharray="4,3"/>
<text x="634.30" y="735.80" font-size="22" text-anchor="middle" fill="#000" >***</text>
<path d="M817.9,746.7 L822.1,746.7 L822.1,785.3 L817.9,785.3" fill="none" stroke="#000" stroke-width="1.3"/>
<text transform="translate(823.5,766.5) rotate(90)" font-size="22" text-anchor="middle">**</text>
<line x1="729.00" y1="652.40" x2="742.70" y2="652.40" stroke="#4a66d9" stroke-width="3" />
<line x1="729.00" y1="672.20" x2="742.70" y2="672.20" stroke="#6dc9f2" stroke-width="3" />
<text x="745.50" y="658.40" font-size="17.5" text-anchor="start" fill="#000" >Lost OL</text>
<text x="745.50" y="678.00" font-size="17.5" text-anchor="start" fill="#000" >New OL</text>
<text x="866.00" y="633.00" font-size="36" text-anchor="start" fill="#000" >G</text>
<text x="1070.40" y="628.30" font-size="22" text-anchor="middle" fill="#000" >7 weeks</text>
<path d="M954.9,798.5 960.9,797.0 966.8,795.5 972.8,794.0 978.7,792.5 984.7,790.9 990.7,789.4 996.6,787.8 1002.6,786.1 1008.5,784.5 1014.5,782.8 1020.4,781.0 1026.4,779.2 1032.4,777.4 1038.3,775.4 1044.3,773.4 1050.2,771.3 1056.2,769.0 1062.2,766.7 1068.1,764.2 1074.1,761.6 1080.0,758.9 1086.0,756.1 1092.0,753.2 1097.9,750.3 1103.9,747.2 1109.8,744.1 1115.8,740.9 1121.7,737.7 1127.7,734.4 1133.7,731.0 1139.6,727.6 1145.6,724.2 1151.5,720.7 1157.5,717.2 1163.5,713.7 1169.4,710.2 1175.4,706.6 1181.3,703.0 1187.3,699.4 1187.3,749.2 1181.3,751.0 1175.4,752.9 1169.4,754.7 1163.5,756.6 1157.5,758.5 1151.5,760.4 1145.6,762.4 1139.6,764.4 1133.7,766.4 1127.7,768.5 1121.7,770.6 1115.8,772.8 1109.8,775.1 1103.9,777.4 1097.9,779.7 1092.0,782.2 1086.0,784.7 1080.0,787.4 1074.1,790.1 1068.1,792.9 1062.2,795.8 1056.2,798.9 1050.2,802.1 1044.3,805.4 1038.3,808.9 1032.4,812.3 1026.4,815.9 1020.4,819.5 1014.5,823.2 1008.5,826.9 1002.6,830.7 996.6,834.5 990.7,838.3 984.7,842.2 978.7,846.0 972.8,849.9 966.8,853.9 960.9,857.8 954.9,861.7Z" fill="#e0e0e0"/>
<line x1="954.90" y1="830.12" x2="1187.30" y2="724.30" stroke="#000" stroke-width="2.5" />
<circle cx="992.34" cy="823.67" r="2.7" fill="#000" />
<circle cx="1024.62" cy="781.08" r="2.7" fill="#000" />
<circle cx="1023.33" cy="799.15" r="2.7" fill="#000" />
<circle cx="1025.91" cy="805.60" r="2.7" fill="#000" />
<circle cx="1116.29" cy="738.49" r="2.7" fill="#000" />
<circle cx="1121.45" cy="735.91" r="2.7" fill="#000" />
<circle cx="1134.36" cy="755.27" r="2.7" fill="#000" />
<circle cx="1138.24" cy="782.37" r="2.7" fill="#000" />
<circle cx="1156.31" cy="742.36" r="2.7" fill="#000" />
<circle cx="1158.89" cy="723.01" r="2.7" fill="#000" />
<line x1="954.90" y1="641.70" x2="954.90" y2="874.75" stroke="#000" stroke-width="1.5" />
<line x1="954.15" y1="874.00" x2="1187.30" y2="874.00" stroke="#000" stroke-width="1.5" />
<line x1="948.90" y1="641.70" x2="954.90" y2="641.70" stroke="#000" stroke-width="1.5" />
<text x="945.40" y="649.30" font-size="22" text-anchor="end" fill="#000" >90</text>
<line x1="948.90" y1="719.13" x2="954.90" y2="719.13" stroke="#000" stroke-width="1.5" />
<text x="945.40" y="726.73" font-size="22" text-anchor="end" fill="#000" >60</text>
<line x1="948.90" y1="796.57" x2="954.90" y2="796.57" stroke="#000" stroke-width="1.5" />
<text x="945.40" y="804.17" font-size="22" text-anchor="end" fill="#000" >30</text>
<line x1="948.90" y1="874.00" x2="954.90" y2="874.00" stroke="#000" stroke-width="1.5" />
<text x="945.40" y="881.60" font-size="22" text-anchor="end" fill="#000" >0</text>
<line x1="954.90" y1="874.00" x2="954.90" y2="880.50" stroke="#000" stroke-width="1.5" />
<text x="954.90" y="901.00" font-size="22" text-anchor="middle" fill="#000" >0</text>
<line x1="1032.37" y1="874.00" x2="1032.37" y2="880.50" stroke="#000" stroke-width="1.5" />
<text x="1032.37" y="901.00" font-size="22" text-anchor="middle" fill="#000" >30</text>
<line x1="1109.83" y1="874.00" x2="1109.83" y2="880.50" stroke="#000" stroke-width="1.5" />
<text x="1109.83" y="901.00" font-size="22" text-anchor="middle" fill="#000" >60</text>
<line x1="1187.30" y1="874.00" x2="1187.30" y2="880.50" stroke="#000" stroke-width="1.5" />
<text x="1187.30" y="901.00" font-size="22" text-anchor="middle" fill="#000" >90</text>
<text x="1071.00" y="932.50" font-size="22" text-anchor="middle" fill="#000" >Cumul. lost OLs (%)</text>
<text transform="translate(904.00,760.50) rotate(-90)" x="0" y="0" font-size="22" text-anchor="middle" fill="#000">Cumul. new OLs (%)</text>
<text x="977.00" y="682.00" font-size="17.5" text-anchor="start" fill="#000" >R² = 0.75, p = 0.0012</text>
<text x="0.00" y="992.00" font-size="36" text-anchor="start" fill="#000" >H</text>
<line x1="89.25" y1="1000.75" x2="89.25" y2="1233.55" stroke="#000" stroke-width="1.5" />
<line x1="88.50" y1="1232.80" x2="321.30" y2="1232.80" stroke="#000" stroke-width="1.5" />
<line x1="83.25" y1="1000.72" x2="89.25" y2="1000.72" stroke="#000" stroke-width="1.5" />
<text x="79.75" y="1008.32" font-size="22" text-anchor="end" fill="#000" >100</text>
<line x1="83.25" y1="1058.74" x2="89.25" y2="1058.74" stroke="#000" stroke-width="1.5" />
<text x="79.75" y="1066.34" font-size="22" text-anchor="end" fill="#000" >75</text>
<line x1="83.25" y1="1116.76" x2="89.25" y2="1116.76" stroke="#000" stroke-width="1.5" />
<text x="79.75" y="1124.36" font-size="22" text-anchor="end" fill="#000" >50</text>
<line x1="83.25" y1="1174.78" x2="89.25" y2="1174.78" stroke="#000" stroke-width="1.5" />
<text x="79.75" y="1182.38" font-size="22" text-anchor="end" fill="#000" >25</text>
<line x1="83.25" y1="1232.80" x2="89.25" y2="1232.80" stroke="#000" stroke-width="1.5" />
<text x="79.75" y="1240.40" font-size="22" text-anchor="end" fill="#000" >0</text>
<line x1="155.00" y1="1232.80" x2="155.00" y2="1239.30" stroke="#000" stroke-width="1.5" />
<line x1="254.80" y1="1232.80" x2="254.80" y2="1239.30" stroke="#000" stroke-width="1.5" />
<text x="205.00" y="988.50" font-size="22" text-anchor="middle" fill="#000" >7 weeks</text>
<text x="155.00" y="1265.00" font-size="22" text-anchor="middle" fill="#000" >&lt; 50%</text>
<text x="155.00" y="1290.50" font-size="22" text-anchor="middle" fill="#000" >loss</text>
<text x="254.80" y="1265.00" font-size="22" text-anchor="middle" fill="#000" >≥ 50%</text>
<text x="254.80" y="1290.50" font-size="22" text-anchor="middle" fill="#000" >loss</text>
<text transform="translate(38.00,1120.00) rotate(-90)" x="0" y="0" font-size="22" text-anchor="middle" fill="#000">Cumul. Δ in OLs (%)</text>
<line x1="126.70" y1="1170.14" x2="183.40" y2="1149.25" stroke="#000" stroke-width="1.3" />
<line x1="126.70" y1="1171.30" x2="183.40" y2="1165.50" stroke="#000" stroke-width="1.3" />
<line x1="126.70" y1="1172.46" x2="183.40" y2="1171.30" stroke="#000" stroke-width="1.3" />
<line x1="126.70" y1="1199.15" x2="183.40" y2="1187.54" stroke="#000" stroke-width="1.3" />
<line x1="226.50" y1="1050.62" x2="283.20" y2="1114.44" stroke="#000" stroke-width="1.3" />
<line x1="226.50" y1="1052.94" x2="283.20" y2="1097.03" stroke="#000" stroke-width="1.3" />
<line x1="226.50" y1="1068.02" x2="283.20" y2="1108.64" stroke="#000" stroke-width="1.3" />
<line x1="226.50" y1="1072.66" x2="283.20" y2="1150.41" stroke="#000" stroke-width="1.3" />
<line x1="226.50" y1="1083.11" x2="283.20" y2="1113.28" stroke="#000" stroke-width="1.3" />
<line x1="226.50" y1="1087.75" x2="283.20" y2="1126.04" stroke="#000" stroke-width="1.3" />
<circle cx="126.70" cy="1170.14" r="3.6" fill="#4a66d9" />
<circle cx="183.40" cy="1149.25" r="3.6" fill="#6dc9f2" />
<circle cx="126.70" cy="1171.30" r="3.6" fill="#4a66d9" />
<circle cx="183.40" cy="1165.50" r="3.6" fill="#6dc9f2" />
<circle cx="126.70" cy="1172.46" r="3.6" fill="#4a66d9" />
<circle cx="183.40" cy="1171.30" r="3.6" fill="#6dc9f2" />
<circle cx="126.70" cy="1199.15" r="3.6" fill="#4a66d9" />
<circle cx="183.40" cy="1187.54" r="3.6" fill="#6dc9f2" />
<circle cx="226.50" cy="1050.62" r="3.6" fill="#4a66d9" />
<circle cx="283.20" cy="1114.44" r="3.6" fill="#6dc9f2" />
<circle cx="226.50" cy="1052.94" r="3.6" fill="#4a66d9" />
<circle cx="283.20" cy="1097.03" r="3.6" fill="#6dc9f2" />
<circle cx="226.50" cy="1068.02" r="3.6" fill="#4a66d9" />
<circle cx="283.20" cy="1108.64" r="3.6" fill="#6dc9f2" />
<circle cx="226.50" cy="1072.66" r="3.6" fill="#4a66d9" />
<circle cx="283.20" cy="1150.41" r="3.6" fill="#6dc9f2" />
<circle cx="226.50" cy="1083.11" r="3.6" fill="#4a66d9" />
<circle cx="283.20" cy="1113.28" r="3.6" fill="#6dc9f2" />
<circle cx="226.50" cy="1087.75" r="3.6" fill="#4a66d9" />
<circle cx="283.20" cy="1126.04" r="3.6" fill="#6dc9f2" />
<path d="M126.7,1027 L126.7,1022.8 L183.4,1022.8 L183.4,1027" fill="none" stroke="#000" stroke-width="1.3"/>
<text x="155.05" y="1015.50" font-size="13" text-anchor="middle" fill="#000" >n.s.</text>
<path d="M226.5,1027 L226.5,1022.8 L283.2,1022.8 L283.2,1027" fill="none" stroke="#000" stroke-width="1.3"/>
<text x="254.85" y="1023.50" font-size="22" text-anchor="middle" fill="#000" >**</text>
<line x1="241.50" y1="1194.00" x2="253.80" y2="1194.00" stroke="#4a66d9" stroke-width="3" />
<line x1="241.50" y1="1214.60" x2="253.80" y2="1214.60" stroke="#6dc9f2" stroke-width="3" />
<text x="257.00" y="1200.00" font-size="17.5" text-anchor="start" fill="#000" >Lost OL</text>
<text x="257.00" y="1220.30" font-size="17.5" text-anchor="start" fill="#000" >New OL</text>
<text x="395.30" y="991.80" font-size="36" text-anchor="start" fill="#000" >I</text>
<line x1="484.00" y1="1039.40" x2="771.70" y2="1039.40" stroke="#000" stroke-width="1.8" stroke-dasharray="2,2"/>
<line x1="484.00" y1="1000.75" x2="484.00" y2="1233.55" stroke="#000" stroke-width="1.5" />
<line x1="483.25" y1="1232.80" x2="771.70" y2="1232.80" stroke="#000" stroke-width="1.5" />
<line x1="478.00" y1="1000.72" x2="484.00" y2="1000.72" stroke="#000" stroke-width="1.5" />
<text x="474.50" y="1008.32" font-size="22" text-anchor="end" fill="#000" >120</text>
<line x1="478.00" y1="1058.74" x2="484.00" y2="1058.74" stroke="#000" stroke-width="1.5" />
<text x="474.50" y="1066.34" font-size="22" text-anchor="end" fill="#000" >90</text>
<line x1="478.00" y1="1116.76" x2="484.00" y2="1116.76" stroke="#000" stroke-width="1.5" />
<text x="474.50" y="1124.36" font-size="22" text-anchor="end" fill="#000" >60</text>
<line x1="478.00" y1="1174.78" x2="484.00" y2="1174.78" stroke="#000" stroke-width="1.5" />
<text x="474.50" y="1182.38" font-size="22" text-anchor="end" fill="#000" >30</text>
<line x1="478.00" y1="1232.80" x2="484.00" y2="1232.80" stroke="#000" stroke-width="1.5" />
<text x="474.50" y="1240.40" font-size="22" text-anchor="end" fill="#000" >0</text>
<line x1="484.35" y1="1232.80" x2="484.35" y2="1239.30" stroke="#000" stroke-width="1.5" />
<text x="484.35" y="1260.00" font-size="22" text-anchor="middle" fill="#000" >-25</text>
<line x1="580.25" y1="1232.80" x2="580.25" y2="1239.30" stroke="#000" stroke-width="1.5" />
<text x="580.25" y="1260.00" font-size="22" text-anchor="middle" fill="#000" >0</text>
<line x1="676.15" y1="1232.80" x2="676.15" y2="1239.30" stroke="#000" stroke-width="1.5" />
<text x="676.15" y="1260.00" font-size="22" text-anchor="middle" fill="#000" >25</text>
<line x1="772.05" y1="1232.80" x2="772.05" y2="1239.30" stroke="#000" stroke-width="1.5" />
<text x="772.05" y="1260.00" font-size="22" text-anchor="middle" fill="#000" >50</text>
<text x="628.20" y="1291.00" font-size="22" text-anchor="middle" fill="#000" >Days</text>
<text x="492.50" y="1203.80" font-size="17.5" text-anchor="start" fill="#000" >Cuprizone</text>
<rect x="484" y="1209" width="96.2" height="4" fill="#fddc9c"/>
<text transform="translate(433.60,1116.80) rotate(-90)" x="0" y="0" font-size="22" text-anchor="middle" fill="#000">OL no. (%)</text>
<polyline points="484.4,1039.4 492.0,1039.4 499.7,1039.4 503.5,1039.4 511.2,1039.7 518.9,1039.8 530.4,1040.8 538.1,1040.9 545.7,1041.6 553.4,1041.9 564.9,1043.0 580.2,1051.2 587.9,1052.9 622.4,1043.7 634.0,1040.9 649.3,1037.4 668.5,1033.3 714.5,1025.6 749.0,1022.6" stroke="#000" stroke-width="1.3" fill="none" />
<circle cx="484.35" cy="1039.40" r="2.0" fill="#000" />
<circle cx="492.02" cy="1039.40" r="2.0" fill="#000" />
<circle cx="499.69" cy="1039.40" r="2.0" fill="#000" />
<circle cx="503.53" cy="1039.40" r="2.0" fill="#000" />
<circle cx="511.20" cy="1039.72" r="2.0" fill="#000" />
<circle cx="518.87" cy="1039.77" r="2.0" fill="#000" />
<circle cx="530.38" cy="1040.79" r="2.0" fill="#000" />
<circle cx="538.05" cy="1040.86" r="2.0" fill="#000" />
<circle cx="545.73" cy="1041.63" r="2.0" fill="#000" />
<circle cx="553.40" cy="1041.89" r="2.0" fill="#000" />
<circle cx="564.91" cy="1043.03" r="2.0" fill="#000" />
<circle cx="580.25" cy="1051.24" r="2.0" fill="#000" />
<circle cx="587.92" cy="1052.94" r="2.0" fill="#000" />
<circle cx="622.45" cy="1043.72" r="2.0" fill="#000" />
<circle cx="633.95" cy="1040.90" r="2.0" fill="#000" />
<circle cx="649.30" cy="1037.36" r="2.0" fill="#000" />
<circle cx="668.48" cy="1033.31" r="2.0" fill="#000" />
<circle cx="714.51" cy="1025.59" r="2.0" fill="#000" />
<circle cx="749.03" cy="1022.57" r="2.0" fill="#000" />
<polyline points="484.4,1039.4 492.0,1039.4 526.5,1040.1 538.1,1040.5 557.2,1041.8 564.9,1045.0 580.2,1056.4 587.9,1060.9 595.6,1062.6 607.1,1059.0 622.4,1054.5 634.0,1051.2 649.3,1047.1 660.8,1044.3 668.5,1042.5 722.2,1032.5 749.0,1030.1" stroke="#000" stroke-width="1.3" fill="none" />
<circle cx="484.35" cy="1039.40" r="2.0" fill="#000" />
<circle cx="492.02" cy="1039.40" r="2.0" fill="#000" />
<circle cx="526.55" cy="1040.12" r="2.0" fill="#000" />
<circle cx="538.05" cy="1040.50" r="2.0" fill="#000" />
<circle cx="557.23" cy="1041.76" r="2.0" fill="#000" />
<circle cx="564.91" cy="1045.01" r="2.0" fill="#000" />
<circle cx="580.25" cy="1056.39" r="2.0" fill="#000" />
<circle cx="587.92" cy="1060.92" r="2.0" fill="#000" />
<circle cx="595.59" cy="1062.61" r="2.0" fill="#000" />
<circle cx="607.10" cy="1059.02" r="2.0" fill="#000" />
<circle cx="622.45" cy="1054.46" r="2.0" fill="#000" />
<circle cx="633.95" cy="1051.22" r="2.0" fill="#000" />
<circle cx="649.30" cy="1047.14" r="2.0" fill="#000" />
<circle cx="660.81" cy="1044.28" r="2.0" fill="#000" />
<circle cx="668.48" cy="1042.48" r="2.0" fill="#000" />
<circle cx="722.18" cy="1032.50" r="2.0" fill="#000" />
<circle cx="749.03" cy="1030.12" r="2.0" fill="#000" />
<polyline points="484.4,1039.4 492.0,1039.4 503.5,1039.4 511.2,1039.7 518.9,1040.3 530.4,1040.1 553.4,1041.7 557.2,1042.7 572.6,1052.0 580.2,1058.4 607.1,1072.3 634.0,1063.3 641.6,1060.8 668.5,1052.9 687.7,1047.9 695.3,1046.0 722.2,1040.3 741.4,1037.1 749.0,1036.1 768.2,1034.6" stroke="#000" stroke-width="1.3" fill="none" />
<circle cx="484.35" cy="1039.40" r="2.0" fill="#000" />
<circle cx="492.02" cy="1039.40" r="2.0" fill="#000" />
<circle cx="503.53" cy="1039.40" r="2.0" fill="#000" />
<circle cx="511.20" cy="1039.71" r="2.0" fill="#000" />
<circle cx="518.87" cy="1040.26" r="2.0" fill="#000" />
<circle cx="530.38" cy="1040.06" r="2.0" fill="#000" />
<circle cx="553.40" cy="1041.67" r="2.0" fill="#000" />
<circle cx="557.23" cy="1042.67" r="2.0" fill="#000" />
<circle cx="572.58" cy="1052.02" r="2.0" fill="#000" />
<circle cx="580.25" cy="1058.42" r="2.0" fill="#000" />
<circle cx="607.10" cy="1072.28" r="2.0" fill="#000" />
<circle cx="633.95" cy="1063.25" r="2.0" fill="#000" />
<circle cx="641.63" cy="1060.83" r="2.0" fill="#000" />
<circle cx="668.48" cy="1052.93" r="2.0" fill="#000" />
<circle cx="687.66" cy="1047.90" r="2.0" fill="#000" />
<circle cx="695.33" cy="1046.04" r="2.0" fill="#000" />
<circle cx="722.18" cy="1040.32" r="2.0" fill="#000" />
<circle cx="741.36" cy="1037.13" r="2.0" fill="#000" />
<circle cx="749.03" cy="1036.11" r="2.0" fill="#000" />
<circle cx="768.21" cy="1034.57" r="2.0" fill="#000" />
<polyline points="484.4,1039.4 492.0,1039.4 499.7,1039.4 503.5,1039.4 518.9,1040.0 530.4,1040.9 545.7,1040.8 553.4,1042.9 557.2,1044.8 564.9,1050.4 572.6,1057.7 580.2,1065.6 587.9,1072.9 595.6,1078.5 607.1,1081.9 614.8,1079.1 634.0,1072.2 641.6,1069.6 649.3,1067.1 660.8,1063.4 668.5,1061.1 722.2,1047.5 741.4,1044.1 749.0,1043.0 768.2,1041.3" stroke="#000" stroke-width="1.3" fill="none" />
<circle cx="484.35" cy="1039.40" r="2.0" fill="#000" />
<circle cx="492.02" cy="1039.40" r="2.0" fill="#000" />
<circle cx="499.69" cy="1039.40" r="2.0" fill="#000" />
<circle cx="503.53" cy="1039.40" r="2.0" fill="#000" />
<circle cx="518.87" cy="1039.98" r="2.0" fill="#000" />
<circle cx="530.38" cy="1040.86" r="2.0" fill="#000" />
<circle cx="545.73" cy="1040.84" r="2.0" fill="#000" />
<circle cx="553.40" cy="1042.88" r="2.0" fill="#000" />
<circle cx="557.23" cy="1044.76" r="2.0" fill="#000" />
<circle cx="564.91" cy="1050.36" r="2.0" fill="#000" />
<circle cx="572.58" cy="1057.68" r="2.0" fill="#000" />
<circle cx="580.25" cy="1065.60" r="2.0" fill="#000" />
<circle cx="587.92" cy="1072.92" r="2.0" fill="#000" />
<circle cx="595.59" cy="1078.53" r="2.0" fill="#000" />
<circle cx="607.10" cy="1081.95" r="2.0" fill="#000" />
<circle cx="614.77" cy="1079.08" r="2.0" fill="#000" />
<circle cx="633.95" cy="1072.23" r="2.0" fill="#000" />
<circle cx="641.63" cy="1069.62" r="2.0" fill="#000" />
<circle cx="649.30" cy="1067.09" r="2.0" fill="#000" />
<circle cx="660.81" cy="1063.44" r="2.0" fill="#000" />
<circle cx="668.48" cy="1061.12" r="2.0" fill="#000" />
<circle cx="722.18" cy="1047.54" r="2.0" fill="#000" />
<circle cx="741.36" cy="1044.10" r="2.0" fill="#000" />
<circle cx="749.03" cy="1043.00" r="2.0" fill="#000" />
<circle cx="768.21" cy="1041.33" r="2.0" fill="#000" />
<polyline points="484.4,1039.4 492.0,1039.4 499.7,1039.4 511.2,1039.8 518.9,1039.8 526.5,1040.6 538.1,1040.9 553.4,1041.7 557.2,1043.0 564.9,1047.6 572.6,1054.7 580.2,1063.3 595.6,1080.1 607.1,1088.1 614.8,1089.7 622.4,1086.5 634.0,1081.8 641.6,1078.9 649.3,1076.0 660.8,1072.0 668.5,1069.4 687.7,1063.7 695.3,1061.6 722.2,1055.8 741.4,1053.7" stroke="#000" stroke-width="1.3" fill="none" />
<circle cx="484.35" cy="1039.40" r="2.0" fill="#000" />
<circle cx="492.02" cy="1039.40" r="2.0" fill="#000" />
<circle cx="499.69" cy="1039.40" r="2.0" fill="#000" />
<circle cx="511.20" cy="1039.79" r="2.0" fill="#000" />
<circle cx="518.87" cy="1039.81" r="2.0" fill="#000" />
<circle cx="526.55" cy="1040.63" r="2.0" fill="#000" />
<circle cx="538.05" cy="1040.94" r="2.0" fill="#000" />
<circle cx="553.40" cy="1041.75" r="2.0" fill="#000" />
<circle cx="557.23" cy="1042.97" r="2.0" fill="#000" />
<circle cx="564.91" cy="1047.64" r="2.0" fill="#000" />
<circle cx="572.58" cy="1054.73" r="2.0" fill="#000" />
<circle cx="580.25" cy="1063.28" r="2.0" fill="#000" />
<circle cx="595.59" cy="1080.08" r="2.0" fill="#000" />
<circle cx="607.10" cy="1088.05" r="2.0" fill="#000" />
<circle cx="614.77" cy="1089.68" r="2.0" fill="#000" />
<circle cx="622.45" cy="1086.46" r="2.0" fill="#000" />
<circle cx="633.95" cy="1081.83" r="2.0" fill="#000" />
<circle cx="641.63" cy="1078.87" r="2.0" fill="#000" />
<circle cx="649.30" cy="1076.02" r="2.0" fill="#000" />
<circle cx="660.81" cy="1071.97" r="2.0" fill="#000" />
<circle cx="668.48" cy="1069.43" r="2.0" fill="#000" />
<circle cx="687.66" cy="1063.65" r="2.0" fill="#000" />
<circle cx="695.33" cy="1061.60" r="2.0" fill="#000" />
<circle cx="722.18" cy="1055.83" r="2.0" fill="#000" />
<circle cx="741.36" cy="1053.71" r="2.0" fill="#000" />
<polyline points="484.4,1039.4 492.0,1039.4 499.7,1039.4 503.5,1039.4 511.2,1039.9 518.9,1040.0 538.1,1040.2 545.7,1041.5 557.2,1044.4 564.9,1049.5 580.2,1065.0 622.4,1097.4 649.3,1082.8 660.8,1077.2 668.5,1073.8 687.7,1066.3 714.5,1059.2 722.2,1058.4" stroke="#000" stroke-width="1.3" fill="none" />
<circle cx="484.35" cy="1039.40" r="2.0" fill="#000" />
<circle cx="492.02" cy="1039.40" r="2.0" fill="#000" />
<circle cx="499.69" cy="1039.40" r="2.0" fill="#000" />
<circle cx="503.53" cy="1039.40" r="2.0" fill="#000" />
<circle cx="511.20" cy="1039.87" r="2.0" fill="#000" />
<circle cx="518.87" cy="1039.99" r="2.0" fill="#000" />
<circle cx="538.05" cy="1040.17" r="2.0" fill="#000" />
<circle cx="545.73" cy="1041.52" r="2.0" fill="#000" />
<circle cx="557.23" cy="1044.39" r="2.0" fill="#000" />
<circle cx="564.91" cy="1049.55" r="2.0" fill="#000" />
<circle cx="580.25" cy="1064.99" r="2.0" fill="#000" />
<circle cx="622.45" cy="1097.42" r="2.0" fill="#000" />
<circle cx="649.30" cy="1082.76" r="2.0" fill="#000" />
<circle cx="660.81" cy="1077.21" r="2.0" fill="#000" />
<circle cx="668.48" cy="1073.79" r="2.0" fill="#000" />
<circle cx="687.66" cy="1066.31" r="2.0" fill="#000" />
<circle cx="714.51" cy="1059.19" r="2.0" fill="#000" />
<circle cx="722.18" cy="1058.35" r="2.0" fill="#000" />
<polyline points="484.4,1039.4 492.0,1039.4 503.5,1039.4 511.2,1039.7 518.9,1040.5 526.5,1040.5 530.4,1040.6 538.1,1040.8 545.7,1041.8 557.2,1047.9 564.9,1055.4 572.6,1064.7 580.2,1074.8 587.9,1084.7 595.6,1093.2 607.1,1101.5 614.8,1103.2 634.0,1094.2 641.6,1090.7 660.8,1082.7 668.5,1079.7 687.7,1072.9 695.3,1070.4 741.4,1059.9 749.0,1059.3" stroke="#000" stroke-width="1.3" fill="none" />
<circle cx="484.35" cy="1039.40" r="2.0" fill="#000" />
<circle cx="492.02" cy="1039.40" r="2.0" fill="#000" />
<circle cx="503.53" cy="1039.40" r="2.0" fill="#000" />
<circle cx="511.20" cy="1039.68" r="2.0" fill="#000" />
<circle cx="518.87" cy="1040.54" r="2.0" fill="#000" />
<circle cx="526.55" cy="1040.53" r="2.0" fill="#000" />
<circle cx="530.38" cy="1040.60" r="2.0" fill="#000" />
<circle cx="538.05" cy="1040.77" r="2.0" fill="#000" />
<circle cx="545.73" cy="1041.76" r="2.0" fill="#000" />
<circle cx="557.23" cy="1047.86" r="2.0" fill="#000" />
<circle cx="564.91" cy="1055.35" r="2.0" fill="#000" />
<circle cx="572.58" cy="1064.68" r="2.0" fill="#000" />
<circle cx="580.25" cy="1074.83" r="2.0" fill="#000" />
<circle cx="587.92" cy="1084.71" r="2.0" fill="#000" />
<circle cx="595.59" cy="1093.24" r="2.0" fill="#000" />
<circle cx="607.10" cy="1101.55" r="2.0" fill="#000" />
<circle cx="614.77" cy="1103.22" r="2.0" fill="#000" />
<circle cx="633.95" cy="1094.16" r="2.0" fill="#000" />
<circle cx="641.63" cy="1090.73" r="2.0" fill="#000" />
<circle cx="660.81" cy="1082.71" r="2.0" fill="#000" />
<circle cx="668.48" cy="1079.72" r="2.0" fill="#000" />
<circle cx="687.66" cy="1072.89" r="2.0" fill="#000" />
<circle cx="695.33" cy="1070.43" r="2.0" fill="#000" />
<circle cx="741.36" cy="1059.92" r="2.0" fill="#000" />
<circle cx="749.03" cy="1059.32" r="2.0" fill="#000" />
<polyline points="484.4,1039.4 492.0,1039.4 503.5,1039.4 518.9,1040.2 526.5,1039.9 538.1,1040.5 545.7,1041.2 557.2,1044.1 572.6,1055.3 580.2,1063.2 614.8,1099.7 634.0,1107.1 641.6,1103.2 649.3,1099.4 660.8,1093.9 668.5,1090.4 695.3,1079.2 722.2,1070.0 768.2,1060.7" stroke="#000" stroke-width="1.3" fill="none" />
<circle cx="484.35" cy="1039.40" r="2.0" fill="#000" />
<circle cx="492.02" cy="1039.40" r="2.0" fill="#000" />
<circle cx="503.53" cy="1039.40" r="2.0" fill="#000" />
<circle cx="518.87" cy="1040.15" r="2.0" fill="#000" />
<circle cx="526.55" cy="1039.92" r="2.0" fill="#000" />
<circle cx="538.05" cy="1040.53" r="2.0" fill="#000" />
<circle cx="545.73" cy="1041.20" r="2.0" fill="#000" />
<circle cx="557.23" cy="1044.06" r="2.0" fill="#000" />
<circle cx="572.58" cy="1055.25" r="2.0" fill="#000" />
<circle cx="580.25" cy="1063.20" r="2.0" fill="#000" />
<circle cx="614.77" cy="1099.72" r="2.0" fill="#000" />
<circle cx="633.95" cy="1107.09" r="2.0" fill="#000" />
<circle cx="641.63" cy="1103.17" r="2.0" fill="#000" />
<circle cx="649.30" cy="1099.36" r="2.0" fill="#000" />
<circle cx="660.81" cy="1093.89" r="2.0" fill="#000" />
<circle cx="668.48" cy="1090.39" r="2.0" fill="#000" />
<circle cx="695.33" cy="1079.24" r="2.0" fill="#000" />
<circle cx="722.18" cy="1069.99" r="2.0" fill="#000" />
<circle cx="768.21" cy="1060.67" r="2.0" fill="#000" />
<polyline points="484.4,1039.4 492.0,1039.4 499.7,1039.4 511.2,1039.8 518.9,1039.7 526.5,1040.1 530.4,1040.9 538.1,1041.3 545.7,1041.4 553.4,1041.7 557.2,1042.7 564.9,1046.9 572.6,1053.3 595.6,1081.1 614.8,1102.5 622.4,1107.8 634.0,1111.0 649.3,1103.4 660.8,1098.4 687.7,1088.6 695.3,1086.5 714.5,1083.3" stroke="#000" stroke-width="1.3" fill="none" />
<circle cx="484.35" cy="1039.40" r="2.0" fill="#000" />
<circle cx="492.02" cy="1039.40" r="2.0" fill="#000" />
<circle cx="499.69" cy="1039.40" r="2.0" fill="#000" />
<circle cx="511.20" cy="1039.82" r="2.0" fill="#000" />
<circle cx="518.87" cy="1039.74" r="2.0" fill="#000" />
<circle cx="526.55" cy="1040.07" r="2.0" fill="#000" />
<circle cx="530.38" cy="1040.88" r="2.0" fill="#000" />
<circle cx="538.05" cy="1041.26" r="2.0" fill="#000" />
<circle cx="545.73" cy="1041.43" r="2.0" fill="#000" />
<circle cx="553.40" cy="1041.69" r="2.0" fill="#000" />
<circle cx="557.23" cy="1042.74" r="2.0" fill="#000" />
<circle cx="564.91" cy="1046.86" r="2.0" fill="#000" />
<circle cx="572.58" cy="1053.35" r="2.0" fill="#000" />
<circle cx="595.59" cy="1081.10" r="2.0" fill="#000" />
<circle cx="614.77" cy="1102.46" r="2.0" fill="#000" />
<circle cx="622.45" cy="1107.81" r="2.0" fill="#000" />
<circle cx="633.95" cy="1110.96" r="2.0" fill="#000" />
<circle cx="649.30" cy="1103.45" r="2.0" fill="#000" />
<circle cx="660.81" cy="1098.36" r="2.0" fill="#000" />
<circle cx="687.66" cy="1088.62" r="2.0" fill="#000" />
<circle cx="695.33" cy="1086.51" r="2.0" fill="#000" />
<circle cx="714.51" cy="1083.30" r="2.0" fill="#000" />
<polyline points="484.4,1039.4 492.0,1039.4 499.7,1039.4 503.5,1039.4 511.2,1039.7 526.5,1040.7 538.1,1041.1 545.7,1041.9 553.4,1046.7 572.6,1073.8 587.9,1098.7 595.6,1107.5 607.1,1112.9 614.8,1109.3 641.6,1098.9 668.5,1093.2" stroke="#000" stroke-width="1.3" fill="none" />
<circle cx="484.35" cy="1039.40" r="2.0" fill="#000" />
<circle cx="492.02" cy="1039.40" r="2.0" fill="#000" />
<circle cx="499.69" cy="1039.40" r="2.0" fill="#000" />
<circle cx="503.53" cy="1039.40" r="2.0" fill="#000" />
<circle cx="511.20" cy="1039.70" r="2.0" fill="#000" />
<circle cx="526.55" cy="1040.65" r="2.0" fill="#000" />
<circle cx="538.05" cy="1041.08" r="2.0" fill="#000" />
<circle cx="545.73" cy="1041.94" r="2.0" fill="#000" />
<circle cx="553.40" cy="1046.69" r="2.0" fill="#000" />
<circle cx="572.58" cy="1073.81" r="2.0" fill="#000" />
<circle cx="587.92" cy="1098.67" r="2.0" fill="#000" />
<circle cx="595.59" cy="1107.53" r="2.0" fill="#000" />
<circle cx="607.10" cy="1112.89" r="2.0" fill="#000" />
<circle cx="614.77" cy="1109.31" r="2.0" fill="#000" />
<circle cx="641.63" cy="1098.87" r="2.0" fill="#000" />
<circle cx="668.48" cy="1093.17" r="2.0" fill="#000" />
<polyline points="484.4,1039.4 492.0,1039.4 503.5,1039.4 518.9,1039.8 526.5,1040.0 530.4,1041.2 538.1,1041.2 545.7,1040.7 557.2,1045.4 572.6,1061.9 580.2,1073.1 607.1,1109.6 614.8,1114.9 622.4,1116.8 634.0,1111.8 641.6,1108.6 660.8,1101.1 695.3,1089.6 722.2,1082.9 741.4,1079.8 749.0,1079.2" stroke="#000" stroke-width="1.3" fill="none" />
<circle cx="484.35" cy="1039.40" r="2.0" fill="#000" />
<circle cx="492.02" cy="1039.40" r="2.0" fill="#000" />
<circle cx="503.53" cy="1039.40" r="2.0" fill="#000" />
<circle cx="518.87" cy="1039.76" r="2.0" fill="#000" />
<circle cx="526.55" cy="1040.04" r="2.0" fill="#000" />
<circle cx="530.38" cy="1041.18" r="2.0" fill="#000" />
<circle cx="538.05" cy="1041.24" r="2.0" fill="#000" />
<circle cx="545.73" cy="1040.72" r="2.0" fill="#000" />
<circle cx="557.23" cy="1045.44" r="2.0" fill="#000" />
<circle cx="572.58" cy="1061.93" r="2.0" fill="#000" />
<circle cx="580.25" cy="1073.15" r="2.0" fill="#000" />
<circle cx="607.10" cy="1109.56" r="2.0" fill="#000" />
<circle cx="614.77" cy="1114.91" r="2.0" fill="#000" />
<circle cx="622.45" cy="1116.76" r="2.0" fill="#000" />
<circle cx="633.95" cy="1111.76" r="2.0" fill="#000" />
<circle cx="641.63" cy="1108.56" r="2.0" fill="#000" />
<circle cx="660.81" cy="1101.07" r="2.0" fill="#000" />
<circle cx="695.33" cy="1089.61" r="2.0" fill="#000" />
<circle cx="722.18" cy="1082.91" r="2.0" fill="#000" />
<circle cx="741.36" cy="1079.80" r="2.0" fill="#000" />
<circle cx="749.03" cy="1079.24" r="2.0" fill="#000" />
<polyline points="484.4,1039.4 492.0,1039.4 499.7,1039.4 503.5,1039.4 518.9,1039.8 526.5,1040.1 545.7,1041.9 557.2,1049.9 572.6,1072.0 580.2,1085.3 587.9,1098.3 595.6,1109.5 607.1,1120.4 614.8,1122.6 622.4,1119.8 634.0,1115.8 641.6,1113.2 649.3,1110.6 714.5,1092.8 722.2,1091.2 741.4,1087.8 768.2,1085.0" stroke="#000" stroke-width="1.3" fill="none" />
<circle cx="484.35" cy="1039.40" r="2.0" fill="#000" />
<circle cx="492.02" cy="1039.40" r="2.0" fill="#000" />
<circle cx="499.69" cy="1039.40" r="2.0" fill="#000" />
<circle cx="503.53" cy="1039.40" r="2.0" fill="#000" />
<circle cx="518.87" cy="1039.83" r="2.0" fill="#000" />
<circle cx="526.55" cy="1040.11" r="2.0" fill="#000" />
<circle cx="545.73" cy="1041.89" r="2.0" fill="#000" />
<circle cx="557.23" cy="1049.90" r="2.0" fill="#000" />
<circle cx="572.58" cy="1071.98" r="2.0" fill="#000" />
<circle cx="580.25" cy="1085.30" r="2.0" fill="#000" />
<circle cx="587.92" cy="1098.26" r="2.0" fill="#000" />
<circle cx="595.59" cy="1109.46" r="2.0" fill="#000" />
<circle cx="607.10" cy="1120.36" r="2.0" fill="#000" />
<circle cx="614.77" cy="1122.56" r="2.0" fill="#000" />
<circle cx="622.45" cy="1119.78" r="2.0" fill="#000" />
<circle cx="633.95" cy="1115.75" r="2.0" fill="#000" />
<circle cx="641.63" cy="1113.16" r="2.0" fill="#000" />
<circle cx="649.30" cy="1110.64" r="2.0" fill="#000" />
<circle cx="714.51" cy="1092.81" r="2.0" fill="#000" />
<circle cx="722.18" cy="1091.21" r="2.0" fill="#000" />
<circle cx="741.36" cy="1087.79" r="2.0" fill="#000" />
<circle cx="768.21" cy="1085.04" r="2.0" fill="#000" />
<polyline points="484.4,1039.4 492.0,1039.4 499.7,1039.4 503.5,1039.4 553.4,1042.1 564.9,1052.4 572.6,1064.9 580.2,1080.0 587.9,1095.5 595.6,1109.5 607.1,1123.6 614.8,1126.4 634.0,1119.2 649.3,1113.8 660.8,1110.0 741.4,1091.7 749.0,1091.2" stroke="#000" stroke-width="1.3" fill="none" />
<circle cx="484.35" cy="1039.40" r="2.0" fill="#000" />
<circle cx="492.02" cy="1039.40" r="2.0" fill="#000" />
<circle cx="499.69" cy="1039.40" r="2.0" fill="#000" />
<circle cx="503.53" cy="1039.40" r="2.0" fill="#000" />
<circle cx="553.40" cy="1042.06" r="2.0" fill="#000" />
<circle cx="564.91" cy="1052.44" r="2.0" fill="#000" />
<circle cx="572.58" cy="1064.92" r="2.0" fill="#000" />
<circle cx="580.25" cy="1079.96" r="2.0" fill="#000" />
<circle cx="587.92" cy="1095.53" r="2.0" fill="#000" />
<circle cx="595.59" cy="1109.52" r="2.0" fill="#000" />
<circle cx="607.10" cy="1123.56" r="2.0" fill="#000" />
<circle cx="614.77" cy="1126.43" r="2.0" fill="#000" />
<circle cx="633.95" cy="1119.16" r="2.0" fill="#000" />
<circle cx="649.30" cy="1113.77" r="2.0" fill="#000" />
<circle cx="660.81" cy="1109.98" r="2.0" fill="#000" />
<circle cx="741.36" cy="1091.71" r="2.0" fill="#000" />
<circle cx="749.03" cy="1091.23" r="2.0" fill="#000" />
<polyline points="484.4,1039.4 492.0,1039.4 511.2,1039.6 518.9,1039.9 526.5,1040.3 530.4,1040.3 538.1,1040.2 557.2,1046.3 564.9,1054.6 580.2,1079.7 587.9,1093.9 595.6,1107.4 607.1,1123.6 622.4,1132.2 634.0,1121.4 641.6,1115.1 649.3,1109.6 668.5,1101.3" stroke="#000" stroke-width="1.3" fill="none" />
<circle cx="484.35" cy="1039.40" r="2.0" fill="#000" />
<circle cx="492.02" cy="1039.40" r="2.0" fill="#000" />
<circle cx="511.20" cy="1039.58" r="2.0" fill="#000" />
<circle cx="518.87" cy="1039.91" r="2.0" fill="#000" />
<circle cx="526.55" cy="1040.33" r="2.0" fill="#000" />
<circle cx="530.38" cy="1040.35" r="2.0" fill="#000" />
<circle cx="538.05" cy="1040.20" r="2.0" fill="#000" />
<circle cx="557.23" cy="1046.29" r="2.0" fill="#000" />
<circle cx="564.91" cy="1054.65" r="2.0" fill="#000" />
<circle cx="580.25" cy="1079.67" r="2.0" fill="#000" />
<circle cx="587.92" cy="1093.89" r="2.0" fill="#000" />
<circle cx="595.59" cy="1107.42" r="2.0" fill="#000" />
<circle cx="607.10" cy="1123.55" r="2.0" fill="#000" />
<circle cx="622.45" cy="1132.23" r="2.0" fill="#000" />
<circle cx="633.95" cy="1121.39" r="2.0" fill="#000" />
<circle cx="641.63" cy="1115.07" r="2.0" fill="#000" />
<circle cx="649.30" cy="1109.61" r="2.0" fill="#000" />
<circle cx="668.48" cy="1101.29" r="2.0" fill="#000" />
<polyline points="484.4,1039.4 492.0,1039.4 503.5,1039.4 511.2,1039.6 518.9,1040.1 545.7,1041.7 553.4,1044.9 557.2,1047.7 564.9,1055.2 587.9,1088.7 595.6,1101.0 607.1,1117.6 614.8,1126.3 622.4,1132.5 634.0,1136.1 641.6,1133.7 660.8,1128.1 668.5,1126.0 741.4,1110.6 749.0,1109.6 768.2,1108.1" stroke="#000" stroke-width="1.3" fill="none" />
<circle cx="484.35" cy="1039.40" r="2.0" fill="#000" />
<circle cx="492.02" cy="1039.40" r="2.0" fill="#000" />
<circle cx="503.53" cy="1039.40" r="2.0" fill="#000" />
<circle cx="511.20" cy="1039.61" r="2.0" fill="#000" />
<circle cx="518.87" cy="1040.10" r="2.0" fill="#000" />
<circle cx="545.73" cy="1041.74" r="2.0" fill="#000" />
<circle cx="553.40" cy="1044.94" r="2.0" fill="#000" />
<circle cx="557.23" cy="1047.68" r="2.0" fill="#000" />
<circle cx="564.91" cy="1055.21" r="2.0" fill="#000" />
<circle cx="587.92" cy="1088.72" r="2.0" fill="#000" />
<circle cx="595.59" cy="1100.98" r="2.0" fill="#000" />
<circle cx="607.10" cy="1117.56" r="2.0" fill="#000" />
<circle cx="614.77" cy="1126.31" r="2.0" fill="#000" />
<circle cx="622.45" cy="1132.49" r="2.0" fill="#000" />
<circle cx="633.95" cy="1136.10" r="2.0" fill="#000" />
<circle cx="641.63" cy="1133.73" r="2.0" fill="#000" />
<circle cx="660.81" cy="1128.12" r="2.0" fill="#000" />
<circle cx="668.48" cy="1126.01" r="2.0" fill="#000" />
<circle cx="741.36" cy="1110.57" r="2.0" fill="#000" />
<circle cx="749.03" cy="1109.57" r="2.0" fill="#000" />
<circle cx="768.21" cy="1108.06" r="2.0" fill="#000" />
<polyline points="484.4,1039.4 503.5,1039.4 530.4,1041.3 545.7,1044.4 557.2,1059.3 564.9,1074.4 572.6,1091.6 580.2,1108.8 587.9,1123.9 595.6,1135.2 607.1,1141.9 614.8,1136.8 622.4,1131.8 634.0,1124.7 641.6,1120.1 649.3,1115.7 668.5,1105.4 687.7,1096.2 749.0,1078.1" stroke="#000" stroke-width="1.3" fill="none" />
<circle cx="484.35" cy="1039.40" r="2.0" fill="#000" />
<circle cx="503.53" cy="1039.40" r="2.0" fill="#000" />
<circle cx="530.38" cy="1041.28" r="2.0" fill="#000" />
<circle cx="545.73" cy="1044.37" r="2.0" fill="#000" />
<circle cx="557.23" cy="1059.30" r="2.0" fill="#000" />
<circle cx="564.91" cy="1074.42" r="2.0" fill="#000" />
<circle cx="572.58" cy="1091.62" r="2.0" fill="#000" />
<circle cx="580.25" cy="1108.82" r="2.0" fill="#000" />
<circle cx="587.92" cy="1123.94" r="2.0" fill="#000" />
<circle cx="595.59" cy="1135.17" r="2.0" fill="#000" />
<circle cx="607.10" cy="1141.90" r="2.0" fill="#000" />
<circle cx="614.77" cy="1136.80" r="2.0" fill="#000" />
<circle cx="622.45" cy="1131.84" r="2.0" fill="#000" />
<circle cx="633.95" cy="1124.68" r="2.0" fill="#000" />
<circle cx="641.63" cy="1120.10" r="2.0" fill="#000" />
<circle cx="649.30" cy="1115.67" r="2.0" fill="#000" />
<circle cx="668.48" cy="1105.37" r="2.0" fill="#000" />
<circle cx="687.66" cy="1096.23" r="2.0" fill="#000" />
<circle cx="749.03" cy="1078.08" r="2.0" fill="#000" />
<polyline points="484.4,1039.4 511.2,1039.8 518.9,1040.7 526.5,1040.8 530.4,1040.2 545.7,1044.5 553.4,1053.6 572.6,1093.6 580.2,1111.4 587.9,1127.1 607.1,1145.8 622.4,1135.8 634.0,1128.7 641.6,1124.2 649.3,1119.9 687.7,1101.0 695.3,1097.9 714.5,1091.2 722.2,1089.1 741.4,1085.8" stroke="#000" stroke-width="1.3" fill="none" />
<circle cx="484.35" cy="1039.40" r="2.0" fill="#000" />
<circle cx="511.20" cy="1039.83" r="2.0" fill="#000" />
<circle cx="518.87" cy="1040.66" r="2.0" fill="#000" />
<circle cx="526.55" cy="1040.79" r="2.0" fill="#000" />
<circle cx="530.38" cy="1040.24" r="2.0" fill="#000" />
<circle cx="545.73" cy="1044.48" r="2.0" fill="#000" />
<circle cx="553.40" cy="1053.55" r="2.0" fill="#000" />
<circle cx="572.58" cy="1093.55" r="2.0" fill="#000" />
<circle cx="580.25" cy="1111.41" r="2.0" fill="#000" />
<circle cx="587.92" cy="1127.12" r="2.0" fill="#000" />
<circle cx="607.10" cy="1145.77" r="2.0" fill="#000" />
<circle cx="622.45" cy="1135.79" r="2.0" fill="#000" />
<circle cx="633.95" cy="1128.72" r="2.0" fill="#000" />
<circle cx="641.63" cy="1124.20" r="2.0" fill="#000" />
<circle cx="649.30" cy="1119.86" r="2.0" fill="#000" />
<circle cx="687.66" cy="1100.98" r="2.0" fill="#000" />
<circle cx="695.33" cy="1097.85" r="2.0" fill="#000" />
<circle cx="714.51" cy="1091.18" r="2.0" fill="#000" />
<circle cx="722.18" cy="1089.05" r="2.0" fill="#000" />
<circle cx="741.36" cy="1085.82" r="2.0" fill="#000" />
<polyline points="484.4,1039.4 492.0,1039.4 503.5,1039.4 518.9,1039.9 526.5,1040.3 530.4,1040.3 538.1,1042.1 564.9,1082.2 572.6,1100.0 580.2,1117.2 595.6,1143.1 607.1,1149.6 614.8,1141.8 622.4,1134.9 634.0,1126.2 641.6,1122.0 649.3,1119.7" stroke="#000" stroke-width="1.3" fill="none" />
<circle cx="484.35" cy="1039.40" r="2.0" fill="#000" />
<circle cx="492.02" cy="1039.40" r="2.0" fill="#000" />
<circle cx="503.53" cy="1039.40" r="2.0" fill="#000" />
<circle cx="518.87" cy="1039.87" r="2.0" fill="#000" />
<circle cx="526.55" cy="1040.31" r="2.0" fill="#000" />
<circle cx="530.38" cy="1040.34" r="2.0" fill="#000" />
<circle cx="538.05" cy="1042.07" r="2.0" fill="#000" />
<circle cx="564.91" cy="1082.19" r="2.0" fill="#000" />
<circle cx="572.58" cy="1099.96" r="2.0" fill="#000" />
<circle cx="580.25" cy="1117.24" r="2.0" fill="#000" />
<circle cx="595.59" cy="1143.11" r="2.0" fill="#000" />
<circle cx="607.10" cy="1149.64" r="2.0" fill="#000" />
<circle cx="614.77" cy="1141.85" r="2.0" fill="#000" />
<circle cx="622.45" cy="1134.88" r="2.0" fill="#000" />
<circle cx="633.95" cy="1126.23" r="2.0" fill="#000" />
<circle cx="641.63" cy="1121.99" r="2.0" fill="#000" />
<circle cx="649.30" cy="1119.66" r="2.0" fill="#000" />
<polyline points="484.4,1039.4 492.0,1039.4 503.5,1039.4 518.9,1040.3 526.5,1040.6 530.4,1041.1 538.1,1040.8 545.7,1042.1 557.2,1052.5 564.9,1065.4 580.2,1098.9 614.8,1147.7 622.4,1138.0 634.0,1125.9 641.6,1120.0 649.3,1116.8" stroke="#000" stroke-width="1.3" fill="none" />
<circle cx="484.35" cy="1039.40" r="2.0" fill="#000" />
<circle cx="492.02" cy="1039.40" r="2.0" fill="#000" />
<circle cx="503.53" cy="1039.40" r="2.0" fill="#000" />
<circle cx="518.87" cy="1040.29" r="2.0" fill="#000" />
<circle cx="526.55" cy="1040.58" r="2.0" fill="#000" />
<circle cx="530.38" cy="1041.14" r="2.0" fill="#000" />
<circle cx="538.05" cy="1040.85" r="2.0" fill="#000" />
<circle cx="545.73" cy="1042.06" r="2.0" fill="#000" />
<circle cx="557.23" cy="1052.55" r="2.0" fill="#000" />
<circle cx="564.91" cy="1065.43" r="2.0" fill="#000" />
<circle cx="580.25" cy="1098.91" r="2.0" fill="#000" />
<circle cx="614.77" cy="1147.70" r="2.0" fill="#000" />
<circle cx="622.45" cy="1137.99" r="2.0" fill="#000" />
<circle cx="633.95" cy="1125.93" r="2.0" fill="#000" />
<circle cx="641.63" cy="1120.00" r="2.0" fill="#000" />
<circle cx="649.30" cy="1116.76" r="2.0" fill="#000" />
<polyline points="484.4,1039.4 492.0,1039.4 499.7,1039.4 526.5,1040.1 530.4,1040.9 538.1,1041.8 545.7,1042.3 557.2,1056.3 572.6,1089.8 587.9,1116.7 595.6,1120.6 607.1,1110.6 614.8,1104.2 622.4,1098.0 634.0,1089.1 641.6,1083.5 649.3,1078.2 668.5,1066.0 687.7,1055.9 714.5,1046.3 722.2,1045.2" stroke="#000" stroke-width="1.3" fill="none" />
<circle cx="484.35" cy="1039.40" r="2.0" fill="#000" />
<circle cx="492.02" cy="1039.40" r="2.0" fill="#000" />
<circle cx="499.69" cy="1039.40" r="2.0" fill="#000" />
<circle cx="526.55" cy="1040.14" r="2.0" fill="#000" />
<circle cx="530.38" cy="1040.94" r="2.0" fill="#000" />
<circle cx="538.05" cy="1041.83" r="2.0" fill="#000" />
<circle cx="545.73" cy="1042.33" r="2.0" fill="#000" />
<circle cx="557.23" cy="1056.26" r="2.0" fill="#000" />
<circle cx="572.58" cy="1089.80" r="2.0" fill="#000" />
<circle cx="587.92" cy="1116.70" r="2.0" fill="#000" />
<circle cx="595.59" cy="1120.63" r="2.0" fill="#000" />
<circle cx="607.10" cy="1110.58" r="2.0" fill="#000" />
<circle cx="614.77" cy="1104.15" r="2.0" fill="#000" />
<circle cx="622.45" cy="1097.95" r="2.0" fill="#000" />
<circle cx="633.95" cy="1089.09" r="2.0" fill="#000" />
<circle cx="641.63" cy="1083.49" r="2.0" fill="#000" />
<circle cx="649.30" cy="1078.15" r="2.0" fill="#000" />
<circle cx="668.48" cy="1066.04" r="2.0" fill="#000" />
<circle cx="687.66" cy="1055.94" r="2.0" fill="#000" />
<circle cx="714.51" cy="1046.33" r="2.0" fill="#000" />
<circle cx="722.18" cy="1045.20" r="2.0" fill="#000" />
<polyline points="484.4,1039.4 492.0,1039.4 499.7,1039.4 511.2,1039.8 518.9,1040.2 526.5,1040.1 530.4,1040.2 538.1,1041.1 564.9,1055.5 572.6,1067.0 587.9,1091.0 595.6,1099.8 607.1,1105.2 622.4,1096.0 634.0,1089.5 641.6,1085.3 649.3,1081.3 660.8,1075.6 668.5,1071.9 687.7,1063.6 695.3,1060.6 741.4,1047.9 749.0,1047.1" stroke="#000" stroke-width="1.3" fill="none" />
<circle cx="484.35" cy="1039.40" r="2.0" fill="#000" />
<circle cx="492.02" cy="1039.40" r="2.0" fill="#000" />
<circle cx="499.69" cy="1039.40" r="2.0" fill="#000" />
<circle cx="511.20" cy="1039.77" r="2.0" fill="#000" />
<circle cx="518.87" cy="1040.16" r="2.0" fill="#000" />
<circle cx="526.55" cy="1040.08" r="2.0" fill="#000" />
<circle cx="530.38" cy="1040.20" r="2.0" fill="#000" />
<circle cx="538.05" cy="1041.10" r="2.0" fill="#000" />
<circle cx="564.91" cy="1055.52" r="2.0" fill="#000" />
<circle cx="572.58" cy="1067.02" r="2.0" fill="#000" />
<circle cx="587.92" cy="1090.97" r="2.0" fill="#000" />
<circle cx="595.59" cy="1099.78" r="2.0" fill="#000" />
<circle cx="607.10" cy="1105.16" r="2.0" fill="#000" />
<circle cx="622.45" cy="1096.01" r="2.0" fill="#000" />
<circle cx="633.95" cy="1089.50" r="2.0" fill="#000" />
<circle cx="641.63" cy="1085.33" r="2.0" fill="#000" />
<circle cx="649.30" cy="1081.31" r="2.0" fill="#000" />
<circle cx="660.81" cy="1075.57" r="2.0" fill="#000" />
<circle cx="668.48" cy="1071.94" r="2.0" fill="#000" />
<circle cx="687.66" cy="1063.63" r="2.0" fill="#000" />
<circle cx="695.33" cy="1060.64" r="2.0" fill="#000" />
<circle cx="741.36" cy="1047.87" r="2.0" fill="#000" />
<circle cx="749.03" cy="1047.14" r="2.0" fill="#000" />
<polyline points="484.4,1039.4 492.0,1039.4 499.7,1039.4 511.2,1039.8 518.9,1040.2 526.5,1040.8 538.1,1041.5 545.7,1041.4 553.4,1041.9 564.9,1050.3 572.6,1060.6 580.2,1073.4 622.4,1126.4 634.0,1113.4 641.6,1109.0" stroke="#000" stroke-width="1.3" fill="none" />
<circle cx="484.35" cy="1039.40" r="2.0" fill="#000" />
<circle cx="492.02" cy="1039.40" r="2.0" fill="#000" />
<circle cx="499.69" cy="1039.40" r="2.0" fill="#000" />
<circle cx="511.20" cy="1039.82" r="2.0" fill="#000" />
<circle cx="518.87" cy="1040.17" r="2.0" fill="#000" />
<circle cx="526.55" cy="1040.77" r="2.0" fill="#000" />
<circle cx="538.05" cy="1041.51" r="2.0" fill="#000" />
<circle cx="545.73" cy="1041.36" r="2.0" fill="#000" />
<circle cx="553.40" cy="1041.91" r="2.0" fill="#000" />
<circle cx="564.91" cy="1050.31" r="2.0" fill="#000" />
<circle cx="572.58" cy="1060.61" r="2.0" fill="#000" />
<circle cx="580.25" cy="1073.44" r="2.0" fill="#000" />
<circle cx="622.45" cy="1126.43" r="2.0" fill="#000" />
<circle cx="633.95" cy="1113.43" r="2.0" fill="#000" />
<circle cx="641.63" cy="1109.02" r="2.0" fill="#000" />
<text x="866.00" y="992.00" font-size="36" text-anchor="start" fill="#000" >J</text>
<text x="1070.40" y="987.70" font-size="22" text-anchor="middle" fill="#000" >7 weeks</text>
<line x1="954.90" y1="1039.92" x2="1187.30" y2="1039.92" stroke="#000" stroke-width="2" stroke-dasharray="2,2"/>
<path d="M954.9,1001.4 960.9,1001.4 966.8,1001.4 972.8,1001.4 978.7,1001.4 984.7,1001.4 990.7,1003.2 996.6,1006.6 1002.6,1009.9 1008.5,1013.3 1014.5,1016.6 1020.4,1019.9 1026.4,1023.1 1032.4,1026.3 1038.3,1029.5 1044.3,1032.5 1050.2,1035.5 1056.2,1038.4 1062.2,1041.2 1068.1,1043.9 1074.1,1046.4 1080.0,1048.8 1086.0,1051.1 1092.0,1053.3 1097.9,1055.4 1103.9,1057.4 1109.8,1059.4 1115.8,1061.3 1121.7,1063.2 1127.7,1065.0 1133.7,1066.8 1139.6,1068.6 1145.6,1070.3 1151.5,1072.0 1157.5,1073.7 1163.5,1075.3 1169.4,1077.0 1175.4,1078.6 1181.3,1080.2 1187.3,1081.8 1187.3,1119.4 1181.3,1116.2 1175.4,1113.0 1169.4,1109.8 1163.5,1106.7 1157.5,1103.6 1151.5,1100.4 1145.6,1097.4 1139.6,1094.3 1133.7,1091.2 1127.7,1088.2 1121.7,1085.3 1115.8,1082.3 1109.8,1079.5 1103.9,1076.7 1097.9,1073.9 1092.0,1071.2 1086.0,1068.7 1080.0,1066.2 1074.1,1063.8 1068.1,1061.5 1062.2,1059.4 1056.2,1057.4 1050.2,1055.5 1044.3,1053.7 1038.3,1052.0 1032.4,1050.3 1026.4,1048.7 1020.4,1047.2 1014.5,1045.7 1008.5,1044.2 1002.6,1042.8 996.6,1041.3 990.7,1039.9 984.7,1038.5 978.7,1037.2 972.8,1035.8 966.8,1034.4 960.9,1033.1 954.9,1031.7Z" fill="#e0e0e0"/>
<line x1="954.90" y1="1007.18" x2="1187.30" y2="1100.58" stroke="#000" stroke-width="2.5" />
<circle cx="992.34" cy="1030.29" r="2.7" fill="#000" />
<circle cx="1024.62" cy="1022.59" r="2.7" fill="#000" />
<circle cx="1023.33" cy="1034.14" r="2.7" fill="#000" />
<circle cx="1025.91" cy="1041.85" r="2.7" fill="#000" />
<circle cx="1116.29" cy="1059.18" r="2.7" fill="#000" />
<circle cx="1121.45" cy="1061.10" r="2.7" fill="#000" />
<circle cx="1134.36" cy="1085.18" r="2.7" fill="#000" />
<circle cx="1138.24" cy="1108.29" r="2.7" fill="#000" />
<circle cx="1156.31" cy="1091.92" r="2.7" fill="#000" />
<circle cx="1158.89" cy="1079.40" r="2.7" fill="#000" />
<line x1="954.90" y1="1001.00" x2="954.90" y2="1233.25" stroke="#000" stroke-width="1.5" />
<line x1="954.15" y1="1232.50" x2="1187.30" y2="1232.50" stroke="#000" stroke-width="1.5" />
<line x1="948.90" y1="1001.40" x2="954.90" y2="1001.40" stroke="#000" stroke-width="1.5" />
<text x="945.40" y="1009.00" font-size="22" text-anchor="end" fill="#000" >120</text>
<line x1="948.90" y1="1059.18" x2="954.90" y2="1059.18" stroke="#000" stroke-width="1.5" />
<text x="945.40" y="1066.78" font-size="22" text-anchor="end" fill="#000" >90</text>
<line x1="948.90" y1="1116.95" x2="954.90" y2="1116.95" stroke="#000" stroke-width="1.5" />
<text x="945.40" y="1124.55" font-size="22" text-anchor="end" fill="#000" >60</text>
<line x1="948.90" y1="1174.73" x2="954.90" y2="1174.73" stroke="#000" stroke-width="1.5" />
<text x="945.40" y="1182.33" font-size="22" text-anchor="end" fill="#000" >30</text>
<line x1="948.90" y1="1232.50" x2="954.90" y2="1232.50" stroke="#000" stroke-width="1.5" />
<text x="945.40" y="1240.10" font-size="22" text-anchor="end" fill="#000" >0</text>
<line x1="954.90" y1="1232.50" x2="954.90" y2="1239.00" stroke="#000" stroke-width="1.5" />
<text x="954.90" y="1260.00" font-size="22" text-anchor="middle" fill="#000" >0</text>
<line x1="1032.37" y1="1232.50" x2="1032.37" y2="1239.00" stroke="#000" stroke-width="1.5" />
<text x="1032.37" y="1260.00" font-size="22" text-anchor="middle" fill="#000" >30</text>
<line x1="1109.83" y1="1232.50" x2="1109.83" y2="1239.00" stroke="#000" stroke-width="1.5" />
<text x="1109.83" y="1260.00" font-size="22" text-anchor="middle" fill="#000" >60</text>
<line x1="1187.30" y1="1232.50" x2="1187.30" y2="1239.00" stroke="#000" stroke-width="1.5" />
<text x="1187.30" y="1260.00" font-size="22" text-anchor="middle" fill="#000" >90</text>
<text x="1071.00" y="1291.00" font-size="22" text-anchor="middle" fill="#000" >Cumul. lost OLs (%)</text>
<text transform="translate(904.00,1117.00) rotate(-90)" x="0" y="0" font-size="22" text-anchor="middle" fill="#000">OL no. (%)</text>
<text x="977.00" y="1200.80" font-size="17.5" text-anchor="start" fill="#000" >R² = 0.81, p = 0.0004</text>
</svg>
</body></html>
